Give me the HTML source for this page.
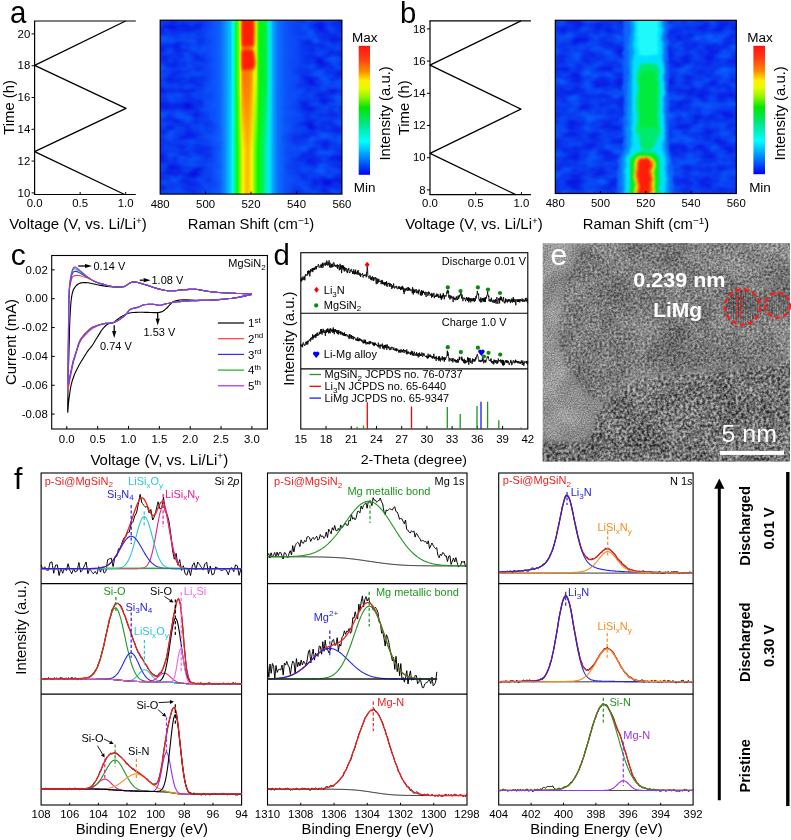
<!DOCTYPE html>
<html><head><meta charset="utf-8"><title>figure</title>
<style>html,body{margin:0;padding:0;background:#fff;} svg{display:block;will-change:transform;} text{font-family:"Liberation Sans", sans-serif;} filter{color-interpolation-filters:sRGB;}</style>
</head><body>
<svg width="791" height="840" viewBox="0 0 791 840" font-family='"Liberation Sans", sans-serif'>
<defs><linearGradient id="ga" gradientUnits="userSpaceOnUse" x1="160.2" y1="0" x2="341.9" y2="0"><stop offset="-0.0011" stop-color="rgb(8,54,240)" stop-opacity="0"/><stop offset="0.1915" stop-color="rgb(8,54,240)" stop-opacity="0"/><stop offset="0.2741" stop-color="rgb(14,80,252)" stop-opacity="0.45"/><stop offset="0.3291" stop-color="rgb(14,100,255)" stop-opacity="0.85"/><stop offset="0.3621" stop-color="rgb(10,150,255)"/><stop offset="0.3869" stop-color="rgb(0,200,255)"/><stop offset="0.3979" stop-color="rgb(0,245,255)"/><stop offset="0.4089" stop-color="rgb(0,255,160)"/><stop offset="0.4172" stop-color="rgb(0,250,40)"/><stop offset="0.4309" stop-color="rgb(90,255,0)"/><stop offset="0.4419" stop-color="rgb(255,250,0)"/><stop offset="0.4502" stop-color="rgb(255,160,0)"/><stop offset="0.4612" stop-color="rgb(255,110,0)"/><stop offset="0.4887" stop-color="rgb(255,115,0)"/><stop offset="0.5052" stop-color="rgb(255,170,0)"/><stop offset="0.5162" stop-color="rgb(255,240,0)"/><stop offset="0.5300" stop-color="rgb(190,255,0)"/><stop offset="0.5382" stop-color="rgb(60,250,0)"/><stop offset="0.5493" stop-color="rgb(0,245,20)"/><stop offset="0.5823" stop-color="rgb(0,240,60)"/><stop offset="0.5960" stop-color="rgb(0,240,200)"/><stop offset="0.6098" stop-color="rgb(0,220,255)"/><stop offset="0.6208" stop-color="rgb(0,165,255)"/><stop offset="0.6483" stop-color="rgb(14,110,255)"/><stop offset="0.6924" stop-color="rgb(12,85,250)" stop-opacity="0.8"/><stop offset="0.7474" stop-color="rgb(12,75,248)" stop-opacity="0.45"/><stop offset="0.8244" stop-color="rgb(8,54,240)" stop-opacity="0"/><stop offset="1.0006" stop-color="rgb(8,54,240)" stop-opacity="0"/></linearGradient><linearGradient id="ga2" gradientUnits="userSpaceOnUse" x1="160.2" y1="0" x2="341.9" y2="0"><stop offset="-0.0011" stop-color="rgb(8,54,240)" stop-opacity="0"/><stop offset="0.1915" stop-color="rgb(8,54,240)" stop-opacity="0"/><stop offset="0.2741" stop-color="rgb(14,80,252)" stop-opacity="0.45"/><stop offset="0.3291" stop-color="rgb(14,100,255)" stop-opacity="0.85"/><stop offset="0.3621" stop-color="rgb(10,150,255)"/><stop offset="0.3841" stop-color="rgb(0,205,255)"/><stop offset="0.3979" stop-color="rgb(0,245,255)"/><stop offset="0.4117" stop-color="rgb(0,250,120)"/><stop offset="0.4227" stop-color="rgb(0,250,20)"/><stop offset="0.4392" stop-color="rgb(120,255,0)"/><stop offset="0.4529" stop-color="rgb(250,250,0)"/><stop offset="0.4722" stop-color="rgb(255,220,0)"/><stop offset="0.4832" stop-color="rgb(255,210,0)"/><stop offset="0.5025" stop-color="rgb(255,245,0)"/><stop offset="0.5107" stop-color="rgb(190,255,0)"/><stop offset="0.5217" stop-color="rgb(100,255,0)"/><stop offset="0.5382" stop-color="rgb(0,250,20)"/><stop offset="0.5603" stop-color="rgb(0,245,60)"/><stop offset="0.5823" stop-color="rgb(0,240,190)"/><stop offset="0.6015" stop-color="rgb(0,230,255)"/><stop offset="0.6208" stop-color="rgb(0,165,255)"/><stop offset="0.6483" stop-color="rgb(14,110,255)"/><stop offset="0.6924" stop-color="rgb(12,85,250)" stop-opacity="0.8"/><stop offset="0.7474" stop-color="rgb(12,75,248)" stop-opacity="0.45"/><stop offset="0.8244" stop-color="rgb(8,54,240)" stop-opacity="0"/><stop offset="1.0006" stop-color="rgb(8,54,240)" stop-opacity="0"/></linearGradient><linearGradient id="fadeA" gradientUnits="userSpaceOnUse" x1="0" y1="20" x2="0" y2="194"><stop offset="0" stop-color="#fff"/><stop offset="0.35" stop-color="#fff"/><stop offset="0.75" stop-color="#000"/><stop offset="1" stop-color="#000"/></linearGradient><mask id="mA"><rect x="150" y="15" width="200" height="185" fill="url(#fadeA)"/></mask><linearGradient id="gared" gradientUnits="userSpaceOnUse" x1="160.2" y1="0" x2="341.9" y2="0"><stop offset="0.4282" stop-color="rgb(255,120,0)"/><stop offset="0.4447" stop-color="rgb(255,60,0)"/><stop offset="0.4612" stop-color="rgb(255,25,10)"/><stop offset="0.4942" stop-color="rgb(255,25,10)"/><stop offset="0.5107" stop-color="rgb(255,70,0)"/><stop offset="0.5272" stop-color="rgb(255,150,0)"/></linearGradient><clipPath id="cpa"><rect x="160.2" y="20.2" width="181.7" height="173.9"/></clipPath><clipPath id="cpb"><rect x="555.3" y="20.3" width="181" height="173.2"/></clipPath><filter id="bl2" x="-10%" y="-10%" width="120%" height="120%"><feGaussianBlur stdDeviation="1.6"/></filter><filter id="mot" x="-10%" y="-10%" width="120%" height="120%"><feTurbulence type="fractalNoise" baseFrequency="0.12" numOctaves="2" seed="5" result="t"/><feDisplacementMap in="SourceGraphic" in2="t" scale="4" xChannelSelector="R" yChannelSelector="G" result="d"/><feGaussianBlur in="d" stdDeviation="1.3"/></filter><filter id="bgn" x="0" y="0" width="100%" height="100%"><feTurbulence type="fractalNoise" baseFrequency="0.06 0.09" numOctaves="2" seed="8"/><feColorMatrix type="matrix" values="0 0 0 0 0.03  0.4 0 0 0 0.02  0.14 0 0 0 0.87  0 0 0 0 1"/></filter><filter id="bl1" x="-10%" y="-10%" width="120%" height="120%"><feGaussianBlur stdDeviation="1.0"/></filter><filter id="noiseblue" x="0" y="0" width="100%" height="100%"><feTurbulence type="fractalNoise" baseFrequency="0.09 0.12" numOctaves="2" seed="3"/><feColorMatrix type="matrix" values="0 0 0 0 0.1  0 0 0 0 0.35  0 0 0 0 1  0 0 0 -2.2 1.35"/></filter><linearGradient id="cba" gradientUnits="userSpaceOnUse" x1="0" y1="45.8" x2="0" y2="174.8"><stop offset="0.0000" stop-color="rgb(255,20,20)"/><stop offset="0.1000" stop-color="rgb(255,60,20)"/><stop offset="0.2000" stop-color="rgb(255,140,0)"/><stop offset="0.2700" stop-color="rgb(255,240,0)"/><stop offset="0.3300" stop-color="rgb(230,250,0)"/><stop offset="0.4000" stop-color="rgb(140,245,0)"/><stop offset="0.4800" stop-color="rgb(0,230,0)"/><stop offset="0.6000" stop-color="rgb(0,230,130)"/><stop offset="0.7400" stop-color="rgb(0,255,255)"/><stop offset="0.8600" stop-color="rgb(0,140,255)"/><stop offset="1.0000" stop-color="rgb(0,0,255)"/></linearGradient><linearGradient id="cbb" gradientUnits="userSpaceOnUse" x1="0" y1="45.8" x2="0" y2="174.2"><stop offset="0.0000" stop-color="rgb(255,20,20)"/><stop offset="0.1000" stop-color="rgb(255,60,20)"/><stop offset="0.2000" stop-color="rgb(255,140,0)"/><stop offset="0.2700" stop-color="rgb(255,240,0)"/><stop offset="0.3300" stop-color="rgb(230,250,0)"/><stop offset="0.4000" stop-color="rgb(140,245,0)"/><stop offset="0.4800" stop-color="rgb(0,230,0)"/><stop offset="0.6000" stop-color="rgb(0,230,130)"/><stop offset="0.7400" stop-color="rgb(0,255,255)"/><stop offset="0.8600" stop-color="rgb(0,140,255)"/><stop offset="1.0000" stop-color="rgb(0,0,255)"/></linearGradient><filter id="nzM" x="0" y="0" width="100%" height="100%"><feTurbulence type="fractalNoise" baseFrequency="0.035" numOctaves="2" seed="21"/><feColorMatrix type="matrix" values="2 0 0 0 -0.5  2 0 0 0 -0.5  2 0 0 0 -0.5  0 0 0 0 1"/></filter><clipPath id="cpe"><rect x="542.6" y="243.2" width="247.3" height="218.4"/></clipPath><filter id="blE" x="-20%" y="-20%" width="140%" height="140%"><feGaussianBlur stdDeviation="4"/></filter><filter id="blE2" x="-20%" y="-20%" width="140%" height="140%"><feGaussianBlur stdDeviation="2"/></filter><filter id="nzF" x="0" y="0" width="100%" height="100%"><feTurbulence type="fractalNoise" baseFrequency="0.42" numOctaves="3" seed="4"/><feColorMatrix type="matrix" values="1.8 0 0 0 -0.4  1.8 0 0 0 -0.4  1.8 0 0 0 -0.4  0 0 0 0 1"/><feGaussianBlur stdDeviation="0.45"/></filter><filter id="nzC" x="0" y="0" width="100%" height="100%"><feTurbulence type="fractalNoise" baseFrequency="0.36" numOctaves="2" seed="9"/><feColorMatrix type="matrix" values="2.0 0 0 0 -0.5  2.0 0 0 0 -0.5  2.0 0 0 0 -0.5  0 0 0 0 1"/><feGaussianBlur stdDeviation="0.5"/></filter><filter id="nzL" x="0" y="0" width="100%" height="100%"><feTurbulence type="fractalNoise" baseFrequency="0.7" numOctaves="2" seed="2"/><feColorMatrix type="matrix" values="2 0 0 0 -0.5  2 0 0 0 -0.5  2 0 0 0 -0.5  0 0 0 0 1"/></filter><mask id="mMain"><rect x="530" y="230" width="270" height="240" fill="#000"/><path d="M592,236 L588,243 C578,255 568,272 563,292 C559,310 558,330 560,348 C562,362 570,376 580,386 C587,394 595,400 600,403 L604,405 C612,395 622,386 632,381 C650,375 680,373 710,372 C740,370 770,364 800,356 L800,236 Z" fill="#fff" filter="url(#blE2)"/></mask><mask id="mBot"><rect x="530" y="230" width="270" height="240" fill="#000"/><path d="M604,405 C612,395 622,386 632,381 C650,375 680,373 710,372 C740,370 770,364 800,356 L800,470 L588,470 L590,440 C592,425 597,412 604,405 Z" fill="#fff" filter="url(#blE2)"/><path d="M535,443 L592,440 L590,470 L535,470 Z" fill="#fff" filter="url(#blE2)"/></mask><clipPath id="cc1"><circle cx="742.5" cy="307.0" r="16.5"/></clipPath><clipPath id="cc2"><circle cx="777.6" cy="305.2" r="11.2"/></clipPath></defs>
<rect x="0" y="0" width="791" height="840" fill="#fff"/>
<line x1="34.60" y1="21.00" x2="34.60" y2="194.50" stroke="#000" stroke-width="1.2" />
<line x1="34.00" y1="194.50" x2="135.80" y2="194.50" stroke="#000" stroke-width="1.2" />
<line x1="34.00" y1="21.00" x2="135.80" y2="21.00" stroke="#000" stroke-width="1.2" />
<line x1="31.60" y1="192.90" x2="34.60" y2="192.90" stroke="#000" stroke-width="1.0" />
<text x="30.30" y="196.70" font-size="11.4" text-anchor="end" fill="#000" transform="matrix(1.0,0,0,0.95,0.000,9.835)">10</text>
<line x1="31.60" y1="161.10" x2="34.60" y2="161.10" stroke="#000" stroke-width="1.0" />
<text x="30.30" y="164.90" font-size="11.4" text-anchor="end" fill="#000" transform="matrix(1.0,0,0,0.95,0.000,8.245)">12</text>
<line x1="31.60" y1="129.30" x2="34.60" y2="129.30" stroke="#000" stroke-width="1.0" />
<text x="30.30" y="133.10" font-size="11.4" text-anchor="end" fill="#000" transform="matrix(1.0,0,0,0.95,0.000,6.655)">14</text>
<line x1="31.60" y1="97.50" x2="34.60" y2="97.50" stroke="#000" stroke-width="1.0" />
<text x="30.30" y="101.30" font-size="11.4" text-anchor="end" fill="#000" transform="matrix(1.0,0,0,0.95,0.000,5.065)">16</text>
<line x1="31.60" y1="65.70" x2="34.60" y2="65.70" stroke="#000" stroke-width="1.0" />
<text x="30.30" y="69.50" font-size="11.4" text-anchor="end" fill="#000" transform="matrix(1.0,0,0,0.95,0.000,3.475)">18</text>
<line x1="31.60" y1="33.90" x2="34.60" y2="33.90" stroke="#000" stroke-width="1.0" />
<text x="30.30" y="37.70" font-size="11.4" text-anchor="end" fill="#000" transform="matrix(1.0,0,0,0.95,0.000,1.885)">20</text>
<text x="34.60" y="206.70" font-size="11.4" text-anchor="middle" fill="#000" transform="matrix(1.0,0,0,0.95,0.000,10.335)">0.0</text>
<line x1="80.15" y1="194.50" x2="80.15" y2="192.00" stroke="#000" stroke-width="1.0" />
<text x="80.15" y="206.70" font-size="11.4" text-anchor="middle" fill="#000" transform="matrix(1.0,0,0,0.95,0.000,10.335)">0.5</text>
<line x1="125.70" y1="194.50" x2="125.70" y2="192.00" stroke="#000" stroke-width="1.0" />
<text x="125.70" y="206.70" font-size="11.4" text-anchor="middle" fill="#000" transform="matrix(1.0,0,0,0.95,0.000,10.335)">1.0</text>
<path d="M125.6,21.0 34.6,65.3 126.0,108.4 34.6,151.6 124.6,194.5" stroke="#000" stroke-width="1.3" fill="none" stroke-linejoin="round" />
<text x="13.90" y="107.40" font-size="14.9" text-anchor="middle" fill="#000" transform="rotate(-90 13.90 107.40)">Time (h)</text>
<text x="77.70" y="228.50" font-size="14.5" text-anchor="start" fill="#000" transform="matrix(1.0,0,0,0.95,0.000,11.425)"></text>
<text x="78.00" y="228.80" font-size="15.0" text-anchor="middle" fill="#000" transform="matrix(1.0,0,0,0.95,0.000,11.440)">Voltage (V, vs. Li/Li<tspan font-size="10" dy="-5.5">+</tspan><tspan dy="5.5">)</tspan></text>
<text x="9.90" y="22.70" font-size="31" text-anchor="start" fill="#000" transform="matrix(0.95,0,0,1.0,0.495,0.000)">a</text>
<line x1="430.00" y1="20.90" x2="430.00" y2="194.60" stroke="#000" stroke-width="1.2" />
<line x1="429.40" y1="194.60" x2="530.90" y2="194.60" stroke="#000" stroke-width="1.2" />
<line x1="429.40" y1="20.90" x2="530.90" y2="20.90" stroke="#000" stroke-width="1.2" />
<line x1="427.00" y1="189.90" x2="430.00" y2="189.90" stroke="#000" stroke-width="1.0" />
<text x="425.70" y="193.70" font-size="11.4" text-anchor="end" fill="#000" transform="matrix(1.0,0,0,0.95,0.000,9.685)">8</text>
<line x1="427.00" y1="157.70" x2="430.00" y2="157.70" stroke="#000" stroke-width="1.0" />
<text x="425.70" y="161.50" font-size="11.4" text-anchor="end" fill="#000" transform="matrix(1.0,0,0,0.95,0.000,8.075)">10</text>
<line x1="427.00" y1="125.50" x2="430.00" y2="125.50" stroke="#000" stroke-width="1.0" />
<text x="425.70" y="129.30" font-size="11.4" text-anchor="end" fill="#000" transform="matrix(1.0,0,0,0.95,0.000,6.465)">12</text>
<line x1="427.00" y1="93.30" x2="430.00" y2="93.30" stroke="#000" stroke-width="1.0" />
<text x="425.70" y="97.10" font-size="11.4" text-anchor="end" fill="#000" transform="matrix(1.0,0,0,0.95,0.000,4.855)">14</text>
<line x1="427.00" y1="61.10" x2="430.00" y2="61.10" stroke="#000" stroke-width="1.0" />
<text x="425.70" y="64.90" font-size="11.4" text-anchor="end" fill="#000" transform="matrix(1.0,0,0,0.95,0.000,3.245)">16</text>
<line x1="427.00" y1="28.90" x2="430.00" y2="28.90" stroke="#000" stroke-width="1.0" />
<text x="425.70" y="32.70" font-size="11.4" text-anchor="end" fill="#000" transform="matrix(1.0,0,0,0.95,0.000,1.635)">18</text>
<text x="430.00" y="206.80" font-size="11.4" text-anchor="middle" fill="#000" transform="matrix(1.0,0,0,0.95,0.000,10.340)">0.0</text>
<line x1="475.70" y1="194.60" x2="475.70" y2="192.10" stroke="#000" stroke-width="1.0" />
<text x="475.70" y="206.80" font-size="11.4" text-anchor="middle" fill="#000" transform="matrix(1.0,0,0,0.95,0.000,10.340)">0.5</text>
<line x1="521.40" y1="194.60" x2="521.40" y2="192.10" stroke="#000" stroke-width="1.0" />
<text x="521.40" y="206.80" font-size="11.4" text-anchor="middle" fill="#000" transform="matrix(1.0,0,0,0.95,0.000,10.340)">1.0</text>
<path d="M520.9,20.9 430.0,65.1 520.9,109.1 430.0,153.4 515.7,194.6" stroke="#000" stroke-width="1.3" fill="none" stroke-linejoin="round" />
<text x="409.00" y="107.80" font-size="14.9" text-anchor="middle" fill="#000" transform="rotate(-90 409.00 107.80)">Time (h)</text>
<text x="472.95" y="228.50" font-size="14.5" text-anchor="start" fill="#000" transform="matrix(1.0,0,0,0.95,0.000,11.425)"></text>
<text x="474.00" y="228.80" font-size="15.0" text-anchor="middle" fill="#000" transform="matrix(1.0,0,0,0.95,0.000,11.440)">Voltage (V, vs. Li/Li<tspan font-size="10" dy="-5.5">+</tspan><tspan dy="5.5">)</tspan></text>
<text x="399.90" y="22.50" font-size="29.3" text-anchor="start" fill="#000">b</text>
<g clip-path="url(#cpa)">
<rect x="160.20" y="20.20" width="181.70" height="173.90" fill="rgb(8,54,240)" stroke="none" stroke-width="1.0" />
<rect x="160.20" y="20.20" width="181.70" height="173.90" fill="none" stroke="none" stroke-width="1.0" filter="url(#bgn)"/>
<rect x="160.20" y="20.20" width="181.70" height="173.90" fill="url(#ga2)" stroke="none" stroke-width="1.0" />
<rect x="160.20" y="20.20" width="181.70" height="173.90" fill="url(#ga)" stroke="none" stroke-width="1.0" mask="url(#mA)"/>
<g filter="url(#bl2)">
<path d="M241.8,15 L254.2,15 L254.5,30 L254,46.5 L242,46.5 L241.5,30 Z" fill="rgb(255,30,5)"/>
<path d="M241.8,50 L253.5,50 L255.5,63 L254,69.5 L242,70 L241.5,60 Z" fill="rgb(255,30,5)"/>
<path d="M243.5,70 L250.5,70 L249.5,130 L248.5,196 L245.5,196 L245,130 Z" fill="rgb(255,140,0)" opacity="0.45"/>
</g>
</g>
<rect x="160.20" y="20.20" width="181.70" height="173.90" fill="none" stroke="#000" stroke-width="1.2" />
<line x1="205.62" y1="194.10" x2="205.62" y2="191.60" stroke="#000" stroke-width="1.0" />
<line x1="251.05" y1="194.10" x2="251.05" y2="191.60" stroke="#000" stroke-width="1.0" />
<line x1="296.48" y1="194.10" x2="296.48" y2="191.60" stroke="#000" stroke-width="1.0" />
<text x="160.20" y="207.70" font-size="11.4" text-anchor="middle" fill="#000" transform="matrix(1.0,0,0,0.95,0.000,10.385)">480</text>
<text x="205.62" y="207.70" font-size="11.4" text-anchor="middle" fill="#000" transform="matrix(1.0,0,0,0.95,0.000,10.385)">500</text>
<text x="251.05" y="207.70" font-size="11.4" text-anchor="middle" fill="#000" transform="matrix(1.0,0,0,0.95,0.000,10.385)">520</text>
<text x="296.48" y="207.70" font-size="11.4" text-anchor="middle" fill="#000" transform="matrix(1.0,0,0,0.95,0.000,10.385)">540</text>
<text x="341.90" y="207.70" font-size="11.4" text-anchor="middle" fill="#000" transform="matrix(1.0,0,0,0.95,0.000,10.385)">560</text>
<text x="251.00" y="229.50" font-size="14.8" text-anchor="middle" fill="#000" transform="matrix(1.0,0,0,0.95,0.000,11.475)">Raman Shift (cm<tspan font-size="10" dy="-5.5">−1</tspan><tspan dy="5.5">)</tspan></text>
<rect x="358.70" y="45.80" width="11.30" height="129.00" fill="url(#cba)" stroke="none" stroke-width="1.0" />
<text x="364.70" y="42.50" font-size="13.5" text-anchor="middle" fill="#000" transform="matrix(1.0,0,0,0.95,0.000,2.125)">Max</text>
<text x="364.70" y="191.70" font-size="13.5" text-anchor="middle" fill="#000" transform="matrix(1.0,0,0,0.95,0.000,9.585)">Min</text>
<text x="390.00" y="113.40" font-size="14.9" text-anchor="middle" fill="#000" transform="rotate(-90 390.00 113.40)">Intensity (a.u.)</text>
<g clip-path="url(#cpb)">
<rect x="555.30" y="20.30" width="181.00" height="173.20" fill="rgb(8,54,240)" stroke="none" stroke-width="1.0" />
<rect x="555.30" y="20.30" width="181.00" height="173.20" fill="none" stroke="none" stroke-width="1.0" filter="url(#bgn)"/>
<g filter="url(#mot)">
<path d="M624,15 L668,15 L669,150 L673,160 L673,200 L617,200 L618,160 L623,150 Z" fill="rgb(14,100,252)"/>
<path d="M630,15 L664,15 L666,148 L669,160 L669,200 L621,200 L622,160 L626,148 Z" fill="rgb(0,150,255)"/>
<path d="M635,15 L661,15 L663,60 L664.5,70 L664,135 L661,150 L665.5,158 L665.5,200 L625,200 L625.5,158 L630,150 L632,135 L632,70 L633,60 Z" fill="rgb(0,225,255)"/>
<path d="M638.5,15 L657.5,15 L658,55 L638,55 Z" fill="rgb(40,255,250)" opacity="0.8"/>
<path d="M637,72 Q637,63 648,63 Q659.5,63 659.5,72 L659.5,132 L656,142 L655,150 L641,150 L639,142 L636.5,132 Z" fill="rgb(0,235,110)"/>
<path d="M639,80 Q640,70 648,70 Q657,70 657,80 L656.5,128 L640,128 Z" fill="rgb(0,235,60)"/>
<path d="M630,162 Q631,152 645,151.5 Q659.5,152 659.5,162 L659.5,200 L630,200 Z" fill="rgb(0,235,40)"/>
<path d="M634.5,163 Q635,156 644,156 Q654.5,156 654.5,163 L654.5,200 L634.5,200 Z" fill="rgb(255,235,0)"/>
<path d="M636.5,164 Q637,157.5 644,157.5 Q652.5,157.5 652.5,164 L652,200 L636.5,200 Z" fill="rgb(255,120,0)"/>
<path d="M638.2,165 Q638.5,159 644,159 Q650.5,159 650.5,165 L649.5,200 L639,200 Z" fill="rgb(255,30,10)"/>
</g>
</g>
<rect x="555.30" y="20.30" width="181.00" height="173.20" fill="none" stroke="#000" stroke-width="1.2" />
<line x1="600.55" y1="193.50" x2="600.55" y2="191.00" stroke="#000" stroke-width="1.0" />
<line x1="645.80" y1="193.50" x2="645.80" y2="191.00" stroke="#000" stroke-width="1.0" />
<line x1="691.05" y1="193.50" x2="691.05" y2="191.00" stroke="#000" stroke-width="1.0" />
<text x="555.30" y="207.30" font-size="11.4" text-anchor="middle" fill="#000" transform="matrix(1.0,0,0,0.95,0.000,10.365)">480</text>
<text x="600.55" y="207.30" font-size="11.4" text-anchor="middle" fill="#000" transform="matrix(1.0,0,0,0.95,0.000,10.365)">500</text>
<text x="645.80" y="207.30" font-size="11.4" text-anchor="middle" fill="#000" transform="matrix(1.0,0,0,0.95,0.000,10.365)">520</text>
<text x="691.05" y="207.30" font-size="11.4" text-anchor="middle" fill="#000" transform="matrix(1.0,0,0,0.95,0.000,10.365)">540</text>
<text x="736.30" y="207.30" font-size="11.4" text-anchor="middle" fill="#000" transform="matrix(1.0,0,0,0.95,0.000,10.365)">560</text>
<text x="646.00" y="229.50" font-size="14.8" text-anchor="middle" fill="#000" transform="matrix(1.0,0,0,0.95,0.000,11.475)">Raman Shift (cm<tspan font-size="10" dy="-5.5">−1</tspan><tspan dy="5.5">)</tspan></text>
<rect x="753.40" y="45.80" width="11.60" height="128.40" fill="url(#cbb)" stroke="none" stroke-width="1.0" />
<text x="760.00" y="42.50" font-size="13.5" text-anchor="middle" fill="#000" transform="matrix(1.0,0,0,0.95,0.000,2.125)">Max</text>
<text x="760.00" y="191.70" font-size="13.5" text-anchor="middle" fill="#000" transform="matrix(1.0,0,0,0.95,0.000,9.585)">Min</text>
<text x="784.90" y="113.40" font-size="14.9" text-anchor="middle" fill="#000" transform="rotate(-90 784.90 113.40)">Intensity (a.u.)</text>
<rect x="51.70" y="255.50" width="215.70" height="173.50" fill="none" stroke="#000" stroke-width="1.1" />
<line x1="66.80" y1="429.00" x2="66.80" y2="426.00" stroke="#000" stroke-width="1.0" />
<text x="66.80" y="442.60" font-size="11.4" text-anchor="middle" fill="#000" transform="matrix(1.0,0,0,0.95,0.000,22.130)">0.0</text>
<line x1="97.65" y1="429.00" x2="97.65" y2="426.00" stroke="#000" stroke-width="1.0" />
<text x="97.65" y="442.60" font-size="11.4" text-anchor="middle" fill="#000" transform="matrix(1.0,0,0,0.95,0.000,22.130)">0.5</text>
<line x1="128.50" y1="429.00" x2="128.50" y2="426.00" stroke="#000" stroke-width="1.0" />
<text x="128.50" y="442.60" font-size="11.4" text-anchor="middle" fill="#000" transform="matrix(1.0,0,0,0.95,0.000,22.130)">1.0</text>
<line x1="159.35" y1="429.00" x2="159.35" y2="426.00" stroke="#000" stroke-width="1.0" />
<text x="159.35" y="442.60" font-size="11.4" text-anchor="middle" fill="#000" transform="matrix(1.0,0,0,0.95,0.000,22.130)">1.5</text>
<line x1="190.20" y1="429.00" x2="190.20" y2="426.00" stroke="#000" stroke-width="1.0" />
<text x="190.20" y="442.60" font-size="11.4" text-anchor="middle" fill="#000" transform="matrix(1.0,0,0,0.95,0.000,22.130)">2.0</text>
<line x1="221.05" y1="429.00" x2="221.05" y2="426.00" stroke="#000" stroke-width="1.0" />
<text x="221.05" y="442.60" font-size="11.4" text-anchor="middle" fill="#000" transform="matrix(1.0,0,0,0.95,0.000,22.130)">2.5</text>
<line x1="251.90" y1="429.00" x2="251.90" y2="426.00" stroke="#000" stroke-width="1.0" />
<text x="251.90" y="442.60" font-size="11.4" text-anchor="middle" fill="#000" transform="matrix(1.0,0,0,0.95,0.000,22.130)">3.0</text>
<line x1="51.70" y1="269.85" x2="54.70" y2="269.85" stroke="#000" stroke-width="1.0" />
<text x="47.80" y="273.65" font-size="11.4" text-anchor="end" fill="#000" transform="matrix(1.0,0,0,0.95,0.000,13.683)">0.02</text>
<line x1="51.70" y1="298.70" x2="54.70" y2="298.70" stroke="#000" stroke-width="1.0" />
<text x="47.80" y="302.50" font-size="11.4" text-anchor="end" fill="#000" transform="matrix(1.0,0,0,0.95,0.000,15.125)">0.00</text>
<line x1="51.70" y1="327.55" x2="54.70" y2="327.55" stroke="#000" stroke-width="1.0" />
<text x="47.80" y="331.35" font-size="11.4" text-anchor="end" fill="#000" transform="matrix(1.0,0,0,0.95,0.000,16.568)">-0.02</text>
<line x1="51.70" y1="356.40" x2="54.70" y2="356.40" stroke="#000" stroke-width="1.0" />
<text x="47.80" y="360.20" font-size="11.4" text-anchor="end" fill="#000" transform="matrix(1.0,0,0,0.95,0.000,18.010)">-0.04</text>
<line x1="51.70" y1="385.25" x2="54.70" y2="385.25" stroke="#000" stroke-width="1.0" />
<text x="47.80" y="389.05" font-size="11.4" text-anchor="end" fill="#000" transform="matrix(1.0,0,0,0.95,0.000,19.453)">-0.06</text>
<line x1="51.70" y1="414.10" x2="54.70" y2="414.10" stroke="#000" stroke-width="1.0" />
<text x="47.80" y="417.90" font-size="11.4" text-anchor="end" fill="#000" transform="matrix(1.0,0,0,0.95,0.000,20.895)">-0.08</text>
<text x="159.30" y="464.70" font-size="15.0" text-anchor="middle" fill="#000" transform="matrix(1.0,0,0,0.95,0.000,23.235)">Voltage (V, vs. Li/Li<tspan font-size="10" dy="-5.5">+</tspan><tspan dy="5.5">)</tspan></text>
<text x="15.80" y="342.00" font-size="14.9" text-anchor="middle" fill="#000" transform="rotate(-90 15.80 342.00)">Current (mA)</text>
<text x="10.80" y="265.00" font-size="30" text-anchor="start" fill="#000">c</text>
<text x="265.70" y="267.40" font-size="11" text-anchor="end" fill="#000" transform="matrix(1.0,0,0,0.95,0.000,13.370)">MgSiN<tspan font-size="8" dy="3">2</tspan></text>
<path d="M251.9,294.4 249.1,295.0 245.1,295.9 240.6,296.9 236.2,297.7 231.9,298.3 227.5,298.8 223.0,299.2 218.5,299.6 214.1,299.9 209.6,300.2 205.1,300.3 200.7,300.4 196.1,300.3 191.3,300.1 186.9,299.9 183.1,299.9 180.1,300.0 177.8,300.4 175.9,300.8 174.2,301.3 173.0,301.8 172.2,302.4 171.6,303.0 170.7,303.9 169.5,305.1 168.3,306.5 166.9,308.0 165.5,309.2 164.2,310.3 162.8,311.2 161.3,311.9 159.4,312.4 156.8,312.6 153.7,312.6 150.6,312.5 147.7,312.4 145.2,312.4 143.0,312.3 140.8,312.2 138.5,312.3 136.0,312.4 133.3,312.5 130.8,312.8 128.4,313.3 126.3,314.0 124.4,314.9 122.6,315.9 120.8,317.0 118.8,318.4 116.8,320.0 114.9,321.5 113.2,322.6 111.8,323.2 110.5,323.4 109.4,323.5 108.2,323.9 106.9,324.8 105.6,325.8 104.4,327.0 103.1,328.4 101.8,330.0 100.6,331.9 99.4,333.9 98.0,336.1 96.5,338.5 94.8,341.3 93.2,344.0 91.7,346.2 90.6,347.7 89.7,348.7 88.8,349.7 87.9,350.9 86.8,352.5 85.7,354.2 84.6,356.0 83.5,357.8 82.4,359.6 81.3,361.3 80.3,363.0 79.1,365.1 77.9,367.4 76.6,369.9 75.3,372.6 74.2,375.2 73.3,377.7 72.4,380.2 71.7,382.8 71.1,385.2 70.6,387.7 70.2,390.1 69.9,392.4 69.6,394.6 69.3,396.7 69.0,398.6 68.8,400.5 68.5,402.6 68.3,405.7 68.0,409.6 67.8,412.3 67.7,411.9 67.7,407.3 67.8,399.8 68.0,390.9 68.2,382.4 68.3,374.6 68.5,366.6 68.8,358.4 69.0,349.9 69.3,340.6 69.5,330.7 69.8,321.2 70.2,313.1 70.6,306.9 71.0,301.8 71.5,297.7 72.1,294.2 72.8,291.5 73.5,289.5 74.4,288.1 75.3,286.7 76.4,285.5 77.5,284.5 78.8,283.7 80.3,283.1 81.9,282.7 83.6,282.6 85.6,282.6 87.9,282.8 90.7,283.3 93.9,284.0 97.3,284.8 100.6,285.4 103.8,285.9 107.1,286.4 110.2,286.8 113.2,287.0 116.1,287.1 118.8,287.1 121.3,287.0 123.3,286.7 124.7,286.4 125.6,285.9 126.3,285.4 127.1,284.9 128.0,284.3 129.0,283.6 129.9,283.0 130.9,282.5 131.9,282.2 133.0,282.0 134.1,281.9 135.3,282.0 136.6,282.2 137.9,282.5 139.3,283.0 140.8,283.4 142.3,283.8 143.7,284.2 145.4,284.7 147.7,285.4 150.8,286.4 154.5,287.7 158.4,288.9 161.9,289.8 164.8,290.3 167.4,290.6 169.9,290.7 172.5,290.8 175.1,290.6 177.7,290.4 180.3,290.0 183.1,289.8 186.2,289.6 189.4,289.4 192.6,289.3 195.5,289.3 197.8,289.5 199.8,289.9 201.8,290.3 204.3,290.8 207.4,291.2 210.9,291.7 214.6,292.1 218.5,292.5 222.7,292.8 227.2,293.0 231.8,293.2 236.2,293.4 240.6,293.5 245.1,293.6 249.1,293.6 251.9,293.7" stroke="#000000" stroke-width="1.1" fill="none" stroke-linejoin="round" />
<path d="M251.9,294.4 249.1,295.0 245.1,295.9 240.6,296.9 236.2,297.7 231.9,298.3 227.5,298.8 223.0,299.2 218.5,299.6 214.1,299.9 209.6,300.1 205.1,300.2 200.7,300.4 196.1,300.6 191.4,300.8 187.0,301.1 183.1,301.3 179.9,301.6 177.1,301.8 174.7,302.1 172.5,302.5 170.5,302.8 168.7,303.2 167.1,303.5 165.5,303.9 164.1,304.3 162.8,304.8 161.5,305.1 160.1,305.3 158.5,305.2 156.8,304.9 154.9,304.5 153.0,304.3 150.8,304.3 148.5,304.3 146.2,304.5 144.2,304.8 142.6,305.2 141.3,305.8 140.0,306.4 138.5,307.1 136.5,307.6 134.2,308.1 131.9,308.7 130.0,309.5 128.8,310.6 127.9,311.8 127.1,313.2 125.9,314.6 124.2,316.0 122.2,317.5 120.1,319.0 118.3,320.2 116.8,321.1 115.5,321.7 114.3,322.2 113.2,322.6 112.2,322.9 111.3,323.0 110.4,323.0 109.4,323.1 108.2,323.2 107.0,323.3 105.7,323.4 104.4,323.7 102.9,324.1 101.3,324.6 99.6,325.2 98.0,325.8 96.4,326.5 94.8,327.3 93.2,328.1 91.7,329.0 90.4,330.0 89.2,331.0 88.0,332.2 86.7,333.6 85.2,335.2 83.5,337.0 81.9,338.9 80.4,341.3 79.1,344.0 78.0,347.2 77.0,350.4 76.1,353.5 75.2,356.3 74.4,359.0 73.6,361.7 73.0,364.3 72.4,367.1 71.8,370.0 71.3,372.7 70.8,375.2 70.4,377.3 70.0,379.1 69.6,380.8 69.3,382.4 68.9,384.8 68.5,387.8 68.1,389.4 67.9,387.4 67.9,380.4 67.9,369.7 68.0,357.9 68.2,347.5 68.3,338.7 68.4,330.2 68.5,322.6 68.7,316.0 68.7,310.8 68.8,306.8 68.8,303.4 68.9,300.1 69.0,296.9 69.2,293.9 69.3,291.1 69.6,288.6 69.9,286.4 70.3,284.5 70.7,282.8 71.1,281.2 71.5,279.7 71.8,278.4 72.3,277.3 73.0,276.4 74.0,275.9 75.3,275.6 76.6,275.5 77.9,275.5 79.0,275.5 80.0,275.7 81.1,276.0 82.2,276.3 83.5,276.7 85.0,277.1 86.4,277.6 87.9,278.2 89.4,278.9 90.9,279.6 92.4,280.4 93.9,281.1 95.4,281.7 96.9,282.3 98.5,282.9 100.6,283.6 103.4,284.4 106.7,285.3 110.1,286.1 113.2,286.7 116.1,287.0 118.8,287.0 121.3,286.9 123.3,286.7 124.7,286.4 125.6,285.9 126.3,285.4 127.1,284.9 128.0,284.3 129.0,283.6 129.9,283.0 130.9,282.5 131.9,282.2 133.0,282.0 134.1,281.9 135.3,282.0 136.6,282.2 137.9,282.5 139.3,283.0 140.8,283.4 142.3,283.8 143.7,284.2 145.4,284.7 147.7,285.4 150.8,286.4 154.5,287.7 158.4,288.9 161.9,289.8 164.8,290.3 167.4,290.6 169.9,290.7 172.5,290.8 175.1,290.6 177.7,290.4 180.3,290.0 183.1,289.8 186.2,289.6 189.4,289.4 192.6,289.3 195.5,289.3 197.8,289.5 199.8,289.9 201.8,290.3 204.3,290.8 207.4,291.2 210.9,291.7 214.6,292.1 218.5,292.5 222.7,292.8 227.2,293.0 231.8,293.2 236.2,293.4 240.6,293.5 245.1,293.6 249.1,293.6 251.9,293.7" stroke="#ff3b3b" stroke-width="1.1" fill="none" stroke-linejoin="round" />
<path d="M251.9,294.4 249.1,295.0 245.1,295.9 240.6,296.9 236.2,297.7 231.9,298.3 227.5,298.8 223.0,299.2 218.5,299.6 214.1,299.9 209.6,300.1 205.1,300.2 200.7,300.4 196.1,300.6 191.4,300.8 187.0,301.1 183.1,301.3 179.9,301.6 177.1,301.8 174.7,302.1 172.5,302.5 170.5,302.8 168.7,303.2 167.1,303.5 165.5,303.9 164.1,304.3 162.8,304.8 161.5,305.1 160.1,305.3 158.5,305.2 156.8,304.9 154.9,304.5 153.0,304.3 150.8,304.3 148.5,304.3 146.2,304.5 144.2,304.8 142.6,305.2 141.3,305.8 140.0,306.4 138.5,307.1 136.5,307.6 134.2,308.1 131.9,308.7 130.0,309.5 128.8,310.6 127.9,311.8 127.1,313.2 125.9,314.6 124.2,316.0 122.2,317.5 120.1,319.0 118.3,320.2 116.8,321.1 115.5,321.7 114.3,322.2 113.2,322.6 112.2,322.9 111.3,323.0 110.4,323.0 109.4,323.1 108.2,323.2 107.0,323.3 105.7,323.4 104.4,323.7 102.9,324.0 101.3,324.3 99.6,324.8 98.0,325.2 96.4,325.8 94.8,326.4 93.2,327.0 91.7,327.8 90.4,328.7 89.2,329.7 88.0,330.8 86.7,332.2 85.2,333.7 83.5,335.5 81.9,337.5 80.4,339.8 79.1,342.6 78.0,345.8 77.0,349.1 76.1,352.1 75.2,354.7 74.4,357.3 73.6,359.7 73.0,362.2 72.4,364.8 71.8,367.4 71.3,370.0 70.8,372.3 70.4,374.2 70.0,375.9 69.6,377.4 69.3,378.8 68.9,381.0 68.6,383.7 68.3,385.0 68.2,383.1 68.1,376.4 68.2,366.2 68.3,355.0 68.4,345.1 68.5,336.9 68.5,329.2 68.6,322.1 68.7,316.0 68.7,311.1 68.7,307.1 68.8,303.6 68.9,300.1 69.0,296.5 69.2,293.1 69.3,289.8 69.6,286.9 69.9,284.3 70.3,282.0 70.7,280.0 71.1,278.2 71.5,276.4 71.9,274.9 72.4,273.5 73.0,272.5 73.6,271.9 74.4,271.5 75.2,271.4 76.1,271.4 77.0,271.6 77.9,272.0 79.0,272.6 80.4,273.3 82.1,274.2 84.0,275.3 86.0,276.4 87.9,277.5 89.5,278.5 91.0,279.4 92.4,280.3 93.9,281.1 95.4,281.8 96.9,282.4 98.5,282.9 100.6,283.6 103.4,284.4 106.7,285.3 110.1,286.1 113.2,286.7 116.1,287.0 118.8,287.0 121.3,286.9 123.3,286.7 124.7,286.4 125.6,285.9 126.3,285.4 127.1,284.9 128.0,284.3 129.0,283.6 129.9,283.0 130.9,282.5 131.9,282.2 133.0,282.0 134.1,281.9 135.3,282.0 136.6,282.2 137.9,282.5 139.3,283.0 140.8,283.4 142.3,283.8 143.7,284.2 145.4,284.7 147.7,285.4 150.8,286.4 154.5,287.7 158.4,288.9 161.9,289.8 164.8,290.3 167.4,290.6 169.9,290.7 172.5,290.8 175.1,290.6 177.7,290.4 180.3,290.0 183.1,289.8 186.2,289.6 189.4,289.4 192.6,289.3 195.5,289.3 197.8,289.5 199.8,289.9 201.8,290.3 204.3,290.8 207.4,291.2 210.9,291.7 214.6,292.1 218.5,292.5 222.7,292.8 227.2,293.0 231.8,293.2 236.2,293.4 240.6,293.5 245.1,293.6 249.1,293.6 251.9,293.7" stroke="#2a2aff" stroke-width="1.1" fill="none" stroke-linejoin="round" />
<path d="M251.9,294.4 249.1,295.0 245.1,295.9 240.6,296.9 236.2,297.7 231.9,298.3 227.5,298.8 223.0,299.2 218.5,299.6 214.1,299.9 209.6,300.1 205.1,300.2 200.7,300.4 196.1,300.6 191.4,300.8 187.0,301.1 183.1,301.3 179.9,301.6 177.1,301.8 174.7,302.1 172.5,302.5 170.5,302.8 168.7,303.2 167.1,303.5 165.5,303.9 164.1,304.3 162.8,304.8 161.5,305.1 160.1,305.3 158.5,305.2 156.8,304.9 154.9,304.5 153.0,304.3 150.8,304.3 148.5,304.3 146.2,304.5 144.2,304.8 142.6,305.2 141.3,305.8 140.0,306.4 138.5,307.1 136.5,307.6 134.2,308.1 131.9,308.7 130.0,309.5 128.8,310.6 127.9,311.8 127.1,313.2 125.9,314.6 124.2,316.0 122.2,317.5 120.1,319.0 118.3,320.2 116.8,321.1 115.5,321.7 114.3,322.2 113.2,322.6 112.2,322.9 111.3,323.0 110.4,323.0 109.4,323.1 108.2,323.2 107.0,323.3 105.7,323.4 104.4,323.7 102.9,324.0 101.3,324.3 99.6,324.8 98.0,325.2 96.4,325.8 94.8,326.4 93.2,327.0 91.7,327.8 90.4,328.7 89.2,329.7 88.0,330.8 86.7,332.2 85.2,333.7 83.5,335.5 81.9,337.5 80.4,339.8 79.1,342.6 78.0,345.8 77.0,349.1 76.1,352.1 75.2,354.7 74.4,357.3 73.6,359.7 73.0,362.2 72.4,364.8 71.8,367.4 71.3,370.0 70.8,372.3 70.4,374.2 70.0,375.9 69.6,377.4 69.3,378.8 68.9,381.0 68.6,383.7 68.3,385.0 68.2,383.1 68.1,376.4 68.2,366.2 68.3,355.0 68.4,345.1 68.5,336.9 68.5,329.2 68.6,322.1 68.7,316.0 68.7,311.1 68.7,307.2 68.8,303.7 68.9,300.1 69.0,296.3 69.2,292.5 69.3,289.0 69.6,285.7 69.9,282.9 70.3,280.5 70.7,278.2 71.1,276.2 71.5,274.3 72.0,272.6 72.5,271.1 73.0,270.0 73.5,269.3 74.0,268.9 74.7,268.8 75.4,268.8 76.3,269.1 77.2,269.7 78.4,270.4 79.8,271.4 81.6,272.7 83.7,274.3 85.9,275.9 87.9,277.4 89.5,278.5 91.0,279.4 92.4,280.3 93.9,281.1 95.4,281.8 96.9,282.4 98.5,282.9 100.6,283.6 103.4,284.4 106.7,285.3 110.1,286.1 113.2,286.7 116.1,287.0 118.8,287.0 121.3,286.9 123.3,286.7 124.7,286.4 125.6,285.9 126.3,285.4 127.1,284.9 128.0,284.3 129.0,283.6 129.9,283.0 130.9,282.5 131.9,282.2 133.0,282.0 134.1,281.9 135.3,282.0 136.6,282.2 137.9,282.5 139.3,283.0 140.8,283.4 142.3,283.8 143.7,284.2 145.4,284.7 147.7,285.4 150.8,286.4 154.5,287.7 158.4,288.9 161.9,289.8 164.8,290.3 167.4,290.6 169.9,290.7 172.5,290.8 175.1,290.6 177.7,290.4 180.3,290.0 183.1,289.8 186.2,289.6 189.4,289.4 192.6,289.3 195.5,289.3 197.8,289.5 199.8,289.9 201.8,290.3 204.3,290.8 207.4,291.2 210.9,291.7 214.6,292.1 218.5,292.5 222.7,292.8 227.2,293.0 231.8,293.2 236.2,293.4 240.6,293.5 245.1,293.6 249.1,293.6 251.9,293.7" stroke="#22a822" stroke-width="1.1" fill="none" stroke-linejoin="round" />
<path d="M251.9,294.4 249.1,295.0 245.1,295.9 240.6,296.9 236.2,297.7 231.9,298.3 227.5,298.8 223.0,299.2 218.5,299.6 214.1,299.9 209.6,300.1 205.1,300.2 200.7,300.4 196.1,300.6 191.4,300.8 187.0,301.1 183.1,301.3 179.9,301.6 177.1,301.8 174.7,302.1 172.5,302.5 170.5,302.8 168.7,303.2 167.1,303.5 165.5,303.9 164.1,304.3 162.8,304.8 161.5,305.1 160.1,305.3 158.5,305.2 156.8,304.9 154.9,304.5 153.0,304.3 150.8,304.3 148.5,304.3 146.2,304.5 144.2,304.8 142.6,305.2 141.3,305.8 140.0,306.4 138.5,307.1 136.5,307.6 134.2,308.1 131.9,308.7 130.0,309.5 128.8,310.6 127.9,311.8 127.1,313.2 125.9,314.6 124.2,316.0 122.2,317.5 120.1,319.0 118.3,320.2 116.8,321.1 115.5,321.7 114.3,322.2 113.2,322.6 112.2,322.9 111.3,323.0 110.4,323.0 109.4,323.1 108.2,323.2 107.0,323.3 105.7,323.4 104.4,323.7 102.9,324.0 101.3,324.3 99.6,324.8 98.0,325.2 96.4,325.8 94.8,326.4 93.2,327.0 91.7,327.8 90.4,328.7 89.2,329.7 88.0,330.8 86.7,332.2 85.2,333.7 83.5,335.5 81.9,337.5 80.4,339.8 79.1,342.6 78.0,345.8 77.0,349.1 76.1,352.1 75.2,354.7 74.4,357.3 73.6,359.7 73.0,362.2 72.4,364.8 71.8,367.4 71.3,370.0 70.8,372.3 70.4,374.2 70.0,375.9 69.6,377.4 69.3,378.8 68.9,381.0 68.6,383.7 68.3,385.0 68.2,383.1 68.1,376.4 68.2,366.2 68.3,355.0 68.4,345.1 68.5,336.9 68.5,329.2 68.6,322.1 68.7,316.0 68.7,311.1 68.7,307.2 68.8,303.7 68.9,300.1 69.0,296.2 69.2,292.2 69.3,288.4 69.6,285.0 69.9,282.0 70.3,279.4 70.7,277.1 71.1,274.9 71.5,272.9 72.0,271.1 72.5,269.6 73.0,268.4 73.5,267.6 74.0,267.1 74.6,267.0 75.3,267.1 76.2,267.5 77.1,268.1 78.2,269.0 79.6,270.1 81.5,271.7 83.7,273.6 85.9,275.6 87.9,277.2 89.6,278.4 91.0,279.4 92.4,280.3 93.9,281.1 95.4,281.8 96.9,282.4 98.5,282.9 100.6,283.6 103.4,284.4 106.7,285.3 110.1,286.1 113.2,286.7 116.1,287.0 118.8,287.0 121.3,286.9 123.3,286.7 124.7,286.4 125.6,285.9 126.3,285.4 127.1,284.9 128.0,284.3 129.0,283.6 129.9,283.0 130.9,282.5 131.9,282.2 133.0,282.0 134.1,281.9 135.3,282.0 136.6,282.2 137.9,282.5 139.3,283.0 140.8,283.4 142.3,283.8 143.7,284.2 145.4,284.7 147.7,285.4 150.8,286.4 154.5,287.7 158.4,288.9 161.9,289.8 164.8,290.3 167.4,290.6 169.9,290.7 172.5,290.8 175.1,290.6 177.7,290.4 180.3,290.0 183.1,289.8 186.2,289.6 189.4,289.4 192.6,289.3 195.5,289.3 197.8,289.5 199.8,289.9 201.8,290.3 204.3,290.8 207.4,291.2 210.9,291.7 214.6,292.1 218.5,292.5 222.7,292.8 227.2,293.0 231.8,293.2 236.2,293.4 240.6,293.5 245.1,293.6 249.1,293.6 251.9,293.7" stroke="#9b30ff" stroke-width="1.1" fill="none" stroke-linejoin="round" />
<line x1="78.20" y1="266.00" x2="85.00" y2="266.00" stroke="#000" stroke-width="1.3" />
<path d="M92.00,266.00 L85.00,268.10 L85.00,263.90 Z" fill="#000"/>
<text x="93.50" y="270.00" font-size="11" text-anchor="start" fill="#000" transform="matrix(1.0,0,0,0.95,0.000,13.500)">0.14 V</text>
<line x1="139.80" y1="280.20" x2="143.60" y2="280.20" stroke="#000" stroke-width="1.3" />
<path d="M150.60,280.20 L143.60,282.30 L143.60,278.10 Z" fill="#000"/>
<text x="151.50" y="284.00" font-size="11" text-anchor="start" fill="#000" transform="matrix(1.0,0,0,0.95,0.000,14.200)">1.08 V</text>
<line x1="157.70" y1="312.60" x2="157.70" y2="318.50" stroke="#000" stroke-width="1.3" />
<path d="M157.70,325.50 L155.60,318.50 L159.80,318.50 Z" fill="#000"/>
<text x="143.50" y="336.10" font-size="11" text-anchor="start" fill="#000" transform="matrix(1.0,0,0,0.95,0.000,16.805)">1.53 V</text>
<line x1="114.20" y1="325.30" x2="114.20" y2="330.90" stroke="#000" stroke-width="1.3" />
<path d="M114.20,337.90 L112.10,330.90 L116.30,330.90 Z" fill="#000"/>
<text x="100.00" y="349.70" font-size="11" text-anchor="start" fill="#000" transform="matrix(1.0,0,0,0.95,0.000,17.485)">0.74 V</text>
<line x1="217.90" y1="323.00" x2="244.10" y2="323.00" stroke="#000" stroke-width="1.2" />
<text x="248.00" y="327.40" font-size="11.5" text-anchor="start" fill="#000" transform="matrix(1.0,0,0,0.95,0.000,16.370)">1<tspan font-size="8" dy="-5">st</tspan></text>
<line x1="217.90" y1="338.70" x2="244.10" y2="338.70" stroke="#ff3b3b" stroke-width="1.2" />
<text x="248.00" y="343.10" font-size="11.5" text-anchor="start" fill="#000" transform="matrix(1.0,0,0,0.95,0.000,17.155)">2<tspan font-size="8" dy="-5">nd</tspan></text>
<line x1="217.90" y1="354.40" x2="244.10" y2="354.40" stroke="#2a2aff" stroke-width="1.2" />
<text x="248.00" y="358.80" font-size="11.5" text-anchor="start" fill="#000" transform="matrix(1.0,0,0,0.95,0.000,17.940)">3<tspan font-size="8" dy="-5">rd</tspan></text>
<line x1="217.90" y1="370.10" x2="244.10" y2="370.10" stroke="#22a822" stroke-width="1.2" />
<text x="248.00" y="374.50" font-size="11.5" text-anchor="start" fill="#000" transform="matrix(1.0,0,0,0.95,0.000,18.725)">4<tspan font-size="8" dy="-5">th</tspan></text>
<line x1="217.90" y1="385.80" x2="244.10" y2="385.80" stroke="#9b30ff" stroke-width="1.2" />
<text x="248.00" y="390.20" font-size="11.5" text-anchor="start" fill="#000" transform="matrix(1.0,0,0,0.95,0.000,19.510)">5<tspan font-size="8" dy="-5">th</tspan></text>
<rect x="300.80" y="252.70" width="227.00" height="176.30" fill="none" stroke="#000" stroke-width="1.1" />
<line x1="300.80" y1="313.20" x2="527.80" y2="313.20" stroke="#000" stroke-width="1.1" />
<line x1="300.80" y1="368.90" x2="527.80" y2="368.90" stroke="#000" stroke-width="1.1" />
<text x="300.80" y="442.60" font-size="11.4" text-anchor="middle" fill="#000" transform="matrix(1.0,0,0,0.95,0.000,22.130)">15</text>
<line x1="326.02" y1="429.00" x2="326.02" y2="426.00" stroke="#000" stroke-width="1.0" />
<text x="326.02" y="442.60" font-size="11.4" text-anchor="middle" fill="#000" transform="matrix(1.0,0,0,0.95,0.000,22.130)">18</text>
<line x1="351.24" y1="429.00" x2="351.24" y2="426.00" stroke="#000" stroke-width="1.0" />
<text x="351.24" y="442.60" font-size="11.4" text-anchor="middle" fill="#000" transform="matrix(1.0,0,0,0.95,0.000,22.130)">21</text>
<line x1="376.47" y1="429.00" x2="376.47" y2="426.00" stroke="#000" stroke-width="1.0" />
<text x="376.47" y="442.60" font-size="11.4" text-anchor="middle" fill="#000" transform="matrix(1.0,0,0,0.95,0.000,22.130)">24</text>
<line x1="401.69" y1="429.00" x2="401.69" y2="426.00" stroke="#000" stroke-width="1.0" />
<text x="401.69" y="442.60" font-size="11.4" text-anchor="middle" fill="#000" transform="matrix(1.0,0,0,0.95,0.000,22.130)">27</text>
<line x1="426.91" y1="429.00" x2="426.91" y2="426.00" stroke="#000" stroke-width="1.0" />
<text x="426.91" y="442.60" font-size="11.4" text-anchor="middle" fill="#000" transform="matrix(1.0,0,0,0.95,0.000,22.130)">30</text>
<line x1="452.13" y1="429.00" x2="452.13" y2="426.00" stroke="#000" stroke-width="1.0" />
<text x="452.13" y="442.60" font-size="11.4" text-anchor="middle" fill="#000" transform="matrix(1.0,0,0,0.95,0.000,22.130)">33</text>
<line x1="477.36" y1="429.00" x2="477.36" y2="426.00" stroke="#000" stroke-width="1.0" />
<text x="477.36" y="442.60" font-size="11.4" text-anchor="middle" fill="#000" transform="matrix(1.0,0,0,0.95,0.000,22.130)">36</text>
<line x1="502.58" y1="429.00" x2="502.58" y2="426.00" stroke="#000" stroke-width="1.0" />
<text x="502.58" y="442.60" font-size="11.4" text-anchor="middle" fill="#000" transform="matrix(1.0,0,0,0.95,0.000,22.130)">39</text>
<text x="527.80" y="442.60" font-size="11.4" text-anchor="middle" fill="#000" transform="matrix(1.0,0,0,0.95,0.000,22.130)">42</text>
<text x="413.90" y="464.50" font-size="14.2" text-anchor="middle" fill="#000" transform="matrix(1.0,0,0,0.95,0.000,23.225)">2-Theta (degree)</text>
<text x="293.80" y="338.60" font-size="14.9" text-anchor="middle" fill="#000" transform="rotate(-90 293.80 338.60)">Intensity (a.u.)</text>
<text x="273.40" y="264.50" font-size="29.3" text-anchor="start" fill="#000">d</text>
<text x="441.80" y="264.80" font-size="11" text-anchor="start" fill="#000" transform="matrix(1.0,0,0,0.95,0.000,13.240)">Discharge 0.01 V</text>
<text x="441.80" y="325.80" font-size="11" text-anchor="start" fill="#000" transform="matrix(1.0,0,0,0.95,0.000,16.290)">Charge 1.0 V</text>
<path d="M300.8,278.7 301.1,280.8 301.3,281.5 301.6,279.0 301.8,277.6 302.1,279.2 302.3,279.7 302.6,280.4 302.8,276.7 303.1,276.4 303.3,279.1 303.6,278.5 303.8,279.8 304.1,278.7 304.3,276.9 304.6,276.4 304.8,280.3 305.1,275.9 305.3,274.9 305.6,274.1 305.8,275.7 306.1,275.5 306.3,274.6 306.6,274.7 306.8,275.0 307.1,275.3 307.3,275.7 307.6,274.1 307.8,270.9 308.1,274.4 308.3,271.0 308.6,272.6 308.8,270.4 309.1,272.3 309.3,270.9 309.6,272.2 309.8,276.4 310.1,271.3 310.3,272.4 310.6,269.0 310.8,270.4 311.1,271.6 311.3,270.3 311.6,270.8 311.8,270.2 312.1,268.4 312.3,270.5 312.6,268.3 312.8,272.1 313.1,268.4 313.3,270.0 313.6,268.8 313.8,270.0 314.1,267.6 314.3,269.8 314.6,267.9 314.8,269.8 315.1,268.7 315.3,267.8 315.6,266.3 315.8,268.3 316.1,267.7 316.3,269.3 316.6,266.1 316.8,267.3 317.1,267.1 317.3,266.6 317.6,266.3 317.8,266.1 318.1,264.8 318.3,264.2 318.6,265.0 318.8,266.4 319.1,267.7 319.3,266.8 319.6,266.8 319.8,266.4 320.1,266.2 320.3,265.4 320.6,266.1 320.8,267.6 321.1,264.4 321.3,263.8 321.6,267.6 321.8,265.0 322.1,266.0 322.3,265.8 322.6,262.8 322.8,267.9 323.1,266.9 323.3,264.5 323.6,265.3 323.8,264.3 324.1,262.7 324.3,263.8 324.6,264.4 324.8,265.4 325.1,264.8 325.3,263.7 325.6,265.6 325.8,262.4 326.1,264.6 326.3,265.0 326.6,262.9 326.8,260.6 327.1,261.9 327.3,263.7 327.6,264.1 327.8,265.7 328.1,262.0 328.3,263.6 328.6,264.6 328.8,263.5 329.1,260.3 329.3,265.0 329.6,267.3 329.8,265.4 330.1,262.7 330.3,263.5 330.6,264.5 330.8,267.9 331.1,265.2 331.3,264.5 331.6,266.7 331.8,264.4 332.1,267.3 332.3,263.6 332.6,264.0 332.8,265.8 333.1,266.9 333.3,265.8 333.6,265.4 333.8,262.3 334.1,264.0 334.3,264.2 334.6,264.4 334.8,266.2 335.1,264.9 335.3,266.7 335.6,265.7 335.8,265.2 336.1,266.0 336.3,266.5 336.6,267.3 336.8,265.4 337.1,265.9 337.3,264.3 337.6,268.8 337.8,268.6 338.1,266.3 338.3,266.0 338.6,265.0 338.8,267.2 339.1,267.3 339.3,270.3 339.6,267.6 339.8,266.2 340.1,263.8 340.3,269.6 340.6,267.9 340.8,265.3 341.1,268.1 341.3,265.5 341.6,273.1 341.8,269.7 342.1,269.0 342.3,268.0 342.6,265.2 342.8,268.3 343.1,266.3 343.3,269.6 343.6,265.6 343.8,267.6 344.1,270.8 344.3,271.5 344.6,267.4 344.8,267.0 345.1,270.7 345.3,270.7 345.6,268.1 345.8,268.6 346.1,268.7 346.3,268.0 346.6,268.9 346.8,271.8 347.1,271.0 347.3,273.1 347.6,270.1 347.8,270.1 348.1,268.9 348.3,270.2 348.6,268.6 348.8,268.0 349.1,271.7 349.3,272.9 349.6,272.1 349.8,272.9 350.1,271.4 350.3,270.0 350.6,271.3 350.8,270.7 351.1,269.7 351.3,268.9 351.6,269.3 351.8,271.5 352.1,271.9 352.3,271.0 352.6,273.9 352.8,272.1 353.1,272.8 353.3,273.8 353.6,270.9 353.8,269.3 354.1,273.4 354.3,271.3 354.6,274.4 354.8,273.0 355.1,274.1 355.3,273.8 355.6,269.7 355.8,273.9 356.1,271.9 356.3,271.9 356.6,272.4 356.8,274.3 357.1,274.5 357.3,274.8 357.6,270.9 357.8,272.6 358.1,270.0 358.3,273.5 358.6,274.6 358.8,272.6 359.1,274.2 359.3,274.3 359.6,275.5 359.8,272.9 360.1,272.9 360.3,273.1 360.6,276.9 360.8,276.0 361.1,274.3 361.3,274.9 361.6,274.8 361.8,275.0 362.1,274.5 362.3,274.4 362.6,273.1 362.8,274.1 363.1,277.5 363.3,276.0 363.6,275.3 363.8,275.0 364.1,275.5 364.3,276.0 364.6,274.6 364.8,275.9 365.1,276.1 365.3,274.7 365.6,274.7 365.8,274.5 366.1,274.5 366.3,277.3 366.6,272.2 366.8,273.3 367.1,268.9 367.3,266.6 367.6,270.1 367.8,275.8 368.1,276.4 368.3,276.6 368.6,276.1 368.8,276.9 369.1,278.6 369.3,276.8 369.6,275.7 369.8,275.7 370.1,276.0 370.3,275.7 370.6,279.5 370.8,278.5 371.1,277.7 371.3,280.3 371.6,277.3 371.8,279.5 372.1,279.6 372.3,276.3 372.6,276.4 372.8,277.4 373.1,280.2 373.3,280.9 373.6,277.3 373.8,280.7 374.1,278.7 374.3,278.8 374.6,278.7 374.8,279.1 375.1,277.0 375.3,278.3 375.6,278.1 375.8,280.7 376.1,283.2 376.3,284.2 376.6,279.8 376.8,277.9 377.1,279.9 377.3,279.2 377.6,283.6 377.8,281.7 378.1,279.8 378.3,282.4 378.6,281.9 378.8,278.8 379.1,280.5 379.3,281.0 379.6,281.5 379.8,281.8 380.1,281.1 380.3,282.0 380.6,281.0 380.8,280.6 381.1,284.2 381.3,282.6 381.6,282.8 381.8,279.9 382.1,282.1 382.3,283.6 382.6,280.6 382.8,284.2 383.1,282.1 383.3,283.4 383.6,282.7 383.8,283.3 384.1,284.8 384.3,282.5 384.6,285.5 384.8,282.2 385.1,282.0 385.3,284.5 385.6,282.0 385.8,283.1 386.1,285.1 386.3,285.6 386.6,281.3 386.8,284.8 387.1,286.9 387.3,285.9 387.6,283.9 387.8,283.5 388.1,284.0 388.3,282.8 388.6,284.2 388.8,284.4 389.1,284.6 389.3,286.6 389.6,284.6 389.8,282.9 390.1,286.7 390.3,283.7 390.6,284.7 390.8,285.2 391.1,285.0 391.3,284.1 391.6,285.3 391.8,289.0 392.1,285.0 392.3,285.7 392.6,287.7 392.8,287.2 393.1,287.3 393.3,287.6 393.6,283.5 393.8,285.2 394.1,286.7 394.3,287.3 394.6,288.5 394.8,287.4 395.1,286.4 395.3,286.9 395.6,286.6 395.8,287.3 396.1,288.0 396.3,286.6 396.6,285.9 396.8,285.9 397.1,288.8 397.3,289.2 397.6,288.8 397.8,288.7 398.1,288.7 398.3,287.5 398.6,288.6 398.8,286.1 399.1,287.4 399.3,286.7 399.6,288.9 399.8,287.1 400.1,287.8 400.3,288.6 400.6,290.1 400.8,287.0 401.1,286.8 401.3,289.5 401.6,286.7 401.8,289.1 402.1,287.6 402.3,288.4 402.6,285.9 402.8,289.7 403.1,288.0 403.3,287.4 403.6,291.9 403.8,289.9 404.1,294.1 404.3,289.6 404.6,288.5 404.8,289.3 405.1,291.5 405.3,289.2 405.6,290.0 405.8,290.1 406.1,288.1 406.3,289.7 406.6,288.8 406.8,287.8 407.1,290.9 407.3,290.7 407.6,289.9 407.8,288.5 408.1,287.0 408.3,290.7 408.6,289.9 408.8,287.6 409.1,290.1 409.3,288.0 409.6,290.2 409.8,290.5 410.1,290.9 410.3,290.8 410.6,290.8 410.8,288.9 411.1,290.1 411.3,289.9 411.6,290.4 411.8,291.2 412.1,291.8 412.3,293.3 412.6,287.2 412.8,291.6 413.1,290.8 413.3,294.5 413.6,292.6 413.8,288.8 414.1,291.9 414.3,290.6 414.6,292.9 414.8,289.9 415.1,291.3 415.3,291.3 415.6,291.4 415.8,290.8 416.1,289.0 416.3,292.4 416.6,293.2 416.8,291.7 417.1,290.4 417.3,292.2 417.6,292.8 417.8,291.7 418.1,292.0 418.3,294.2 418.6,290.5 418.8,291.4 419.1,289.4 419.3,291.2 419.6,291.2 419.8,290.9 420.1,291.4 420.3,295.1 420.6,292.2 420.8,292.4 421.1,295.8 421.3,292.5 421.6,290.1 421.8,293.3 422.1,291.4 422.3,295.2 422.6,291.0 422.8,292.0 423.1,290.6 423.3,293.1 423.6,291.5 423.8,293.0 424.1,292.6 424.3,292.3 424.6,294.6 424.8,294.6 425.1,293.4 425.3,292.0 425.6,291.8 425.8,293.8 426.1,297.0 426.3,292.9 426.6,292.4 426.8,292.6 427.1,292.1 427.3,292.3 427.6,293.5 427.8,295.9 428.1,293.8 428.3,293.1 428.6,291.6 428.8,294.3 429.1,294.0 429.3,292.3 429.6,292.5 429.8,294.1 430.1,295.7 430.3,295.2 430.6,294.6 430.8,293.9 431.1,294.9 431.3,294.4 431.6,297.7 431.8,292.9 432.1,294.0 432.3,296.5 432.6,294.3 432.8,296.8 433.1,294.7 433.3,295.0 433.6,294.3 433.8,292.9 434.1,293.5 434.3,298.2 434.6,296.0 434.8,296.0 435.1,296.5 435.3,296.0 435.6,296.7 435.8,294.9 436.1,295.0 436.3,296.8 436.6,294.9 436.8,293.5 437.1,295.1 437.3,294.7 437.6,296.5 437.8,294.5 438.1,294.1 438.3,295.2 438.6,298.0 438.8,295.7 439.1,296.1 439.3,295.9 439.6,296.4 439.8,297.3 440.1,298.1 440.3,293.6 440.6,298.1 440.8,296.1 441.1,295.7 441.3,299.7 441.6,296.0 441.8,299.1 442.1,297.7 442.3,294.8 442.6,297.1 442.8,297.5 443.1,296.3 443.3,293.1 443.6,296.0 443.8,296.3 444.1,295.0 444.3,299.3 444.6,296.3 444.8,296.1 445.1,296.3 445.3,295.5 445.6,295.4 445.8,296.5 446.1,296.4 446.3,294.6 446.6,294.5 446.8,291.7 447.1,293.5 447.3,290.8 447.6,291.7 447.8,289.9 448.1,290.7 448.3,292.4 448.6,291.2 448.8,297.7 449.1,295.0 449.3,295.7 449.6,295.4 449.8,299.3 450.1,299.3 450.3,297.9 450.6,295.5 450.8,296.9 451.1,298.6 451.3,297.0 451.6,296.0 451.8,296.1 452.1,296.7 452.3,297.9 452.6,297.0 452.8,298.0 453.1,302.1 453.3,300.6 453.6,296.6 453.8,298.6 454.1,298.3 454.3,298.0 454.6,299.8 454.8,297.8 455.1,297.8 455.3,297.8 455.6,298.2 455.8,300.3 456.1,299.5 456.3,296.4 456.6,297.8 456.8,297.3 457.1,299.7 457.3,298.8 457.6,299.8 457.8,298.4 458.1,295.6 458.3,299.0 458.6,298.5 458.8,298.6 459.1,295.6 459.3,297.1 459.6,295.3 459.8,294.7 460.1,295.7 460.3,295.3 460.6,293.4 460.8,292.5 461.1,291.8 461.3,295.2 461.6,298.4 461.8,297.3 462.1,294.6 462.3,297.0 462.6,299.2 462.8,301.2 463.1,300.6 463.3,299.5 463.6,299.3 463.8,297.4 464.1,298.4 464.3,298.6 464.6,297.9 464.8,299.2 465.1,298.5 465.3,299.6 465.6,301.3 465.8,300.3 466.1,299.8 466.3,298.9 466.6,297.0 466.8,299.1 467.1,300.1 467.3,297.8 467.6,301.1 467.8,298.8 468.1,299.9 468.3,298.9 468.6,297.5 468.8,302.4 469.1,297.7 469.3,300.8 469.6,298.6 469.8,299.9 470.1,298.3 470.3,298.9 470.6,300.9 470.8,302.4 471.1,298.3 471.3,299.6 471.6,301.0 471.8,298.7 472.1,300.6 472.3,298.5 472.6,300.5 472.8,300.3 473.1,301.4 473.3,300.2 473.6,297.9 473.8,300.7 474.1,298.1 474.3,300.8 474.6,301.8 474.8,300.4 475.1,298.6 475.3,300.8 475.6,298.9 475.8,296.2 476.1,296.7 476.3,298.4 476.6,294.9 476.8,294.6 477.1,293.2 477.3,290.9 477.6,292.7 477.8,294.4 478.1,295.0 478.3,295.4 478.6,293.5 478.8,299.3 479.1,299.4 479.3,300.4 479.6,301.3 479.8,299.0 480.1,298.9 480.3,300.4 480.6,302.4 480.8,297.5 481.1,299.7 481.3,299.0 481.6,300.9 481.8,302.2 482.1,299.7 482.3,298.3 482.6,300.2 482.8,299.7 483.1,297.9 483.3,301.5 483.6,299.4 483.8,301.2 484.1,298.3 484.3,301.8 484.6,298.1 484.8,301.7 485.1,297.4 485.3,301.9 485.6,299.1 485.8,297.0 486.1,298.4 486.3,298.6 486.6,295.9 486.8,295.8 487.1,296.1 487.3,294.7 487.6,290.0 487.8,293.8 488.1,295.2 488.3,295.5 488.6,297.2 488.8,295.6 489.1,301.2 489.3,299.4 489.6,299.4 489.8,301.1 490.1,301.3 490.3,300.3 490.6,299.4 490.8,301.9 491.1,301.1 491.3,297.7 491.6,298.9 491.8,301.2 492.1,300.7 492.3,300.9 492.6,301.5 492.8,300.8 493.1,302.9 493.3,299.7 493.6,300.0 493.8,301.0 494.1,301.7 494.3,301.7 494.6,302.8 494.8,299.9 495.1,302.3 495.3,301.3 495.6,299.1 495.8,300.4 496.1,303.7 496.3,301.7 496.6,299.9 496.8,297.1 497.1,299.5 497.3,299.6 497.6,300.7 497.8,303.9 498.1,301.5 498.3,300.8 498.6,298.8 498.8,298.2 499.1,299.3 499.3,298.6 499.6,303.4 499.8,298.0 500.1,297.5 500.3,299.9 500.6,298.3 500.8,296.4 501.1,300.4 501.3,298.3 501.6,297.2 501.8,300.0 502.1,300.5 502.3,299.6 502.6,301.3 502.8,301.7 503.1,299.3 503.3,297.6 503.6,297.1 503.8,300.5 504.1,302.5 504.3,302.2 504.6,302.8 504.8,303.4 505.1,300.7 505.3,302.3 505.6,298.5 505.8,301.8 506.1,301.3 506.3,300.6 506.6,300.1 506.8,299.1 507.1,301.0 507.3,302.6 507.6,300.2 507.8,301.5 508.1,299.8 508.3,301.1 508.6,299.3 508.8,301.3 509.1,300.5 509.3,301.3 509.6,299.9 509.8,299.1 510.1,300.3 510.3,302.3 510.6,303.1 510.8,300.3 511.1,302.0 511.3,301.9 511.6,301.4 511.8,298.5 512.0,301.2 512.3,299.3 512.5,302.5 512.8,301.9 513.0,301.7 513.3,297.0 513.5,301.7 513.8,301.8 514.0,298.9 514.3,302.2 514.5,300.8 514.8,300.4 515.0,299.7 515.3,299.2 515.5,300.1 515.8,305.2 516.0,301.0 516.3,301.0 516.5,299.7 516.8,299.8 517.0,299.9 517.3,299.4 517.5,302.0 517.8,300.3 518.0,301.9 518.3,299.0 518.5,302.0 518.8,300.6 519.0,301.6 519.3,300.5 519.5,299.3 519.8,302.4 520.0,300.0 520.3,300.4 520.5,299.3 520.8,300.9 521.0,300.0 521.3,301.0 521.5,301.1 521.8,299.6 522.0,298.5 522.3,301.2 522.5,301.9 522.8,301.6 523.0,298.9 523.3,301.5 523.5,301.1 523.8,301.0 524.0,301.2 524.3,300.1 524.5,300.9 524.8,301.9 525.0,299.8 525.3,298.4 525.5,300.4 525.8,300.8 526.0,297.8 526.3,299.5 526.5,301.4 526.8,300.3 527.0,300.6 527.3,298.7 527.5,301.8 527.8,303.1" stroke="#000" stroke-width="0.85" fill="none" stroke-linejoin="round" />
<path d="M300.8,344.1 301.1,346.1 301.3,345.3 301.6,344.8 301.8,346.6 302.1,345.2 302.3,344.6 302.6,347.2 302.8,344.0 303.1,342.8 303.3,342.4 303.6,343.4 303.8,344.8 304.1,344.9 304.3,345.1 304.6,345.9 304.8,345.5 305.1,343.9 305.3,344.7 305.6,343.6 305.8,341.8 306.1,343.5 306.3,342.3 306.6,341.8 306.8,344.6 307.1,342.8 307.3,340.9 307.6,341.3 307.8,344.4 308.1,340.7 308.3,341.9 308.6,341.5 308.8,341.2 309.1,341.2 309.3,339.5 309.6,339.4 309.8,339.6 310.1,339.2 310.3,340.6 310.6,341.4 310.8,337.9 311.1,339.7 311.3,337.5 311.6,337.7 311.8,338.1 312.1,338.4 312.3,337.5 312.6,334.4 312.8,339.6 313.1,337.1 313.3,336.5 313.6,338.1 313.8,336.2 314.1,334.9 314.3,337.3 314.6,337.0 314.8,335.1 315.1,337.2 315.3,336.4 315.6,334.2 315.8,337.9 316.1,335.7 316.3,333.6 316.6,335.6 316.8,335.0 317.1,335.9 317.3,332.6 317.6,335.6 317.8,335.3 318.1,334.8 318.3,334.5 318.6,335.3 318.8,334.3 319.1,333.3 319.3,331.8 319.6,334.4 319.8,334.1 320.1,333.1 320.3,332.9 320.6,333.6 320.8,329.1 321.1,332.9 321.3,329.0 321.6,332.6 321.8,333.6 322.1,334.7 322.3,331.4 322.6,332.6 322.8,331.8 323.1,328.8 323.3,332.7 323.6,331.6 323.8,331.7 324.1,330.2 324.3,331.4 324.6,331.5 324.8,333.0 325.1,331.6 325.3,335.8 325.6,330.5 325.8,330.6 326.1,330.8 326.3,329.7 326.6,332.8 326.8,331.5 327.1,328.9 327.3,330.7 327.6,332.0 327.8,328.4 328.1,330.5 328.3,329.9 328.6,333.3 328.8,330.6 329.1,329.4 329.3,329.3 329.6,332.6 329.8,329.5 330.1,333.3 330.3,328.2 330.6,330.1 330.8,330.1 331.1,329.5 331.3,330.2 331.6,331.5 331.8,329.7 332.1,328.8 332.3,332.6 332.6,332.8 332.8,329.9 333.1,331.3 333.3,327.5 333.6,332.5 333.8,329.3 334.1,330.4 334.3,334.2 334.6,329.6 334.8,331.4 335.1,330.0 335.3,329.0 335.6,330.0 335.8,332.0 336.1,329.9 336.3,330.9 336.6,332.8 336.8,331.6 337.1,330.1 337.3,334.0 337.6,332.2 337.8,334.0 338.1,330.7 338.3,334.5 338.6,330.5 338.8,330.0 339.1,331.8 339.3,332.0 339.6,332.9 339.8,331.8 340.1,333.5 340.3,334.5 340.6,331.9 340.8,331.0 341.1,332.4 341.3,334.2 341.6,334.3 341.8,332.8 342.1,332.1 342.3,333.5 342.6,334.9 342.8,332.7 343.1,335.5 343.3,334.2 343.6,334.4 343.8,333.2 344.1,336.0 344.3,334.3 344.6,332.4 344.8,335.6 345.1,334.0 345.3,336.1 345.6,335.0 345.8,334.0 346.1,335.2 346.3,334.4 346.6,334.1 346.8,335.3 347.1,336.5 347.3,335.6 347.6,335.5 347.8,334.9 348.1,336.6 348.3,336.3 348.6,337.3 348.8,336.6 349.1,339.1 349.3,334.2 349.6,336.3 349.8,337.2 350.1,337.8 350.3,334.6 350.6,335.1 350.8,336.8 351.1,338.4 351.3,338.6 351.6,335.1 351.8,337.5 352.1,339.0 352.3,337.5 352.6,336.2 352.8,336.7 353.1,336.0 353.3,339.5 353.6,337.6 353.8,337.5 354.1,337.0 354.3,338.1 354.6,337.2 354.8,337.2 355.1,338.5 355.3,338.4 355.6,339.4 355.8,339.1 356.1,340.6 356.3,339.0 356.6,339.5 356.8,339.5 357.1,338.2 357.3,340.9 357.6,338.6 357.8,337.3 358.1,341.2 358.3,340.5 358.6,338.9 358.8,341.1 359.1,341.1 359.3,340.9 359.6,338.4 359.8,340.3 360.1,338.7 360.3,339.4 360.6,339.5 360.8,339.2 361.1,341.1 361.3,339.5 361.6,341.4 361.8,340.9 362.1,339.9 362.3,341.0 362.6,341.8 362.8,342.5 363.1,340.7 363.3,343.4 363.6,341.9 363.8,342.9 364.1,339.5 364.3,340.0 364.6,343.1 364.8,341.2 365.1,342.2 365.3,343.3 365.6,339.8 365.8,342.5 366.1,344.5 366.3,343.1 366.6,342.2 366.8,342.9 367.1,342.2 367.3,343.3 367.6,344.1 367.8,342.1 368.1,343.3 368.3,343.0 368.6,343.7 368.8,343.9 369.1,341.4 369.3,344.4 369.6,344.1 369.8,341.6 370.1,342.7 370.3,341.2 370.6,342.9 370.8,343.8 371.1,341.8 371.3,342.4 371.6,342.3 371.8,342.6 372.1,342.6 372.3,342.3 372.6,344.5 372.8,343.5 373.1,342.8 373.3,345.3 373.6,343.3 373.8,345.3 374.1,342.5 374.3,346.1 374.6,343.7 374.8,343.1 375.1,344.9 375.3,342.7 375.6,343.1 375.8,344.9 376.1,344.0 376.3,345.2 376.6,345.0 376.8,345.2 377.1,345.1 377.3,345.9 377.6,345.0 377.8,346.6 378.1,346.4 378.3,342.6 378.6,342.9 378.8,347.4 379.1,344.8 379.3,345.7 379.6,345.4 379.8,346.0 380.1,348.6 380.3,344.8 380.6,345.9 380.8,345.9 381.1,344.5 381.3,344.8 381.6,345.7 381.8,346.1 382.1,346.7 382.3,343.6 382.6,344.2 382.8,348.6 383.1,346.2 383.3,347.6 383.6,346.0 383.8,345.6 384.1,349.5 384.3,345.1 384.6,345.6 384.8,347.8 385.1,346.9 385.3,344.8 385.6,347.2 385.8,348.1 386.1,345.1 386.3,346.5 386.6,348.3 386.8,349.9 387.1,344.3 387.3,346.5 387.6,347.5 387.8,346.4 388.1,346.4 388.3,347.0 388.6,348.4 388.8,346.4 389.1,349.0 389.3,349.0 389.6,349.1 389.8,350.1 390.1,347.4 390.3,348.1 390.6,349.6 390.8,350.0 391.1,349.6 391.3,347.8 391.6,347.8 391.8,346.8 392.1,348.0 392.3,347.4 392.6,348.0 392.8,348.3 393.1,349.9 393.3,350.0 393.6,348.9 393.8,347.5 394.1,349.0 394.3,349.7 394.6,350.3 394.8,349.5 395.1,350.4 395.3,348.5 395.6,350.3 395.8,350.5 396.1,349.1 396.3,348.6 396.6,351.3 396.8,348.4 397.1,350.7 397.3,349.5 397.6,349.4 397.8,349.6 398.1,349.4 398.3,350.0 398.6,352.5 398.8,352.1 399.1,350.1 399.3,350.9 399.6,351.6 399.8,349.8 400.1,352.9 400.3,350.6 400.6,351.4 400.8,349.4 401.1,349.2 401.3,349.4 401.6,350.0 401.8,352.3 402.1,350.5 402.3,352.2 402.6,350.5 402.8,349.9 403.1,351.4 403.3,350.8 403.6,349.1 403.8,351.5 404.1,353.0 404.3,351.3 404.6,350.0 404.8,350.7 405.1,350.1 405.3,351.5 405.6,350.6 405.8,351.8 406.1,352.2 406.3,353.8 406.6,350.6 406.8,349.4 407.1,354.4 407.3,352.9 407.6,351.9 407.8,353.1 408.1,351.3 408.3,352.1 408.6,353.5 408.8,352.3 409.1,352.9 409.3,353.4 409.6,353.0 409.8,352.6 410.1,353.7 410.3,354.8 410.6,354.8 410.8,352.0 411.1,354.3 411.3,350.8 411.6,351.5 411.8,354.0 412.1,354.2 412.3,355.4 412.6,351.3 412.8,355.1 413.1,353.0 413.3,353.2 413.6,354.5 413.8,355.8 414.1,352.7 414.3,351.7 414.6,353.3 414.8,354.0 415.1,355.7 415.3,354.7 415.6,353.9 415.8,353.6 416.1,353.7 416.3,355.7 416.6,352.2 416.8,353.6 417.1,353.4 417.3,356.1 417.6,354.8 417.8,353.8 418.1,355.7 418.3,357.4 418.6,356.2 418.8,353.1 419.1,354.6 419.3,356.5 419.6,352.6 419.8,353.4 420.1,354.5 420.3,355.8 420.6,354.1 420.8,355.4 421.1,355.1 421.3,355.8 421.6,353.8 421.8,352.5 422.1,352.6 422.3,355.7 422.6,356.9 422.8,356.2 423.1,353.5 423.3,353.4 423.6,355.4 423.8,354.6 424.1,353.4 424.3,355.1 424.6,354.9 424.8,355.8 425.1,356.5 425.3,356.3 425.6,356.4 425.8,356.9 426.1,356.1 426.3,355.7 426.6,355.8 426.8,357.9 427.1,356.0 427.3,357.5 427.6,358.7 427.8,358.8 428.1,353.7 428.3,356.8 428.6,358.0 428.8,356.1 429.1,355.8 429.3,354.9 429.6,356.0 429.8,356.9 430.1,354.5 430.3,357.0 430.6,355.9 430.8,357.1 431.1,355.7 431.3,357.3 431.6,357.4 431.8,356.4 432.1,356.4 432.3,358.6 432.6,358.3 432.8,356.4 433.1,358.1 433.3,356.0 433.6,356.9 433.8,353.8 434.1,357.0 434.3,358.7 434.6,357.1 434.8,358.6 435.1,357.0 435.3,358.3 435.6,357.8 435.8,356.7 436.1,360.9 436.3,357.0 436.6,356.4 436.8,358.4 437.1,358.9 437.3,358.8 437.6,358.2 437.8,359.0 438.1,359.7 438.3,359.3 438.6,356.7 438.8,360.9 439.1,358.6 439.3,356.0 439.6,359.8 439.8,358.6 440.1,359.2 440.3,361.5 440.6,358.1 440.8,358.0 441.1,357.6 441.3,359.2 441.6,359.8 441.8,359.5 442.1,359.2 442.3,356.2 442.6,359.4 442.8,360.5 443.1,358.4 443.3,358.4 443.6,357.7 443.8,359.4 444.1,357.0 444.3,361.7 444.6,358.9 444.8,358.3 445.1,357.5 445.3,359.7 445.6,360.0 445.8,357.6 446.1,357.9 446.3,357.1 446.6,356.9 446.8,355.2 447.1,354.9 447.3,350.7 447.6,355.9 447.8,352.2 448.1,352.3 448.3,353.7 448.6,356.7 448.8,358.3 449.1,361.4 449.3,360.4 449.6,358.1 449.8,358.9 450.1,358.9 450.3,358.8 450.6,359.4 450.8,358.8 451.1,361.2 451.3,360.1 451.6,360.5 451.8,359.5 452.1,358.2 452.3,360.3 452.6,359.2 452.8,362.4 453.1,361.4 453.3,358.2 453.6,358.5 453.8,359.1 454.1,359.6 454.3,361.4 454.6,359.7 454.8,360.5 455.1,359.5 455.3,359.7 455.6,361.6 455.8,360.0 456.1,362.6 456.3,360.0 456.6,360.6 456.8,360.6 457.1,361.0 457.3,362.7 457.6,359.2 457.8,359.4 458.1,358.9 458.3,362.5 458.6,360.6 458.8,360.4 459.1,360.1 459.3,356.7 459.6,359.9 459.8,358.6 460.1,358.5 460.3,358.0 460.6,357.7 460.8,357.9 461.1,357.5 461.3,358.4 461.6,359.9 461.8,356.7 462.1,360.9 462.3,360.9 462.6,358.8 462.8,361.0 463.1,360.8 463.3,359.8 463.6,362.7 463.8,360.7 464.1,360.3 464.3,358.8 464.6,363.4 464.8,360.8 465.1,361.0 465.3,360.3 465.6,363.3 465.8,360.4 466.1,362.7 466.3,362.0 466.6,361.9 466.8,361.5 467.1,362.2 467.3,360.5 467.6,357.9 467.8,357.1 468.1,362.2 468.3,358.0 468.6,362.5 468.8,364.8 469.1,358.2 469.3,361.6 469.6,361.4 469.8,359.8 470.1,358.1 470.3,360.7 470.6,363.0 470.8,360.7 471.1,360.8 471.3,360.9 471.6,360.9 471.8,361.2 472.1,363.9 472.3,359.7 472.6,358.5 472.8,362.0 473.1,360.2 473.3,360.3 473.6,359.1 473.8,360.7 474.1,360.4 474.3,361.5 474.6,360.4 474.8,358.9 475.1,361.3 475.3,360.2 475.6,357.3 475.8,358.7 476.1,359.3 476.3,357.3 476.6,356.0 476.8,356.4 477.1,354.3 477.3,354.2 477.6,356.2 477.8,356.1 478.1,356.4 478.3,358.5 478.6,359.5 478.8,361.1 479.1,361.7 479.3,360.9 479.6,360.9 479.8,359.9 480.1,361.4 480.3,360.6 480.6,362.1 480.8,361.8 481.1,361.3 481.3,360.0 481.6,360.1 481.8,361.4 482.1,361.6 482.3,358.7 482.6,356.1 482.8,361.1 483.1,358.7 483.3,361.1 483.6,361.8 483.8,363.3 484.1,361.1 484.3,361.2 484.6,360.6 484.8,361.8 485.1,359.7 485.3,362.0 485.6,361.5 485.8,362.6 486.1,360.0 486.3,360.3 486.6,359.5 486.8,358.5 487.1,356.5 487.3,356.4 487.6,356.8 487.8,357.2 488.1,358.1 488.3,356.4 488.6,358.2 488.8,359.4 489.1,360.5 489.3,360.3 489.6,360.8 489.8,360.5 490.1,361.3 490.3,361.2 490.6,359.3 490.8,360.7 491.1,358.5 491.3,362.3 491.6,362.9 491.8,361.2 492.1,361.9 492.3,361.9 492.6,361.4 492.8,363.7 493.1,361.5 493.3,362.2 493.6,361.7 493.8,364.4 494.1,359.6 494.3,362.1 494.6,360.1 494.8,360.9 495.1,360.6 495.3,362.9 495.6,360.4 495.8,360.5 496.1,361.4 496.3,360.6 496.6,360.5 496.8,363.9 497.1,360.9 497.3,360.6 497.6,363.3 497.8,361.4 498.1,362.5 498.3,358.5 498.6,359.9 498.8,360.6 499.1,360.0 499.3,360.3 499.6,361.2 499.8,360.4 500.1,361.3 500.3,361.2 500.6,359.5 500.8,361.1 501.1,362.9 501.3,360.2 501.6,362.4 501.8,362.7 502.1,363.7 502.3,359.8 502.6,365.2 502.8,360.0 503.1,362.1 503.3,365.5 503.6,360.3 503.8,365.1 504.1,362.5 504.3,364.7 504.6,364.0 504.8,362.3 505.1,361.1 505.3,361.7 505.6,360.4 505.8,360.3 506.1,362.7 506.3,360.2 506.6,362.6 506.8,362.1 507.1,362.0 507.3,360.8 507.6,360.5 507.8,363.2 508.1,360.9 508.3,361.4 508.6,362.0 508.8,363.1 509.1,364.8 509.3,364.8 509.6,363.3 509.8,363.1 510.1,363.1 510.3,361.9 510.6,362.0 510.8,359.9 511.1,363.0 511.3,361.6 511.6,362.8 511.8,365.2 512.0,363.4 512.3,363.8 512.5,363.4 512.8,361.5 513.0,361.4 513.3,360.3 513.5,361.5 513.8,362.5 514.0,363.2 514.3,363.1 514.5,361.8 514.8,360.8 515.0,362.4 515.3,362.7 515.5,359.7 515.8,362.4 516.0,360.4 516.3,361.7 516.5,362.2 516.8,361.0 517.0,361.7 517.3,362.4 517.5,361.0 517.8,363.3 518.0,363.2 518.3,363.1 518.5,361.0 518.8,362.1 519.0,361.9 519.3,362.5 519.5,363.4 519.8,361.7 520.0,362.4 520.3,363.5 520.5,362.0 520.8,363.4 521.0,362.4 521.3,360.5 521.5,362.4 521.8,362.6 522.0,361.9 522.3,365.0 522.5,361.9 522.8,360.5 523.0,362.2 523.3,362.2 523.5,363.1 523.8,365.8 524.0,362.6 524.3,363.6 524.5,361.5 524.8,361.2 525.0,361.5 525.3,362.2 525.5,361.9 525.8,362.5 526.0,361.6 526.3,360.9 526.5,361.5 526.8,363.5 527.0,361.0 527.3,363.6 527.5,364.7 527.8,361.3" stroke="#000" stroke-width="0.85" fill="none" stroke-linejoin="round" />
<path d="M367.20,261.70 L369.60,264.70 L367.20,267.70 L364.80,264.70 Z" fill="#ff0000"/>
<path d="M316.50,286.80 L318.90,289.80 L316.50,292.80 L314.10,289.80 Z" fill="#ff0000"/>
<text x="323.80" y="293.70" font-size="11" text-anchor="start" fill="#000" transform="matrix(1.0,0,0,0.95,0.000,14.685)">Li<tspan font-size="8" dy="3">3</tspan><tspan dy="-3">N</tspan></text>
<circle cx="316.20" cy="305.40" r="2.1" fill="#0a8a0a"/>
<text x="323.80" y="308.60" font-size="11" text-anchor="start" fill="#000" transform="matrix(1.0,0,0,0.95,0.000,15.430)">MgSiN<tspan font-size="8" dy="3">2</tspan></text>
<circle cx="447.80" cy="287.40" r="2.1" fill="#0a8a0a"/>
<circle cx="460.50" cy="291.00" r="2.1" fill="#0a8a0a"/>
<circle cx="477.90" cy="287.40" r="2.1" fill="#0a8a0a"/>
<circle cx="488.00" cy="289.60" r="2.1" fill="#0a8a0a"/>
<circle cx="500.00" cy="293.00" r="2.1" fill="#0a8a0a"/>
<circle cx="447.80" cy="347.20" r="2.1" fill="#0a8a0a"/>
<circle cx="460.90" cy="352.10" r="2.1" fill="#0a8a0a"/>
<circle cx="477.90" cy="347.70" r="2.1" fill="#0a8a0a"/>
<circle cx="483.90" cy="356.50" r="2.1" fill="#0a8a0a"/>
<circle cx="488.50" cy="352.80" r="2.1" fill="#0a8a0a"/>
<circle cx="500.20" cy="354.60" r="2.1" fill="#0a8a0a"/>
<path transform="translate(481.40,352.60) scale(1.0)" d="M0,3.4 L-2.9,-0.2 A1.55,1.55 0 0 1 0,-2.3 A1.55,1.55 0 0 1 2.9,-0.2 Z" fill="#0000ff"/>
<path transform="translate(316.20,354.60) scale(1.0)" d="M0,3.4 L-2.9,-0.2 A1.55,1.55 0 0 1 0,-2.3 A1.55,1.55 0 0 1 2.9,-0.2 Z" fill="#0000ff"/>
<text x="323.80" y="358.00" font-size="11" text-anchor="start" fill="#000" transform="matrix(1.0,0,0,0.95,0.000,17.900)">Li-Mg alloy</text>
<line x1="309.50" y1="374.50" x2="321.00" y2="374.50" stroke="#1a9a1a" stroke-width="1.3" />
<text x="324.50" y="378.40" font-size="11" text-anchor="start" fill="#000" transform="matrix(1.0,0,0,0.95,0.000,18.920)">MgSiN<tspan font-size="8" dy="3">2</tspan><tspan dy="-3"> JCPDS no. 76-0737</tspan></text>
<line x1="309.50" y1="386.30" x2="321.00" y2="386.30" stroke="#ff0000" stroke-width="1.3" />
<text x="324.50" y="390.20" font-size="11" text-anchor="start" fill="#000" transform="matrix(1.0,0,0,0.95,0.000,19.510)">Li<tspan font-size="8" dy="3">3</tspan><tspan dy="-3">N JCPDS no. 65-6440</tspan></text>
<line x1="309.50" y1="398.10" x2="321.00" y2="398.10" stroke="#1a1aff" stroke-width="1.3" />
<text x="324.50" y="402.00" font-size="11" text-anchor="start" fill="#000" transform="matrix(1.0,0,0,0.95,0.000,20.100)">LiMg JCPDS no. 65-9347</text>
<line x1="357.10" y1="429.00" x2="357.10" y2="426.70" stroke="#1a9a1a" stroke-width="1.3" />
<line x1="363.50" y1="429.00" x2="363.50" y2="425.50" stroke="#1a9a1a" stroke-width="1.3" />
<line x1="367.30" y1="429.00" x2="367.30" y2="402.30" stroke="#ff0000" stroke-width="1.3" />
<line x1="411.50" y1="429.00" x2="411.50" y2="406.50" stroke="#ff0000" stroke-width="1.3" />
<line x1="447.30" y1="429.00" x2="447.30" y2="407.00" stroke="#1a9a1a" stroke-width="1.3" />
<line x1="460.20" y1="429.00" x2="460.20" y2="414.10" stroke="#1a9a1a" stroke-width="1.3" />
<line x1="477.00" y1="429.00" x2="477.00" y2="406.00" stroke="#1a9a1a" stroke-width="1.3" />
<line x1="481.00" y1="429.00" x2="481.00" y2="401.70" stroke="#1a1aff" stroke-width="1.3" />
<line x1="487.60" y1="429.00" x2="487.60" y2="401.70" stroke="#1a9a1a" stroke-width="1.3" />
<line x1="498.80" y1="429.00" x2="498.80" y2="420.30" stroke="#1a9a1a" stroke-width="1.3" />
<line x1="521.00" y1="429.00" x2="521.00" y2="427.50" stroke="#1a9a1a" stroke-width="1.3" />
<g clip-path="url(#cpe)">
<rect x="542.60" y="243.20" width="247.30" height="218.40" fill="rgb(156,156,156)" stroke="none" stroke-width="1.0" />
<rect x="542.6" y="243.2" width="247.3" height="218.4" filter="url(#nzL)" opacity="0.28"/>
<g mask="url(#mMain)">
<rect x="542.60" y="243.20" width="247.30" height="218.40" fill="rgb(122,122,122)" stroke="none" stroke-width="1.0" />
<ellipse cx="745" cy="250" rx="60" ry="22" fill="rgb(140,140,140)" filter="url(#blE)"/>
<ellipse cx="676" cy="336" rx="17" ry="10" fill="rgb(95,95,95)" filter="url(#blE)"/>
<rect x="542.6" y="243.2" width="247.3" height="218.4" filter="url(#nzF)" opacity="0.45"/>
</g>
<g mask="url(#mBot)">
<rect x="542.60" y="243.20" width="247.30" height="218.40" fill="rgb(92,92,92)" stroke="none" stroke-width="1.0" />
<rect x="542.6" y="243.2" width="247.3" height="218.4" filter="url(#nzC)" opacity="0.6"/>
</g>
<rect x="542.6" y="243.2" width="247.3" height="218.4" filter="url(#nzM)" opacity="0.12"/>
</g>
<g clip-path="url(#cc1)" opacity="0.45">
<line x1="724.00" y1="288.00" x2="724.00" y2="326.00" stroke="#303030" stroke-width="1.1" />
<line x1="726.40" y1="288.00" x2="726.40" y2="326.00" stroke="#303030" stroke-width="1.1" />
<line x1="728.80" y1="288.00" x2="728.80" y2="326.00" stroke="#303030" stroke-width="1.1" />
<line x1="731.20" y1="288.00" x2="731.20" y2="326.00" stroke="#303030" stroke-width="1.1" />
<line x1="733.60" y1="288.00" x2="733.60" y2="326.00" stroke="#303030" stroke-width="1.1" />
<line x1="736.00" y1="288.00" x2="736.00" y2="326.00" stroke="#303030" stroke-width="1.1" />
<line x1="738.40" y1="288.00" x2="738.40" y2="326.00" stroke="#303030" stroke-width="1.1" />
<line x1="740.80" y1="288.00" x2="740.80" y2="326.00" stroke="#303030" stroke-width="1.1" />
<line x1="743.20" y1="288.00" x2="743.20" y2="326.00" stroke="#303030" stroke-width="1.1" />
<line x1="745.60" y1="288.00" x2="745.60" y2="326.00" stroke="#303030" stroke-width="1.1" />
<line x1="748.00" y1="288.00" x2="748.00" y2="326.00" stroke="#303030" stroke-width="1.1" />
<line x1="750.40" y1="288.00" x2="750.40" y2="326.00" stroke="#303030" stroke-width="1.1" />
<line x1="752.80" y1="288.00" x2="752.80" y2="326.00" stroke="#303030" stroke-width="1.1" />
<line x1="755.20" y1="288.00" x2="755.20" y2="326.00" stroke="#303030" stroke-width="1.1" />
<line x1="757.60" y1="288.00" x2="757.60" y2="326.00" stroke="#303030" stroke-width="1.1" />
<line x1="760.00" y1="288.00" x2="760.00" y2="326.00" stroke="#303030" stroke-width="1.1" />
</g>
<g clip-path="url(#cc2)" opacity="0.35">
<line x1="765.00" y1="292.00" x2="765.00" y2="318.00" stroke="#303030" stroke-width="1.0" />
<line x1="767.30" y1="292.00" x2="767.30" y2="318.00" stroke="#303030" stroke-width="1.0" />
<line x1="769.60" y1="292.00" x2="769.60" y2="318.00" stroke="#303030" stroke-width="1.0" />
<line x1="771.90" y1="292.00" x2="771.90" y2="318.00" stroke="#303030" stroke-width="1.0" />
<line x1="774.20" y1="292.00" x2="774.20" y2="318.00" stroke="#303030" stroke-width="1.0" />
<line x1="776.50" y1="292.00" x2="776.50" y2="318.00" stroke="#303030" stroke-width="1.0" />
<line x1="778.80" y1="292.00" x2="778.80" y2="318.00" stroke="#303030" stroke-width="1.0" />
<line x1="781.10" y1="292.00" x2="781.10" y2="318.00" stroke="#303030" stroke-width="1.0" />
<line x1="783.40" y1="292.00" x2="783.40" y2="318.00" stroke="#303030" stroke-width="1.0" />
<line x1="785.70" y1="292.00" x2="785.70" y2="318.00" stroke="#303030" stroke-width="1.0" />
<line x1="788.00" y1="292.00" x2="788.00" y2="318.00" stroke="#303030" stroke-width="1.0" />
</g>
<text x="550.50" y="264.80" font-size="30" text-anchor="start" fill="#fff">e</text>
<text x="633.20" y="287.50" font-size="21.6" text-anchor="start" fill="#fff" font-weight="bold" transform="matrix(1.0,0,0,0.95,0.000,14.375)">0.239 nm</text>
<text x="653.20" y="316.60" font-size="21.0" text-anchor="start" fill="#fff" font-weight="bold" transform="matrix(1.0,0,0,0.95,0.000,15.830)">LiMg</text>
<text x="721.40" y="441.60" font-size="25" text-anchor="start" fill="#fff" transform="matrix(1.0,0,0,0.95,0.000,22.080)">5 nm</text>
<rect x="720.10" y="450.90" width="63.90" height="4.00" fill="#fff" stroke="none" stroke-width="1.0" />
<circle cx="742.5" cy="307.0" r="17.6" fill="none" stroke="#ff1a1a" stroke-width="2.4" stroke-dasharray="5.2 3.2"/>
<circle cx="777.6" cy="305.2" r="12.4" fill="none" stroke="#ff1a1a" stroke-width="2.4" stroke-dasharray="5.2 3.2"/>
<line x1="737.00" y1="295.50" x2="737.00" y2="317.50" stroke="#ff1a1a" stroke-width="1.8" stroke-dasharray="2.2 1.8"/>
<line x1="741.10" y1="295.50" x2="741.10" y2="317.50" stroke="#ff1a1a" stroke-width="1.8" stroke-dasharray="2.2 1.8"/>
<rect x="41.10" y="473.00" width="200.50" height="332.00" fill="none" stroke="#000" stroke-width="1.1" />
<line x1="41.10" y1="583.60" x2="241.60" y2="583.60" stroke="#000" stroke-width="1.1" />
<line x1="41.10" y1="694.10" x2="241.60" y2="694.10" stroke="#000" stroke-width="1.1" />
<text x="41.10" y="817.70" font-size="11.4" text-anchor="middle" fill="#000" transform="matrix(1.0,0,0,0.95,0.000,40.885)">108</text>
<line x1="69.74" y1="805.00" x2="69.74" y2="802.80" stroke="#000" stroke-width="1.0" />
<text x="69.74" y="817.70" font-size="11.4" text-anchor="middle" fill="#000" transform="matrix(1.0,0,0,0.95,0.000,40.885)">106</text>
<line x1="98.39" y1="805.00" x2="98.39" y2="802.80" stroke="#000" stroke-width="1.0" />
<text x="98.39" y="817.70" font-size="11.4" text-anchor="middle" fill="#000" transform="matrix(1.0,0,0,0.95,0.000,40.885)">104</text>
<line x1="127.03" y1="805.00" x2="127.03" y2="802.80" stroke="#000" stroke-width="1.0" />
<text x="127.03" y="817.70" font-size="11.4" text-anchor="middle" fill="#000" transform="matrix(1.0,0,0,0.95,0.000,40.885)">102</text>
<line x1="155.67" y1="805.00" x2="155.67" y2="802.80" stroke="#000" stroke-width="1.0" />
<text x="155.67" y="817.70" font-size="11.4" text-anchor="middle" fill="#000" transform="matrix(1.0,0,0,0.95,0.000,40.885)">100</text>
<line x1="184.31" y1="805.00" x2="184.31" y2="802.80" stroke="#000" stroke-width="1.0" />
<text x="184.31" y="817.70" font-size="11.4" text-anchor="middle" fill="#000" transform="matrix(1.0,0,0,0.95,0.000,40.885)">98</text>
<line x1="212.96" y1="805.00" x2="212.96" y2="802.80" stroke="#000" stroke-width="1.0" />
<text x="212.96" y="817.70" font-size="11.4" text-anchor="middle" fill="#000" transform="matrix(1.0,0,0,0.95,0.000,40.885)">96</text>
<text x="241.60" y="817.70" font-size="11.4" text-anchor="middle" fill="#000" transform="matrix(1.0,0,0,0.95,0.000,40.885)">94</text>
<text x="141.85" y="834.00" font-size="14.8" text-anchor="middle" fill="#000" transform="matrix(1.0,0,0,0.95,0.000,41.700)">Binding Energy (eV)</text>
<rect x="267.50" y="473.00" width="199.50" height="332.00" fill="none" stroke="#000" stroke-width="1.1" />
<line x1="267.50" y1="583.60" x2="467.00" y2="583.60" stroke="#000" stroke-width="1.1" />
<line x1="267.50" y1="694.10" x2="467.00" y2="694.10" stroke="#000" stroke-width="1.1" />
<text x="267.50" y="817.70" font-size="11.4" text-anchor="middle" fill="#000" transform="matrix(1.0,0,0,0.95,0.000,40.885)">1310</text>
<line x1="300.75" y1="805.00" x2="300.75" y2="802.80" stroke="#000" stroke-width="1.0" />
<text x="300.75" y="817.70" font-size="11.4" text-anchor="middle" fill="#000" transform="matrix(1.0,0,0,0.95,0.000,40.885)">1308</text>
<line x1="334.00" y1="805.00" x2="334.00" y2="802.80" stroke="#000" stroke-width="1.0" />
<text x="334.00" y="817.70" font-size="11.4" text-anchor="middle" fill="#000" transform="matrix(1.0,0,0,0.95,0.000,40.885)">1306</text>
<line x1="367.25" y1="805.00" x2="367.25" y2="802.80" stroke="#000" stroke-width="1.0" />
<text x="367.25" y="817.70" font-size="11.4" text-anchor="middle" fill="#000" transform="matrix(1.0,0,0,0.95,0.000,40.885)">1304</text>
<line x1="400.50" y1="805.00" x2="400.50" y2="802.80" stroke="#000" stroke-width="1.0" />
<text x="400.50" y="817.70" font-size="11.4" text-anchor="middle" fill="#000" transform="matrix(1.0,0,0,0.95,0.000,40.885)">1302</text>
<line x1="433.75" y1="805.00" x2="433.75" y2="802.80" stroke="#000" stroke-width="1.0" />
<text x="433.75" y="817.70" font-size="11.4" text-anchor="middle" fill="#000" transform="matrix(1.0,0,0,0.95,0.000,40.885)">1300</text>
<text x="467.00" y="817.70" font-size="11.4" text-anchor="middle" fill="#000" transform="matrix(1.0,0,0,0.95,0.000,40.885)">1298</text>
<text x="367.75" y="834.00" font-size="14.8" text-anchor="middle" fill="#000" transform="matrix(1.0,0,0,0.95,0.000,41.700)">Binding Energy (eV)</text>
<rect x="498.70" y="473.00" width="194.40" height="332.00" fill="none" stroke="#000" stroke-width="1.1" />
<line x1="498.70" y1="583.60" x2="693.10" y2="583.60" stroke="#000" stroke-width="1.1" />
<line x1="498.70" y1="694.10" x2="693.10" y2="694.10" stroke="#000" stroke-width="1.1" />
<text x="498.70" y="817.70" font-size="11.4" text-anchor="middle" fill="#000" transform="matrix(1.0,0,0,0.95,0.000,40.885)">404</text>
<line x1="531.10" y1="805.00" x2="531.10" y2="802.80" stroke="#000" stroke-width="1.0" />
<text x="531.10" y="817.70" font-size="11.4" text-anchor="middle" fill="#000" transform="matrix(1.0,0,0,0.95,0.000,40.885)">402</text>
<line x1="563.50" y1="805.00" x2="563.50" y2="802.80" stroke="#000" stroke-width="1.0" />
<text x="563.50" y="817.70" font-size="11.4" text-anchor="middle" fill="#000" transform="matrix(1.0,0,0,0.95,0.000,40.885)">400</text>
<line x1="595.90" y1="805.00" x2="595.90" y2="802.80" stroke="#000" stroke-width="1.0" />
<text x="595.90" y="817.70" font-size="11.4" text-anchor="middle" fill="#000" transform="matrix(1.0,0,0,0.95,0.000,40.885)">398</text>
<line x1="628.30" y1="805.00" x2="628.30" y2="802.80" stroke="#000" stroke-width="1.0" />
<text x="628.30" y="817.70" font-size="11.4" text-anchor="middle" fill="#000" transform="matrix(1.0,0,0,0.95,0.000,40.885)">396</text>
<line x1="660.70" y1="805.00" x2="660.70" y2="802.80" stroke="#000" stroke-width="1.0" />
<text x="660.70" y="817.70" font-size="11.4" text-anchor="middle" fill="#000" transform="matrix(1.0,0,0,0.95,0.000,40.885)">394</text>
<text x="693.10" y="817.70" font-size="11.4" text-anchor="middle" fill="#000" transform="matrix(1.0,0,0,0.95,0.000,40.885)">392</text>
<text x="596.40" y="834.00" font-size="14.8" text-anchor="middle" fill="#000" transform="matrix(1.0,0,0,0.95,0.000,41.700)">Binding Energy (eV)</text>
<text x="26.00" y="627.50" font-size="14.9" text-anchor="middle" fill="#000" transform="rotate(-90 26.00 627.50)">Intensity (a.u.)</text>
<text x="14.00" y="488.80" font-size="30.4" text-anchor="start" fill="#000">f</text>
<path d="M41.1,568.6 41.7,568.6 42.3,568.6 42.9,568.6 43.5,568.6 44.1,568.6 44.7,568.6 45.3,568.6 45.9,568.6 46.5,568.6 47.1,568.6 47.7,568.6 48.3,568.6 48.9,568.6 49.5,568.6 50.1,568.6 50.7,568.6 51.3,568.6 51.9,568.6 52.5,568.6 53.1,568.6 53.7,568.6 54.3,568.6 54.9,568.6 55.5,568.6 56.1,568.6 56.7,568.6 57.3,568.6 57.9,568.6 58.5,568.6 59.1,568.6 59.7,568.6 60.3,568.6 60.9,568.6 61.5,568.6 62.1,568.6 62.7,568.6 63.3,568.6 63.9,568.6 64.5,568.6 65.1,568.6 65.7,568.6 66.3,568.6 66.9,568.6 67.5,568.6 68.1,568.6 68.7,568.6 69.3,568.6 69.9,568.6 70.5,568.6 71.1,568.6 71.7,568.6 72.3,568.6 72.9,568.6 73.5,568.6 74.1,568.6 74.7,568.6 75.3,568.6 75.9,568.6 76.5,568.6 77.1,568.6 77.7,568.6 78.3,568.6 78.9,568.6 79.5,568.6 80.1,568.6 80.7,568.6 81.3,568.6 81.9,568.6 82.5,568.6 83.1,568.6 83.7,568.6 84.3,568.6 84.9,568.6 85.5,568.6 86.1,568.6 86.7,568.6 87.3,568.6 87.9,568.6 88.5,568.6 89.1,568.6 89.7,568.6 90.3,568.6 90.9,568.6 91.5,568.6 92.1,568.6 92.7,568.6 93.3,568.6 93.9,568.6 94.5,568.6 95.1,568.6 95.7,568.6 96.3,568.6 96.9,568.6 97.5,568.6 98.1,568.6 98.7,568.6 99.3,568.6 99.9,568.6 100.5,568.6 101.1,568.6 101.7,568.6 102.3,568.6 102.9,568.6 103.5,568.6 104.1,568.6 104.7,568.6 105.3,568.6 105.9,568.6 106.5,568.6 107.1,568.6 107.7,568.6 108.3,568.6 108.9,568.6 109.5,568.6 110.1,568.6 110.7,568.6 111.3,568.6 111.9,568.6 112.5,568.6 113.1,568.6 113.7,568.6 114.3,568.6 114.9,568.6 115.5,568.6 116.1,568.6 116.7,568.6 117.3,568.6 117.9,568.6 118.5,568.6 119.1,568.6 119.7,568.6 120.3,568.6 120.9,568.6 121.5,568.6 122.1,568.6 122.7,568.6 123.3,568.6 123.9,568.6 124.5,568.6 125.1,568.6 125.7,568.6 126.3,568.6 126.9,568.6 127.5,568.6 128.1,568.6 128.7,568.6 129.3,568.6 129.9,568.6 130.5,568.6 131.1,568.6 131.7,568.6 132.3,568.6 132.9,568.6 133.5,568.6 134.1,568.6 134.7,568.6 135.3,568.6 135.9,568.6 136.5,568.6 137.1,568.6 137.7,568.6 138.3,568.6 138.9,568.6 139.5,568.6 140.1,568.6 140.7,568.6 141.3,568.6 141.9,568.6 142.5,568.6 143.1,568.6 143.7,568.6 144.3,568.6 144.9,568.6 145.5,568.6 146.1,568.6 146.7,568.6 147.3,568.6 147.9,568.6 148.5,568.6 149.1,568.6 149.7,568.6 150.3,568.6 150.9,568.6 151.5,568.6 152.1,568.6 152.7,568.6 153.3,568.6 153.9,568.6 154.5,568.6 155.1,568.6 155.7,568.6 156.3,568.6 156.9,568.6 157.5,568.6 158.1,568.6 158.7,568.6 159.3,568.6 159.9,568.6 160.5,568.6 161.1,568.6 161.7,568.6 162.3,568.6 162.9,568.6 163.5,568.6 164.1,568.6 164.7,568.6 165.3,568.6 165.9,568.6 166.5,568.6 167.1,568.6 167.7,568.6 168.3,568.6 168.9,568.6 169.5,568.6 170.1,568.6 170.7,568.6 171.3,568.6 171.9,568.6 172.5,568.6 173.1,568.6 173.7,568.6 174.3,568.6 174.9,568.6 175.5,568.6 176.1,568.6 176.7,568.6 177.3,568.6 177.9,568.6 178.5,568.6 179.1,568.6 179.7,568.6 180.3,568.6 180.9,568.6 181.5,568.6 182.1,568.6 182.7,568.6 183.3,568.6 183.9,568.6 184.5,568.6 185.1,568.6 185.7,568.6 186.3,568.6 186.9,568.6 187.5,568.6 188.1,568.6 188.7,568.6 189.3,568.6 189.9,568.6 190.5,568.6 191.1,568.6 191.7,568.6 192.3,568.6 192.9,568.6 193.5,568.6 194.1,568.6 194.7,568.6 195.3,568.6 195.9,568.6 196.5,568.6 197.1,568.6 197.7,568.6 198.3,568.6 198.9,568.6 199.5,568.6 200.1,568.6 200.7,568.6 201.3,568.6 201.9,568.6 202.5,568.6 203.1,568.6 203.7,568.6 204.3,568.6 204.9,568.6 205.5,568.6 206.1,568.6 206.7,568.6 207.3,568.6 207.9,568.6 208.5,568.6 209.1,568.6 209.7,568.6 210.3,568.6 210.9,568.6 211.5,568.6 212.1,568.6 212.7,568.6 213.3,568.6 213.9,568.6 214.5,568.6 215.1,568.6 215.7,568.6 216.3,568.6 216.9,568.6 217.5,568.6 218.1,568.6 218.7,568.6 219.3,568.6 219.9,568.6 220.5,568.6 221.1,568.6 221.7,568.6 222.3,568.6 222.9,568.6 223.5,568.6 224.1,568.6 224.7,568.6 225.3,568.6 225.9,568.6 226.5,568.6 227.1,568.6 227.7,568.6 228.3,568.6 228.9,568.6 229.5,568.6 230.1,568.6 230.7,568.6 231.3,568.6 231.9,568.6 232.5,568.6 233.1,568.6 233.7,568.6 234.3,568.6 234.9,568.6 235.5,568.6 236.1,568.6 236.7,568.6 237.3,568.6 237.9,568.6 238.5,568.6 239.1,568.6 239.7,568.6 240.3,568.6 240.9,568.6 241.5,568.6" stroke="#000" stroke-width="0.9" fill="none"/>
<path d="M41.1,564.9 41.7,566.4 42.3,567.8 42.9,569.2 43.5,568.4 44.1,567.6 44.7,566.8 45.3,567.9 45.9,569.0 46.5,570.1 47.1,570.2 47.7,570.3 48.3,570.4 48.9,567.7 49.5,565.1 50.1,562.5 50.7,562.3 51.3,562.0 51.9,561.8 52.5,565.6 53.1,569.5 53.7,573.3 54.3,570.6 54.9,567.9 55.5,565.2 56.1,565.1 56.7,565.0 57.3,564.9 57.9,568.4 58.5,572.0 59.1,575.5 59.7,573.1 60.3,570.6 60.9,568.2 61.5,569.9 62.1,571.6 62.7,573.3 63.3,571.6 63.9,569.9 64.5,568.3 65.1,569.0 65.7,569.8 66.3,570.5 66.9,568.3 67.5,566.0 68.1,563.7 68.7,566.0 69.3,568.2 69.9,570.5 70.5,571.6 71.1,572.7 71.7,573.8 72.3,572.1 72.9,570.5 73.5,568.9 74.1,569.9 74.7,571.0 75.3,572.0 75.9,571.7 76.5,571.3 77.1,571.0 77.7,568.2 78.3,565.3 78.9,562.5 79.5,565.7 80.1,569.0 80.7,572.2 81.3,571.4 81.9,570.7 82.5,569.9 83.1,568.5 83.7,567.2 84.3,565.8 84.9,564.6 85.5,563.3 86.1,562.0 86.7,565.9 87.3,569.8 87.9,573.7 88.5,571.9 89.1,570.0 89.7,568.2 90.3,569.3 90.9,570.5 91.5,571.6 92.1,572.3 92.7,573.1 93.3,573.8 93.9,573.0 94.5,572.2 95.1,571.4 95.7,572.4 96.3,573.3 96.9,574.2 97.5,571.7 98.1,569.2 98.7,566.7 99.3,568.5 99.9,570.3 100.5,572.1 101.1,570.4 101.7,568.6 102.3,566.8 102.9,568.9 103.5,571.0 104.1,573.1 104.7,572.6 105.3,572.1 105.9,571.6 106.5,567.6 107.1,563.6 107.7,559.6 108.3,559.4 108.9,559.1 109.5,558.8 110.1,558.7 110.7,558.5 111.3,558.2 111.9,561.1 112.5,563.9 113.1,566.6 113.7,563.4 114.3,560.1 114.9,556.7 115.5,556.7 116.1,556.6 116.7,556.5 117.3,553.9 117.9,551.3 118.5,548.7 119.1,548.5 119.7,548.3 120.3,548.0 120.9,546.2 121.5,544.4 122.1,542.5 122.7,541.0 123.3,539.5 123.9,538.0 124.5,537.7 125.1,537.3 125.7,537.0 126.3,535.5 126.9,534.0 127.5,532.5 128.1,532.4 128.7,532.3 129.3,532.2 129.9,529.5 130.5,526.8 131.1,524.1 131.7,523.5 132.3,522.9 132.9,522.3 133.5,520.2 134.1,518.1 134.7,516.0 135.3,515.0 135.9,513.9 136.5,513.0 137.1,510.0 137.7,507.1 138.3,504.4 138.9,500.9 139.5,497.5 140.1,494.4 140.7,497.1 141.3,499.9 141.9,503.0 142.5,503.6 143.1,504.3 143.7,505.3 144.3,505.8 144.9,506.4 145.5,507.2 146.1,506.8 146.7,506.6 147.3,506.5 147.9,508.6 148.5,510.7 149.1,512.9 149.7,511.9 150.3,510.8 150.9,509.5 151.5,513.2 152.1,516.8 152.7,520.0 153.3,518.9 153.9,517.6 154.5,515.9 155.1,513.9 155.7,511.6 156.3,509.1 156.9,506.8 157.5,504.3 158.1,501.8 158.7,504.1 159.3,506.4 159.9,508.9 160.5,508.5 161.1,508.5 161.7,508.7 162.3,504.4 162.9,500.6 163.5,497.2 164.1,501.7 164.7,506.6 165.3,511.9 165.9,512.5 166.5,513.4 167.1,514.5 167.7,516.5 168.3,518.7 168.9,521.0 169.5,525.2 170.1,529.4 170.7,533.5 171.3,539.1 171.9,544.6 172.5,549.8 173.1,553.2 173.7,556.3 174.3,559.2 174.9,557.5 175.5,555.5 176.1,553.4 176.7,557.5 177.3,561.5 177.9,565.2 178.5,563.5 179.1,561.6 179.7,559.6 180.3,563.3 180.9,566.9 181.5,570.4 182.1,568.9 182.7,567.3 183.3,565.7 183.9,568.4 184.5,571.1 185.1,573.7 185.7,574.2 186.3,574.7 186.9,575.2 187.5,573.0 188.1,570.8 188.7,568.6 189.3,571.0 189.9,573.3 190.5,575.6 191.1,572.4 191.7,569.1 192.3,565.9 192.9,564.8 193.5,563.8 194.1,562.7 194.7,565.1 195.3,567.6 195.9,570.0 196.5,567.3 197.1,564.7 197.7,562.0 198.3,562.8 198.9,563.6 199.5,564.4 200.1,565.3 200.7,566.3 201.3,567.3 201.9,568.3 202.5,569.2 203.1,570.1 203.7,568.0 204.3,565.9 204.9,563.8 205.5,563.3 206.1,562.7 206.7,562.2 207.3,566.0 207.9,569.9 208.5,573.7 209.1,571.2 209.7,568.6 210.3,566.0 210.9,569.0 211.5,572.0 212.1,575.0 212.7,574.7 213.3,574.4 213.9,574.2 214.5,571.7 215.1,569.3 215.7,566.9 216.3,567.3 216.9,567.7 217.5,568.0 218.1,568.3 218.7,568.6 219.3,568.9 219.9,569.5 220.5,570.0 221.1,570.6 221.7,570.4 222.3,570.2 222.9,569.9 223.5,569.8 224.1,569.6 224.7,569.4 225.3,569.7 225.9,570.0 226.5,570.3 227.1,571.8 227.7,573.3 228.3,574.8 228.9,572.7 229.5,570.7 230.1,568.7 230.7,568.3 231.3,568.0 231.9,567.6 232.5,569.0 233.1,570.3 233.7,571.7 234.3,569.4 234.9,567.2 235.5,564.9 236.1,565.2 236.7,565.5 237.3,565.8 237.9,569.0 238.5,572.1 239.1,575.3 239.7,573.2 240.3,571.0 240.9,568.9 241.5,569.0" stroke="#000" stroke-width="1.0" fill="none" stroke-linejoin="round"/>
<path d="M41.1,568.6 41.7,568.6 42.3,568.6 42.9,568.6 43.5,568.6 44.1,568.6 44.7,568.6 45.3,568.6 45.9,568.6 46.5,568.6 47.1,568.6 47.7,568.6 48.3,568.6 48.9,568.6 49.5,568.6 50.1,568.6 50.7,568.6 51.3,568.6 51.9,568.6 52.5,568.6 53.1,568.6 53.7,568.6 54.3,568.6 54.9,568.6 55.5,568.6 56.1,568.6 56.7,568.6 57.3,568.6 57.9,568.6 58.5,568.6 59.1,568.6 59.7,568.6 60.3,568.6 60.9,568.6 61.5,568.6 62.1,568.6 62.7,568.6 63.3,568.6 63.9,568.6 64.5,568.6 65.1,568.6 65.7,568.6 66.3,568.6 66.9,568.6 67.5,568.6 68.1,568.6 68.7,568.6 69.3,568.6 69.9,568.6 70.5,568.6 71.1,568.6 71.7,568.6 72.3,568.6 72.9,568.6 73.5,568.6 74.1,568.6 74.7,568.6 75.3,568.6 75.9,568.6 76.5,568.6 77.1,568.6 77.7,568.6 78.3,568.6 78.9,568.6 79.5,568.6 80.1,568.6 80.7,568.6 81.3,568.6 81.9,568.6 82.5,568.6 83.1,568.6 83.7,568.6 84.3,568.6 84.9,568.6 85.5,568.6 86.1,568.6 86.7,568.6 87.3,568.6 87.9,568.6 88.5,568.6 89.1,568.6 89.7,568.6 90.3,568.6 90.9,568.6 91.5,568.5 92.1,568.5 92.7,568.5 93.3,568.5 93.9,568.5 94.5,568.5 95.1,568.4 95.7,568.4 96.3,568.4 96.9,568.3 97.5,568.3 98.1,568.2 98.7,568.2 99.3,568.1 99.9,568.0 100.5,567.9 101.1,567.8 101.7,567.7 102.3,567.5 102.9,567.4 103.5,567.2 104.1,567.0 104.7,566.8 105.3,566.5 105.9,566.3 106.5,565.9 107.1,565.6 107.7,565.2 108.3,564.8 108.9,564.4 109.5,563.9 110.1,563.4 110.7,562.8 111.3,562.2 111.9,561.5 112.5,560.8 113.1,560.1 113.7,559.3 114.3,558.5 114.9,557.6 115.5,556.7 116.1,555.7 116.7,554.7 117.3,553.7 117.9,552.6 118.5,551.5 119.1,550.3 119.7,549.1 120.3,547.9 120.9,546.7 121.5,545.4 122.1,544.1 122.7,542.8 123.3,541.4 123.9,540.1 124.5,538.7 125.1,537.2 125.7,535.8 126.3,534.3 126.9,532.8 127.5,531.3 128.1,529.7 128.7,528.2 129.3,526.5 129.9,524.9 130.5,523.2 131.1,521.5 131.7,519.8 132.3,518.0 132.9,516.3 133.5,514.5 134.1,512.8 134.7,511.0 135.3,509.3 135.9,507.7 136.5,506.1 137.1,504.6 137.7,503.2 138.3,502.0 138.9,500.8 139.5,499.9 140.1,499.1 140.7,498.5 141.3,498.1 141.9,498.0 142.5,498.0 143.1,498.3 143.7,498.8 144.3,499.5 144.9,500.4 145.5,501.5 146.1,502.7 146.7,504.1 147.3,505.5 147.9,507.0 148.5,508.4 149.1,509.9 149.7,511.2 150.3,512.5 150.9,513.5 151.5,514.4 152.1,515.0 152.7,515.4 153.3,515.5 153.9,515.3 154.5,514.9 155.1,514.2 155.7,513.3 156.3,512.1 156.9,510.8 157.5,509.4 158.1,507.9 158.7,506.5 159.3,505.2 159.9,503.9 160.5,503.0 161.1,502.2 161.7,501.8 162.3,501.8 162.9,502.1 163.5,502.9 164.1,504.1 164.7,505.7 165.3,507.7 165.9,510.1 166.5,512.8 167.1,515.8 167.7,519.0 168.3,522.4 168.9,525.9 169.5,529.4 170.1,532.9 170.7,536.4 171.3,539.8 171.9,543.0 172.5,546.1 173.1,548.9 173.7,551.5 174.3,553.9 174.9,556.1 175.5,558.0 176.1,559.7 176.7,561.2 177.3,562.5 177.9,563.6 178.5,564.6 179.1,565.4 179.7,566.0 180.3,566.6 180.9,567.0 181.5,567.4 182.1,567.6 182.7,567.9 183.3,568.0 183.9,568.2 184.5,568.3 185.1,568.4 185.7,568.4 186.3,568.5 186.9,568.5 187.5,568.5 188.1,568.6 188.7,568.6 189.3,568.6 189.9,568.6 190.5,568.6 191.1,568.6 191.7,568.6 192.3,568.6 192.9,568.6 193.5,568.6 194.1,568.6 194.7,568.6 195.3,568.6 195.9,568.6 196.5,568.6 197.1,568.6 197.7,568.6 198.3,568.6 198.9,568.6 199.5,568.6 200.1,568.6 200.7,568.6 201.3,568.6 201.9,568.6 202.5,568.6 203.1,568.6 203.7,568.6 204.3,568.6 204.9,568.6 205.5,568.6 206.1,568.6 206.7,568.6 207.3,568.6 207.9,568.6 208.5,568.6 209.1,568.6 209.7,568.6 210.3,568.6 210.9,568.6 211.5,568.6 212.1,568.6 212.7,568.6 213.3,568.6 213.9,568.6 214.5,568.6 215.1,568.6 215.7,568.6 216.3,568.6 216.9,568.6 217.5,568.6 218.1,568.6 218.7,568.6 219.3,568.6 219.9,568.6 220.5,568.6 221.1,568.6 221.7,568.6 222.3,568.6 222.9,568.6 223.5,568.6 224.1,568.6 224.7,568.6 225.3,568.6 225.9,568.6 226.5,568.6 227.1,568.6 227.7,568.6 228.3,568.6 228.9,568.6 229.5,568.6 230.1,568.6 230.7,568.6 231.3,568.6 231.9,568.6 232.5,568.6 233.1,568.6 233.7,568.6 234.3,568.6 234.9,568.6 235.5,568.6 236.1,568.6 236.7,568.6 237.3,568.6 237.9,568.6 238.5,568.6 239.1,568.6 239.7,568.6 240.3,568.6 240.9,568.6 241.5,568.6" stroke="#f01e1e" stroke-width="1.3" fill="none"/>
<path d="M41.1,568.6 41.7,568.6 42.3,568.6 42.9,568.6 43.5,568.6 44.1,568.6 44.7,568.6 45.3,568.6 45.9,568.6 46.5,568.6 47.1,568.6 47.7,568.6 48.3,568.6 48.9,568.6 49.5,568.6 50.1,568.6 50.7,568.6 51.3,568.6 51.9,568.6 52.5,568.6 53.1,568.6 53.7,568.6 54.3,568.6 54.9,568.6 55.5,568.6 56.1,568.6 56.7,568.6 57.3,568.6 57.9,568.6 58.5,568.6 59.1,568.6 59.7,568.6 60.3,568.6 60.9,568.6 61.5,568.6 62.1,568.6 62.7,568.6 63.3,568.6 63.9,568.6 64.5,568.6 65.1,568.6 65.7,568.6 66.3,568.6 66.9,568.6 67.5,568.6 68.1,568.6 68.7,568.6 69.3,568.6 69.9,568.6 70.5,568.6 71.1,568.6 71.7,568.6 72.3,568.6 72.9,568.6 73.5,568.6 74.1,568.6 74.7,568.6 75.3,568.6 75.9,568.6 76.5,568.6 77.1,568.6 77.7,568.6 78.3,568.6 78.9,568.6 79.5,568.6 80.1,568.6 80.7,568.6 81.3,568.6 81.9,568.6 82.5,568.6 83.1,568.6 83.7,568.6 84.3,568.6 84.9,568.6 85.5,568.6 86.1,568.6 86.7,568.6 87.3,568.6 87.9,568.6 88.5,568.6 89.1,568.6 89.7,568.6 90.3,568.6 90.9,568.6 91.5,568.6 92.1,568.6 92.7,568.6 93.3,568.6 93.9,568.6 94.5,568.6 95.1,568.6 95.7,568.6 96.3,568.6 96.9,568.6 97.5,568.6 98.1,568.6 98.7,568.6 99.3,568.6 99.9,568.6 100.5,568.6 101.1,568.6 101.7,568.6 102.3,568.6 102.9,568.6 103.5,568.6 104.1,568.6 104.7,568.6 105.3,568.6 105.9,568.6 106.5,568.6 107.1,568.6 107.7,568.6 108.3,568.6 108.9,568.6 109.5,568.6 110.1,568.6 110.7,568.6 111.3,568.6 111.9,568.6 112.5,568.6 113.1,568.6 113.7,568.6 114.3,568.6 114.9,568.6 115.5,568.6 116.1,568.6 116.7,568.6 117.3,568.6 117.9,568.6 118.5,568.6 119.1,568.6 119.7,568.6 120.3,568.6 120.9,568.6 121.5,568.6 122.1,568.6 122.7,568.6 123.3,568.6 123.9,568.6 124.5,568.6 125.1,568.6 125.7,568.6 126.3,568.6 126.9,568.6 127.5,568.6 128.1,568.6 128.7,568.6 129.3,568.6 129.9,568.6 130.5,568.6 131.1,568.6 131.7,568.6 132.3,568.6 132.9,568.6 133.5,568.6 134.1,568.6 134.7,568.6 135.3,568.6 135.9,568.6 136.5,568.6 137.1,568.6 137.7,568.6 138.3,568.5 138.9,568.5 139.5,568.5 140.1,568.5 140.7,568.4 141.3,568.3 141.9,568.3 142.5,568.1 143.1,568.0 143.7,567.8 144.3,567.6 144.9,567.2 145.5,566.9 146.1,566.4 146.7,565.8 147.3,565.1 147.9,564.3 148.5,563.3 149.1,562.1 149.7,560.8 150.3,559.2 150.9,557.5 151.5,555.5 152.1,553.3 152.7,550.8 153.3,548.1 153.9,545.3 154.5,542.2 155.1,539.0 155.7,535.6 156.3,532.2 156.9,528.8 157.5,525.4 158.1,522.1 158.7,519.0 159.3,516.1 159.9,513.5 160.5,511.3 161.1,509.4 161.7,508.0 162.3,507.1 162.9,506.6 163.5,506.7 164.1,507.3 164.7,508.4 165.3,510.0 165.9,512.0 166.5,514.3 167.1,517.1 167.7,520.0 168.3,523.2 168.9,526.5 169.5,530.0 170.1,533.4 170.7,536.8 171.3,540.1 171.9,543.2 172.5,546.2 173.1,549.0 173.7,551.6 174.3,554.0 174.9,556.2 175.5,558.1 176.1,559.8 176.7,561.3 177.3,562.5 177.9,563.7 178.5,564.6 179.1,565.4 179.7,566.0 180.3,566.6 180.9,567.0 181.5,567.4 182.1,567.6 182.7,567.9 183.3,568.0 183.9,568.2 184.5,568.3 185.1,568.4 185.7,568.4 186.3,568.5 186.9,568.5 187.5,568.5 188.1,568.6 188.7,568.6 189.3,568.6 189.9,568.6 190.5,568.6 191.1,568.6 191.7,568.6 192.3,568.6 192.9,568.6 193.5,568.6 194.1,568.6 194.7,568.6 195.3,568.6 195.9,568.6 196.5,568.6 197.1,568.6 197.7,568.6 198.3,568.6 198.9,568.6 199.5,568.6 200.1,568.6 200.7,568.6 201.3,568.6 201.9,568.6 202.5,568.6 203.1,568.6 203.7,568.6 204.3,568.6 204.9,568.6 205.5,568.6 206.1,568.6 206.7,568.6 207.3,568.6 207.9,568.6 208.5,568.6 209.1,568.6 209.7,568.6 210.3,568.6 210.9,568.6 211.5,568.6 212.1,568.6 212.7,568.6 213.3,568.6 213.9,568.6 214.5,568.6 215.1,568.6 215.7,568.6 216.3,568.6 216.9,568.6 217.5,568.6 218.1,568.6 218.7,568.6 219.3,568.6 219.9,568.6 220.5,568.6 221.1,568.6 221.7,568.6 222.3,568.6 222.9,568.6 223.5,568.6 224.1,568.6 224.7,568.6 225.3,568.6 225.9,568.6 226.5,568.6 227.1,568.6 227.7,568.6 228.3,568.6 228.9,568.6 229.5,568.6 230.1,568.6 230.7,568.6 231.3,568.6 231.9,568.6 232.5,568.6 233.1,568.6 233.7,568.6 234.3,568.6 234.9,568.6 235.5,568.6 236.1,568.6 236.7,568.6 237.3,568.6 237.9,568.6 238.5,568.6 239.1,568.6 239.7,568.6 240.3,568.6 240.9,568.6 241.5,568.6" stroke="#e81e8c" stroke-width="1.1" fill="none"/>
<path d="M41.1,568.6 41.7,568.6 42.3,568.6 42.9,568.6 43.5,568.6 44.1,568.6 44.7,568.6 45.3,568.6 45.9,568.6 46.5,568.6 47.1,568.6 47.7,568.6 48.3,568.6 48.9,568.6 49.5,568.6 50.1,568.6 50.7,568.6 51.3,568.6 51.9,568.6 52.5,568.6 53.1,568.6 53.7,568.6 54.3,568.6 54.9,568.6 55.5,568.6 56.1,568.6 56.7,568.6 57.3,568.6 57.9,568.6 58.5,568.6 59.1,568.6 59.7,568.6 60.3,568.6 60.9,568.6 61.5,568.6 62.1,568.6 62.7,568.6 63.3,568.6 63.9,568.6 64.5,568.6 65.1,568.6 65.7,568.6 66.3,568.6 66.9,568.6 67.5,568.6 68.1,568.6 68.7,568.6 69.3,568.6 69.9,568.6 70.5,568.6 71.1,568.6 71.7,568.6 72.3,568.6 72.9,568.6 73.5,568.6 74.1,568.6 74.7,568.6 75.3,568.6 75.9,568.6 76.5,568.6 77.1,568.6 77.7,568.6 78.3,568.6 78.9,568.6 79.5,568.6 80.1,568.6 80.7,568.6 81.3,568.6 81.9,568.6 82.5,568.6 83.1,568.6 83.7,568.6 84.3,568.6 84.9,568.6 85.5,568.6 86.1,568.6 86.7,568.6 87.3,568.6 87.9,568.6 88.5,568.6 89.1,568.6 89.7,568.6 90.3,568.6 90.9,568.6 91.5,568.6 92.1,568.6 92.7,568.6 93.3,568.6 93.9,568.6 94.5,568.6 95.1,568.6 95.7,568.6 96.3,568.6 96.9,568.6 97.5,568.6 98.1,568.6 98.7,568.6 99.3,568.6 99.9,568.6 100.5,568.6 101.1,568.6 101.7,568.6 102.3,568.6 102.9,568.6 103.5,568.6 104.1,568.6 104.7,568.6 105.3,568.6 105.9,568.6 106.5,568.6 107.1,568.6 107.7,568.6 108.3,568.6 108.9,568.6 109.5,568.6 110.1,568.6 110.7,568.6 111.3,568.6 111.9,568.6 112.5,568.6 113.1,568.6 113.7,568.5 114.3,568.5 114.9,568.5 115.5,568.5 116.1,568.4 116.7,568.4 117.3,568.3 117.9,568.3 118.5,568.2 119.1,568.1 119.7,568.0 120.3,567.8 120.9,567.6 121.5,567.4 122.1,567.2 122.7,566.9 123.3,566.5 123.9,566.1 124.5,565.6 125.1,565.1 125.7,564.4 126.3,563.7 126.9,562.9 127.5,561.9 128.1,560.9 128.7,559.7 129.3,558.5 129.9,557.1 130.5,555.6 131.1,553.9 131.7,552.2 132.3,550.3 132.9,548.3 133.5,546.2 134.1,544.1 134.7,541.9 135.3,539.6 135.9,537.3 136.5,535.0 137.1,532.7 137.7,530.5 138.3,528.4 138.9,526.3 139.5,524.4 140.1,522.7 140.7,521.1 141.3,519.7 141.9,518.6 142.5,517.7 143.1,517.1 143.7,516.7 144.3,516.6 144.9,516.8 145.5,517.2 146.1,518.0 146.7,518.9 147.3,520.2 147.9,521.6 148.5,523.2 149.1,525.0 149.7,527.0 150.3,529.1 150.9,531.2 151.5,533.5 152.1,535.8 152.7,538.1 153.3,540.3 153.9,542.6 154.5,544.8 155.1,546.9 155.7,549.0 156.3,550.9 156.9,552.8 157.5,554.5 158.1,556.1 158.7,557.6 159.3,558.9 159.9,560.1 160.5,561.3 161.1,562.3 161.7,563.2 162.3,563.9 162.9,564.6 163.5,565.3 164.1,565.8 164.7,566.2 165.3,566.6 165.9,567.0 166.5,567.3 167.1,567.5 167.7,567.7 168.3,567.9 168.9,568.0 169.5,568.1 170.1,568.2 170.7,568.3 171.3,568.4 171.9,568.4 172.5,568.5 173.1,568.5 173.7,568.5 174.3,568.5 174.9,568.5 175.5,568.6 176.1,568.6 176.7,568.6 177.3,568.6 177.9,568.6 178.5,568.6 179.1,568.6 179.7,568.6 180.3,568.6 180.9,568.6 181.5,568.6 182.1,568.6 182.7,568.6 183.3,568.6 183.9,568.6 184.5,568.6 185.1,568.6 185.7,568.6 186.3,568.6 186.9,568.6 187.5,568.6 188.1,568.6 188.7,568.6 189.3,568.6 189.9,568.6 190.5,568.6 191.1,568.6 191.7,568.6 192.3,568.6 192.9,568.6 193.5,568.6 194.1,568.6 194.7,568.6 195.3,568.6 195.9,568.6 196.5,568.6 197.1,568.6 197.7,568.6 198.3,568.6 198.9,568.6 199.5,568.6 200.1,568.6 200.7,568.6 201.3,568.6 201.9,568.6 202.5,568.6 203.1,568.6 203.7,568.6 204.3,568.6 204.9,568.6 205.5,568.6 206.1,568.6 206.7,568.6 207.3,568.6 207.9,568.6 208.5,568.6 209.1,568.6 209.7,568.6 210.3,568.6 210.9,568.6 211.5,568.6 212.1,568.6 212.7,568.6 213.3,568.6 213.9,568.6 214.5,568.6 215.1,568.6 215.7,568.6 216.3,568.6 216.9,568.6 217.5,568.6 218.1,568.6 218.7,568.6 219.3,568.6 219.9,568.6 220.5,568.6 221.1,568.6 221.7,568.6 222.3,568.6 222.9,568.6 223.5,568.6 224.1,568.6 224.7,568.6 225.3,568.6 225.9,568.6 226.5,568.6 227.1,568.6 227.7,568.6 228.3,568.6 228.9,568.6 229.5,568.6 230.1,568.6 230.7,568.6 231.3,568.6 231.9,568.6 232.5,568.6 233.1,568.6 233.7,568.6 234.3,568.6 234.9,568.6 235.5,568.6 236.1,568.6 236.7,568.6 237.3,568.6 237.9,568.6 238.5,568.6 239.1,568.6 239.7,568.6 240.3,568.6 240.9,568.6 241.5,568.6" stroke="#28c8d2" stroke-width="1.1" fill="none"/>
<path d="M41.1,568.6 41.7,568.6 42.3,568.6 42.9,568.6 43.5,568.6 44.1,568.6 44.7,568.6 45.3,568.6 45.9,568.6 46.5,568.6 47.1,568.6 47.7,568.6 48.3,568.6 48.9,568.6 49.5,568.6 50.1,568.6 50.7,568.6 51.3,568.6 51.9,568.6 52.5,568.6 53.1,568.6 53.7,568.6 54.3,568.6 54.9,568.6 55.5,568.6 56.1,568.6 56.7,568.6 57.3,568.6 57.9,568.6 58.5,568.6 59.1,568.6 59.7,568.6 60.3,568.6 60.9,568.6 61.5,568.6 62.1,568.6 62.7,568.6 63.3,568.6 63.9,568.6 64.5,568.6 65.1,568.6 65.7,568.6 66.3,568.6 66.9,568.6 67.5,568.6 68.1,568.6 68.7,568.6 69.3,568.6 69.9,568.6 70.5,568.6 71.1,568.6 71.7,568.6 72.3,568.6 72.9,568.6 73.5,568.6 74.1,568.6 74.7,568.6 75.3,568.6 75.9,568.6 76.5,568.6 77.1,568.6 77.7,568.6 78.3,568.6 78.9,568.6 79.5,568.6 80.1,568.6 80.7,568.6 81.3,568.6 81.9,568.6 82.5,568.6 83.1,568.6 83.7,568.6 84.3,568.6 84.9,568.6 85.5,568.6 86.1,568.6 86.7,568.6 87.3,568.6 87.9,568.6 88.5,568.6 89.1,568.6 89.7,568.6 90.3,568.6 90.9,568.6 91.5,568.5 92.1,568.5 92.7,568.5 93.3,568.5 93.9,568.5 94.5,568.5 95.1,568.4 95.7,568.4 96.3,568.4 96.9,568.3 97.5,568.3 98.1,568.2 98.7,568.2 99.3,568.1 99.9,568.0 100.5,567.9 101.1,567.8 101.7,567.7 102.3,567.5 102.9,567.4 103.5,567.2 104.1,567.0 104.7,566.8 105.3,566.5 105.9,566.3 106.5,565.9 107.1,565.6 107.7,565.2 108.3,564.8 108.9,564.4 109.5,563.9 110.1,563.4 110.7,562.8 111.3,562.2 111.9,561.6 112.5,560.9 113.1,560.1 113.7,559.4 114.3,558.6 114.9,557.7 115.5,556.8 116.1,555.9 116.7,554.9 117.3,553.9 117.9,552.9 118.5,551.9 119.1,550.8 119.7,549.8 120.3,548.7 120.9,547.6 121.5,546.6 122.1,545.5 122.7,544.5 123.3,543.5 123.9,542.6 124.5,541.6 125.1,540.8 125.7,540.0 126.3,539.2 126.9,538.6 127.5,538.0 128.1,537.5 128.7,537.0 129.3,536.7 129.9,536.4 130.5,536.3 131.1,536.2 131.7,536.2 132.3,536.4 132.9,536.6 133.5,536.9 134.1,537.3 134.7,537.8 135.3,538.4 135.9,539.0 136.5,539.7 137.1,540.5 137.7,541.4 138.3,542.3 138.9,543.2 139.5,544.2 140.1,545.2 140.7,546.2 141.3,547.3 141.9,548.3 142.5,549.4 143.1,550.5 143.7,551.5 144.3,552.6 144.9,553.6 145.5,554.6 146.1,555.6 146.7,556.5 147.3,557.4 147.9,558.3 148.5,559.1 149.1,559.9 149.7,560.6 150.3,561.3 150.9,562.0 151.5,562.6 152.1,563.2 152.7,563.7 153.3,564.2 153.9,564.7 154.5,565.1 155.1,565.5 155.7,565.8 156.3,566.2 156.9,566.4 157.5,566.7 158.1,566.9 158.7,567.1 159.3,567.3 159.9,567.5 160.5,567.6 161.1,567.8 161.7,567.9 162.3,568.0 162.9,568.1 163.5,568.2 164.1,568.2 164.7,568.3 165.3,568.3 165.9,568.4 166.5,568.4 167.1,568.4 167.7,568.5 168.3,568.5 168.9,568.5 169.5,568.5 170.1,568.5 170.7,568.5 171.3,568.6 171.9,568.6 172.5,568.6 173.1,568.6 173.7,568.6 174.3,568.6 174.9,568.6 175.5,568.6 176.1,568.6 176.7,568.6 177.3,568.6 177.9,568.6 178.5,568.6 179.1,568.6 179.7,568.6 180.3,568.6 180.9,568.6 181.5,568.6 182.1,568.6 182.7,568.6 183.3,568.6 183.9,568.6 184.5,568.6 185.1,568.6 185.7,568.6 186.3,568.6 186.9,568.6 187.5,568.6 188.1,568.6 188.7,568.6 189.3,568.6 189.9,568.6 190.5,568.6 191.1,568.6 191.7,568.6 192.3,568.6 192.9,568.6 193.5,568.6 194.1,568.6 194.7,568.6 195.3,568.6 195.9,568.6 196.5,568.6 197.1,568.6 197.7,568.6 198.3,568.6 198.9,568.6 199.5,568.6 200.1,568.6 200.7,568.6 201.3,568.6 201.9,568.6 202.5,568.6 203.1,568.6 203.7,568.6 204.3,568.6 204.9,568.6 205.5,568.6 206.1,568.6 206.7,568.6 207.3,568.6 207.9,568.6 208.5,568.6 209.1,568.6 209.7,568.6 210.3,568.6 210.9,568.6 211.5,568.6 212.1,568.6 212.7,568.6 213.3,568.6 213.9,568.6 214.5,568.6 215.1,568.6 215.7,568.6 216.3,568.6 216.9,568.6 217.5,568.6 218.1,568.6 218.7,568.6 219.3,568.6 219.9,568.6 220.5,568.6 221.1,568.6 221.7,568.6 222.3,568.6 222.9,568.6 223.5,568.6 224.1,568.6 224.7,568.6 225.3,568.6 225.9,568.6 226.5,568.6 227.1,568.6 227.7,568.6 228.3,568.6 228.9,568.6 229.5,568.6 230.1,568.6 230.7,568.6 231.3,568.6 231.9,568.6 232.5,568.6 233.1,568.6 233.7,568.6 234.3,568.6 234.9,568.6 235.5,568.6 236.1,568.6 236.7,568.6 237.3,568.6 237.9,568.6 238.5,568.6 239.1,568.6 239.7,568.6 240.3,568.6 240.9,568.6 241.5,568.6" stroke="#2424e6" stroke-width="1.1" fill="none"/>
<line x1="106.00" y1="568.00" x2="184.00" y2="568.00" stroke="#3cc83c" stroke-width="1.2" />
<line x1="131.20" y1="505.00" x2="131.20" y2="544.00" stroke="#2424e6" stroke-width="1.2" stroke-dasharray="3.2 2.2"/>
<line x1="144.20" y1="511.50" x2="144.20" y2="526.00" stroke="#28c8d2" stroke-width="1.2" stroke-dasharray="3.2 2.2"/>
<line x1="163.10" y1="494.00" x2="163.10" y2="527.00" stroke="#e81e8c" stroke-width="1.2" stroke-dasharray="3.2 2.2"/>
<text x="44.70" y="484.70" font-size="11" text-anchor="start" fill="#f01e1e" transform="matrix(1.0,0,0,0.95,0.000,24.235)">p-Si@MgSiN<tspan font-size="8.2" dy="2.80">2</tspan></text>
<text x="128.10" y="485.30" font-size="11" text-anchor="start" fill="#28c8d2" transform="matrix(1.0,0,0,0.95,0.000,24.265)">LiSi<tspan font-size="8.2" dy="2.80">x</tspan><tspan dy="-2.80">O</tspan><tspan font-size="8.2" dy="2.80">y</tspan></text>
<text x="239.50" y="485.00" font-size="11" text-anchor="end" fill="#000000" transform="matrix(1.0,0,0,0.95,0.000,24.250)">Si 2<tspan font-style="italic">p</tspan></text>
<text x="106.90" y="497.70" font-size="11" text-anchor="start" fill="#2424e6" transform="matrix(1.0,0,0,0.95,0.000,24.885)">Si<tspan font-size="8.2" dy="2.80">3</tspan><tspan dy="-2.80">N</tspan><tspan font-size="8.2" dy="2.80">4</tspan></text>
<text x="164.90" y="497.70" font-size="11" text-anchor="start" fill="#e81e8c" transform="matrix(1.0,0,0,0.95,0.000,24.885)">LiSi<tspan font-size="8.2" dy="2.80">x</tspan><tspan dy="-2.80">N</tspan><tspan font-size="8.2" dy="2.80">y</tspan></text>
<path d="M41.1,678.6 41.7,678.6 42.3,678.6 42.9,678.6 43.5,678.6 44.1,678.6 44.7,678.6 45.3,678.6 45.9,678.6 46.5,678.6 47.1,678.6 47.7,678.6 48.3,678.6 48.9,678.6 49.5,678.6 50.1,678.6 50.7,678.6 51.3,678.6 51.9,678.6 52.5,678.6 53.1,678.6 53.7,678.6 54.3,678.6 54.9,678.6 55.5,678.6 56.1,678.6 56.7,678.6 57.3,678.6 57.9,678.6 58.5,678.6 59.1,678.6 59.7,678.6 60.3,678.6 60.9,678.6 61.5,678.6 62.1,678.6 62.7,678.6 63.3,678.6 63.9,678.6 64.5,678.6 65.1,678.6 65.7,678.6 66.3,678.6 66.9,678.6 67.5,678.6 68.1,678.6 68.7,678.6 69.3,678.6 69.9,678.6 70.5,678.6 71.1,678.6 71.7,678.6 72.3,678.6 72.9,678.6 73.5,678.6 74.1,678.6 74.7,678.6 75.3,678.6 75.9,678.6 76.5,678.6 77.1,678.6 77.7,678.6 78.3,678.6 78.9,678.6 79.5,678.6 80.1,678.6 80.7,678.6 81.3,678.6 81.9,678.6 82.5,678.6 83.1,678.6 83.7,678.6 84.3,678.6 84.9,678.6 85.5,678.6 86.1,678.6 86.7,678.6 87.3,678.6 87.9,678.6 88.5,678.6 89.1,678.6 89.7,678.6 90.3,678.6 90.9,678.6 91.5,678.6 92.1,678.6 92.7,678.6 93.3,678.6 93.9,678.6 94.5,678.6 95.1,678.6 95.7,678.6 96.3,678.7 96.9,678.7 97.5,678.7 98.1,678.7 98.7,678.7 99.3,678.7 99.9,678.7 100.5,678.7 101.1,678.8 101.7,678.8 102.3,678.8 102.9,678.8 103.5,678.8 104.1,678.9 104.7,678.9 105.3,678.9 105.9,679.0 106.5,679.0 107.1,679.0 107.7,679.1 108.3,679.1 108.9,679.2 109.5,679.2 110.1,679.3 110.7,679.3 111.3,679.4 111.9,679.4 112.5,679.5 113.1,679.5 113.7,679.6 114.3,679.7 114.9,679.7 115.5,679.8 116.1,679.8 116.7,679.9 117.3,680.0 117.9,680.0 118.5,680.1 119.1,680.2 119.7,680.2 120.3,680.3 120.9,680.3 121.5,680.4 122.1,680.4 122.7,680.5 123.3,680.6 123.9,680.6 124.5,680.7 125.1,680.7 125.7,680.8 126.3,680.8 126.9,680.9 127.5,680.9 128.1,681.0 128.7,681.0 129.3,681.0 129.9,681.1 130.5,681.1 131.1,681.2 131.7,681.2 132.3,681.2 132.9,681.3 133.5,681.3 134.1,681.3 134.7,681.4 135.3,681.4 135.9,681.4 136.5,681.4 137.1,681.5 137.7,681.5 138.3,681.5 138.9,681.5 139.5,681.6 140.1,681.6 140.7,681.6 141.3,681.6 141.9,681.6 142.5,681.7 143.1,681.7 143.7,681.7 144.3,681.7 144.9,681.7 145.5,681.7 146.1,681.7 146.7,681.8 147.3,681.8 147.9,681.8 148.5,681.8 149.1,681.8 149.7,681.8 150.3,681.8 150.9,681.8 151.5,681.8 152.1,681.8 152.7,681.8 153.3,681.9 153.9,681.9 154.5,681.9 155.1,681.9 155.7,681.9 156.3,681.9 156.9,681.9 157.5,681.9 158.1,681.9 158.7,681.9 159.3,681.9 159.9,681.9 160.5,681.9 161.1,681.9 161.7,681.9 162.3,681.9 162.9,682.0 163.5,682.0 164.1,682.0 164.7,682.0 165.3,682.0 165.9,682.0 166.5,682.0 167.1,682.1 167.7,682.1 168.3,682.1 168.9,682.2 169.5,682.2 170.1,682.2 170.7,682.3 171.3,682.3 171.9,682.3 172.5,682.4 173.1,682.4 173.7,682.5 174.3,682.6 174.9,682.6 175.5,682.7 176.1,682.7 176.7,682.8 177.3,682.9 177.9,682.9 178.5,683.0 179.1,683.1 179.7,683.1 180.3,683.2 180.9,683.3 181.5,683.3 182.1,683.4 182.7,683.4 183.3,683.4 183.9,683.5 184.5,683.5 185.1,683.5 185.7,683.5 186.3,683.6 186.9,683.6 187.5,683.6 188.1,683.6 188.7,683.6 189.3,683.6 189.9,683.6 190.5,683.6 191.1,683.6 191.7,683.6 192.3,683.6 192.9,683.6 193.5,683.6 194.1,683.6 194.7,683.6 195.3,683.6 195.9,683.6 196.5,683.6 197.1,683.6 197.7,683.6 198.3,683.6 198.9,683.6 199.5,683.6 200.1,683.6 200.7,683.6 201.3,683.6 201.9,683.6 202.5,683.6 203.1,683.6 203.7,683.6 204.3,683.6 204.9,683.6 205.5,683.6 206.1,683.6 206.7,683.6 207.3,683.6 207.9,683.6 208.5,683.6 209.1,683.6 209.7,683.6 210.3,683.6 210.9,683.6 211.5,683.6 212.1,683.6 212.7,683.6 213.3,683.6 213.9,683.6 214.5,683.6 215.1,683.6 215.7,683.6 216.3,683.6 216.9,683.6 217.5,683.6 218.1,683.6 218.7,683.6 219.3,683.6 219.9,683.6 220.5,683.6 221.1,683.6 221.7,683.6 222.3,683.6 222.9,683.6 223.5,683.6 224.1,683.6 224.7,683.6 225.3,683.6 225.9,683.6 226.5,683.6 227.1,683.6 227.7,683.6 228.3,683.6 228.9,683.6 229.5,683.6 230.1,683.6 230.7,683.6 231.3,683.6 231.9,683.6 232.5,683.6 233.1,683.6 233.7,683.6 234.3,683.6 234.9,683.6 235.5,683.6 236.1,683.6 236.7,683.6 237.3,683.6 237.9,683.6 238.5,683.6 239.1,683.6 239.7,683.6 240.3,683.6 240.9,683.6 241.5,683.6" stroke="#000" stroke-width="0.9" fill="none"/>
<path d="M41.1,678.9 41.7,679.0 42.3,679.2 42.9,679.2 43.5,679.3 44.1,679.5 44.7,679.7 45.3,679.4 45.9,679.2 46.5,679.4 47.1,679.6 47.7,678.5 48.3,677.5 48.9,678.0 49.5,678.5 50.1,679.1 50.7,679.7 51.3,679.3 51.9,679.0 52.5,679.3 53.1,679.6 53.7,678.6 54.3,677.7 54.9,678.1 55.5,678.5 56.1,678.3 56.7,678.0 57.3,678.3 57.9,678.7 58.5,678.7 59.1,678.8 59.7,678.1 60.3,677.4 60.9,677.7 61.5,677.9 62.1,678.0 62.7,678.1 63.3,678.8 63.9,679.6 64.5,679.4 65.1,679.2 65.7,678.5 66.3,677.8 66.9,678.5 67.5,679.3 68.1,678.5 68.7,677.7 69.3,678.3 69.9,678.9 70.5,678.3 71.1,677.7 71.7,677.6 72.3,677.4 72.9,678.4 73.5,679.5 74.1,678.7 74.7,677.9 75.3,677.9 75.9,677.9 76.5,678.8 77.1,679.7 77.7,679.6 78.3,679.5 78.9,678.8 79.5,678.0 80.1,678.8 80.7,679.6 81.3,679.1 81.9,678.6 82.5,678.7 83.1,678.8 83.7,678.2 84.3,677.6 84.9,678.4 85.5,679.2 86.1,678.8 86.7,678.3 87.3,678.5 87.9,678.7 88.5,678.4 89.1,678.1 89.7,677.1 90.3,676.0 90.9,675.7 91.5,675.4 92.1,674.6 92.7,673.8 93.3,673.2 93.9,672.4 94.5,671.5 95.1,670.5 95.7,669.8 96.3,668.9 96.9,668.1 97.5,667.1 98.1,664.9 98.7,662.5 99.3,661.6 99.9,660.6 100.5,658.2 101.1,655.7 101.7,653.4 102.3,651.0 102.9,649.2 103.5,647.3 104.1,644.3 104.7,641.2 105.3,638.3 105.9,635.3 106.5,632.8 107.1,630.2 107.7,627.7 108.3,625.3 108.9,622.0 109.5,618.7 110.1,617.4 110.7,616.3 111.3,613.0 111.9,610.0 112.5,609.1 113.1,608.5 113.7,607.3 114.3,606.3 114.9,604.4 115.5,602.8 116.1,603.3 116.7,604.0 117.3,603.5 117.9,603.2 118.5,603.8 119.1,604.6 119.7,604.7 120.3,604.8 120.9,605.9 121.5,607.0 122.1,608.4 122.7,609.9 123.3,612.2 123.9,614.5 124.5,615.1 125.1,615.8 125.7,618.0 126.3,620.3 126.9,622.2 127.5,624.0 128.1,625.8 128.7,627.5 129.3,628.5 129.9,629.5 130.5,631.3 131.1,633.1 131.7,635.0 132.3,637.0 132.9,639.0 133.5,641.0 134.1,641.9 134.7,642.7 135.3,645.0 135.9,647.3 136.5,648.8 137.1,650.2 137.7,651.6 138.3,653.0 138.9,653.1 139.5,653.3 140.1,655.4 140.7,657.5 141.3,657.4 141.9,657.4 142.5,658.6 143.1,659.8 143.7,661.0 144.3,662.3 144.9,663.6 145.5,664.9 146.1,665.2 146.7,665.5 147.3,667.2 147.9,668.9 148.5,669.4 149.1,670.0 149.7,670.6 150.3,671.3 150.9,672.1 151.5,672.9 152.1,673.4 152.7,673.9 153.3,674.2 153.9,674.5 154.5,674.9 155.1,675.2 155.7,675.9 156.3,676.5 156.9,676.7 157.5,676.8 158.1,675.4 158.7,674.0 159.3,673.3 159.9,672.5 160.5,672.9 161.1,673.2 161.7,671.6 162.3,670.0 162.9,668.6 163.5,667.1 164.1,665.3 164.7,663.3 165.3,661.8 165.9,659.9 166.5,657.7 167.1,655.2 167.7,651.7 168.3,648.0 168.9,644.5 169.5,640.8 170.1,636.6 170.7,632.4 171.3,629.7 171.9,627.0 172.5,622.4 173.1,617.9 173.7,615.2 174.3,612.6 174.9,610.1 175.5,607.8 176.1,604.4 176.7,601.3 177.3,600.2 177.9,599.7 178.5,599.5 179.1,600.4 179.7,601.8 180.3,604.4 180.9,608.9 181.5,614.6 182.1,620.2 182.7,626.5 183.3,634.4 183.9,642.2 184.5,648.9 185.1,655.0 185.7,661.6 186.3,667.3 186.9,670.7 187.5,673.3 188.1,676.0 188.7,678.1 189.3,680.2 189.9,682.0 190.5,682.6 191.1,683.0 191.7,683.6 192.3,684.0 192.9,683.6 193.5,683.1 194.1,683.3 194.7,683.4 195.3,683.7 195.9,684.1 196.5,683.8 197.1,683.5 197.7,683.3 198.3,683.1 198.9,683.2 199.5,683.4 200.1,683.1 200.7,682.7 201.3,683.0 201.9,683.3 202.5,684.0 203.1,684.8 203.7,684.7 204.3,684.7 204.9,684.3 205.5,683.9 206.1,683.8 206.7,683.6 207.3,683.4 207.9,683.2 208.5,682.9 209.1,682.6 209.7,682.8 210.3,683.1 210.9,683.7 211.5,684.3 212.1,684.4 212.7,684.5 213.3,683.9 213.9,683.3 214.5,683.8 215.1,684.3 215.7,684.3 216.3,684.3 216.9,684.2 217.5,684.1 218.1,684.0 218.7,684.0 219.3,684.1 219.9,684.2 220.5,683.7 221.1,683.3 221.7,683.7 222.3,684.1 222.9,683.6 223.5,683.1 224.1,683.3 224.7,683.6 225.3,683.9 225.9,684.2 226.5,684.2 227.1,684.1 227.7,683.6 228.3,683.1 228.9,683.9 229.5,684.7 230.1,684.3 230.7,684.0 231.3,683.9 231.9,683.8 232.5,683.1 233.1,682.4 233.7,683.1 234.3,683.7 234.9,683.4 235.5,683.0 236.1,683.5 236.7,684.0 237.3,683.8 237.9,683.5 238.5,683.9 239.1,684.4 239.7,684.2 240.3,684.0 240.9,684.1 241.5,684.3" stroke="#000" stroke-width="1.0" fill="none" stroke-linejoin="round"/>
<path d="M41.1,678.6 41.7,678.6 42.3,678.6 42.9,678.6 43.5,678.6 44.1,678.6 44.7,678.6 45.3,678.6 45.9,678.6 46.5,678.6 47.1,678.6 47.7,678.6 48.3,678.6 48.9,678.6 49.5,678.6 50.1,678.6 50.7,678.6 51.3,678.6 51.9,678.6 52.5,678.6 53.1,678.6 53.7,678.6 54.3,678.6 54.9,678.6 55.5,678.6 56.1,678.6 56.7,678.6 57.3,678.6 57.9,678.6 58.5,678.6 59.1,678.6 59.7,678.6 60.3,678.6 60.9,678.6 61.5,678.6 62.1,678.6 62.7,678.6 63.3,678.6 63.9,678.6 64.5,678.6 65.1,678.6 65.7,678.6 66.3,678.6 66.9,678.6 67.5,678.6 68.1,678.6 68.7,678.6 69.3,678.6 69.9,678.6 70.5,678.6 71.1,678.6 71.7,678.6 72.3,678.6 72.9,678.6 73.5,678.6 74.1,678.6 74.7,678.6 75.3,678.6 75.9,678.6 76.5,678.6 77.1,678.6 77.7,678.6 78.3,678.6 78.9,678.6 79.5,678.5 80.1,678.5 80.7,678.5 81.3,678.5 81.9,678.5 82.5,678.4 83.1,678.4 83.7,678.3 84.3,678.3 84.9,678.2 85.5,678.1 86.1,678.0 86.7,677.9 87.3,677.7 87.9,677.6 88.5,677.4 89.1,677.1 89.7,676.8 90.3,676.5 90.9,676.1 91.5,675.7 92.1,675.2 92.7,674.6 93.3,674.0 93.9,673.3 94.5,672.5 95.1,671.5 95.7,670.5 96.3,669.4 96.9,668.2 97.5,666.8 98.1,665.3 98.7,663.7 99.3,662.0 99.9,660.2 100.5,658.2 101.1,656.1 101.7,653.9 102.3,651.5 102.9,649.1 103.5,646.6 104.1,644.0 104.7,641.3 105.3,638.7 105.9,635.9 106.5,633.2 107.1,630.5 107.7,627.9 108.3,625.3 108.9,622.8 109.5,620.4 110.1,618.2 110.7,616.1 111.3,614.2 111.9,612.6 112.5,611.1 113.1,609.9 113.7,609.0 114.3,608.4 114.9,608.0 115.5,607.9 116.1,608.1 116.7,608.6 117.3,609.4 117.9,610.4 118.5,611.7 119.1,613.3 119.7,615.1 120.3,617.1 120.9,619.2 121.5,621.6 122.1,624.0 122.7,626.6 123.3,629.3 123.9,632.1 124.5,634.9 125.1,637.7 125.7,640.5 126.3,643.3 126.9,646.0 127.5,648.7 128.1,651.2 128.7,653.7 129.3,656.1 129.9,658.4 130.5,660.6 131.1,662.6 131.7,664.5 132.3,666.3 132.9,667.9 133.5,669.4 134.1,670.8 134.7,672.1 135.3,673.3 135.9,674.3 136.5,675.3 137.1,676.1 137.7,676.9 138.3,677.5 138.9,678.1 139.5,678.6 140.1,679.1 140.7,679.5 141.3,679.8 141.9,680.2 142.5,680.4 143.1,680.6 143.7,680.8 144.3,681.0 144.9,681.1 145.5,681.3 146.1,681.4 146.7,681.4 147.3,681.5 147.9,681.6 148.5,681.6 149.1,681.7 149.7,681.7 150.3,681.7 150.9,681.8 151.5,681.8 152.1,681.8 152.7,681.8 153.3,681.8 153.9,681.8 154.5,681.8 155.1,681.9 155.7,681.9 156.3,681.9 156.9,681.9 157.5,681.9 158.1,681.9 158.7,681.9 159.3,681.9 159.9,681.9 160.5,681.9 161.1,681.9 161.7,681.9 162.3,681.9 162.9,682.0 163.5,682.0 164.1,682.0 164.7,682.0 165.3,682.0 165.9,682.0 166.5,682.0 167.1,682.1 167.7,682.1 168.3,682.1 168.9,682.2 169.5,682.2 170.1,682.2 170.7,682.3 171.3,682.3 171.9,682.3 172.5,682.4 173.1,682.4 173.7,682.5 174.3,682.6 174.9,682.6 175.5,682.7 176.1,682.7 176.7,682.8 177.3,682.9 177.9,682.9 178.5,683.0 179.1,683.1 179.7,683.1 180.3,683.2 180.9,683.3 181.5,683.3 182.1,683.4 182.7,683.4 183.3,683.4 183.9,683.5 184.5,683.5 185.1,683.5 185.7,683.5 186.3,683.6 186.9,683.6 187.5,683.6 188.1,683.6 188.7,683.6 189.3,683.6 189.9,683.6 190.5,683.6 191.1,683.6 191.7,683.6 192.3,683.6 192.9,683.6 193.5,683.6 194.1,683.6 194.7,683.6 195.3,683.6 195.9,683.6 196.5,683.6 197.1,683.6 197.7,683.6 198.3,683.6 198.9,683.6 199.5,683.6 200.1,683.6 200.7,683.6 201.3,683.6 201.9,683.6 202.5,683.6 203.1,683.6 203.7,683.6 204.3,683.6 204.9,683.6 205.5,683.6 206.1,683.6 206.7,683.6 207.3,683.6 207.9,683.6 208.5,683.6 209.1,683.6 209.7,683.6 210.3,683.6 210.9,683.6 211.5,683.6 212.1,683.6 212.7,683.6 213.3,683.6 213.9,683.6 214.5,683.6 215.1,683.6 215.7,683.6 216.3,683.6 216.9,683.6 217.5,683.6 218.1,683.6 218.7,683.6 219.3,683.6 219.9,683.6 220.5,683.6 221.1,683.6 221.7,683.6 222.3,683.6 222.9,683.6 223.5,683.6 224.1,683.6 224.7,683.6 225.3,683.6 225.9,683.6 226.5,683.6 227.1,683.6 227.7,683.6 228.3,683.6 228.9,683.6 229.5,683.6 230.1,683.6 230.7,683.6 231.3,683.6 231.9,683.6 232.5,683.6 233.1,683.6 233.7,683.6 234.3,683.6 234.9,683.6 235.5,683.6 236.1,683.6 236.7,683.6 237.3,683.6 237.9,683.6 238.5,683.6 239.1,683.6 239.7,683.6 240.3,683.6 240.9,683.6 241.5,683.6" stroke="#1e961e" stroke-width="1.1" fill="none"/>
<path d="M41.1,678.6 41.7,678.6 42.3,678.6 42.9,678.6 43.5,678.6 44.1,678.6 44.7,678.6 45.3,678.6 45.9,678.6 46.5,678.6 47.1,678.6 47.7,678.6 48.3,678.6 48.9,678.6 49.5,678.6 50.1,678.6 50.7,678.6 51.3,678.6 51.9,678.6 52.5,678.6 53.1,678.6 53.7,678.6 54.3,678.6 54.9,678.6 55.5,678.6 56.1,678.6 56.7,678.6 57.3,678.6 57.9,678.6 58.5,678.6 59.1,678.6 59.7,678.6 60.3,678.6 60.9,678.6 61.5,678.6 62.1,678.6 62.7,678.6 63.3,678.6 63.9,678.6 64.5,678.6 65.1,678.6 65.7,678.6 66.3,678.6 66.9,678.6 67.5,678.6 68.1,678.6 68.7,678.6 69.3,678.6 69.9,678.6 70.5,678.6 71.1,678.6 71.7,678.6 72.3,678.6 72.9,678.6 73.5,678.6 74.1,678.6 74.7,678.6 75.3,678.6 75.9,678.6 76.5,678.6 77.1,678.6 77.7,678.6 78.3,678.6 78.9,678.6 79.5,678.6 80.1,678.6 80.7,678.6 81.3,678.6 81.9,678.6 82.5,678.6 83.1,678.6 83.7,678.6 84.3,678.6 84.9,678.6 85.5,678.6 86.1,678.6 86.7,678.6 87.3,678.6 87.9,678.6 88.5,678.6 89.1,678.6 89.7,678.6 90.3,678.6 90.9,678.6 91.5,678.6 92.1,678.6 92.7,678.6 93.3,678.6 93.9,678.6 94.5,678.6 95.1,678.6 95.7,678.6 96.3,678.7 96.9,678.7 97.5,678.7 98.1,678.7 98.7,678.7 99.3,678.7 99.9,678.7 100.5,678.7 101.1,678.7 101.7,678.7 102.3,678.8 102.9,678.8 103.5,678.8 104.1,678.8 104.7,678.8 105.3,678.8 105.9,678.8 106.5,678.8 107.1,678.8 107.7,678.7 108.3,678.7 108.9,678.6 109.5,678.6 110.1,678.5 110.7,678.3 111.3,678.2 111.9,678.0 112.5,677.7 113.1,677.5 113.7,677.1 114.3,676.8 114.9,676.3 115.5,675.8 116.1,675.2 116.7,674.6 117.3,673.9 117.9,673.1 118.5,672.2 119.1,671.3 119.7,670.3 120.3,669.2 120.9,668.1 121.5,667.0 122.1,665.7 122.7,664.5 123.3,663.3 123.9,662.0 124.5,660.8 125.1,659.6 125.7,658.5 126.3,657.4 126.9,656.4 127.5,655.5 128.1,654.7 128.7,654.1 129.3,653.6 129.9,653.2 130.5,653.0 131.1,653.0 131.7,653.1 132.3,653.3 132.9,653.8 133.5,654.4 134.1,655.1 134.7,655.9 135.3,656.9 135.9,658.0 136.5,659.1 137.1,660.4 137.7,661.6 138.3,662.9 138.9,664.2 139.5,665.6 140.1,666.9 140.7,668.2 141.3,669.4 141.9,670.6 142.5,671.7 143.1,672.8 143.7,673.8 144.3,674.8 144.9,675.6 145.5,676.4 146.1,677.1 146.7,677.8 147.3,678.4 147.9,678.9 148.5,679.3 149.1,679.7 149.7,680.1 150.3,680.4 150.9,680.6 151.5,680.8 152.1,681.0 152.7,681.2 153.3,681.3 153.9,681.4 154.5,681.5 155.1,681.6 155.7,681.7 156.3,681.7 156.9,681.7 157.5,681.8 158.1,681.8 158.7,681.8 159.3,681.9 159.9,681.9 160.5,681.9 161.1,681.9 161.7,681.9 162.3,681.9 162.9,681.9 163.5,682.0 164.1,682.0 164.7,682.0 165.3,682.0 165.9,682.0 166.5,682.0 167.1,682.1 167.7,682.1 168.3,682.1 168.9,682.2 169.5,682.2 170.1,682.2 170.7,682.3 171.3,682.3 171.9,682.3 172.5,682.4 173.1,682.4 173.7,682.5 174.3,682.6 174.9,682.6 175.5,682.7 176.1,682.7 176.7,682.8 177.3,682.9 177.9,682.9 178.5,683.0 179.1,683.1 179.7,683.1 180.3,683.2 180.9,683.3 181.5,683.3 182.1,683.4 182.7,683.4 183.3,683.4 183.9,683.5 184.5,683.5 185.1,683.5 185.7,683.5 186.3,683.6 186.9,683.6 187.5,683.6 188.1,683.6 188.7,683.6 189.3,683.6 189.9,683.6 190.5,683.6 191.1,683.6 191.7,683.6 192.3,683.6 192.9,683.6 193.5,683.6 194.1,683.6 194.7,683.6 195.3,683.6 195.9,683.6 196.5,683.6 197.1,683.6 197.7,683.6 198.3,683.6 198.9,683.6 199.5,683.6 200.1,683.6 200.7,683.6 201.3,683.6 201.9,683.6 202.5,683.6 203.1,683.6 203.7,683.6 204.3,683.6 204.9,683.6 205.5,683.6 206.1,683.6 206.7,683.6 207.3,683.6 207.9,683.6 208.5,683.6 209.1,683.6 209.7,683.6 210.3,683.6 210.9,683.6 211.5,683.6 212.1,683.6 212.7,683.6 213.3,683.6 213.9,683.6 214.5,683.6 215.1,683.6 215.7,683.6 216.3,683.6 216.9,683.6 217.5,683.6 218.1,683.6 218.7,683.6 219.3,683.6 219.9,683.6 220.5,683.6 221.1,683.6 221.7,683.6 222.3,683.6 222.9,683.6 223.5,683.6 224.1,683.6 224.7,683.6 225.3,683.6 225.9,683.6 226.5,683.6 227.1,683.6 227.7,683.6 228.3,683.6 228.9,683.6 229.5,683.6 230.1,683.6 230.7,683.6 231.3,683.6 231.9,683.6 232.5,683.6 233.1,683.6 233.7,683.6 234.3,683.6 234.9,683.6 235.5,683.6 236.1,683.6 236.7,683.6 237.3,683.6 237.9,683.6 238.5,683.6 239.1,683.6 239.7,683.6 240.3,683.6 240.9,683.6 241.5,683.6" stroke="#2424e6" stroke-width="1.1" fill="none"/>
<path d="M41.1,678.6 41.7,678.6 42.3,678.6 42.9,678.6 43.5,678.6 44.1,678.6 44.7,678.6 45.3,678.6 45.9,678.6 46.5,678.6 47.1,678.6 47.7,678.6 48.3,678.6 48.9,678.6 49.5,678.6 50.1,678.6 50.7,678.6 51.3,678.6 51.9,678.6 52.5,678.6 53.1,678.6 53.7,678.6 54.3,678.6 54.9,678.6 55.5,678.6 56.1,678.6 56.7,678.6 57.3,678.6 57.9,678.6 58.5,678.6 59.1,678.6 59.7,678.6 60.3,678.6 60.9,678.6 61.5,678.6 62.1,678.6 62.7,678.6 63.3,678.6 63.9,678.6 64.5,678.6 65.1,678.6 65.7,678.6 66.3,678.6 66.9,678.6 67.5,678.6 68.1,678.6 68.7,678.6 69.3,678.6 69.9,678.6 70.5,678.6 71.1,678.6 71.7,678.6 72.3,678.6 72.9,678.6 73.5,678.6 74.1,678.6 74.7,678.6 75.3,678.6 75.9,678.6 76.5,678.6 77.1,678.6 77.7,678.6 78.3,678.6 78.9,678.6 79.5,678.6 80.1,678.6 80.7,678.6 81.3,678.6 81.9,678.6 82.5,678.6 83.1,678.6 83.7,678.6 84.3,678.6 84.9,678.6 85.5,678.6 86.1,678.6 86.7,678.6 87.3,678.6 87.9,678.6 88.5,678.6 89.1,678.6 89.7,678.6 90.3,678.6 90.9,678.6 91.5,678.6 92.1,678.6 92.7,678.6 93.3,678.6 93.9,678.6 94.5,678.6 95.1,678.6 95.7,678.6 96.3,678.7 96.9,678.7 97.5,678.7 98.1,678.7 98.7,678.7 99.3,678.7 99.9,678.7 100.5,678.7 101.1,678.8 101.7,678.8 102.3,678.8 102.9,678.8 103.5,678.8 104.1,678.9 104.7,678.9 105.3,678.9 105.9,679.0 106.5,679.0 107.1,679.0 107.7,679.1 108.3,679.1 108.9,679.2 109.5,679.2 110.1,679.3 110.7,679.3 111.3,679.4 111.9,679.4 112.5,679.5 113.1,679.5 113.7,679.6 114.3,679.7 114.9,679.7 115.5,679.8 116.1,679.8 116.7,679.9 117.3,680.0 117.9,680.0 118.5,680.1 119.1,680.2 119.7,680.2 120.3,680.3 120.9,680.3 121.5,680.4 122.1,680.4 122.7,680.5 123.3,680.5 123.9,680.6 124.5,680.6 125.1,680.6 125.7,680.7 126.3,680.7 126.9,680.7 127.5,680.7 128.1,680.7 128.7,680.6 129.3,680.6 129.9,680.5 130.5,680.3 131.1,680.2 131.7,680.0 132.3,679.7 132.9,679.4 133.5,679.1 134.1,678.7 134.7,678.3 135.3,677.8 135.9,677.2 136.5,676.6 137.1,676.0 137.7,675.3 138.3,674.7 138.9,674.0 139.5,673.3 140.1,672.6 140.7,672.0 141.3,671.4 141.9,670.9 142.5,670.4 143.1,670.1 143.7,669.8 144.3,669.7 144.9,669.7 145.5,669.8 146.1,670.0 146.7,670.3 147.3,670.7 147.9,671.2 148.5,671.8 149.1,672.4 149.7,673.1 150.3,673.8 150.9,674.5 151.5,675.2 152.1,675.9 152.7,676.6 153.3,677.3 153.9,677.9 154.5,678.4 155.1,678.9 155.7,679.4 156.3,679.8 156.9,680.2 157.5,680.5 158.1,680.8 158.7,681.0 159.3,681.2 159.9,681.3 160.5,681.5 161.1,681.6 161.7,681.7 162.3,681.7 162.9,681.8 163.5,681.9 164.1,681.9 164.7,681.9 165.3,682.0 165.9,682.0 166.5,682.0 167.1,682.1 167.7,682.1 168.3,682.1 168.9,682.1 169.5,682.2 170.1,682.2 170.7,682.3 171.3,682.3 171.9,682.3 172.5,682.4 173.1,682.4 173.7,682.5 174.3,682.6 174.9,682.6 175.5,682.7 176.1,682.7 176.7,682.8 177.3,682.9 177.9,682.9 178.5,683.0 179.1,683.1 179.7,683.1 180.3,683.2 180.9,683.3 181.5,683.3 182.1,683.4 182.7,683.4 183.3,683.4 183.9,683.5 184.5,683.5 185.1,683.5 185.7,683.5 186.3,683.6 186.9,683.6 187.5,683.6 188.1,683.6 188.7,683.6 189.3,683.6 189.9,683.6 190.5,683.6 191.1,683.6 191.7,683.6 192.3,683.6 192.9,683.6 193.5,683.6 194.1,683.6 194.7,683.6 195.3,683.6 195.9,683.6 196.5,683.6 197.1,683.6 197.7,683.6 198.3,683.6 198.9,683.6 199.5,683.6 200.1,683.6 200.7,683.6 201.3,683.6 201.9,683.6 202.5,683.6 203.1,683.6 203.7,683.6 204.3,683.6 204.9,683.6 205.5,683.6 206.1,683.6 206.7,683.6 207.3,683.6 207.9,683.6 208.5,683.6 209.1,683.6 209.7,683.6 210.3,683.6 210.9,683.6 211.5,683.6 212.1,683.6 212.7,683.6 213.3,683.6 213.9,683.6 214.5,683.6 215.1,683.6 215.7,683.6 216.3,683.6 216.9,683.6 217.5,683.6 218.1,683.6 218.7,683.6 219.3,683.6 219.9,683.6 220.5,683.6 221.1,683.6 221.7,683.6 222.3,683.6 222.9,683.6 223.5,683.6 224.1,683.6 224.7,683.6 225.3,683.6 225.9,683.6 226.5,683.6 227.1,683.6 227.7,683.6 228.3,683.6 228.9,683.6 229.5,683.6 230.1,683.6 230.7,683.6 231.3,683.6 231.9,683.6 232.5,683.6 233.1,683.6 233.7,683.6 234.3,683.6 234.9,683.6 235.5,683.6 236.1,683.6 236.7,683.6 237.3,683.6 237.9,683.6 238.5,683.6 239.1,683.6 239.7,683.6 240.3,683.6 240.9,683.6 241.5,683.6" stroke="#28c8d2" stroke-width="1.1" fill="none"/>
<path d="M41.1,678.6 41.7,678.6 42.3,678.6 42.9,678.6 43.5,678.6 44.1,678.6 44.7,678.6 45.3,678.6 45.9,678.6 46.5,678.6 47.1,678.6 47.7,678.6 48.3,678.6 48.9,678.6 49.5,678.6 50.1,678.6 50.7,678.6 51.3,678.6 51.9,678.6 52.5,678.6 53.1,678.6 53.7,678.6 54.3,678.6 54.9,678.6 55.5,678.6 56.1,678.6 56.7,678.6 57.3,678.6 57.9,678.6 58.5,678.6 59.1,678.6 59.7,678.6 60.3,678.6 60.9,678.6 61.5,678.6 62.1,678.6 62.7,678.6 63.3,678.6 63.9,678.6 64.5,678.6 65.1,678.6 65.7,678.6 66.3,678.6 66.9,678.6 67.5,678.6 68.1,678.6 68.7,678.6 69.3,678.6 69.9,678.6 70.5,678.6 71.1,678.6 71.7,678.6 72.3,678.6 72.9,678.6 73.5,678.6 74.1,678.6 74.7,678.6 75.3,678.6 75.9,678.6 76.5,678.6 77.1,678.6 77.7,678.6 78.3,678.6 78.9,678.6 79.5,678.6 80.1,678.6 80.7,678.6 81.3,678.6 81.9,678.6 82.5,678.6 83.1,678.6 83.7,678.6 84.3,678.6 84.9,678.6 85.5,678.6 86.1,678.6 86.7,678.6 87.3,678.6 87.9,678.6 88.5,678.6 89.1,678.6 89.7,678.6 90.3,678.6 90.9,678.6 91.5,678.6 92.1,678.6 92.7,678.6 93.3,678.6 93.9,678.6 94.5,678.6 95.1,678.6 95.7,678.6 96.3,678.7 96.9,678.7 97.5,678.7 98.1,678.7 98.7,678.7 99.3,678.7 99.9,678.7 100.5,678.7 101.1,678.8 101.7,678.8 102.3,678.8 102.9,678.8 103.5,678.8 104.1,678.9 104.7,678.9 105.3,678.9 105.9,679.0 106.5,679.0 107.1,679.0 107.7,679.1 108.3,679.1 108.9,679.2 109.5,679.2 110.1,679.3 110.7,679.3 111.3,679.4 111.9,679.4 112.5,679.5 113.1,679.5 113.7,679.6 114.3,679.7 114.9,679.7 115.5,679.8 116.1,679.8 116.7,679.9 117.3,680.0 117.9,680.0 118.5,680.1 119.1,680.2 119.7,680.2 120.3,680.3 120.9,680.3 121.5,680.4 122.1,680.4 122.7,680.5 123.3,680.6 123.9,680.6 124.5,680.7 125.1,680.7 125.7,680.8 126.3,680.8 126.9,680.9 127.5,680.9 128.1,681.0 128.7,681.0 129.3,681.0 129.9,681.1 130.5,681.1 131.1,681.2 131.7,681.2 132.3,681.2 132.9,681.3 133.5,681.3 134.1,681.3 134.7,681.4 135.3,681.4 135.9,681.4 136.5,681.4 137.1,681.5 137.7,681.5 138.3,681.5 138.9,681.5 139.5,681.6 140.1,681.6 140.7,681.6 141.3,681.6 141.9,681.6 142.5,681.6 143.1,681.7 143.7,681.7 144.3,681.7 144.9,681.7 145.5,681.7 146.1,681.7 146.7,681.7 147.3,681.6 147.9,681.6 148.5,681.5 149.1,681.5 149.7,681.4 150.3,681.3 150.9,681.2 151.5,681.0 152.1,680.8 152.7,680.6 153.3,680.3 153.9,680.0 154.5,679.7 155.1,679.3 155.7,678.8 156.3,678.4 156.9,677.9 157.5,677.4 158.1,676.9 158.7,676.4 159.3,675.8 159.9,675.3 160.5,674.9 161.1,674.4 161.7,674.0 162.3,673.7 162.9,673.5 163.5,673.3 164.1,673.2 164.7,673.3 165.3,673.4 165.9,673.6 166.5,673.8 167.1,674.2 167.7,674.6 168.3,675.1 168.9,675.6 169.5,676.1 170.1,676.7 170.7,677.2 171.3,677.8 171.9,678.4 172.5,678.9 173.1,679.4 173.7,679.9 174.3,680.3 174.9,680.8 175.5,681.1 176.1,681.5 176.7,681.8 177.3,682.0 177.9,682.3 178.5,682.5 179.1,682.6 179.7,682.8 180.3,682.9 180.9,683.1 181.5,683.2 182.1,683.3 182.7,683.3 183.3,683.4 183.9,683.4 184.5,683.5 185.1,683.5 185.7,683.5 186.3,683.6 186.9,683.6 187.5,683.6 188.1,683.6 188.7,683.6 189.3,683.6 189.9,683.6 190.5,683.6 191.1,683.6 191.7,683.6 192.3,683.6 192.9,683.6 193.5,683.6 194.1,683.6 194.7,683.6 195.3,683.6 195.9,683.6 196.5,683.6 197.1,683.6 197.7,683.6 198.3,683.6 198.9,683.6 199.5,683.6 200.1,683.6 200.7,683.6 201.3,683.6 201.9,683.6 202.5,683.6 203.1,683.6 203.7,683.6 204.3,683.6 204.9,683.6 205.5,683.6 206.1,683.6 206.7,683.6 207.3,683.6 207.9,683.6 208.5,683.6 209.1,683.6 209.7,683.6 210.3,683.6 210.9,683.6 211.5,683.6 212.1,683.6 212.7,683.6 213.3,683.6 213.9,683.6 214.5,683.6 215.1,683.6 215.7,683.6 216.3,683.6 216.9,683.6 217.5,683.6 218.1,683.6 218.7,683.6 219.3,683.6 219.9,683.6 220.5,683.6 221.1,683.6 221.7,683.6 222.3,683.6 222.9,683.6 223.5,683.6 224.1,683.6 224.7,683.6 225.3,683.6 225.9,683.6 226.5,683.6 227.1,683.6 227.7,683.6 228.3,683.6 228.9,683.6 229.5,683.6 230.1,683.6 230.7,683.6 231.3,683.6 231.9,683.6 232.5,683.6 233.1,683.6 233.7,683.6 234.3,683.6 234.9,683.6 235.5,683.6 236.1,683.6 236.7,683.6 237.3,683.6 237.9,683.6 238.5,683.6 239.1,683.6 239.7,683.6 240.3,683.6 240.9,683.6 241.5,683.6" stroke="#e81e8c" stroke-width="1.1" fill="none"/>
<path d="M41.1,678.6 41.7,678.6 42.3,678.6 42.9,678.6 43.5,678.6 44.1,678.6 44.7,678.6 45.3,678.6 45.9,678.6 46.5,678.6 47.1,678.6 47.7,678.6 48.3,678.6 48.9,678.6 49.5,678.6 50.1,678.6 50.7,678.6 51.3,678.6 51.9,678.6 52.5,678.6 53.1,678.6 53.7,678.6 54.3,678.6 54.9,678.6 55.5,678.6 56.1,678.6 56.7,678.6 57.3,678.6 57.9,678.6 58.5,678.6 59.1,678.6 59.7,678.6 60.3,678.6 60.9,678.6 61.5,678.6 62.1,678.6 62.7,678.6 63.3,678.6 63.9,678.6 64.5,678.6 65.1,678.6 65.7,678.6 66.3,678.6 66.9,678.6 67.5,678.6 68.1,678.6 68.7,678.6 69.3,678.6 69.9,678.6 70.5,678.6 71.1,678.6 71.7,678.6 72.3,678.6 72.9,678.6 73.5,678.6 74.1,678.6 74.7,678.6 75.3,678.6 75.9,678.6 76.5,678.6 77.1,678.6 77.7,678.6 78.3,678.6 78.9,678.6 79.5,678.6 80.1,678.6 80.7,678.6 81.3,678.6 81.9,678.6 82.5,678.6 83.1,678.6 83.7,678.6 84.3,678.6 84.9,678.6 85.5,678.6 86.1,678.6 86.7,678.6 87.3,678.6 87.9,678.6 88.5,678.6 89.1,678.6 89.7,678.6 90.3,678.6 90.9,678.6 91.5,678.6 92.1,678.6 92.7,678.6 93.3,678.6 93.9,678.6 94.5,678.6 95.1,678.6 95.7,678.6 96.3,678.7 96.9,678.7 97.5,678.7 98.1,678.7 98.7,678.7 99.3,678.7 99.9,678.7 100.5,678.7 101.1,678.8 101.7,678.8 102.3,678.8 102.9,678.8 103.5,678.8 104.1,678.9 104.7,678.9 105.3,678.9 105.9,679.0 106.5,679.0 107.1,679.0 107.7,679.1 108.3,679.1 108.9,679.2 109.5,679.2 110.1,679.3 110.7,679.3 111.3,679.4 111.9,679.4 112.5,679.5 113.1,679.5 113.7,679.6 114.3,679.7 114.9,679.7 115.5,679.8 116.1,679.8 116.7,679.9 117.3,680.0 117.9,680.0 118.5,680.1 119.1,680.2 119.7,680.2 120.3,680.3 120.9,680.3 121.5,680.4 122.1,680.4 122.7,680.5 123.3,680.6 123.9,680.6 124.5,680.7 125.1,680.7 125.7,680.8 126.3,680.8 126.9,680.9 127.5,680.9 128.1,681.0 128.7,681.0 129.3,681.0 129.9,681.1 130.5,681.1 131.1,681.2 131.7,681.2 132.3,681.2 132.9,681.3 133.5,681.3 134.1,681.3 134.7,681.4 135.3,681.4 135.9,681.4 136.5,681.4 137.1,681.5 137.7,681.5 138.3,681.5 138.9,681.5 139.5,681.6 140.1,681.6 140.7,681.6 141.3,681.6 141.9,681.6 142.5,681.7 143.1,681.7 143.7,681.7 144.3,681.7 144.9,681.7 145.5,681.7 146.1,681.7 146.7,681.8 147.3,681.8 147.9,681.8 148.5,681.8 149.1,681.8 149.7,681.8 150.3,681.8 150.9,681.8 151.5,681.8 152.1,681.8 152.7,681.8 153.3,681.8 153.9,681.8 154.5,681.8 155.1,681.8 155.7,681.8 156.3,681.7 156.9,681.7 157.5,681.6 158.1,681.5 158.7,681.3 159.3,681.1 159.9,680.8 160.5,680.4 161.1,679.9 161.7,679.2 162.3,678.4 162.9,677.4 163.5,676.1 164.1,674.6 164.7,672.8 165.3,670.7 165.9,668.2 166.5,665.4 167.1,662.3 167.7,658.9 168.3,655.2 168.9,651.3 169.5,647.2 170.1,643.0 170.7,638.8 171.3,634.7 171.9,630.9 172.5,627.4 173.1,624.3 173.7,621.8 174.3,619.9 174.9,618.8 175.5,618.3 176.1,618.6 176.7,619.7 177.3,621.5 177.9,623.9 178.5,626.9 179.1,630.4 179.7,634.2 180.3,638.4 180.9,642.6 181.5,646.9 182.1,651.1 182.7,655.2 183.3,659.0 183.9,662.6 184.5,665.9 185.1,668.8 185.7,671.4 186.3,673.7 186.9,675.6 187.5,677.2 188.1,678.6 188.7,679.7 189.3,680.6 189.9,681.3 190.5,681.9 191.1,682.3 191.7,682.7 192.3,682.9 192.9,683.1 193.5,683.3 194.1,683.4 194.7,683.4 195.3,683.5 195.9,683.5 196.5,683.5 197.1,683.6 197.7,683.6 198.3,683.6 198.9,683.6 199.5,683.6 200.1,683.6 200.7,683.6 201.3,683.6 201.9,683.6 202.5,683.6 203.1,683.6 203.7,683.6 204.3,683.6 204.9,683.6 205.5,683.6 206.1,683.6 206.7,683.6 207.3,683.6 207.9,683.6 208.5,683.6 209.1,683.6 209.7,683.6 210.3,683.6 210.9,683.6 211.5,683.6 212.1,683.6 212.7,683.6 213.3,683.6 213.9,683.6 214.5,683.6 215.1,683.6 215.7,683.6 216.3,683.6 216.9,683.6 217.5,683.6 218.1,683.6 218.7,683.6 219.3,683.6 219.9,683.6 220.5,683.6 221.1,683.6 221.7,683.6 222.3,683.6 222.9,683.6 223.5,683.6 224.1,683.6 224.7,683.6 225.3,683.6 225.9,683.6 226.5,683.6 227.1,683.6 227.7,683.6 228.3,683.6 228.9,683.6 229.5,683.6 230.1,683.6 230.7,683.6 231.3,683.6 231.9,683.6 232.5,683.6 233.1,683.6 233.7,683.6 234.3,683.6 234.9,683.6 235.5,683.6 236.1,683.6 236.7,683.6 237.3,683.6 237.9,683.6 238.5,683.6 239.1,683.6 239.7,683.6 240.3,683.6 240.9,683.6 241.5,683.6" stroke="#000000" stroke-width="1.1" fill="none"/>
<path d="M41.1,678.6 41.7,678.6 42.3,678.6 42.9,678.6 43.5,678.6 44.1,678.6 44.7,678.6 45.3,678.6 45.9,678.6 46.5,678.6 47.1,678.6 47.7,678.6 48.3,678.6 48.9,678.6 49.5,678.6 50.1,678.6 50.7,678.6 51.3,678.6 51.9,678.6 52.5,678.6 53.1,678.6 53.7,678.6 54.3,678.6 54.9,678.6 55.5,678.6 56.1,678.6 56.7,678.6 57.3,678.6 57.9,678.6 58.5,678.6 59.1,678.6 59.7,678.6 60.3,678.6 60.9,678.6 61.5,678.6 62.1,678.6 62.7,678.6 63.3,678.6 63.9,678.6 64.5,678.6 65.1,678.6 65.7,678.6 66.3,678.6 66.9,678.6 67.5,678.6 68.1,678.6 68.7,678.6 69.3,678.6 69.9,678.6 70.5,678.6 71.1,678.6 71.7,678.6 72.3,678.6 72.9,678.6 73.5,678.6 74.1,678.6 74.7,678.6 75.3,678.6 75.9,678.6 76.5,678.6 77.1,678.6 77.7,678.6 78.3,678.6 78.9,678.6 79.5,678.6 80.1,678.6 80.7,678.6 81.3,678.6 81.9,678.6 82.5,678.6 83.1,678.6 83.7,678.6 84.3,678.6 84.9,678.6 85.5,678.6 86.1,678.6 86.7,678.6 87.3,678.6 87.9,678.6 88.5,678.6 89.1,678.6 89.7,678.6 90.3,678.6 90.9,678.6 91.5,678.6 92.1,678.6 92.7,678.6 93.3,678.6 93.9,678.6 94.5,678.6 95.1,678.6 95.7,678.6 96.3,678.7 96.9,678.7 97.5,678.7 98.1,678.7 98.7,678.7 99.3,678.7 99.9,678.7 100.5,678.7 101.1,678.8 101.7,678.8 102.3,678.8 102.9,678.8 103.5,678.8 104.1,678.9 104.7,678.9 105.3,678.9 105.9,679.0 106.5,679.0 107.1,679.0 107.7,679.1 108.3,679.1 108.9,679.2 109.5,679.2 110.1,679.3 110.7,679.3 111.3,679.4 111.9,679.4 112.5,679.5 113.1,679.5 113.7,679.6 114.3,679.7 114.9,679.7 115.5,679.8 116.1,679.8 116.7,679.9 117.3,680.0 117.9,680.0 118.5,680.1 119.1,680.2 119.7,680.2 120.3,680.3 120.9,680.3 121.5,680.4 122.1,680.4 122.7,680.5 123.3,680.6 123.9,680.6 124.5,680.7 125.1,680.7 125.7,680.8 126.3,680.8 126.9,680.9 127.5,680.9 128.1,681.0 128.7,681.0 129.3,681.0 129.9,681.1 130.5,681.1 131.1,681.2 131.7,681.2 132.3,681.2 132.9,681.3 133.5,681.3 134.1,681.3 134.7,681.4 135.3,681.4 135.9,681.4 136.5,681.4 137.1,681.5 137.7,681.5 138.3,681.5 138.9,681.5 139.5,681.6 140.1,681.6 140.7,681.6 141.3,681.6 141.9,681.6 142.5,681.7 143.1,681.7 143.7,681.7 144.3,681.7 144.9,681.7 145.5,681.7 146.1,681.7 146.7,681.8 147.3,681.8 147.9,681.8 148.5,681.8 149.1,681.8 149.7,681.8 150.3,681.8 150.9,681.8 151.5,681.8 152.1,681.8 152.7,681.8 153.3,681.9 153.9,681.9 154.5,681.9 155.1,681.9 155.7,681.9 156.3,681.9 156.9,681.9 157.5,681.9 158.1,681.9 158.7,681.9 159.3,681.9 159.9,681.9 160.5,681.9 161.1,681.9 161.7,681.9 162.3,681.9 162.9,682.0 163.5,682.0 164.1,682.0 164.7,682.0 165.3,682.0 165.9,682.0 166.5,682.0 167.1,682.1 167.7,682.1 168.3,682.1 168.9,682.1 169.5,682.1 170.1,682.0 170.7,682.0 171.3,681.8 171.9,681.4 172.5,680.9 173.1,680.2 173.7,679.0 174.3,677.5 174.9,675.4 175.5,672.9 176.1,669.8 176.7,666.3 177.3,662.6 177.9,658.9 178.5,655.4 179.1,652.4 179.7,650.3 180.3,649.2 180.9,649.2 181.5,650.5 182.1,652.7 182.7,655.8 183.3,659.4 183.9,663.2 184.5,667.0 185.1,670.6 185.7,673.7 186.3,676.4 186.9,678.5 187.5,680.1 188.1,681.3 188.7,682.1 189.3,682.7 189.9,683.1 190.5,683.3 191.1,683.4 191.7,683.5 192.3,683.6 192.9,683.6 193.5,683.6 194.1,683.6 194.7,683.6 195.3,683.6 195.9,683.6 196.5,683.6 197.1,683.6 197.7,683.6 198.3,683.6 198.9,683.6 199.5,683.6 200.1,683.6 200.7,683.6 201.3,683.6 201.9,683.6 202.5,683.6 203.1,683.6 203.7,683.6 204.3,683.6 204.9,683.6 205.5,683.6 206.1,683.6 206.7,683.6 207.3,683.6 207.9,683.6 208.5,683.6 209.1,683.6 209.7,683.6 210.3,683.6 210.9,683.6 211.5,683.6 212.1,683.6 212.7,683.6 213.3,683.6 213.9,683.6 214.5,683.6 215.1,683.6 215.7,683.6 216.3,683.6 216.9,683.6 217.5,683.6 218.1,683.6 218.7,683.6 219.3,683.6 219.9,683.6 220.5,683.6 221.1,683.6 221.7,683.6 222.3,683.6 222.9,683.6 223.5,683.6 224.1,683.6 224.7,683.6 225.3,683.6 225.9,683.6 226.5,683.6 227.1,683.6 227.7,683.6 228.3,683.6 228.9,683.6 229.5,683.6 230.1,683.6 230.7,683.6 231.3,683.6 231.9,683.6 232.5,683.6 233.1,683.6 233.7,683.6 234.3,683.6 234.9,683.6 235.5,683.6 236.1,683.6 236.7,683.6 237.3,683.6 237.9,683.6 238.5,683.6 239.1,683.6 239.7,683.6 240.3,683.6 240.9,683.6 241.5,683.6" stroke="#f064f0" stroke-width="1.1" fill="none"/>
<path d="M41.1,678.6 41.7,678.6 42.3,678.6 42.9,678.6 43.5,678.6 44.1,678.6 44.7,678.6 45.3,678.6 45.9,678.6 46.5,678.6 47.1,678.6 47.7,678.6 48.3,678.6 48.9,678.6 49.5,678.6 50.1,678.6 50.7,678.6 51.3,678.6 51.9,678.6 52.5,678.6 53.1,678.6 53.7,678.6 54.3,678.6 54.9,678.6 55.5,678.6 56.1,678.6 56.7,678.6 57.3,678.6 57.9,678.6 58.5,678.6 59.1,678.6 59.7,678.6 60.3,678.6 60.9,678.6 61.5,678.6 62.1,678.6 62.7,678.6 63.3,678.6 63.9,678.6 64.5,678.6 65.1,678.6 65.7,678.6 66.3,678.6 66.9,678.6 67.5,678.6 68.1,678.6 68.7,678.6 69.3,678.6 69.9,678.6 70.5,678.6 71.1,678.6 71.7,678.6 72.3,678.6 72.9,678.6 73.5,678.6 74.1,678.6 74.7,678.6 75.3,678.6 75.9,678.6 76.5,678.6 77.1,678.6 77.7,678.6 78.3,678.6 78.9,678.6 79.5,678.5 80.1,678.5 80.7,678.5 81.3,678.5 81.9,678.5 82.5,678.4 83.1,678.4 83.7,678.3 84.3,678.3 84.9,678.2 85.5,678.1 86.1,678.0 86.7,677.9 87.3,677.7 87.9,677.6 88.5,677.4 89.1,677.1 89.7,676.8 90.3,676.5 90.9,676.1 91.5,675.7 92.1,675.2 92.7,674.6 93.3,674.0 93.9,673.3 94.5,672.5 95.1,671.5 95.7,670.5 96.3,669.4 96.9,668.2 97.5,666.8 98.1,665.3 98.7,663.7 99.3,662.0 99.9,660.2 100.5,658.2 101.1,656.1 101.7,653.8 102.3,651.5 102.9,649.1 103.5,646.5 104.1,643.9 104.7,641.2 105.3,638.5 105.9,635.8 106.5,633.0 107.1,630.2 107.7,627.5 108.3,624.8 108.9,622.2 109.5,619.7 110.1,617.4 110.7,615.1 111.3,613.0 111.9,611.1 112.5,609.4 113.1,607.9 113.7,606.6 114.3,605.5 114.9,604.6 115.5,603.9 116.1,603.5 116.7,603.3 117.3,603.3 117.9,603.5 118.5,603.9 119.1,604.4 119.7,605.1 120.3,606.0 120.9,607.0 121.5,608.1 122.1,609.3 122.7,610.6 123.3,612.0 123.9,613.5 124.5,614.9 125.1,616.5 125.7,618.1 126.3,619.7 126.9,621.3 127.5,623.0 128.1,624.7 128.7,626.4 129.3,628.2 129.9,629.9 130.5,631.7 131.1,633.4 131.7,635.2 132.3,636.9 132.9,638.6 133.5,640.3 134.1,642.0 134.7,643.6 135.3,645.2 135.9,646.7 136.5,648.2 137.1,649.5 137.7,650.8 138.3,652.1 138.9,653.3 139.5,654.4 140.1,655.4 140.7,656.4 141.3,657.4 141.9,658.3 142.5,659.3 143.1,660.2 143.7,661.1 144.3,662.0 144.9,663.0 145.5,663.9 146.1,664.9 146.7,665.9 147.3,666.9 147.9,667.9 148.5,668.9 149.1,669.9 149.7,670.8 150.3,671.7 150.9,672.5 151.5,673.3 152.1,674.0 152.7,674.6 153.3,675.1 153.9,675.5 154.5,675.8 155.1,676.0 155.7,676.1 156.3,676.0 156.9,675.9 157.5,675.6 158.1,675.2 158.7,674.8 159.3,674.2 159.9,673.6 160.5,672.8 161.1,672.0 161.7,671.0 162.3,669.9 162.9,668.7 163.5,667.3 164.1,665.8 164.7,664.0 165.3,662.0 165.9,659.7 166.5,657.2 167.1,654.4 167.7,651.4 168.3,648.1 168.9,644.6 169.5,641.0 170.1,637.3 170.7,633.5 171.3,629.7 171.9,626.0 172.5,622.4 173.1,619.0 173.7,615.8 174.3,612.7 174.9,609.7 175.5,607.0 176.1,604.4 176.7,602.2 177.3,600.4 177.9,599.2 178.5,598.7 179.1,599.3 179.7,601.1 180.3,604.1 180.9,608.4 181.5,613.9 182.1,620.3 182.7,627.5 183.3,634.9 183.9,642.3 184.5,649.4 185.1,655.9 185.7,661.6 186.3,666.5 186.9,670.5 187.5,673.8 188.1,676.3 188.7,678.2 189.3,679.7 189.9,680.8 190.5,681.6 191.1,682.2 191.7,682.6 192.3,682.9 192.9,683.1 193.5,683.2 194.1,683.4 194.7,683.4 195.3,683.5 195.9,683.5 196.5,683.5 197.1,683.6 197.7,683.6 198.3,683.6 198.9,683.6 199.5,683.6 200.1,683.6 200.7,683.6 201.3,683.6 201.9,683.6 202.5,683.6 203.1,683.6 203.7,683.6 204.3,683.6 204.9,683.6 205.5,683.6 206.1,683.6 206.7,683.6 207.3,683.6 207.9,683.6 208.5,683.6 209.1,683.6 209.7,683.6 210.3,683.6 210.9,683.6 211.5,683.6 212.1,683.6 212.7,683.6 213.3,683.6 213.9,683.6 214.5,683.6 215.1,683.6 215.7,683.6 216.3,683.6 216.9,683.6 217.5,683.6 218.1,683.6 218.7,683.6 219.3,683.6 219.9,683.6 220.5,683.6 221.1,683.6 221.7,683.6 222.3,683.6 222.9,683.6 223.5,683.6 224.1,683.6 224.7,683.6 225.3,683.6 225.9,683.6 226.5,683.6 227.1,683.6 227.7,683.6 228.3,683.6 228.9,683.6 229.5,683.6 230.1,683.6 230.7,683.6 231.3,683.6 231.9,683.6 232.5,683.6 233.1,683.6 233.7,683.6 234.3,683.6 234.9,683.6 235.5,683.6 236.1,683.6 236.7,683.6 237.3,683.6 237.9,683.6 238.5,683.6 239.1,683.6 239.7,683.6 240.3,683.6 240.9,683.6 241.5,683.6" stroke="#f01e1e" stroke-width="1.3" fill="none"/>
<line x1="115.90" y1="597.00" x2="115.90" y2="611.00" stroke="#1e961e" stroke-width="1.2" stroke-dasharray="3.2 2.2"/>
<line x1="131.20" y1="612.40" x2="131.20" y2="657.70" stroke="#2424e6" stroke-width="1.2" stroke-dasharray="3.2 2.2"/>
<line x1="144.40" y1="640.00" x2="144.40" y2="665.50" stroke="#28c8d2" stroke-width="1.2" stroke-dasharray="3.2 2.2"/>
<line x1="175.30" y1="599.40" x2="175.30" y2="637.00" stroke="#000000" stroke-width="1.2" stroke-dasharray="3.2 2.2"/>
<line x1="181.20" y1="592.40" x2="181.20" y2="673.30" stroke="#f064f0" stroke-width="1.2" stroke-dasharray="3.2 2.2"/>
<text x="103.50" y="595.00" font-size="11" text-anchor="start" fill="#1e961e" transform="matrix(1.0,0,0,0.95,0.000,29.750)">Si-O</text>
<text x="125.50" y="610.60" font-size="11" text-anchor="start" fill="#2424e6" transform="matrix(1.0,0,0,0.95,0.000,30.530)">Si<tspan font-size="8.2" dy="2.80">3</tspan><tspan dy="-2.80">N</tspan><tspan font-size="8.2" dy="2.80">4</tspan></text>
<text x="133.80" y="635.00" font-size="11" text-anchor="start" fill="#28c8d2" transform="matrix(1.0,0,0,0.95,0.000,31.750)">LiSi<tspan font-size="8.2" dy="2.80">x</tspan><tspan dy="-2.80">O</tspan><tspan font-size="8.2" dy="2.80">y</tspan></text>
<text x="150.10" y="595.00" font-size="11" text-anchor="start" fill="#000000" transform="matrix(1.0,0,0,0.95,0.000,29.750)">Si-O</text>
<text x="183.80" y="595.00" font-size="11" text-anchor="start" fill="#f064f0" transform="matrix(1.0,0,0,0.95,0.000,29.750)">Li<tspan font-size="8.2" dy="2.80">x</tspan><tspan dy="-2.80">Si</tspan></text>
<line x1="164.40" y1="596.50" x2="170.16" y2="600.30" stroke="#000" stroke-width="0.9" />
<path d="M173.50,602.50 L169.06,601.97 L171.26,598.63 Z" fill="#000"/>
<path d="M41.1,789.0 41.7,789.0 42.3,789.0 42.9,789.0 43.5,789.0 44.1,789.0 44.7,789.0 45.3,789.0 45.9,789.0 46.5,789.0 47.1,789.0 47.7,789.0 48.3,789.0 48.9,789.0 49.5,789.0 50.1,789.0 50.7,789.0 51.3,789.0 51.9,789.0 52.5,789.0 53.1,789.0 53.7,789.0 54.3,789.0 54.9,789.0 55.5,789.0 56.1,789.0 56.7,789.0 57.3,789.0 57.9,789.0 58.5,789.0 59.1,789.0 59.7,789.0 60.3,789.0 60.9,789.0 61.5,789.0 62.1,789.0 62.7,789.0 63.3,789.0 63.9,789.0 64.5,789.0 65.1,789.0 65.7,789.0 66.3,789.0 66.9,789.0 67.5,789.0 68.1,789.0 68.7,789.0 69.3,789.0 69.9,789.0 70.5,789.0 71.1,789.0 71.7,789.0 72.3,789.0 72.9,789.0 73.5,789.0 74.1,789.0 74.7,789.0 75.3,789.0 75.9,789.0 76.5,789.0 77.1,789.0 77.7,789.0 78.3,789.0 78.9,789.0 79.5,789.0 80.1,789.0 80.7,789.0 81.3,789.0 81.9,789.0 82.5,789.0 83.1,789.0 83.7,789.0 84.3,789.0 84.9,789.0 85.5,789.0 86.1,789.0 86.7,789.0 87.3,789.0 87.9,789.0 88.5,789.0 89.1,789.0 89.7,789.0 90.3,789.0 90.9,789.0 91.5,789.0 92.1,789.0 92.7,789.0 93.3,789.0 93.9,789.0 94.5,789.0 95.1,789.1 95.7,789.1 96.3,789.1 96.9,789.1 97.5,789.1 98.1,789.1 98.7,789.1 99.3,789.1 99.9,789.2 100.5,789.2 101.1,789.2 101.7,789.2 102.3,789.2 102.9,789.3 103.5,789.3 104.1,789.3 104.7,789.4 105.3,789.4 105.9,789.4 106.5,789.5 107.1,789.5 107.7,789.5 108.3,789.6 108.9,789.6 109.5,789.6 110.1,789.7 110.7,789.7 111.3,789.8 111.9,789.8 112.5,789.8 113.1,789.9 113.7,789.9 114.3,790.0 114.9,790.0 115.5,790.0 116.1,790.1 116.7,790.1 117.3,790.2 117.9,790.2 118.5,790.2 119.1,790.3 119.7,790.3 120.3,790.3 120.9,790.4 121.5,790.4 122.1,790.5 122.7,790.5 123.3,790.5 123.9,790.6 124.5,790.6 125.1,790.6 125.7,790.6 126.3,790.7 126.9,790.7 127.5,790.7 128.1,790.8 128.7,790.8 129.3,790.8 129.9,790.8 130.5,790.9 131.1,790.9 131.7,790.9 132.3,790.9 132.9,791.0 133.5,791.0 134.1,791.0 134.7,791.0 135.3,791.1 135.9,791.1 136.5,791.1 137.1,791.1 137.7,791.1 138.3,791.2 138.9,791.2 139.5,791.2 140.1,791.2 140.7,791.2 141.3,791.3 141.9,791.3 142.5,791.3 143.1,791.3 143.7,791.3 144.3,791.3 144.9,791.4 145.5,791.4 146.1,791.4 146.7,791.4 147.3,791.4 147.9,791.4 148.5,791.4 149.1,791.5 149.7,791.5 150.3,791.5 150.9,791.5 151.5,791.5 152.1,791.5 152.7,791.5 153.3,791.5 153.9,791.5 154.5,791.5 155.1,791.5 155.7,791.5 156.3,791.6 156.9,791.6 157.5,791.6 158.1,791.6 158.7,791.6 159.3,791.6 159.9,791.6 160.5,791.7 161.1,791.7 161.7,791.7 162.3,791.7 162.9,791.8 163.5,791.8 164.1,791.9 164.7,791.9 165.3,792.0 165.9,792.0 166.5,792.1 167.1,792.2 167.7,792.2 168.3,792.3 168.9,792.4 169.5,792.5 170.1,792.5 170.7,792.6 171.3,792.7 171.9,792.8 172.5,792.9 173.1,793.0 173.7,793.1 174.3,793.2 174.9,793.3 175.5,793.4 176.1,793.4 176.7,793.5 177.3,793.6 177.9,793.7 178.5,793.8 179.1,793.8 179.7,793.9 180.3,793.9 180.9,794.0 181.5,794.0 182.1,794.1 182.7,794.1 183.3,794.1 183.9,794.1 184.5,794.1 185.1,794.2 185.7,794.2 186.3,794.2 186.9,794.2 187.5,794.2 188.1,794.2 188.7,794.2 189.3,794.2 189.9,794.2 190.5,794.2 191.1,794.2 191.7,794.2 192.3,794.2 192.9,794.2 193.5,794.2 194.1,794.2 194.7,794.2 195.3,794.2 195.9,794.2 196.5,794.2 197.1,794.2 197.7,794.2 198.3,794.2 198.9,794.2 199.5,794.2 200.1,794.2 200.7,794.2 201.3,794.2 201.9,794.2 202.5,794.2 203.1,794.2 203.7,794.2 204.3,794.2 204.9,794.2 205.5,794.2 206.1,794.2 206.7,794.2 207.3,794.2 207.9,794.2 208.5,794.2 209.1,794.2 209.7,794.2 210.3,794.2 210.9,794.2 211.5,794.2 212.1,794.2 212.7,794.2 213.3,794.2 213.9,794.2 214.5,794.2 215.1,794.2 215.7,794.2 216.3,794.2 216.9,794.2 217.5,794.2 218.1,794.2 218.7,794.2 219.3,794.2 219.9,794.2 220.5,794.2 221.1,794.2 221.7,794.2 222.3,794.2 222.9,794.2 223.5,794.2 224.1,794.2 224.7,794.2 225.3,794.2 225.9,794.2 226.5,794.2 227.1,794.2 227.7,794.2 228.3,794.2 228.9,794.2 229.5,794.2 230.1,794.2 230.7,794.2 231.3,794.2 231.9,794.2 232.5,794.2 233.1,794.2 233.7,794.2 234.3,794.2 234.9,794.2 235.5,794.2 236.1,794.2 236.7,794.2 237.3,794.2 237.9,794.2 238.5,794.2 239.1,794.2 239.7,794.2 240.3,794.2 240.9,794.2 241.5,794.2" stroke="#000" stroke-width="0.9" fill="none"/>
<path d="M41.1,789.6 41.7,789.6 42.3,789.6 42.9,789.3 43.5,789.0 44.1,788.7 44.7,788.5 45.3,788.3 45.9,788.0 46.5,788.7 47.1,789.3 47.7,789.1 48.3,788.9 48.9,789.2 49.5,789.5 50.1,789.1 50.7,788.7 51.3,789.1 51.9,789.5 52.5,789.0 53.1,788.5 53.7,789.1 54.3,789.6 54.9,789.5 55.5,789.5 56.1,789.1 56.7,788.8 57.3,789.0 57.9,789.1 58.5,789.2 59.1,789.4 59.7,788.9 60.3,788.4 60.9,788.7 61.5,789.1 62.1,789.4 62.7,789.6 63.3,789.1 63.9,788.5 64.5,789.1 65.1,789.6 65.7,789.5 66.3,789.4 66.9,789.5 67.5,789.7 68.1,789.2 68.7,788.7 69.3,788.4 69.9,788.2 70.5,788.9 71.1,789.6 71.7,789.6 72.3,789.6 72.9,789.2 73.5,788.9 74.1,788.5 74.7,788.2 75.3,788.3 75.9,788.4 76.5,788.8 77.1,789.3 77.7,788.9 78.3,788.6 78.9,789.2 79.5,789.9 80.1,789.5 80.7,789.1 81.3,788.7 81.9,788.3 82.5,788.7 83.1,789.1 83.7,788.8 84.3,788.5 84.9,789.0 85.5,789.4 86.1,789.3 86.7,789.2 87.3,788.6 87.9,788.1 88.5,788.0 89.1,787.9 89.7,787.7 90.3,787.4 90.9,787.1 91.5,786.8 92.1,786.4 92.7,786.0 93.3,784.4 93.9,782.7 94.5,782.3 95.1,781.7 95.7,781.0 96.3,780.2 96.9,778.8 97.5,777.3 98.1,776.3 98.7,775.3 99.3,773.4 99.9,771.5 100.5,770.9 101.1,770.3 101.7,768.5 102.3,766.7 102.9,765.0 103.5,763.2 104.1,762.5 104.7,761.8 105.3,760.3 105.9,758.9 106.5,757.8 107.1,756.8 107.7,756.3 108.3,755.9 108.9,754.9 109.5,754.0 110.1,753.6 110.7,753.3 111.3,753.7 111.9,754.1 112.5,753.8 113.1,753.5 113.7,752.8 114.3,752.1 114.9,753.0 115.5,753.9 116.1,753.4 116.7,752.9 117.3,753.5 117.9,754.2 118.5,755.2 119.1,756.2 119.7,756.4 120.3,756.7 120.9,757.0 121.5,757.3 122.1,758.0 122.7,758.7 123.3,759.3 123.9,760.0 124.5,760.4 125.1,760.8 125.7,762.4 126.3,763.9 126.9,763.6 127.5,763.3 128.1,764.2 128.7,765.2 129.3,766.1 129.9,766.9 130.5,767.1 131.1,767.2 131.7,768.3 132.3,769.3 132.9,769.0 133.5,768.7 134.1,769.9 134.7,771.0 135.3,771.3 135.9,771.6 136.5,771.8 137.1,771.9 137.7,772.6 138.3,773.2 138.9,773.1 139.5,773.1 140.1,773.9 140.7,774.8 141.3,775.2 141.9,775.6 142.5,775.8 143.1,776.0 143.7,776.5 144.3,777.0 144.9,777.7 145.5,778.5 146.1,778.7 146.7,779.0 147.3,779.2 147.9,779.4 148.5,780.6 149.1,781.8 149.7,781.8 150.3,781.8 150.9,782.5 151.5,783.2 152.1,783.9 152.7,784.6 153.3,784.3 153.9,783.9 154.5,783.9 155.1,783.7 155.7,783.6 156.3,783.3 156.9,783.1 157.5,782.6 158.1,781.1 158.7,779.2 159.3,777.1 159.9,774.5 160.5,771.9 161.1,768.9 161.7,765.8 162.3,762.5 162.9,757.8 163.5,753.0 164.1,749.1 164.7,745.2 165.3,741.7 165.9,738.5 166.5,734.7 167.1,731.1 167.7,727.7 168.3,724.5 168.9,722.0 169.5,719.6 170.1,717.2 170.7,714.9 171.3,712.5 171.9,710.3 172.5,708.9 173.1,708.0 173.7,707.3 174.3,707.2 174.9,708.4 175.5,710.3 176.1,712.1 176.7,714.7 177.3,718.9 177.9,723.7 178.5,729.0 179.1,734.8 179.7,740.5 180.3,746.2 180.9,751.5 181.5,756.6 182.1,762.1 182.7,767.3 183.3,771.5 183.9,775.2 184.5,778.8 185.1,781.9 185.7,784.5 186.3,786.8 186.9,788.8 187.5,790.5 188.1,791.7 188.7,792.7 189.3,792.7 189.9,792.6 190.5,792.6 191.1,792.6 191.7,793.2 192.3,793.8 192.9,793.5 193.5,793.2 194.1,793.2 194.7,793.2 195.3,794.0 195.9,794.7 196.5,794.1 197.1,793.4 197.7,794.0 198.3,794.6 198.9,794.3 199.5,793.9 200.1,794.5 200.7,795.1 201.3,795.0 201.9,794.9 202.5,794.1 203.1,793.3 203.7,793.5 204.3,793.6 204.9,794.3 205.5,795.1 206.1,794.8 206.7,794.4 207.3,794.2 207.9,794.0 208.5,794.4 209.1,794.8 209.7,794.8 210.3,794.8 210.9,794.5 211.5,794.2 212.1,794.2 212.7,794.1 213.3,793.8 213.9,793.4 214.5,793.7 215.1,793.9 215.7,793.7 216.3,793.5 216.9,794.0 217.5,794.5 218.1,794.4 218.7,794.4 219.3,794.0 219.9,793.5 220.5,794.0 221.1,794.5 221.7,793.9 222.3,793.4 222.9,793.4 223.5,793.4 224.1,794.0 224.7,794.5 225.3,794.3 225.9,794.1 226.5,794.6 227.1,795.0 227.7,794.7 228.3,794.5 228.9,794.5 229.5,794.6 230.1,794.0 230.7,793.5 231.3,794.2 231.9,794.9 232.5,794.1 233.1,793.4 233.7,793.9 234.3,794.4 234.9,794.7 235.5,795.0 236.1,795.0 236.7,795.0 237.3,795.0 237.9,795.0 238.5,794.5 239.1,794.1 239.7,794.3 240.3,794.6 240.9,794.7 241.5,794.8" stroke="#000" stroke-width="1.0" fill="none" stroke-linejoin="round"/>
<path d="M41.1,789.0 41.7,789.0 42.3,789.0 42.9,789.0 43.5,789.0 44.1,789.0 44.7,789.0 45.3,789.0 45.9,789.0 46.5,789.0 47.1,789.0 47.7,789.0 48.3,789.0 48.9,789.0 49.5,789.0 50.1,789.0 50.7,789.0 51.3,789.0 51.9,789.0 52.5,789.0 53.1,789.0 53.7,789.0 54.3,789.0 54.9,789.0 55.5,789.0 56.1,789.0 56.7,789.0 57.3,789.0 57.9,789.0 58.5,789.0 59.1,789.0 59.7,789.0 60.3,789.0 60.9,789.0 61.5,789.0 62.1,789.0 62.7,789.0 63.3,789.0 63.9,789.0 64.5,789.0 65.1,789.0 65.7,789.0 66.3,789.0 66.9,789.0 67.5,789.0 68.1,789.0 68.7,789.0 69.3,789.0 69.9,789.0 70.5,789.0 71.1,789.0 71.7,789.0 72.3,789.0 72.9,789.0 73.5,789.0 74.1,789.0 74.7,789.0 75.3,789.0 75.9,789.0 76.5,789.0 77.1,789.0 77.7,789.0 78.3,789.0 78.9,789.0 79.5,789.0 80.1,789.0 80.7,789.0 81.3,789.0 81.9,789.0 82.5,789.0 83.1,789.0 83.7,788.9 84.3,788.9 84.9,788.9 85.5,788.9 86.1,788.8 86.7,788.8 87.3,788.7 87.9,788.7 88.5,788.6 89.1,788.5 89.7,788.3 90.3,788.2 90.9,788.0 91.5,787.8 92.1,787.5 92.7,787.2 93.3,786.9 93.9,786.5 94.5,786.1 95.1,785.7 95.7,785.2 96.3,784.7 96.9,784.2 97.5,783.6 98.1,783.1 98.7,782.5 99.3,781.9 99.9,781.4 100.5,780.9 101.1,780.4 101.7,780.0 102.3,779.7 102.9,779.4 103.5,779.2 104.1,779.1 104.7,779.0 105.3,779.1 105.9,779.2 106.5,779.5 107.1,779.8 107.7,780.2 108.3,780.6 108.9,781.1 109.5,781.7 110.1,782.3 110.7,782.9 111.3,783.5 111.9,784.1 112.5,784.7 113.1,785.3 113.7,785.9 114.3,786.4 114.9,786.9 115.5,787.4 116.1,787.8 116.7,788.2 117.3,788.5 117.9,788.8 118.5,789.1 119.1,789.4 119.7,789.6 120.3,789.7 120.9,789.9 121.5,790.0 122.1,790.2 122.7,790.3 123.3,790.3 123.9,790.4 124.5,790.5 125.1,790.5 125.7,790.6 126.3,790.6 126.9,790.7 127.5,790.7 128.1,790.7 128.7,790.8 129.3,790.8 129.9,790.8 130.5,790.9 131.1,790.9 131.7,790.9 132.3,790.9 132.9,791.0 133.5,791.0 134.1,791.0 134.7,791.0 135.3,791.1 135.9,791.1 136.5,791.1 137.1,791.1 137.7,791.1 138.3,791.2 138.9,791.2 139.5,791.2 140.1,791.2 140.7,791.2 141.3,791.3 141.9,791.3 142.5,791.3 143.1,791.3 143.7,791.3 144.3,791.3 144.9,791.4 145.5,791.4 146.1,791.4 146.7,791.4 147.3,791.4 147.9,791.4 148.5,791.4 149.1,791.5 149.7,791.5 150.3,791.5 150.9,791.5 151.5,791.5 152.1,791.5 152.7,791.5 153.3,791.5 153.9,791.5 154.5,791.5 155.1,791.5 155.7,791.5 156.3,791.6 156.9,791.6 157.5,791.6 158.1,791.6 158.7,791.6 159.3,791.6 159.9,791.6 160.5,791.7 161.1,791.7 161.7,791.7 162.3,791.7 162.9,791.8 163.5,791.8 164.1,791.9 164.7,791.9 165.3,792.0 165.9,792.0 166.5,792.1 167.1,792.2 167.7,792.2 168.3,792.3 168.9,792.4 169.5,792.5 170.1,792.5 170.7,792.6 171.3,792.7 171.9,792.8 172.5,792.9 173.1,793.0 173.7,793.1 174.3,793.2 174.9,793.3 175.5,793.4 176.1,793.4 176.7,793.5 177.3,793.6 177.9,793.7 178.5,793.8 179.1,793.8 179.7,793.9 180.3,793.9 180.9,794.0 181.5,794.0 182.1,794.1 182.7,794.1 183.3,794.1 183.9,794.1 184.5,794.1 185.1,794.2 185.7,794.2 186.3,794.2 186.9,794.2 187.5,794.2 188.1,794.2 188.7,794.2 189.3,794.2 189.9,794.2 190.5,794.2 191.1,794.2 191.7,794.2 192.3,794.2 192.9,794.2 193.5,794.2 194.1,794.2 194.7,794.2 195.3,794.2 195.9,794.2 196.5,794.2 197.1,794.2 197.7,794.2 198.3,794.2 198.9,794.2 199.5,794.2 200.1,794.2 200.7,794.2 201.3,794.2 201.9,794.2 202.5,794.2 203.1,794.2 203.7,794.2 204.3,794.2 204.9,794.2 205.5,794.2 206.1,794.2 206.7,794.2 207.3,794.2 207.9,794.2 208.5,794.2 209.1,794.2 209.7,794.2 210.3,794.2 210.9,794.2 211.5,794.2 212.1,794.2 212.7,794.2 213.3,794.2 213.9,794.2 214.5,794.2 215.1,794.2 215.7,794.2 216.3,794.2 216.9,794.2 217.5,794.2 218.1,794.2 218.7,794.2 219.3,794.2 219.9,794.2 220.5,794.2 221.1,794.2 221.7,794.2 222.3,794.2 222.9,794.2 223.5,794.2 224.1,794.2 224.7,794.2 225.3,794.2 225.9,794.2 226.5,794.2 227.1,794.2 227.7,794.2 228.3,794.2 228.9,794.2 229.5,794.2 230.1,794.2 230.7,794.2 231.3,794.2 231.9,794.2 232.5,794.2 233.1,794.2 233.7,794.2 234.3,794.2 234.9,794.2 235.5,794.2 236.1,794.2 236.7,794.2 237.3,794.2 237.9,794.2 238.5,794.2 239.1,794.2 239.7,794.2 240.3,794.2 240.9,794.2 241.5,794.2" stroke="#e81e8c" stroke-width="1.1" fill="none"/>
<path d="M41.1,789.0 41.7,789.0 42.3,789.0 42.9,789.0 43.5,789.0 44.1,789.0 44.7,789.0 45.3,789.0 45.9,789.0 46.5,789.0 47.1,789.0 47.7,789.0 48.3,789.0 48.9,789.0 49.5,789.0 50.1,789.0 50.7,789.0 51.3,789.0 51.9,789.0 52.5,789.0 53.1,789.0 53.7,789.0 54.3,789.0 54.9,789.0 55.5,789.0 56.1,789.0 56.7,789.0 57.3,789.0 57.9,789.0 58.5,789.0 59.1,789.0 59.7,789.0 60.3,789.0 60.9,789.0 61.5,789.0 62.1,789.0 62.7,789.0 63.3,789.0 63.9,789.0 64.5,789.0 65.1,789.0 65.7,789.0 66.3,789.0 66.9,789.0 67.5,789.0 68.1,789.0 68.7,789.0 69.3,789.0 69.9,789.0 70.5,789.0 71.1,789.0 71.7,789.0 72.3,789.0 72.9,789.0 73.5,789.0 74.1,789.0 74.7,789.0 75.3,789.0 75.9,789.0 76.5,789.0 77.1,789.0 77.7,789.0 78.3,789.0 78.9,789.0 79.5,789.0 80.1,789.0 80.7,788.9 81.3,788.9 81.9,788.9 82.5,788.9 83.1,788.9 83.7,788.8 84.3,788.8 84.9,788.8 85.5,788.7 86.1,788.7 86.7,788.6 87.3,788.5 87.9,788.4 88.5,788.3 89.1,788.2 89.7,788.0 90.3,787.9 90.9,787.7 91.5,787.4 92.1,787.2 92.7,786.9 93.3,786.6 93.9,786.3 94.5,785.9 95.1,785.4 95.7,785.0 96.3,784.4 96.9,783.9 97.5,783.3 98.1,782.6 98.7,781.9 99.3,781.1 99.9,780.3 100.5,779.5 101.1,778.6 101.7,777.6 102.3,776.6 102.9,775.6 103.5,774.6 104.1,773.5 104.7,772.4 105.3,771.3 105.9,770.3 106.5,769.2 107.1,768.1 107.7,767.1 108.3,766.1 108.9,765.1 109.5,764.2 110.1,763.4 110.7,762.6 111.3,762.0 111.9,761.4 112.5,760.9 113.1,760.5 113.7,760.2 114.3,760.1 114.9,760.0 115.5,760.1 116.1,760.2 116.7,760.5 117.3,760.9 117.9,761.4 118.5,762.0 119.1,762.7 119.7,763.5 120.3,764.4 120.9,765.3 121.5,766.3 122.1,767.3 122.7,768.4 123.3,769.5 123.9,770.6 124.5,771.8 125.1,772.9 125.7,774.1 126.3,775.2 126.9,776.3 127.5,777.4 128.1,778.5 128.7,779.5 129.3,780.5 129.9,781.4 130.5,782.3 131.1,783.2 131.7,783.9 132.3,784.7 132.9,785.4 133.5,786.0 134.1,786.6 134.7,787.1 135.3,787.6 135.9,788.0 136.5,788.4 137.1,788.8 137.7,789.1 138.3,789.4 138.9,789.7 139.5,789.9 140.1,790.1 140.7,790.3 141.3,790.5 141.9,790.6 142.5,790.7 143.1,790.8 143.7,790.9 144.3,791.0 144.9,791.1 145.5,791.2 146.1,791.2 146.7,791.3 147.3,791.3 147.9,791.3 148.5,791.4 149.1,791.4 149.7,791.4 150.3,791.4 150.9,791.4 151.5,791.5 152.1,791.5 152.7,791.5 153.3,791.5 153.9,791.5 154.5,791.5 155.1,791.5 155.7,791.5 156.3,791.6 156.9,791.6 157.5,791.6 158.1,791.6 158.7,791.6 159.3,791.6 159.9,791.6 160.5,791.7 161.1,791.7 161.7,791.7 162.3,791.7 162.9,791.8 163.5,791.8 164.1,791.9 164.7,791.9 165.3,792.0 165.9,792.0 166.5,792.1 167.1,792.2 167.7,792.2 168.3,792.3 168.9,792.4 169.5,792.5 170.1,792.5 170.7,792.6 171.3,792.7 171.9,792.8 172.5,792.9 173.1,793.0 173.7,793.1 174.3,793.2 174.9,793.3 175.5,793.4 176.1,793.4 176.7,793.5 177.3,793.6 177.9,793.7 178.5,793.8 179.1,793.8 179.7,793.9 180.3,793.9 180.9,794.0 181.5,794.0 182.1,794.1 182.7,794.1 183.3,794.1 183.9,794.1 184.5,794.1 185.1,794.2 185.7,794.2 186.3,794.2 186.9,794.2 187.5,794.2 188.1,794.2 188.7,794.2 189.3,794.2 189.9,794.2 190.5,794.2 191.1,794.2 191.7,794.2 192.3,794.2 192.9,794.2 193.5,794.2 194.1,794.2 194.7,794.2 195.3,794.2 195.9,794.2 196.5,794.2 197.1,794.2 197.7,794.2 198.3,794.2 198.9,794.2 199.5,794.2 200.1,794.2 200.7,794.2 201.3,794.2 201.9,794.2 202.5,794.2 203.1,794.2 203.7,794.2 204.3,794.2 204.9,794.2 205.5,794.2 206.1,794.2 206.7,794.2 207.3,794.2 207.9,794.2 208.5,794.2 209.1,794.2 209.7,794.2 210.3,794.2 210.9,794.2 211.5,794.2 212.1,794.2 212.7,794.2 213.3,794.2 213.9,794.2 214.5,794.2 215.1,794.2 215.7,794.2 216.3,794.2 216.9,794.2 217.5,794.2 218.1,794.2 218.7,794.2 219.3,794.2 219.9,794.2 220.5,794.2 221.1,794.2 221.7,794.2 222.3,794.2 222.9,794.2 223.5,794.2 224.1,794.2 224.7,794.2 225.3,794.2 225.9,794.2 226.5,794.2 227.1,794.2 227.7,794.2 228.3,794.2 228.9,794.2 229.5,794.2 230.1,794.2 230.7,794.2 231.3,794.2 231.9,794.2 232.5,794.2 233.1,794.2 233.7,794.2 234.3,794.2 234.9,794.2 235.5,794.2 236.1,794.2 236.7,794.2 237.3,794.2 237.9,794.2 238.5,794.2 239.1,794.2 239.7,794.2 240.3,794.2 240.9,794.2 241.5,794.2" stroke="#1e961e" stroke-width="1.1" fill="none"/>
<path d="M41.1,789.0 41.7,789.0 42.3,789.0 42.9,789.0 43.5,789.0 44.1,789.0 44.7,789.0 45.3,789.0 45.9,789.0 46.5,789.0 47.1,789.0 47.7,789.0 48.3,789.0 48.9,789.0 49.5,789.0 50.1,789.0 50.7,789.0 51.3,789.0 51.9,789.0 52.5,789.0 53.1,789.0 53.7,789.0 54.3,789.0 54.9,789.0 55.5,789.0 56.1,789.0 56.7,789.0 57.3,789.0 57.9,789.0 58.5,789.0 59.1,789.0 59.7,789.0 60.3,789.0 60.9,789.0 61.5,789.0 62.1,789.0 62.7,789.0 63.3,789.0 63.9,789.0 64.5,789.0 65.1,789.0 65.7,789.0 66.3,789.0 66.9,789.0 67.5,789.0 68.1,789.0 68.7,789.0 69.3,789.0 69.9,789.0 70.5,789.0 71.1,789.0 71.7,789.0 72.3,789.0 72.9,789.0 73.5,789.0 74.1,789.0 74.7,789.0 75.3,789.0 75.9,789.0 76.5,789.0 77.1,789.0 77.7,789.0 78.3,789.0 78.9,789.0 79.5,789.0 80.1,789.0 80.7,789.0 81.3,789.0 81.9,789.0 82.5,789.0 83.1,789.0 83.7,789.0 84.3,789.0 84.9,789.0 85.5,789.0 86.1,789.0 86.7,789.0 87.3,789.0 87.9,789.0 88.5,789.0 89.1,789.0 89.7,789.0 90.3,789.0 90.9,789.0 91.5,789.0 92.1,789.0 92.7,789.0 93.3,789.0 93.9,789.0 94.5,789.0 95.1,789.0 95.7,789.0 96.3,789.0 96.9,789.0 97.5,789.0 98.1,789.0 98.7,789.0 99.3,789.0 99.9,789.0 100.5,788.9 101.1,788.9 101.7,788.9 102.3,788.9 102.9,788.9 103.5,788.8 104.1,788.8 104.7,788.7 105.3,788.7 105.9,788.6 106.5,788.6 107.1,788.5 107.7,788.4 108.3,788.3 108.9,788.2 109.5,788.1 110.1,787.9 110.7,787.8 111.3,787.6 111.9,787.4 112.5,787.2 113.1,787.0 113.7,786.8 114.3,786.5 114.9,786.3 115.5,786.0 116.1,785.7 116.7,785.4 117.3,785.0 117.9,784.7 118.5,784.3 119.1,783.9 119.7,783.5 120.3,783.1 120.9,782.6 121.5,782.2 122.1,781.7 122.7,781.2 123.3,780.8 123.9,780.3 124.5,779.8 125.1,779.3 125.7,778.9 126.3,778.4 126.9,777.9 127.5,777.5 128.1,777.1 128.7,776.6 129.3,776.2 129.9,775.9 130.5,775.5 131.1,775.2 131.7,774.9 132.3,774.7 132.9,774.4 133.5,774.2 134.1,774.1 134.7,774.0 135.3,773.9 135.9,773.9 136.5,773.9 137.1,773.9 137.7,774.0 138.3,774.1 138.9,774.3 139.5,774.5 140.1,774.8 140.7,775.0 141.3,775.4 141.9,775.7 142.5,776.1 143.1,776.5 143.7,776.9 144.3,777.3 144.9,777.8 145.5,778.3 146.1,778.8 146.7,779.3 147.3,779.8 147.9,780.3 148.5,780.8 149.1,781.4 149.7,781.9 150.3,782.4 150.9,782.9 151.5,783.4 152.1,783.9 152.7,784.4 153.3,784.8 153.9,785.3 154.5,785.7 155.1,786.1 155.7,786.5 156.3,786.9 156.9,787.3 157.5,787.6 158.1,788.0 158.7,788.3 159.3,788.6 159.9,788.9 160.5,789.1 161.1,789.4 161.7,789.6 162.3,789.9 162.9,790.1 163.5,790.3 164.1,790.5 164.7,790.7 165.3,790.9 165.9,791.1 166.5,791.2 167.1,791.4 167.7,791.6 168.3,791.7 168.9,791.9 169.5,792.0 170.1,792.1 170.7,792.3 171.3,792.4 171.9,792.5 172.5,792.7 173.1,792.8 173.7,792.9 174.3,793.0 174.9,793.1 175.5,793.2 176.1,793.3 176.7,793.4 177.3,793.5 177.9,793.6 178.5,793.7 179.1,793.8 179.7,793.8 180.3,793.9 180.9,794.0 181.5,794.0 182.1,794.0 182.7,794.1 183.3,794.1 183.9,794.1 184.5,794.1 185.1,794.2 185.7,794.2 186.3,794.2 186.9,794.2 187.5,794.2 188.1,794.2 188.7,794.2 189.3,794.2 189.9,794.2 190.5,794.2 191.1,794.2 191.7,794.2 192.3,794.2 192.9,794.2 193.5,794.2 194.1,794.2 194.7,794.2 195.3,794.2 195.9,794.2 196.5,794.2 197.1,794.2 197.7,794.2 198.3,794.2 198.9,794.2 199.5,794.2 200.1,794.2 200.7,794.2 201.3,794.2 201.9,794.2 202.5,794.2 203.1,794.2 203.7,794.2 204.3,794.2 204.9,794.2 205.5,794.2 206.1,794.2 206.7,794.2 207.3,794.2 207.9,794.2 208.5,794.2 209.1,794.2 209.7,794.2 210.3,794.2 210.9,794.2 211.5,794.2 212.1,794.2 212.7,794.2 213.3,794.2 213.9,794.2 214.5,794.2 215.1,794.2 215.7,794.2 216.3,794.2 216.9,794.2 217.5,794.2 218.1,794.2 218.7,794.2 219.3,794.2 219.9,794.2 220.5,794.2 221.1,794.2 221.7,794.2 222.3,794.2 222.9,794.2 223.5,794.2 224.1,794.2 224.7,794.2 225.3,794.2 225.9,794.2 226.5,794.2 227.1,794.2 227.7,794.2 228.3,794.2 228.9,794.2 229.5,794.2 230.1,794.2 230.7,794.2 231.3,794.2 231.9,794.2 232.5,794.2 233.1,794.2 233.7,794.2 234.3,794.2 234.9,794.2 235.5,794.2 236.1,794.2 236.7,794.2 237.3,794.2 237.9,794.2 238.5,794.2 239.1,794.2 239.7,794.2 240.3,794.2 240.9,794.2 241.5,794.2" stroke="#f58c1e" stroke-width="1.1" fill="none"/>
<path d="M41.1,789.0 41.7,789.0 42.3,789.0 42.9,789.0 43.5,789.0 44.1,789.0 44.7,789.0 45.3,789.0 45.9,789.0 46.5,789.0 47.1,789.0 47.7,789.0 48.3,789.0 48.9,789.0 49.5,789.0 50.1,789.0 50.7,789.0 51.3,789.0 51.9,789.0 52.5,789.0 53.1,789.0 53.7,789.0 54.3,789.0 54.9,789.0 55.5,789.0 56.1,789.0 56.7,789.0 57.3,789.0 57.9,789.0 58.5,789.0 59.1,789.0 59.7,789.0 60.3,789.0 60.9,789.0 61.5,789.0 62.1,789.0 62.7,789.0 63.3,789.0 63.9,789.0 64.5,789.0 65.1,789.0 65.7,789.0 66.3,789.0 66.9,789.0 67.5,789.0 68.1,789.0 68.7,789.0 69.3,789.0 69.9,789.0 70.5,789.0 71.1,789.0 71.7,789.0 72.3,789.0 72.9,789.0 73.5,789.0 74.1,789.0 74.7,789.0 75.3,789.0 75.9,789.0 76.5,789.0 77.1,789.0 77.7,789.0 78.3,789.0 78.9,789.0 79.5,789.0 80.1,789.0 80.7,789.0 81.3,789.0 81.9,789.0 82.5,789.0 83.1,789.0 83.7,789.0 84.3,789.0 84.9,789.0 85.5,789.0 86.1,789.0 86.7,789.0 87.3,789.0 87.9,789.0 88.5,789.0 89.1,789.0 89.7,789.0 90.3,789.0 90.9,789.0 91.5,789.0 92.1,789.0 92.7,789.0 93.3,789.0 93.9,789.0 94.5,789.0 95.1,789.1 95.7,789.1 96.3,789.1 96.9,789.1 97.5,789.1 98.1,789.1 98.7,789.1 99.3,789.1 99.9,789.2 100.5,789.2 101.1,789.2 101.7,789.2 102.3,789.2 102.9,789.3 103.5,789.3 104.1,789.3 104.7,789.4 105.3,789.4 105.9,789.4 106.5,789.5 107.1,789.5 107.7,789.5 108.3,789.6 108.9,789.6 109.5,789.6 110.1,789.7 110.7,789.7 111.3,789.8 111.9,789.8 112.5,789.8 113.1,789.9 113.7,789.9 114.3,790.0 114.9,790.0 115.5,790.0 116.1,790.1 116.7,790.1 117.3,790.2 117.9,790.2 118.5,790.2 119.1,790.3 119.7,790.3 120.3,790.3 120.9,790.4 121.5,790.4 122.1,790.5 122.7,790.5 123.3,790.5 123.9,790.6 124.5,790.6 125.1,790.6 125.7,790.6 126.3,790.7 126.9,790.7 127.5,790.7 128.1,790.8 128.7,790.8 129.3,790.8 129.9,790.8 130.5,790.9 131.1,790.9 131.7,790.9 132.3,790.9 132.9,791.0 133.5,791.0 134.1,791.0 134.7,791.0 135.3,791.1 135.9,791.1 136.5,791.1 137.1,791.1 137.7,791.1 138.3,791.2 138.9,791.2 139.5,791.2 140.1,791.2 140.7,791.2 141.3,791.3 141.9,791.3 142.5,791.3 143.1,791.3 143.7,791.3 144.3,791.3 144.9,791.4 145.5,791.4 146.1,791.4 146.7,791.4 147.3,791.4 147.9,791.4 148.5,791.4 149.1,791.4 149.7,791.4 150.3,791.4 150.9,791.4 151.5,791.4 152.1,791.3 152.7,791.2 153.3,791.0 153.9,790.8 154.5,790.5 155.1,790.1 155.7,789.5 156.3,788.8 156.9,787.8 157.5,786.5 158.1,785.0 158.7,783.2 159.3,781.0 159.9,778.5 160.5,775.8 161.1,772.8 161.7,769.6 162.3,766.4 162.9,763.2 163.5,760.2 164.1,757.5 164.7,755.3 165.3,753.7 165.9,752.6 166.5,752.3 167.1,752.8 167.7,753.9 168.3,755.7 168.9,758.1 169.5,760.9 170.1,764.0 170.7,767.3 171.3,770.6 171.9,773.9 172.5,777.0 173.1,779.9 173.7,782.5 174.3,784.7 174.9,786.7 175.5,788.3 176.1,789.6 176.7,790.7 177.3,791.6 177.9,792.2 178.5,792.7 179.1,793.1 179.7,793.4 180.3,793.6 180.9,793.8 181.5,793.9 182.1,794.0 182.7,794.0 183.3,794.1 183.9,794.1 184.5,794.1 185.1,794.2 185.7,794.2 186.3,794.2 186.9,794.2 187.5,794.2 188.1,794.2 188.7,794.2 189.3,794.2 189.9,794.2 190.5,794.2 191.1,794.2 191.7,794.2 192.3,794.2 192.9,794.2 193.5,794.2 194.1,794.2 194.7,794.2 195.3,794.2 195.9,794.2 196.5,794.2 197.1,794.2 197.7,794.2 198.3,794.2 198.9,794.2 199.5,794.2 200.1,794.2 200.7,794.2 201.3,794.2 201.9,794.2 202.5,794.2 203.1,794.2 203.7,794.2 204.3,794.2 204.9,794.2 205.5,794.2 206.1,794.2 206.7,794.2 207.3,794.2 207.9,794.2 208.5,794.2 209.1,794.2 209.7,794.2 210.3,794.2 210.9,794.2 211.5,794.2 212.1,794.2 212.7,794.2 213.3,794.2 213.9,794.2 214.5,794.2 215.1,794.2 215.7,794.2 216.3,794.2 216.9,794.2 217.5,794.2 218.1,794.2 218.7,794.2 219.3,794.2 219.9,794.2 220.5,794.2 221.1,794.2 221.7,794.2 222.3,794.2 222.9,794.2 223.5,794.2 224.1,794.2 224.7,794.2 225.3,794.2 225.9,794.2 226.5,794.2 227.1,794.2 227.7,794.2 228.3,794.2 228.9,794.2 229.5,794.2 230.1,794.2 230.7,794.2 231.3,794.2 231.9,794.2 232.5,794.2 233.1,794.2 233.7,794.2 234.3,794.2 234.9,794.2 235.5,794.2 236.1,794.2 236.7,794.2 237.3,794.2 237.9,794.2 238.5,794.2 239.1,794.2 239.7,794.2 240.3,794.2 240.9,794.2 241.5,794.2" stroke="#9632f0" stroke-width="1.1" fill="none"/>
<path d="M41.1,789.0 41.7,789.0 42.3,789.0 42.9,789.0 43.5,789.0 44.1,789.0 44.7,789.0 45.3,789.0 45.9,789.0 46.5,789.0 47.1,789.0 47.7,789.0 48.3,789.0 48.9,789.0 49.5,789.0 50.1,789.0 50.7,789.0 51.3,789.0 51.9,789.0 52.5,789.0 53.1,789.0 53.7,789.0 54.3,789.0 54.9,789.0 55.5,789.0 56.1,789.0 56.7,789.0 57.3,789.0 57.9,789.0 58.5,789.0 59.1,789.0 59.7,789.0 60.3,789.0 60.9,789.0 61.5,789.0 62.1,789.0 62.7,789.0 63.3,789.0 63.9,789.0 64.5,789.0 65.1,789.0 65.7,789.0 66.3,789.0 66.9,789.0 67.5,789.0 68.1,789.0 68.7,789.0 69.3,789.0 69.9,789.0 70.5,789.0 71.1,789.0 71.7,789.0 72.3,789.0 72.9,789.0 73.5,789.0 74.1,789.0 74.7,789.0 75.3,789.0 75.9,789.0 76.5,789.0 77.1,789.0 77.7,789.0 78.3,789.0 78.9,789.0 79.5,789.0 80.1,789.0 80.7,789.0 81.3,789.0 81.9,789.0 82.5,789.0 83.1,789.0 83.7,789.0 84.3,789.0 84.9,789.0 85.5,789.0 86.1,789.0 86.7,789.0 87.3,789.0 87.9,789.0 88.5,789.0 89.1,789.0 89.7,789.0 90.3,789.0 90.9,789.0 91.5,789.0 92.1,789.0 92.7,789.0 93.3,789.0 93.9,789.0 94.5,789.0 95.1,789.1 95.7,789.1 96.3,789.1 96.9,789.1 97.5,789.1 98.1,789.1 98.7,789.1 99.3,789.1 99.9,789.2 100.5,789.2 101.1,789.2 101.7,789.2 102.3,789.2 102.9,789.3 103.5,789.3 104.1,789.3 104.7,789.4 105.3,789.4 105.9,789.4 106.5,789.5 107.1,789.5 107.7,789.5 108.3,789.6 108.9,789.6 109.5,789.6 110.1,789.7 110.7,789.7 111.3,789.8 111.9,789.8 112.5,789.8 113.1,789.9 113.7,789.9 114.3,790.0 114.9,790.0 115.5,790.0 116.1,790.1 116.7,790.1 117.3,790.2 117.9,790.2 118.5,790.2 119.1,790.3 119.7,790.3 120.3,790.3 120.9,790.4 121.5,790.4 122.1,790.5 122.7,790.5 123.3,790.5 123.9,790.6 124.5,790.6 125.1,790.6 125.7,790.6 126.3,790.7 126.9,790.7 127.5,790.7 128.1,790.8 128.7,790.8 129.3,790.8 129.9,790.8 130.5,790.9 131.1,790.9 131.7,790.9 132.3,790.9 132.9,791.0 133.5,791.0 134.1,791.0 134.7,791.0 135.3,791.1 135.9,791.1 136.5,791.1 137.1,791.1 137.7,791.1 138.3,791.2 138.9,791.2 139.5,791.2 140.1,791.2 140.7,791.2 141.3,791.3 141.9,791.3 142.5,791.3 143.1,791.3 143.7,791.3 144.3,791.3 144.9,791.4 145.5,791.4 146.1,791.4 146.7,791.4 147.3,791.4 147.9,791.4 148.5,791.4 149.1,791.5 149.7,791.5 150.3,791.5 150.9,791.5 151.5,791.5 152.1,791.5 152.7,791.5 153.3,791.5 153.9,791.5 154.5,791.5 155.1,791.5 155.7,791.5 156.3,791.5 156.9,791.5 157.5,791.4 158.1,791.3 158.7,791.2 159.3,791.1 159.9,790.9 160.5,790.6 161.1,790.1 161.7,789.6 162.3,788.8 162.9,787.9 163.5,786.6 164.1,785.1 164.7,783.2 165.3,780.8 165.9,778.0 166.5,774.8 167.1,771.0 167.7,766.8 168.3,762.1 168.9,757.1 169.5,751.7 170.1,746.2 170.7,740.7 171.3,735.3 171.9,730.1 172.5,725.5 173.1,721.5 173.7,718.4 174.3,716.2 174.9,715.0 175.5,714.9 176.1,715.9 176.7,718.0 177.3,721.0 177.9,724.9 178.5,729.5 179.1,734.6 179.7,740.1 180.3,745.7 180.9,751.4 181.5,757.0 182.1,762.2 182.7,767.1 183.3,771.6 183.9,775.6 184.5,779.1 185.1,782.1 185.7,784.7 186.3,786.8 186.9,788.5 187.5,789.9 188.1,791.0 188.7,791.8 189.3,792.5 189.9,793.0 190.5,793.3 191.1,793.6 191.7,793.8 192.3,793.9 192.9,794.0 193.5,794.1 194.1,794.1 194.7,794.1 195.3,794.2 195.9,794.2 196.5,794.2 197.1,794.2 197.7,794.2 198.3,794.2 198.9,794.2 199.5,794.2 200.1,794.2 200.7,794.2 201.3,794.2 201.9,794.2 202.5,794.2 203.1,794.2 203.7,794.2 204.3,794.2 204.9,794.2 205.5,794.2 206.1,794.2 206.7,794.2 207.3,794.2 207.9,794.2 208.5,794.2 209.1,794.2 209.7,794.2 210.3,794.2 210.9,794.2 211.5,794.2 212.1,794.2 212.7,794.2 213.3,794.2 213.9,794.2 214.5,794.2 215.1,794.2 215.7,794.2 216.3,794.2 216.9,794.2 217.5,794.2 218.1,794.2 218.7,794.2 219.3,794.2 219.9,794.2 220.5,794.2 221.1,794.2 221.7,794.2 222.3,794.2 222.9,794.2 223.5,794.2 224.1,794.2 224.7,794.2 225.3,794.2 225.9,794.2 226.5,794.2 227.1,794.2 227.7,794.2 228.3,794.2 228.9,794.2 229.5,794.2 230.1,794.2 230.7,794.2 231.3,794.2 231.9,794.2 232.5,794.2 233.1,794.2 233.7,794.2 234.3,794.2 234.9,794.2 235.5,794.2 236.1,794.2 236.7,794.2 237.3,794.2 237.9,794.2 238.5,794.2 239.1,794.2 239.7,794.2 240.3,794.2 240.9,794.2 241.5,794.2" stroke="#000000" stroke-width="1.1" fill="none"/>
<path d="M41.1,789.0 41.7,789.0 42.3,789.0 42.9,789.0 43.5,789.0 44.1,789.0 44.7,789.0 45.3,789.0 45.9,789.0 46.5,789.0 47.1,789.0 47.7,789.0 48.3,789.0 48.9,789.0 49.5,789.0 50.1,789.0 50.7,789.0 51.3,789.0 51.9,789.0 52.5,789.0 53.1,789.0 53.7,789.0 54.3,789.0 54.9,789.0 55.5,789.0 56.1,789.0 56.7,789.0 57.3,789.0 57.9,789.0 58.5,789.0 59.1,789.0 59.7,789.0 60.3,789.0 60.9,789.0 61.5,789.0 62.1,789.0 62.7,789.0 63.3,789.0 63.9,789.0 64.5,789.0 65.1,789.0 65.7,789.0 66.3,789.0 66.9,789.0 67.5,789.0 68.1,789.0 68.7,789.0 69.3,789.0 69.9,789.0 70.5,789.0 71.1,789.0 71.7,789.0 72.3,789.0 72.9,789.0 73.5,789.0 74.1,789.0 74.7,789.0 75.3,789.0 75.9,789.0 76.5,789.0 77.1,789.0 77.7,789.0 78.3,789.0 78.9,789.0 79.5,789.0 80.1,788.9 80.7,788.9 81.3,788.9 81.9,788.9 82.5,788.9 83.1,788.8 83.7,788.8 84.3,788.7 84.9,788.7 85.5,788.6 86.1,788.5 86.7,788.4 87.3,788.2 87.9,788.1 88.5,787.8 89.1,787.6 89.7,787.3 90.3,787.0 90.9,786.6 91.5,786.2 92.1,785.6 92.7,785.1 93.3,784.4 93.9,783.7 94.5,782.9 95.1,782.0 95.7,781.0 96.3,780.0 96.9,778.9 97.5,777.7 98.1,776.4 98.7,775.1 99.3,773.7 99.9,772.4 100.5,770.9 101.1,769.5 101.7,768.1 102.3,766.7 102.9,765.3 103.5,764.0 104.1,762.7 104.7,761.5 105.3,760.4 105.9,759.3 106.5,758.3 107.1,757.4 107.7,756.6 108.3,755.9 108.9,755.3 109.5,754.7 110.1,754.3 110.7,753.9 111.3,753.6 111.9,753.4 112.5,753.2 113.1,753.1 113.7,753.1 114.3,753.1 114.9,753.2 115.5,753.4 116.1,753.6 116.7,753.9 117.3,754.2 117.9,754.5 118.5,755.0 119.1,755.4 119.7,755.9 120.3,756.5 120.9,757.0 121.5,757.6 122.1,758.3 122.7,758.9 123.3,759.6 123.9,760.2 124.5,760.9 125.1,761.6 125.7,762.3 126.3,762.9 126.9,763.5 127.5,764.2 128.1,764.8 128.7,765.4 129.3,765.9 129.9,766.4 130.5,767.0 131.1,767.5 131.7,767.9 132.3,768.4 132.9,768.8 133.5,769.2 134.1,769.6 134.7,770.0 135.3,770.4 135.9,770.8 136.5,771.2 137.1,771.6 137.7,772.0 138.3,772.4 138.9,772.8 139.5,773.2 140.1,773.7 140.7,774.1 141.3,774.6 141.9,775.0 142.5,775.5 143.1,776.0 143.7,776.5 144.3,777.0 144.9,777.5 145.5,778.1 146.1,778.6 146.7,779.1 147.3,779.7 147.9,780.2 148.5,780.7 149.1,781.3 149.7,781.8 150.3,782.3 150.9,782.8 151.5,783.2 152.1,783.7 152.7,784.0 153.3,784.3 153.9,784.6 154.5,784.7 155.1,784.7 155.7,784.5 156.3,784.1 156.9,783.4 157.5,782.4 158.1,781.2 158.7,779.5 159.3,777.5 159.9,775.0 160.5,772.2 161.1,769.0 161.7,765.4 162.3,761.6 162.9,757.6 163.5,753.5 164.1,749.4 164.7,745.4 165.3,741.4 165.9,737.7 166.5,734.2 167.1,730.9 167.7,727.8 168.3,725.0 168.9,722.3 169.5,719.7 170.1,717.3 170.7,715.0 171.3,712.9 171.9,711.0 172.5,709.4 173.1,708.2 173.7,707.6 174.3,707.6 174.9,708.3 175.5,709.7 176.1,712.0 176.7,715.1 177.3,718.9 177.9,723.4 178.5,728.4 179.1,733.9 179.7,739.6 180.3,745.4 180.9,751.2 181.5,756.8 182.1,762.1 182.7,767.1 183.3,771.6 183.9,775.6 184.5,779.1 185.1,782.1 185.7,784.7 186.3,786.8 186.9,788.5 187.5,789.9 188.1,791.0 188.7,791.8 189.3,792.5 189.9,793.0 190.5,793.3 191.1,793.6 191.7,793.8 192.3,793.9 192.9,794.0 193.5,794.1 194.1,794.1 194.7,794.1 195.3,794.2 195.9,794.2 196.5,794.2 197.1,794.2 197.7,794.2 198.3,794.2 198.9,794.2 199.5,794.2 200.1,794.2 200.7,794.2 201.3,794.2 201.9,794.2 202.5,794.2 203.1,794.2 203.7,794.2 204.3,794.2 204.9,794.2 205.5,794.2 206.1,794.2 206.7,794.2 207.3,794.2 207.9,794.2 208.5,794.2 209.1,794.2 209.7,794.2 210.3,794.2 210.9,794.2 211.5,794.2 212.1,794.2 212.7,794.2 213.3,794.2 213.9,794.2 214.5,794.2 215.1,794.2 215.7,794.2 216.3,794.2 216.9,794.2 217.5,794.2 218.1,794.2 218.7,794.2 219.3,794.2 219.9,794.2 220.5,794.2 221.1,794.2 221.7,794.2 222.3,794.2 222.9,794.2 223.5,794.2 224.1,794.2 224.7,794.2 225.3,794.2 225.9,794.2 226.5,794.2 227.1,794.2 227.7,794.2 228.3,794.2 228.9,794.2 229.5,794.2 230.1,794.2 230.7,794.2 231.3,794.2 231.9,794.2 232.5,794.2 233.1,794.2 233.7,794.2 234.3,794.2 234.9,794.2 235.5,794.2 236.1,794.2 236.7,794.2 237.3,794.2 237.9,794.2 238.5,794.2 239.1,794.2 239.7,794.2 240.3,794.2 240.9,794.2 241.5,794.2" stroke="#f01e1e" stroke-width="1.3" fill="none"/>
<line x1="104.80" y1="758.70" x2="104.80" y2="779.40" stroke="#e81e8c" stroke-width="1.2" stroke-dasharray="3.2 2.2"/>
<line x1="115.10" y1="744.40" x2="115.10" y2="766.40" stroke="#1e961e" stroke-width="1.2" stroke-dasharray="3.2 2.2"/>
<line x1="136.40" y1="758.70" x2="136.40" y2="780.70" stroke="#f58c1e" stroke-width="1.2" stroke-dasharray="3.2 2.2"/>
<line x1="166.50" y1="717.20" x2="166.50" y2="754.80" stroke="#9632f0" stroke-width="1.2" stroke-dasharray="3.2 2.2"/>
<line x1="175.30" y1="704.30" x2="175.30" y2="723.70" stroke="#000000" stroke-width="1.2" stroke-dasharray="3.2 2.2"/>
<text x="136.40" y="709.40" font-size="11" text-anchor="start" fill="#000000" transform="matrix(1.0,0,0,0.95,0.000,35.470)">Si-O</text>
<text x="81.50" y="741.80" font-size="11" text-anchor="start" fill="#000000" transform="matrix(1.0,0,0,0.95,0.000,37.090)">Si-O</text>
<text x="128.10" y="754.80" font-size="11" text-anchor="start" fill="#000000" transform="matrix(1.0,0,0,0.95,0.000,37.740)">Si-N</text>
<line x1="158.50" y1="702.60" x2="170.01" y2="702.01" stroke="#000" stroke-width="0.9" />
<path d="M174.00,701.80 L170.11,704.00 L169.90,700.01 Z" fill="#000"/>
<line x1="157.90" y1="709.60" x2="163.26" y2="714.20" stroke="#000" stroke-width="0.9" />
<path d="M166.30,716.80 L161.96,715.72 L164.56,712.68 Z" fill="#000"/>
<line x1="97.50" y1="745.70" x2="102.55" y2="754.16" stroke="#000" stroke-width="0.9" />
<path d="M104.60,757.60 L100.83,755.19 L104.27,753.14 Z" fill="#000"/>
<line x1="104.00" y1="739.00" x2="110.05" y2="742.15" stroke="#000" stroke-width="0.9" />
<path d="M113.60,744.00 L109.13,743.93 L110.98,740.38 Z" fill="#000"/>
<path d="M267.5,556.8 268.1,556.8 268.7,556.8 269.3,556.8 269.9,556.8 270.5,556.8 271.1,556.8 271.7,556.8 272.3,556.8 272.9,556.8 273.5,556.8 274.1,556.8 274.7,556.8 275.3,556.8 275.9,556.8 276.5,556.8 277.1,556.8 277.7,556.8 278.3,556.8 278.9,556.8 279.5,556.8 280.1,556.8 280.7,556.8 281.3,556.8 281.9,556.8 282.5,556.8 283.1,556.8 283.7,556.8 284.3,556.8 284.9,556.8 285.5,556.8 286.1,556.8 286.7,556.8 287.3,556.8 287.9,556.8 288.5,556.8 289.1,556.8 289.7,556.8 290.3,556.8 290.9,556.8 291.5,556.8 292.1,556.8 292.7,556.8 293.3,556.8 293.9,556.8 294.5,556.8 295.1,556.8 295.7,556.8 296.3,556.8 296.9,556.8 297.5,556.8 298.1,556.8 298.7,556.8 299.3,556.8 299.9,556.8 300.5,556.8 301.1,556.8 301.7,556.8 302.3,556.8 302.9,556.8 303.5,556.8 304.1,556.8 304.7,556.8 305.3,556.8 305.9,556.8 306.5,556.8 307.1,556.8 307.7,556.8 308.3,556.9 308.9,556.9 309.5,556.9 310.1,556.9 310.7,556.9 311.3,556.9 311.9,556.9 312.5,556.9 313.1,556.9 313.7,556.9 314.3,556.9 314.9,556.9 315.5,556.9 316.1,556.9 316.7,556.9 317.3,556.9 317.9,556.9 318.5,557.0 319.1,557.0 319.7,557.0 320.3,557.0 320.9,557.0 321.5,557.0 322.1,557.0 322.7,557.0 323.3,557.1 323.9,557.1 324.5,557.1 325.1,557.1 325.7,557.1 326.3,557.1 326.9,557.2 327.5,557.2 328.1,557.2 328.7,557.2 329.3,557.2 329.9,557.3 330.5,557.3 331.1,557.3 331.7,557.3 332.3,557.4 332.9,557.4 333.5,557.4 334.1,557.4 334.7,557.5 335.3,557.5 335.9,557.5 336.5,557.6 337.1,557.6 337.7,557.6 338.3,557.7 338.9,557.7 339.5,557.8 340.1,557.8 340.7,557.9 341.3,557.9 341.9,557.9 342.5,558.0 343.1,558.0 343.7,558.1 344.3,558.1 344.9,558.2 345.5,558.2 346.1,558.3 346.7,558.4 347.3,558.4 347.9,558.5 348.5,558.5 349.1,558.6 349.7,558.7 350.3,558.7 350.9,558.8 351.5,558.9 352.1,558.9 352.7,559.0 353.3,559.1 353.9,559.1 354.5,559.2 355.1,559.3 355.7,559.4 356.3,559.4 356.9,559.5 357.5,559.6 358.1,559.7 358.7,559.8 359.3,559.8 359.9,559.9 360.5,560.0 361.1,560.1 361.7,560.2 362.3,560.3 362.9,560.3 363.5,560.4 364.1,560.5 364.7,560.6 365.3,560.7 365.9,560.8 366.5,560.9 367.1,561.0 367.7,561.1 368.3,561.1 368.9,561.2 369.5,561.3 370.1,561.4 370.7,561.5 371.3,561.6 371.9,561.7 372.5,561.8 373.1,561.9 373.7,561.9 374.3,562.0 374.9,562.1 375.5,562.2 376.1,562.3 376.7,562.4 377.3,562.5 377.9,562.6 378.5,562.6 379.1,562.7 379.7,562.8 380.3,562.9 380.9,563.0 381.5,563.1 382.1,563.1 382.7,563.2 383.3,563.3 383.9,563.4 384.5,563.4 385.1,563.5 385.7,563.6 386.3,563.7 386.9,563.7 387.5,563.8 388.1,563.9 388.7,563.9 389.3,564.0 389.9,564.1 390.5,564.1 391.1,564.2 391.7,564.2 392.3,564.3 392.9,564.4 393.5,564.4 394.1,564.5 394.7,564.5 395.3,564.6 395.9,564.6 396.5,564.7 397.1,564.7 397.7,564.8 398.3,564.8 398.9,564.9 399.5,564.9 400.1,564.9 400.7,565.0 401.3,565.0 401.9,565.1 402.5,565.1 403.1,565.1 403.7,565.2 404.3,565.2 404.9,565.2 405.5,565.3 406.1,565.3 406.7,565.3 407.3,565.4 407.9,565.4 408.5,565.4 409.1,565.4 409.7,565.5 410.3,565.5 410.9,565.5 411.5,565.5 412.1,565.5 412.7,565.6 413.3,565.6 413.9,565.6 414.5,565.6 415.1,565.6 415.7,565.6 416.3,565.7 416.9,565.7 417.5,565.7 418.1,565.7 418.7,565.7 419.3,565.7 419.9,565.7 420.5,565.7 421.1,565.7 421.7,565.8 422.3,565.8 422.9,565.8 423.5,565.8 424.1,565.8 424.7,565.8 425.3,565.8 425.9,565.8 426.5,565.8 427.1,565.8 427.7,565.8 428.3,565.8 428.9,565.8 429.5,565.8 430.1,565.8 430.7,565.8 431.3,565.9 431.9,565.9 432.5,565.9 433.1,565.9 433.7,565.9 434.3,565.9 434.9,565.9 435.5,565.9 436.1,565.9 436.7,565.9 437.3,565.9 437.9,565.9 438.5,565.9 439.1,565.9 439.7,565.9 440.3,565.9 440.9,565.9 441.5,565.9 442.1,565.9 442.7,565.9 443.3,565.9 443.9,565.9 444.5,565.9 445.1,565.9 445.7,565.9 446.3,565.9 446.9,565.9 447.5,565.9 448.1,565.9 448.7,565.9 449.3,565.9 449.9,565.9 450.5,565.9 451.1,565.9 451.7,565.9 452.3,565.9 452.9,565.9 453.5,565.9 454.1,565.9 454.7,565.9 455.3,565.9 455.9,565.9 456.5,565.9 457.1,565.9 457.7,565.9 458.3,565.9 458.9,565.9 459.5,565.9 460.1,565.9 460.7,565.9 461.3,565.9 461.9,565.9 462.5,565.9 463.1,565.9 463.7,565.9 464.3,565.9 464.9,565.9 465.5,565.9 466.1,565.9 466.7,565.9" stroke="#000" stroke-width="0.9" fill="none"/>
<path d="M267.5,555.2 268.1,554.4 268.7,553.6 269.3,555.8 269.9,558.1 270.5,555.4 271.1,552.8 271.7,554.8 272.3,556.9 272.9,556.1 273.5,555.3 274.1,553.9 274.7,552.5 275.3,554.5 275.9,556.5 276.5,554.3 277.1,552.2 277.7,554.0 278.3,555.7 278.9,554.0 279.5,552.4 280.1,552.4 280.7,552.5 281.3,554.0 281.9,555.5 282.5,557.2 283.1,559.0 283.7,555.8 284.3,552.6 284.9,553.1 285.5,553.1 286.1,554.4 286.7,555.7 287.3,556.7 287.9,557.6 288.5,555.5 289.1,553.3 289.7,552.0 290.3,550.7 290.9,552.8 291.5,554.9 292.1,550.3 292.7,545.6 293.3,548.7 293.9,551.9 294.5,548.9 295.1,545.8 295.7,544.7 296.3,543.5 296.9,542.9 297.5,542.3 298.1,542.6 298.7,543.0 299.3,544.8 299.9,546.6 300.5,543.2 301.1,539.9 301.7,541.4 302.3,543.0 302.9,543.1 303.5,543.2 304.1,541.8 304.7,540.4 305.3,541.0 305.9,541.7 306.5,539.3 307.1,536.9 307.7,536.7 308.3,536.5 308.9,537.0 309.5,537.5 310.1,539.5 310.7,541.4 311.3,540.1 311.9,538.8 312.5,538.1 313.1,537.4 313.7,538.4 314.3,539.5 314.9,538.7 315.5,537.9 316.1,537.1 316.7,536.2 317.3,538.2 317.9,540.3 318.5,539.7 319.1,539.1 319.7,536.8 320.3,534.5 320.9,535.7 321.5,536.9 322.1,536.4 322.7,535.9 323.3,537.2 323.9,538.4 324.5,537.5 325.1,536.5 325.7,534.2 326.3,532.0 326.9,534.8 327.5,537.6 328.1,533.4 328.7,529.2 329.3,530.3 329.9,531.3 330.5,532.6 331.1,533.8 331.7,530.8 332.3,527.7 332.9,529.0 333.5,530.2 334.1,527.9 334.7,525.5 335.3,528.1 335.9,530.6 336.5,530.7 337.1,530.9 337.7,529.7 338.3,528.5 338.9,529.6 339.5,530.7 340.1,527.8 340.7,525.0 341.3,526.4 341.9,527.9 342.5,527.1 343.1,526.2 343.7,525.7 344.3,525.1 344.9,524.0 345.5,523.0 346.1,524.2 346.7,525.4 347.3,525.4 347.9,525.4 348.5,522.8 349.1,520.1 349.7,520.5 350.3,520.9 350.9,517.6 351.5,514.4 352.1,516.8 352.7,519.2 353.3,518.5 353.9,517.7 354.5,518.8 355.1,519.8 355.7,518.6 356.3,517.3 356.9,514.4 357.5,511.5 358.1,511.4 358.7,511.4 359.3,512.1 359.9,512.9 360.5,509.5 361.1,506.1 361.7,507.6 362.3,509.1 362.9,507.2 363.5,505.4 364.1,504.7 364.7,504.1 365.3,503.4 365.9,502.7 366.5,505.5 367.1,508.2 367.7,504.9 368.3,501.6 368.9,501.7 369.5,501.8 370.1,502.0 370.7,502.2 371.3,503.9 371.9,505.7 372.5,501.7 373.1,497.7 373.7,498.9 374.3,500.1 374.9,500.2 375.5,500.2 376.1,501.2 376.7,502.3 377.3,501.6 377.9,500.9 378.5,500.6 379.1,500.7 379.7,499.3 380.3,498.0 380.9,499.9 381.5,501.8 382.1,502.9 382.7,503.9 383.3,507.6 383.9,511.2 384.5,512.8 385.1,514.5 385.7,512.1 386.3,509.8 386.9,510.9 387.5,510.4 388.1,510.1 388.7,509.7 389.3,509.1 389.9,508.6 390.5,509.1 391.1,509.6 391.7,509.5 392.3,510.0 392.9,509.0 393.5,508.0 394.1,507.3 394.7,506.7 395.3,509.0 395.9,511.4 396.5,511.7 397.1,512.0 397.7,513.3 398.3,514.7 398.9,517.0 399.5,519.2 400.1,518.8 400.7,518.5 401.3,518.6 401.9,518.7 402.5,520.1 403.1,521.5 403.7,522.6 404.3,523.8 404.9,521.9 405.5,520.0 406.1,524.7 406.7,529.4 407.3,529.8 407.9,530.0 408.5,531.1 409.1,532.2 409.7,532.6 410.3,532.9 410.9,531.8 411.5,530.7 412.1,531.4 412.7,532.2 413.3,531.5 413.9,530.9 414.5,534.0 415.1,537.1 415.7,535.2 416.3,533.3 416.9,534.0 417.5,534.7 418.1,536.1 418.7,537.4 419.3,537.9 419.9,538.4 420.5,539.9 421.1,541.4 421.7,540.8 422.3,540.2 422.9,540.6 423.5,540.6 424.1,541.3 424.7,542.0 425.3,541.7 425.9,541.5 426.5,542.7 427.1,543.9 427.7,542.4 428.3,540.8 428.9,544.6 429.5,548.5 430.1,547.3 430.7,546.1 431.3,544.5 431.9,543.0 432.5,544.1 433.1,545.2 433.7,546.2 434.3,547.2 434.9,547.9 435.5,548.6 436.1,548.1 436.7,547.6 437.3,551.5 437.9,555.3 438.5,556.6 439.1,557.8 439.7,556.1 440.3,554.3 440.9,555.0 441.5,555.5 442.1,554.0 442.7,552.5 443.3,552.9 443.9,553.3 444.5,554.7 445.1,556.0 445.7,556.0 446.3,555.9 446.9,558.8 447.5,561.6 448.1,558.9 448.7,556.2 449.3,555.9 449.9,555.6 450.5,560.0 451.1,564.5 451.7,562.9 452.3,561.1 452.9,559.6 453.5,558.0 454.1,560.0 454.7,561.9 455.3,559.7 455.9,557.6 456.5,560.0 457.1,562.4 457.7,564.6 458.3,566.7 458.9,566.4 459.5,566.0 460.1,565.4 460.7,564.8 461.3,563.0 461.9,561.2 462.5,561.9 463.1,562.5 463.7,561.7 464.3,561.0 464.9,563.9 465.5,566.8 466.1,565.8 466.7,564.9" stroke="#000" stroke-width="1.0" fill="none" stroke-linejoin="round"/>
<path d="M267.5,556.8 268.1,556.8 268.7,556.8 269.3,556.8 269.9,556.8 270.5,556.8 271.1,556.8 271.7,556.8 272.3,556.8 272.9,556.8 273.5,556.8 274.1,556.8 274.7,556.8 275.3,556.8 275.9,556.8 276.5,556.8 277.1,556.8 277.7,556.8 278.3,556.8 278.9,556.8 279.5,556.7 280.1,556.7 280.7,556.7 281.3,556.7 281.9,556.7 282.5,556.7 283.1,556.7 283.7,556.7 284.3,556.7 284.9,556.7 285.5,556.7 286.1,556.7 286.7,556.6 287.3,556.6 287.9,556.6 288.5,556.6 289.1,556.6 289.7,556.6 290.3,556.5 290.9,556.5 291.5,556.5 292.1,556.5 292.7,556.4 293.3,556.4 293.9,556.4 294.5,556.3 295.1,556.3 295.7,556.3 296.3,556.2 296.9,556.2 297.5,556.1 298.1,556.1 298.7,556.0 299.3,556.0 299.9,555.9 300.5,555.8 301.1,555.8 301.7,555.7 302.3,555.6 302.9,555.5 303.5,555.5 304.1,555.4 304.7,555.3 305.3,555.1 305.9,555.0 306.5,554.9 307.1,554.8 307.7,554.7 308.3,554.5 308.9,554.4 309.5,554.2 310.1,554.1 310.7,553.9 311.3,553.7 311.9,553.5 312.5,553.3 313.1,553.1 313.7,552.9 314.3,552.7 314.9,552.4 315.5,552.2 316.1,551.9 316.7,551.6 317.3,551.3 317.9,551.0 318.5,550.7 319.1,550.4 319.7,550.1 320.3,549.7 320.9,549.3 321.5,549.0 322.1,548.6 322.7,548.1 323.3,547.7 323.9,547.3 324.5,546.8 325.1,546.4 325.7,545.9 326.3,545.4 326.9,544.9 327.5,544.3 328.1,543.8 328.7,543.2 329.3,542.6 329.9,542.0 330.5,541.4 331.1,540.8 331.7,540.2 332.3,539.5 332.9,538.8 333.5,538.2 334.1,537.5 334.7,536.8 335.3,536.0 335.9,535.3 336.5,534.5 337.1,533.8 337.7,533.0 338.3,532.2 338.9,531.4 339.5,530.6 340.1,529.8 340.7,529.0 341.3,528.2 341.9,527.4 342.5,526.5 343.1,525.7 343.7,524.8 344.3,524.0 344.9,523.1 345.5,522.3 346.1,521.4 346.7,520.6 347.3,519.8 347.9,518.9 348.5,518.1 349.1,517.3 349.7,516.4 350.3,515.6 350.9,514.8 351.5,514.1 352.1,513.3 352.7,512.5 353.3,511.8 353.9,511.0 354.5,510.3 355.1,509.6 355.7,509.0 356.3,508.3 356.9,507.7 357.5,507.1 358.1,506.5 358.7,505.9 359.3,505.4 359.9,504.9 360.5,504.5 361.1,504.0 361.7,503.6 362.3,503.2 362.9,502.9 363.5,502.6 364.1,502.3 364.7,502.0 365.3,501.8 365.9,501.6 366.5,501.5 367.1,501.4 367.7,501.3 368.3,501.3 368.9,501.3 369.5,501.3 370.1,501.4 370.7,501.5 371.3,501.7 371.9,501.9 372.5,502.1 373.1,502.3 373.7,502.6 374.3,503.0 374.9,503.3 375.5,503.7 376.1,504.2 376.7,504.6 377.3,505.1 377.9,505.7 378.5,506.2 379.1,506.8 379.7,507.4 380.3,508.1 380.9,508.8 381.5,509.5 382.1,510.2 382.7,510.9 383.3,511.7 383.9,512.5 384.5,513.3 385.1,514.1 385.7,515.0 386.3,515.8 386.9,516.7 387.5,517.6 388.1,518.5 388.7,519.4 389.3,520.3 389.9,521.3 390.5,522.2 391.1,523.2 391.7,524.1 392.3,525.1 392.9,526.0 393.5,527.0 394.1,527.9 394.7,528.9 395.3,529.8 395.9,530.8 396.5,531.7 397.1,532.7 397.7,533.6 398.3,534.5 398.9,535.4 399.5,536.4 400.1,537.3 400.7,538.1 401.3,539.0 401.9,539.9 402.5,540.7 403.1,541.6 403.7,542.4 404.3,543.2 404.9,544.0 405.5,544.8 406.1,545.6 406.7,546.3 407.3,547.0 407.9,547.8 408.5,548.5 409.1,549.2 409.7,549.8 410.3,550.5 410.9,551.1 411.5,551.7 412.1,552.3 412.7,552.9 413.3,553.5 413.9,554.0 414.5,554.5 415.1,555.0 415.7,555.5 416.3,556.0 416.9,556.5 417.5,556.9 418.1,557.4 418.7,557.8 419.3,558.2 419.9,558.6 420.5,558.9 421.1,559.3 421.7,559.6 422.3,560.0 422.9,560.3 423.5,560.6 424.1,560.9 424.7,561.1 425.3,561.4 425.9,561.6 426.5,561.9 427.1,562.1 427.7,562.3 428.3,562.5 428.9,562.7 429.5,562.9 430.1,563.1 430.7,563.3 431.3,563.4 431.9,563.6 432.5,563.7 433.1,563.9 433.7,564.0 434.3,564.1 434.9,564.2 435.5,564.3 436.1,564.4 436.7,564.5 437.3,564.6 437.9,564.7 438.5,564.8 439.1,564.9 439.7,564.9 440.3,565.0 440.9,565.1 441.5,565.1 442.1,565.2 442.7,565.2 443.3,565.3 443.9,565.3 444.5,565.4 445.1,565.4 445.7,565.4 446.3,565.5 446.9,565.5 447.5,565.5 448.1,565.6 448.7,565.6 449.3,565.6 449.9,565.6 450.5,565.7 451.1,565.7 451.7,565.7 452.3,565.7 452.9,565.7 453.5,565.7 454.1,565.8 454.7,565.8 455.3,565.8 455.9,565.8 456.5,565.8 457.1,565.8 457.7,565.8 458.3,565.8 458.9,565.8 459.5,565.8 460.1,565.8 460.7,565.8 461.3,565.9 461.9,565.9 462.5,565.9 463.1,565.9 463.7,565.9 464.3,565.9 464.9,565.9 465.5,565.9 466.1,565.9 466.7,565.9" stroke="#1e961e" stroke-width="1.1" fill="none"/>
<line x1="370.00" y1="499.80" x2="370.00" y2="523.10" stroke="#1e961e" stroke-width="1.2" stroke-dasharray="3.2 2.2"/>
<text x="274.10" y="485.00" font-size="11" text-anchor="start" fill="#f01e1e" transform="matrix(1.0,0,0,0.95,0.000,24.250)">p-Si@MgSiN<tspan font-size="8.2" dy="2.80">2</tspan></text>
<text x="464.50" y="485.00" font-size="11" text-anchor="end" fill="#000000" transform="matrix(1.0,0,0,0.95,0.000,24.250)">Mg 1s</text>
<text x="347.40" y="494.60" font-size="11" text-anchor="start" fill="#1e961e" transform="matrix(1.0,0,0,0.95,0.000,24.730)">Mg metallic bond</text>
<path d="M267.6,679.0 268.2,679.0 268.8,679.0 269.4,679.0 270.0,679.0 270.6,679.0 271.2,679.0 271.8,679.0 272.4,679.0 273.0,679.0 273.6,679.0 274.2,679.0 274.8,679.0 275.4,679.0 276.0,679.0 276.6,679.0 277.2,679.0 277.8,679.0 278.4,679.0 279.0,679.0 279.6,679.0 280.2,679.0 280.8,679.0 281.4,679.0 282.0,679.0 282.6,679.0 283.2,679.0 283.8,679.0 284.4,679.0 285.0,679.0 285.6,679.0 286.2,679.0 286.8,679.0 287.4,679.0 288.0,679.0 288.6,679.0 289.2,679.0 289.8,679.0 290.4,679.0 291.0,679.0 291.6,679.0 292.2,679.0 292.8,679.0 293.4,679.0 294.0,679.0 294.6,679.0 295.2,679.0 295.8,679.0 296.4,679.0 297.0,679.0 297.6,679.0 298.2,679.0 298.8,679.0 299.4,679.0 300.0,679.0 300.6,679.0 301.2,679.0 301.8,679.0 302.4,679.0 303.0,679.0 303.6,679.0 304.2,679.0 304.8,679.0 305.4,679.0 306.0,679.0 306.6,679.0 307.2,679.0 307.8,679.0 308.4,679.0 309.0,679.0 309.6,679.0 310.2,679.0 310.8,679.0 311.4,679.0 312.0,679.0 312.6,679.0 313.2,679.0 313.8,679.0 314.4,679.0 315.0,679.0 315.6,679.0 316.2,679.0 316.8,679.0 317.4,679.0 318.0,679.0 318.6,679.0 319.2,679.0 319.8,679.0 320.4,679.0 321.0,679.0 321.6,679.0 322.2,679.0 322.8,679.0 323.4,679.0 324.0,679.0 324.6,679.0 325.2,679.0 325.8,679.0 326.4,679.0 327.0,679.0 327.6,679.0 328.2,679.0 328.8,679.0 329.4,679.0 330.0,679.0 330.6,679.0 331.2,679.0 331.8,679.0 332.4,679.0 333.0,679.0 333.6,679.0 334.2,679.0 334.8,679.0 335.4,679.0 336.0,679.0 336.6,679.0 337.2,679.0 337.8,679.0 338.4,679.0 339.0,679.0 339.6,679.0 340.2,679.0 340.8,679.0 341.4,679.0 342.0,679.0 342.6,679.0 343.2,679.0 343.8,679.0 344.4,679.0 345.0,679.0 345.6,679.0 346.2,679.0 346.8,679.0 347.4,679.0 348.0,679.0 348.6,679.0 349.2,679.0 349.8,679.0 350.4,679.0 351.0,679.0 351.6,679.0 352.2,679.0 352.8,679.0 353.4,679.0 354.0,679.0 354.6,679.0 355.2,679.0 355.8,679.0 356.4,679.0 357.0,679.0 357.6,679.0 358.2,679.0 358.8,679.0 359.4,679.0 360.0,679.0 360.6,679.0 361.2,679.0 361.8,679.0 362.4,679.0 363.0,679.0 363.6,679.0 364.2,679.0 364.8,679.0 365.4,679.0 366.0,679.0 366.6,679.0 367.2,679.0 367.8,679.0 368.4,679.0 369.0,679.0 369.6,679.0 370.2,679.0 370.8,679.0 371.4,679.0 372.0,679.0 372.6,679.0 373.2,679.0 373.8,679.0 374.4,679.0 375.0,679.0 375.6,679.0 376.2,679.0 376.8,679.0 377.4,679.0 378.0,679.0 378.6,679.0 379.2,679.0 379.8,679.0 380.4,679.0 381.0,679.0 381.6,679.0 382.2,679.0 382.8,679.0 383.4,679.0 384.0,679.0 384.6,679.0 385.2,679.0 385.8,679.0 386.4,679.0 387.0,679.0 387.6,679.0 388.2,679.0 388.8,679.0 389.4,679.0 390.0,679.0 390.6,679.0 391.2,679.0 391.8,679.0 392.4,679.0 393.0,679.0 393.6,679.0 394.2,679.0 394.8,679.0 395.4,679.0 396.0,679.0 396.6,679.0 397.2,679.0 397.8,679.0 398.4,679.0 399.0,679.0 399.6,679.0 400.2,679.0 400.8,679.0 401.4,679.0 402.0,679.0 402.6,679.0 403.2,679.0 403.8,679.0 404.4,679.0 405.0,679.0 405.6,679.0 406.2,679.0 406.8,679.0 407.4,679.0 408.0,679.0 408.6,679.0 409.2,679.0 409.8,679.0 410.4,679.0 411.0,679.0 411.6,679.0 412.2,679.0 412.8,679.0 413.4,679.0 414.0,679.0 414.6,679.0 415.2,679.0 415.8,679.0 416.4,679.0 417.0,679.0 417.6,679.0 418.2,679.0 418.8,679.0 419.4,679.0 420.0,679.0 420.6,679.0 421.2,679.0 421.8,679.0 422.4,679.0 423.0,679.0 423.6,679.0 424.2,679.0 424.8,679.0 425.4,679.0 426.0,679.0 426.6,679.0 427.2,679.0 427.8,679.0 428.4,679.0 429.0,679.0 429.6,679.0 430.2,679.0 430.8,679.0 431.4,679.0 432.0,679.0 432.6,679.0 433.2,679.0 433.8,679.0 434.4,679.0 435.0,679.0 435.6,679.0 436.2,679.0 436.8,679.0" stroke="#000" stroke-width="0.9" fill="none"/>
<path d="M267.6,665.5 268.2,671.4 268.8,677.3 269.4,670.7 270.0,664.0 270.6,668.7 271.2,673.3 271.8,668.4 272.4,663.5 273.0,664.8 273.6,666.1 274.2,672.1 274.8,678.2 275.4,671.8 276.0,665.5 276.6,669.0 277.2,672.4 277.8,671.0 278.4,669.5 279.0,669.4 279.6,669.4 280.2,669.7 280.8,670.0 281.4,667.5 282.0,665.0 282.6,670.0 283.2,675.1 283.8,669.0 284.4,663.0 285.0,664.1 285.6,665.1 286.2,663.3 286.8,661.4 287.4,663.3 288.0,665.1 288.6,666.1 289.2,667.0 289.8,670.8 290.4,674.6 291.0,670.2 291.6,665.8 292.2,663.4 292.8,661.1 293.4,662.0 294.0,662.9 294.6,668.5 295.2,674.0 295.8,666.3 296.4,658.6 297.0,662.7 297.6,666.8 298.2,664.5 298.8,662.2 299.4,664.0 300.0,665.9 300.6,663.0 301.2,660.1 301.8,662.6 302.4,665.0 303.0,663.1 303.6,661.1 304.2,662.0 304.8,662.8 305.4,664.4 306.0,665.9 306.6,662.9 307.2,659.9 307.8,656.0 308.4,652.0 309.0,650.9 309.6,649.8 310.2,656.4 310.8,662.9 311.4,658.8 312.0,654.7 312.6,651.8 313.2,649.0 313.8,654.5 314.4,660.1 315.0,656.7 315.6,653.3 316.2,654.0 316.8,654.8 317.4,655.6 318.0,656.4 318.6,651.2 319.2,646.1 319.8,646.2 320.4,646.5 321.0,650.3 321.6,654.2 322.2,647.9 322.8,641.7 323.4,646.5 324.0,651.3 324.6,645.7 325.2,640.2 325.8,644.8 326.4,649.3 327.0,649.3 327.6,649.2 328.2,651.1 328.8,652.9 329.4,652.0 330.0,651.0 330.6,648.2 331.2,645.4 331.8,642.9 332.4,640.4 333.0,639.9 333.6,639.5 334.2,642.5 334.8,645.4 335.4,645.2 336.0,644.9 336.6,641.3 337.2,637.7 337.8,644.2 338.4,650.7 339.0,647.3 339.6,644.0 340.2,645.2 340.8,646.1 341.4,641.6 342.0,637.1 342.6,636.6 343.2,636.1 343.8,633.4 344.4,630.8 345.0,632.5 345.6,634.3 346.2,632.7 346.8,631.1 347.4,631.3 348.0,631.5 348.6,630.0 349.2,628.5 349.8,630.9 350.4,633.3 351.0,632.5 351.6,631.7 352.2,624.6 352.8,617.5 353.4,617.9 354.0,618.3 354.6,615.0 355.2,611.8 355.8,614.4 356.4,616.9 357.0,618.0 357.6,619.1 358.2,611.6 358.8,604.1 359.4,607.3 360.0,610.6 360.6,606.1 361.2,601.7 361.8,598.8 362.4,595.9 363.0,601.4 363.6,607.0 364.2,603.2 364.8,599.6 365.4,598.1 366.0,596.6 366.6,598.7 367.2,601.0 367.8,599.6 368.4,598.2 369.0,600.1 369.6,602.0 370.2,603.0 370.8,604.0 371.4,604.6 372.0,605.3 372.6,607.7 373.2,610.2 373.8,609.0 374.4,608.0 375.0,607.8 375.6,607.4 376.2,608.5 376.8,609.7 377.4,611.1 378.0,612.7 378.6,617.4 379.2,622.3 379.8,622.5 380.4,622.8 381.0,628.0 381.6,633.2 382.2,632.5 382.8,631.7 383.4,635.0 384.0,638.3 384.6,642.2 385.2,646.1 385.8,640.4 386.4,634.7 387.0,636.0 387.6,637.2 388.2,639.8 388.8,642.3 389.4,645.8 390.0,649.2 390.6,652.2 391.2,655.2 391.8,658.0 392.4,660.8 393.0,659.0 393.6,657.2 394.2,663.3 394.8,669.4 395.4,662.9 396.0,656.3 396.6,664.0 397.2,671.6 397.8,667.5 398.4,663.4 399.0,669.6 399.6,675.7 400.2,669.7 400.8,663.6 401.4,671.7 402.0,679.8 402.6,678.7 403.2,677.6 403.8,679.9 404.4,682.2 405.0,679.3 405.6,676.5 406.2,673.6 406.8,670.7 407.4,677.3 408.0,684.0 408.6,680.0 409.2,676.0 409.8,673.3 410.4,670.9 411.0,675.5 411.6,680.2 412.2,679.7 412.8,679.3 413.4,679.5 414.0,679.7 414.6,677.6 415.2,675.4 415.8,675.5 416.4,675.6 417.0,679.7 417.6,683.7 418.2,683.0 418.8,682.3 419.4,680.1 420.0,677.8 420.6,680.4 421.2,683.0 421.8,685.3 422.4,687.7 423.0,687.7 423.6,687.7 424.2,685.8 424.8,683.9 425.4,683.4 426.0,682.8 426.6,682.6 427.2,682.5 427.8,681.4 428.4,680.4 429.0,680.3 429.6,680.1 430.2,682.0 430.8,683.5 431.4,680.3 432.0,677.1 432.6,681.5 433.2,686.0 433.8,685.3 434.4,684.7 435.0,683.4 435.6,682.2 436.2,677.0 436.8,671.8" stroke="#000" stroke-width="1.0" fill="none" stroke-linejoin="round"/>
<path d="M267.6,678.9 268.2,678.9 268.8,678.8 269.4,678.8 270.0,678.8 270.6,678.8 271.2,678.8 271.8,678.7 272.4,678.7 273.0,678.7 273.6,678.7 274.2,678.6 274.8,678.6 275.4,678.5 276.0,678.5 276.6,678.5 277.2,678.4 277.8,678.3 278.4,678.3 279.0,678.2 279.6,678.1 280.2,678.1 280.8,678.0 281.4,677.9 282.0,677.8 282.6,677.7 283.2,677.6 283.8,677.5 284.4,677.4 285.0,677.2 285.6,677.1 286.2,676.9 286.8,676.8 287.4,676.6 288.0,676.4 288.6,676.3 289.2,676.1 289.8,675.9 290.4,675.6 291.0,675.4 291.6,675.2 292.2,674.9 292.8,674.6 293.4,674.3 294.0,674.0 294.6,673.7 295.2,673.4 295.8,673.1 296.4,672.7 297.0,672.4 297.6,672.0 298.2,671.6 298.8,671.2 299.4,670.8 300.0,670.3 300.6,669.9 301.2,669.4 301.8,669.0 302.4,668.5 303.0,668.0 303.6,667.5 304.2,666.9 304.8,666.4 305.4,665.9 306.0,665.3 306.6,664.8 307.2,664.2 307.8,663.6 308.4,663.0 309.0,662.4 309.6,661.8 310.2,661.3 310.8,660.7 311.4,660.1 312.0,659.5 312.6,658.9 313.2,658.3 313.8,657.7 314.4,657.1 315.0,656.5 315.6,655.9 316.2,655.3 316.8,654.8 317.4,654.2 318.0,653.7 318.6,653.2 319.2,652.7 319.8,652.1 320.4,651.7 321.0,651.2 321.6,650.7 322.2,650.3 322.8,649.9 323.4,649.5 324.0,649.1 324.6,648.7 325.2,648.3 325.8,648.0 326.4,647.7 327.0,647.4 327.6,647.1 328.2,646.8 328.8,646.5 329.4,646.3 330.0,646.0 330.6,645.8 331.2,645.6 331.8,645.4 332.4,645.1 333.0,644.9 333.6,644.7 334.2,644.5 334.8,644.3 335.4,644.0 336.0,643.8 336.6,643.5 337.2,643.2 337.8,643.0 338.4,642.6 339.0,642.3 339.6,642.0 340.2,641.6 340.8,641.1 341.4,640.7 342.0,640.2 342.6,639.7 343.2,639.1 343.8,638.5 344.4,637.9 345.0,637.2 345.6,636.5 346.2,635.7 346.8,634.9 347.4,634.0 348.0,633.1 348.6,632.2 349.2,631.2 349.8,630.2 350.4,629.1 351.0,628.0 351.6,626.9 352.2,625.7 352.8,624.6 353.4,623.4 354.0,622.1 354.6,620.9 355.2,619.7 355.8,618.5 356.4,617.2 357.0,616.0 357.6,614.8 358.2,613.7 358.8,612.5 359.4,611.4 360.0,610.3 360.6,609.3 361.2,608.3 361.8,607.4 362.4,606.6 363.0,605.8 363.6,605.1 364.2,604.4 364.8,603.9 365.4,603.4 366.0,603.1 366.6,602.8 367.2,602.6 367.8,602.6 368.4,602.6 369.0,602.8 369.6,603.0 370.2,603.3 370.8,603.8 371.4,604.4 372.0,605.0 372.6,605.8 373.2,606.6 373.8,607.6 374.4,608.6 375.0,609.8 375.6,611.0 376.2,612.3 376.8,613.6 377.4,615.1 378.0,616.6 378.6,618.2 379.2,619.8 379.8,621.4 380.4,623.1 381.0,624.9 381.6,626.6 382.2,628.4 382.8,630.2 383.4,632.0 384.0,633.8 384.6,635.6 385.2,637.4 385.8,639.2 386.4,641.0 387.0,642.7 387.6,644.5 388.2,646.2 388.8,647.8 389.4,649.4 390.0,651.0 390.6,652.6 391.2,654.1 391.8,655.5 392.4,656.9 393.0,658.2 393.6,659.5 394.2,660.8 394.8,662.0 395.4,663.1 396.0,664.2 396.6,665.2 397.2,666.2 397.8,667.2 398.4,668.0 399.0,668.9 399.6,669.7 400.2,670.4 400.8,671.1 401.4,671.7 402.0,672.3 402.6,672.9 403.2,673.4 403.8,673.9 404.4,674.4 405.0,674.8 405.6,675.2 406.2,675.5 406.8,675.9 407.4,676.2 408.0,676.4 408.6,676.7 409.2,676.9 409.8,677.1 410.4,677.3 411.0,677.5 411.6,677.7 412.2,677.8 412.8,677.9 413.4,678.1 414.0,678.2 414.6,678.3 415.2,678.3 415.8,678.4 416.4,678.5 417.0,678.5 417.6,678.6 418.2,678.7 418.8,678.7 419.4,678.7 420.0,678.8 420.6,678.8 421.2,678.8 421.8,678.8 422.4,678.9 423.0,678.9 423.6,678.9 424.2,678.9 424.8,678.9 425.4,678.9 426.0,678.9 426.6,679.0 427.2,679.0 427.8,679.0 428.4,679.0 429.0,679.0 429.6,679.0 430.2,679.0 430.8,679.0 431.4,679.0 432.0,679.0 432.6,679.0 433.2,679.0 433.8,679.0 434.4,679.0 435.0,679.0 435.6,679.0 436.2,679.0 436.8,679.0" stroke="#f01e1e" stroke-width="1.3" fill="none"/>
<path d="M267.6,678.9 268.2,678.9 268.8,678.8 269.4,678.8 270.0,678.8 270.6,678.8 271.2,678.8 271.8,678.7 272.4,678.7 273.0,678.7 273.6,678.7 274.2,678.6 274.8,678.6 275.4,678.5 276.0,678.5 276.6,678.5 277.2,678.4 277.8,678.3 278.4,678.3 279.0,678.2 279.6,678.1 280.2,678.1 280.8,678.0 281.4,677.9 282.0,677.8 282.6,677.7 283.2,677.6 283.8,677.5 284.4,677.4 285.0,677.2 285.6,677.1 286.2,676.9 286.8,676.8 287.4,676.6 288.0,676.4 288.6,676.3 289.2,676.1 289.8,675.9 290.4,675.6 291.0,675.4 291.6,675.2 292.2,674.9 292.8,674.6 293.4,674.3 294.0,674.0 294.6,673.7 295.2,673.4 295.8,673.1 296.4,672.7 297.0,672.4 297.6,672.0 298.2,671.6 298.8,671.2 299.4,670.8 300.0,670.3 300.6,669.9 301.2,669.4 301.8,669.0 302.4,668.5 303.0,668.0 303.6,667.5 304.2,666.9 304.8,666.4 305.4,665.9 306.0,665.3 306.6,664.8 307.2,664.2 307.8,663.6 308.4,663.0 309.0,662.5 309.6,661.9 310.2,661.3 310.8,660.7 311.4,660.1 312.0,659.5 312.6,658.9 313.2,658.3 313.8,657.7 314.4,657.2 315.0,656.6 315.6,656.0 316.2,655.5 316.8,654.9 317.4,654.4 318.0,653.9 318.6,653.4 319.2,652.9 319.8,652.5 320.4,652.0 321.0,651.6 321.6,651.2 322.2,650.8 322.8,650.5 323.4,650.1 324.0,649.8 324.6,649.6 325.2,649.3 325.8,649.1 326.4,648.9 327.0,648.8 327.6,648.6 328.2,648.5 328.8,648.5 329.4,648.4 330.0,648.4 330.6,648.4 331.2,648.5 331.8,648.6 332.4,648.7 333.0,648.9 333.6,649.0 334.2,649.2 334.8,649.5 335.4,649.8 336.0,650.0 336.6,650.4 337.2,650.7 337.8,651.1 338.4,651.5 339.0,651.9 339.6,652.3 340.2,652.8 340.8,653.2 341.4,653.7 342.0,654.2 342.6,654.8 343.2,655.3 343.8,655.9 344.4,656.4 345.0,657.0 345.6,657.6 346.2,658.1 346.8,658.7 347.4,659.3 348.0,659.9 348.6,660.5 349.2,661.1 349.8,661.7 350.4,662.3 351.0,662.9 351.6,663.4 352.2,664.0 352.8,664.6 353.4,665.1 354.0,665.7 354.6,666.2 355.2,666.8 355.8,667.3 356.4,667.8 357.0,668.3 357.6,668.8 358.2,669.3 358.8,669.7 359.4,670.2 360.0,670.6 360.6,671.1 361.2,671.5 361.8,671.9 362.4,672.2 363.0,672.6 363.6,673.0 364.2,673.3 364.8,673.6 365.4,673.9 366.0,674.2 366.6,674.5 367.2,674.8 367.8,675.1 368.4,675.3 369.0,675.6 369.6,675.8 370.2,676.0 370.8,676.2 371.4,676.4 372.0,676.6 372.6,676.7 373.2,676.9 373.8,677.0 374.4,677.2 375.0,677.3 375.6,677.4 376.2,677.6 376.8,677.7 377.4,677.8 378.0,677.9 378.6,678.0 379.2,678.0 379.8,678.1 380.4,678.2 381.0,678.3 381.6,678.3 382.2,678.4 382.8,678.4 383.4,678.5 384.0,678.5 384.6,678.6 385.2,678.6 385.8,678.6 386.4,678.7 387.0,678.7 387.6,678.7 388.2,678.8 388.8,678.8 389.4,678.8 390.0,678.8 390.6,678.8 391.2,678.9 391.8,678.9 392.4,678.9 393.0,678.9 393.6,678.9 394.2,678.9 394.8,678.9 395.4,678.9 396.0,678.9 396.6,678.9 397.2,679.0 397.8,679.0 398.4,679.0 399.0,679.0 399.6,679.0 400.2,679.0 400.8,679.0 401.4,679.0 402.0,679.0 402.6,679.0 403.2,679.0 403.8,679.0 404.4,679.0 405.0,679.0 405.6,679.0 406.2,679.0 406.8,679.0 407.4,679.0 408.0,679.0 408.6,679.0 409.2,679.0 409.8,679.0 410.4,679.0 411.0,679.0 411.6,679.0 412.2,679.0 412.8,679.0 413.4,679.0 414.0,679.0 414.6,679.0 415.2,679.0 415.8,679.0 416.4,679.0 417.0,679.0 417.6,679.0 418.2,679.0 418.8,679.0 419.4,679.0 420.0,679.0 420.6,679.0 421.2,679.0 421.8,679.0 422.4,679.0 423.0,679.0 423.6,679.0 424.2,679.0 424.8,679.0 425.4,679.0 426.0,679.0 426.6,679.0 427.2,679.0 427.8,679.0 428.4,679.0 429.0,679.0 429.6,679.0 430.2,679.0 430.8,679.0 431.4,679.0 432.0,679.0 432.6,679.0 433.2,679.0 433.8,679.0 434.4,679.0 435.0,679.0 435.6,679.0 436.2,679.0 436.8,679.0" stroke="#2424e6" stroke-width="1.1" fill="none"/>
<path d="M267.6,679.0 268.2,679.0 268.8,679.0 269.4,679.0 270.0,679.0 270.6,679.0 271.2,679.0 271.8,679.0 272.4,679.0 273.0,679.0 273.6,679.0 274.2,679.0 274.8,679.0 275.4,679.0 276.0,679.0 276.6,679.0 277.2,679.0 277.8,679.0 278.4,679.0 279.0,679.0 279.6,679.0 280.2,679.0 280.8,679.0 281.4,679.0 282.0,679.0 282.6,679.0 283.2,679.0 283.8,679.0 284.4,679.0 285.0,679.0 285.6,679.0 286.2,679.0 286.8,679.0 287.4,679.0 288.0,679.0 288.6,679.0 289.2,679.0 289.8,679.0 290.4,679.0 291.0,679.0 291.6,679.0 292.2,679.0 292.8,679.0 293.4,679.0 294.0,679.0 294.6,679.0 295.2,679.0 295.8,679.0 296.4,679.0 297.0,679.0 297.6,679.0 298.2,679.0 298.8,679.0 299.4,679.0 300.0,679.0 300.6,679.0 301.2,679.0 301.8,679.0 302.4,679.0 303.0,679.0 303.6,679.0 304.2,679.0 304.8,679.0 305.4,679.0 306.0,679.0 306.6,679.0 307.2,679.0 307.8,679.0 308.4,679.0 309.0,679.0 309.6,679.0 310.2,679.0 310.8,679.0 311.4,679.0 312.0,678.9 312.6,678.9 313.2,678.9 313.8,678.9 314.4,678.9 315.0,678.9 315.6,678.9 316.2,678.9 316.8,678.8 317.4,678.8 318.0,678.8 318.6,678.8 319.2,678.7 319.8,678.7 320.4,678.6 321.0,678.6 321.6,678.5 322.2,678.5 322.8,678.4 323.4,678.3 324.0,678.2 324.6,678.1 325.2,678.0 325.8,677.9 326.4,677.8 327.0,677.6 327.6,677.5 328.2,677.3 328.8,677.1 329.4,676.9 330.0,676.6 330.6,676.4 331.2,676.1 331.8,675.8 332.4,675.4 333.0,675.1 333.6,674.7 334.2,674.2 334.8,673.8 335.4,673.3 336.0,672.7 336.6,672.2 337.2,671.5 337.8,670.9 338.4,670.2 339.0,669.4 339.6,668.6 340.2,667.8 340.8,666.9 341.4,666.0 342.0,665.0 342.6,663.9 343.2,662.8 343.8,661.7 344.4,660.5 345.0,659.2 345.6,657.9 346.2,656.6 346.8,655.2 347.4,653.7 348.0,652.2 348.6,650.7 349.2,649.1 349.8,647.5 350.4,645.8 351.0,644.2 351.6,642.5 352.2,640.7 352.8,639.0 353.4,637.2 354.0,635.5 354.6,633.7 355.2,631.9 355.8,630.2 356.4,628.4 357.0,626.7 357.6,625.0 358.2,623.4 358.8,621.8 359.4,620.2 360.0,618.7 360.6,617.2 361.2,615.9 361.8,614.5 362.4,613.3 363.0,612.2 363.6,611.1 364.2,610.1 364.8,609.3 365.4,608.5 366.0,607.8 366.6,607.3 367.2,606.8 367.8,606.5 368.4,606.3 369.0,606.2 369.6,606.2 370.2,606.4 370.8,606.6 371.4,607.0 372.0,607.5 372.6,608.0 373.2,608.7 373.8,609.5 374.4,610.4 375.0,611.4 375.6,612.5 376.2,613.7 376.8,615.0 377.4,616.3 378.0,617.7 378.6,619.2 379.2,620.7 379.8,622.3 380.4,623.9 381.0,625.6 381.6,627.3 382.2,629.0 382.8,630.8 383.4,632.5 384.0,634.3 384.6,636.0 385.2,637.8 385.8,639.6 386.4,641.3 387.0,643.0 387.6,644.7 388.2,646.4 388.8,648.0 389.4,649.6 390.0,651.2 390.6,652.7 391.2,654.2 391.8,655.6 392.4,657.0 393.0,658.4 393.6,659.6 394.2,660.9 394.8,662.1 395.4,663.2 396.0,664.3 396.6,665.3 397.2,666.3 397.8,667.2 398.4,668.1 399.0,668.9 399.6,669.7 400.2,670.4 400.8,671.1 401.4,671.8 402.0,672.4 402.6,672.9 403.2,673.4 403.8,673.9 404.4,674.4 405.0,674.8 405.6,675.2 406.2,675.5 406.8,675.9 407.4,676.2 408.0,676.4 408.6,676.7 409.2,676.9 409.8,677.1 410.4,677.3 411.0,677.5 411.6,677.7 412.2,677.8 412.8,677.9 413.4,678.1 414.0,678.2 414.6,678.3 415.2,678.3 415.8,678.4 416.4,678.5 417.0,678.5 417.6,678.6 418.2,678.7 418.8,678.7 419.4,678.7 420.0,678.8 420.6,678.8 421.2,678.8 421.8,678.8 422.4,678.9 423.0,678.9 423.6,678.9 424.2,678.9 424.8,678.9 425.4,678.9 426.0,678.9 426.6,679.0 427.2,679.0 427.8,679.0 428.4,679.0 429.0,679.0 429.6,679.0 430.2,679.0 430.8,679.0 431.4,679.0 432.0,679.0 432.6,679.0 433.2,679.0 433.8,679.0 434.4,679.0 435.0,679.0 435.6,679.0 436.2,679.0 436.8,679.0" stroke="#1e961e" stroke-width="1.1" fill="none"/>
<line x1="267.60" y1="679.00" x2="437.30" y2="679.00" stroke="#000" stroke-width="0.9" />
<line x1="369.20" y1="591.70" x2="369.20" y2="626.60" stroke="#1e961e" stroke-width="1.2" stroke-dasharray="3.2 2.2"/>
<line x1="329.80" y1="630.50" x2="329.80" y2="657.70" stroke="#2424e6" stroke-width="1.2" stroke-dasharray="3.2 2.2"/>
<text x="375.90" y="596.00" font-size="11" text-anchor="start" fill="#1e961e" transform="matrix(1.0,0,0,0.95,0.000,29.800)">Mg metallic bond</text>
<text x="313.70" y="621.50" font-size="11" text-anchor="start" fill="#2424e6" transform="matrix(1.0,0,0,0.95,0.000,31.075)">Mg<tspan font-size="8.2" dy="-5.32">2+</tspan></text>
<path d="M267.5,789.2 268.1,789.2 268.7,789.2 269.3,789.2 269.9,789.2 270.5,789.2 271.1,789.2 271.7,789.2 272.3,789.2 272.9,789.2 273.5,789.2 274.1,789.2 274.7,789.2 275.3,789.2 275.9,789.2 276.5,789.2 277.1,789.2 277.7,789.2 278.3,789.2 278.9,789.2 279.5,789.2 280.1,789.2 280.7,789.2 281.3,789.2 281.9,789.2 282.5,789.2 283.1,789.2 283.7,789.2 284.3,789.2 284.9,789.2 285.5,789.2 286.1,789.2 286.7,789.2 287.3,789.2 287.9,789.2 288.5,789.2 289.1,789.2 289.7,789.2 290.3,789.2 290.9,789.2 291.5,789.2 292.1,789.2 292.7,789.2 293.3,789.2 293.9,789.2 294.5,789.2 295.1,789.2 295.7,789.2 296.3,789.2 296.9,789.2 297.5,789.2 298.1,789.2 298.7,789.2 299.3,789.2 299.9,789.2 300.5,789.2 301.1,789.2 301.7,789.2 302.3,789.2 302.9,789.2 303.5,789.2 304.1,789.2 304.7,789.2 305.3,789.2 305.9,789.2 306.5,789.2 307.1,789.2 307.7,789.2 308.3,789.2 308.9,789.2 309.5,789.2 310.1,789.2 310.7,789.2 311.3,789.2 311.9,789.2 312.5,789.2 313.1,789.2 313.7,789.2 314.3,789.2 314.9,789.2 315.5,789.2 316.1,789.2 316.7,789.2 317.3,789.2 317.9,789.2 318.5,789.2 319.1,789.2 319.7,789.2 320.3,789.2 320.9,789.2 321.5,789.2 322.1,789.2 322.7,789.2 323.3,789.2 323.9,789.2 324.5,789.2 325.1,789.2 325.7,789.2 326.3,789.2 326.9,789.2 327.5,789.2 328.1,789.2 328.7,789.2 329.3,789.2 329.9,789.2 330.5,789.2 331.1,789.2 331.7,789.2 332.3,789.2 332.9,789.2 333.5,789.2 334.1,789.3 334.7,789.3 335.3,789.3 335.9,789.3 336.5,789.3 337.1,789.3 337.7,789.3 338.3,789.3 338.9,789.3 339.5,789.3 340.1,789.3 340.7,789.3 341.3,789.4 341.9,789.4 342.5,789.4 343.1,789.4 343.7,789.4 344.3,789.4 344.9,789.5 345.5,789.5 346.1,789.5 346.7,789.5 347.3,789.6 347.9,789.6 348.5,789.6 349.1,789.6 349.7,789.7 350.3,789.7 350.9,789.7 351.5,789.8 352.1,789.8 352.7,789.9 353.3,789.9 353.9,789.9 354.5,790.0 355.1,790.0 355.7,790.1 356.3,790.1 356.9,790.2 357.5,790.3 358.1,790.3 358.7,790.4 359.3,790.4 359.9,790.5 360.5,790.6 361.1,790.7 361.7,790.7 362.3,790.8 362.9,790.9 363.5,791.0 364.1,791.0 364.7,791.1 365.3,791.2 365.9,791.3 366.5,791.4 367.1,791.5 367.7,791.5 368.3,791.6 368.9,791.7 369.5,791.8 370.1,791.9 370.7,792.0 371.3,792.1 371.9,792.2 372.5,792.3 373.1,792.4 373.7,792.5 374.3,792.6 374.9,792.6 375.5,792.7 376.1,792.8 376.7,792.9 377.3,793.0 377.9,793.1 378.5,793.2 379.1,793.3 379.7,793.4 380.3,793.4 380.9,793.5 381.5,793.6 382.1,793.7 382.7,793.8 383.3,793.9 383.9,793.9 384.5,794.0 385.1,794.1 385.7,794.1 386.3,794.2 386.9,794.3 387.5,794.3 388.1,794.4 388.7,794.5 389.3,794.5 389.9,794.6 390.5,794.6 391.1,794.7 391.7,794.7 392.3,794.8 392.9,794.8 393.5,794.9 394.1,794.9 394.7,794.9 395.3,795.0 395.9,795.0 396.5,795.0 397.1,795.1 397.7,795.1 398.3,795.1 398.9,795.2 399.5,795.2 400.1,795.2 400.7,795.2 401.3,795.2 401.9,795.3 402.5,795.3 403.1,795.3 403.7,795.3 404.3,795.3 404.9,795.3 405.5,795.4 406.1,795.4 406.7,795.4 407.3,795.4 407.9,795.4 408.5,795.4 409.1,795.4 409.7,795.4 410.3,795.4 410.9,795.4 411.5,795.4 412.1,795.5 412.7,795.5 413.3,795.5 413.9,795.5 414.5,795.5 415.1,795.5 415.7,795.5 416.3,795.5 416.9,795.5 417.5,795.5 418.1,795.5 418.7,795.5 419.3,795.5 419.9,795.5 420.5,795.5 421.1,795.5 421.7,795.5 422.3,795.5 422.9,795.5 423.5,795.5 424.1,795.5 424.7,795.5 425.3,795.5 425.9,795.5 426.5,795.5 427.1,795.5 427.7,795.5 428.3,795.5 428.9,795.5 429.5,795.5 430.1,795.5 430.7,795.5 431.3,795.5 431.9,795.5 432.5,795.5 433.1,795.5 433.7,795.5 434.3,795.5 434.9,795.5 435.5,795.5 436.1,795.5 436.7,795.5 437.3,795.5 437.9,795.5 438.5,795.5 439.1,795.5 439.7,795.5 440.3,795.5 440.9,795.5 441.5,795.5 442.1,795.5 442.7,795.5 443.3,795.5 443.9,795.5 444.5,795.5 445.1,795.5 445.7,795.5 446.3,795.5 446.9,795.5 447.5,795.5 448.1,795.5 448.7,795.5 449.3,795.5 449.9,795.5 450.5,795.5 451.1,795.5 451.7,795.5 452.3,795.5 452.9,795.5 453.5,795.5 454.1,795.5 454.7,795.5 455.3,795.5 455.9,795.5 456.5,795.5 457.1,795.5 457.7,795.5 458.3,795.5 458.9,795.5 459.5,795.5 460.1,795.5 460.7,795.5 461.3,795.5 461.9,795.5 462.5,795.5 463.1,795.5 463.7,795.5 464.3,795.5 464.9,795.5 465.5,795.5 466.1,795.5 466.7,795.5" stroke="#000" stroke-width="0.9" fill="none"/>
<path d="M267.5,789.1 268.1,789.0 268.7,788.9 269.3,788.6 269.9,788.3 270.5,789.2 271.1,790.2 271.7,789.0 272.3,787.9 272.9,788.6 273.5,789.2 274.1,789.7 274.7,790.2 275.3,789.2 275.9,788.1 276.5,788.7 277.1,789.3 277.7,789.4 278.3,789.5 278.9,788.8 279.5,788.0 280.1,788.4 280.7,788.9 281.3,789.3 281.9,789.7 282.5,789.4 283.1,789.1 283.7,789.4 284.3,789.8 284.9,789.0 285.5,788.3 286.1,788.4 286.7,788.5 287.3,788.4 287.9,788.2 288.5,788.7 289.1,789.2 289.7,789.8 290.3,790.3 290.9,789.9 291.5,789.4 292.1,789.7 292.7,789.9 293.3,789.4 293.9,788.9 294.5,789.4 295.1,789.8 295.7,789.0 296.3,788.2 296.9,788.4 297.5,788.7 298.1,789.2 298.7,789.7 299.3,789.7 299.9,789.8 300.5,789.4 301.1,789.0 301.7,788.6 302.3,788.1 302.9,788.4 303.5,788.6 304.1,788.5 304.7,788.4 305.3,788.5 305.9,788.6 306.5,789.3 307.1,790.0 307.7,789.2 308.3,788.4 308.9,789.3 309.5,790.2 310.1,790.2 310.7,790.1 311.3,789.1 311.9,788.0 312.5,788.4 313.1,788.8 313.7,788.9 314.3,789.1 314.9,788.5 315.5,787.8 316.1,788.3 316.7,788.8 317.3,789.4 317.9,790.0 318.5,789.0 319.1,787.9 319.7,788.5 320.3,789.1 320.9,788.4 321.5,787.7 322.1,788.3 322.7,788.8 323.3,789.1 323.9,789.5 324.5,788.5 325.1,787.5 325.7,787.1 326.3,786.7 326.9,786.7 327.5,786.7 328.1,787.1 328.7,787.5 329.3,786.6 329.9,785.7 330.5,785.6 331.1,785.4 331.7,785.7 332.3,786.0 332.9,786.2 333.5,786.4 334.1,785.4 334.7,784.3 335.3,783.9 335.9,783.4 336.5,783.2 337.1,783.0 337.7,781.7 338.3,780.4 338.9,780.4 339.5,780.3 340.1,779.1 340.7,777.8 341.3,777.5 341.9,777.2 342.5,776.8 343.1,776.3 343.7,774.1 344.3,771.8 344.9,771.4 345.5,770.9 346.1,769.8 346.7,768.6 347.3,766.7 347.9,764.7 348.5,763.5 349.1,762.2 349.7,761.7 350.3,761.1 350.9,759.5 351.5,757.9 352.1,755.1 352.7,752.3 353.3,751.4 353.9,750.4 354.5,748.9 355.1,747.5 355.7,744.8 356.3,742.0 356.9,740.7 357.5,739.4 358.1,736.9 358.7,734.3 359.3,733.0 359.9,731.7 360.5,730.3 361.1,729.0 361.7,727.3 362.3,725.6 362.9,724.2 363.5,723.0 364.1,720.6 364.7,718.4 365.3,717.4 365.9,716.5 366.5,716.1 367.1,715.7 367.7,714.3 368.3,713.1 368.9,712.2 369.5,711.3 370.1,710.7 370.7,710.2 371.3,710.6 371.9,711.2 372.5,710.5 373.1,710.0 373.7,709.4 374.3,708.9 374.9,710.2 375.5,711.7 376.1,711.6 376.7,711.7 377.3,712.6 377.9,713.6 378.5,714.3 379.1,715.1 379.7,716.6 380.3,718.1 380.9,719.3 381.5,720.6 382.1,721.7 382.7,723.0 383.3,725.3 383.9,727.7 384.5,728.7 385.1,729.8 385.7,732.5 386.3,735.2 386.9,736.1 387.5,737.0 388.1,739.9 388.7,742.8 389.3,744.8 389.9,746.7 390.5,748.2 391.1,749.7 391.7,751.9 392.3,754.0 392.9,755.3 393.5,756.5 394.1,758.9 394.7,761.3 395.3,762.6 395.9,763.8 396.5,765.2 397.1,766.5 397.7,769.0 398.3,771.5 398.9,772.2 399.5,772.8 400.1,774.1 400.7,775.4 401.3,777.2 401.9,779.0 402.5,779.5 403.1,780.0 403.7,781.4 404.3,782.7 404.9,783.0 405.5,783.2 406.1,784.9 406.7,786.6 407.3,786.6 407.9,786.5 408.5,786.9 409.1,787.2 409.7,789.0 410.3,790.7 410.9,790.2 411.5,789.6 412.1,791.0 412.7,792.4 413.3,792.8 413.9,793.2 414.5,793.1 415.1,792.9 415.7,792.4 416.3,791.8 416.9,792.1 417.5,792.4 418.1,792.8 418.7,793.1 419.3,793.5 419.9,793.9 420.5,794.3 421.1,794.8 421.7,795.3 422.3,795.9 422.9,795.2 423.5,794.5 424.1,794.3 424.7,794.0 425.3,794.7 425.9,795.3 426.5,794.7 427.1,794.2 427.7,794.2 428.3,794.2 428.9,794.8 429.5,795.5 430.1,795.7 430.7,795.9 431.3,795.1 431.9,794.3 432.5,794.8 433.1,795.3 433.7,795.6 434.3,796.0 434.9,796.1 435.5,796.1 436.1,795.6 436.7,795.2 437.3,795.8 437.9,796.5 438.5,795.5 439.1,794.6 439.7,795.3 440.3,796.0 440.9,796.1 441.5,796.2 442.1,796.3 442.7,796.5 443.3,796.0 443.9,795.5 444.5,795.0 445.1,794.5 445.7,794.4 446.3,794.3 446.9,794.9 447.5,795.6 448.1,795.1 448.7,794.6 449.3,795.2 449.9,795.8 450.5,795.1 451.1,794.4 451.7,795.3 452.3,796.2 452.9,795.5 453.5,794.8 454.1,794.5 454.7,794.2 455.3,794.4 455.9,794.7 456.5,795.0 457.1,795.4 457.7,795.5 458.3,795.7 458.9,795.4 459.5,795.2 460.1,794.9 460.7,794.6 461.3,795.1 461.9,795.5 462.5,796.1 463.1,796.7 463.7,796.1 464.3,795.6 464.9,796.1 465.5,796.6 466.1,795.5 466.7,794.3" stroke="#000" stroke-width="1.0" fill="none" stroke-linejoin="round"/>
<path d="M267.5,789.2 268.1,789.2 268.7,789.2 269.3,789.2 269.9,789.2 270.5,789.2 271.1,789.2 271.7,789.2 272.3,789.2 272.9,789.2 273.5,789.2 274.1,789.2 274.7,789.2 275.3,789.2 275.9,789.2 276.5,789.2 277.1,789.2 277.7,789.2 278.3,789.2 278.9,789.2 279.5,789.2 280.1,789.2 280.7,789.2 281.3,789.2 281.9,789.2 282.5,789.2 283.1,789.2 283.7,789.2 284.3,789.2 284.9,789.2 285.5,789.2 286.1,789.2 286.7,789.2 287.3,789.2 287.9,789.2 288.5,789.2 289.1,789.2 289.7,789.2 290.3,789.2 290.9,789.2 291.5,789.2 292.1,789.2 292.7,789.2 293.3,789.2 293.9,789.2 294.5,789.2 295.1,789.2 295.7,789.2 296.3,789.2 296.9,789.2 297.5,789.2 298.1,789.2 298.7,789.2 299.3,789.2 299.9,789.2 300.5,789.2 301.1,789.2 301.7,789.2 302.3,789.2 302.9,789.2 303.5,789.2 304.1,789.2 304.7,789.2 305.3,789.2 305.9,789.2 306.5,789.2 307.1,789.2 307.7,789.2 308.3,789.2 308.9,789.2 309.5,789.2 310.1,789.2 310.7,789.2 311.3,789.1 311.9,789.1 312.5,789.1 313.1,789.1 313.7,789.1 314.3,789.1 314.9,789.1 315.5,789.1 316.1,789.0 316.7,789.0 317.3,789.0 317.9,789.0 318.5,788.9 319.1,788.9 319.7,788.9 320.3,788.8 320.9,788.8 321.5,788.7 322.1,788.7 322.7,788.6 323.3,788.5 323.9,788.4 324.5,788.4 325.1,788.3 325.7,788.1 326.3,788.0 326.9,787.9 327.5,787.7 328.1,787.6 328.7,787.4 329.3,787.2 329.9,787.0 330.5,786.8 331.1,786.5 331.7,786.3 332.3,786.0 332.9,785.6 333.5,785.3 334.1,784.9 334.7,784.5 335.3,784.1 335.9,783.6 336.5,783.1 337.1,782.6 337.7,782.0 338.3,781.4 338.9,780.8 339.5,780.1 340.1,779.4 340.7,778.6 341.3,777.8 341.9,776.9 342.5,776.0 343.1,775.1 343.7,774.1 344.3,773.0 344.9,771.9 345.5,770.7 346.1,769.5 346.7,768.3 347.3,767.0 347.9,765.6 348.5,764.2 349.1,762.8 349.7,761.3 350.3,759.8 350.9,758.2 351.5,756.6 352.1,755.0 352.7,753.3 353.3,751.6 353.9,749.8 354.5,748.1 355.1,746.3 355.7,744.5 356.3,742.7 356.9,740.9 357.5,739.1 358.1,737.3 358.7,735.5 359.3,733.8 359.9,732.0 360.5,730.3 361.1,728.6 361.7,726.9 362.3,725.3 362.9,723.8 363.5,722.3 364.1,720.8 364.7,719.4 365.3,718.1 365.9,716.9 366.5,715.8 367.1,714.7 367.7,713.8 368.3,712.9 368.9,712.1 369.5,711.5 370.1,710.9 370.7,710.5 371.3,710.1 371.9,709.9 372.5,709.8 373.1,709.8 373.7,709.9 374.3,710.1 374.9,710.5 375.5,710.9 376.1,711.5 376.7,712.1 377.3,712.9 377.9,713.8 378.5,714.8 379.1,715.8 379.7,717.0 380.3,718.3 380.9,719.6 381.5,721.0 382.1,722.5 382.7,724.1 383.3,725.7 383.9,727.4 384.5,729.1 385.1,730.8 385.7,732.7 386.3,734.5 386.9,736.4 387.5,738.3 388.1,740.2 388.7,742.1 389.3,744.0 389.9,745.9 390.5,747.8 391.1,749.7 391.7,751.6 392.3,753.5 392.9,755.3 393.5,757.1 394.1,758.9 394.7,760.7 395.3,762.4 395.9,764.0 396.5,765.7 397.1,767.2 397.7,768.8 398.3,770.3 398.9,771.7 399.5,773.1 400.1,774.4 400.7,775.7 401.3,776.9 401.9,778.1 402.5,779.2 403.1,780.3 403.7,781.3 404.3,782.3 404.9,783.2 405.5,784.1 406.1,784.9 406.7,785.7 407.3,786.4 407.9,787.1 408.5,787.8 409.1,788.4 409.7,788.9 410.3,789.5 410.9,790.0 411.5,790.4 412.1,790.9 412.7,791.3 413.3,791.6 413.9,792.0 414.5,792.3 415.1,792.6 415.7,792.9 416.3,793.1 416.9,793.3 417.5,793.5 418.1,793.7 418.7,793.9 419.3,794.1 419.9,794.2 420.5,794.3 421.1,794.5 421.7,794.6 422.3,794.7 422.9,794.8 423.5,794.8 424.1,794.9 424.7,795.0 425.3,795.0 425.9,795.1 426.5,795.1 427.1,795.2 427.7,795.2 428.3,795.3 428.9,795.3 429.5,795.3 430.1,795.3 430.7,795.4 431.3,795.4 431.9,795.4 432.5,795.4 433.1,795.4 433.7,795.4 434.3,795.4 434.9,795.4 435.5,795.5 436.1,795.5 436.7,795.5 437.3,795.5 437.9,795.5 438.5,795.5 439.1,795.5 439.7,795.5 440.3,795.5 440.9,795.5 441.5,795.5 442.1,795.5 442.7,795.5 443.3,795.5 443.9,795.5 444.5,795.5 445.1,795.5 445.7,795.5 446.3,795.5 446.9,795.5 447.5,795.5 448.1,795.5 448.7,795.5 449.3,795.5 449.9,795.5 450.5,795.5 451.1,795.5 451.7,795.5 452.3,795.5 452.9,795.5 453.5,795.5 454.1,795.5 454.7,795.5 455.3,795.5 455.9,795.5 456.5,795.5 457.1,795.5 457.7,795.5 458.3,795.5 458.9,795.5 459.5,795.5 460.1,795.5 460.7,795.5 461.3,795.5 461.9,795.5 462.5,795.5 463.1,795.5 463.7,795.5 464.3,795.5 464.9,795.5 465.5,795.5 466.1,795.5 466.7,795.5" stroke="#f01e1e" stroke-width="1.3" fill="none"/>
<line x1="373.30" y1="701.50" x2="373.30" y2="731.00" stroke="#f01e1e" stroke-width="1.2" stroke-dasharray="3.2 2.2"/>
<text x="377.30" y="706.40" font-size="11" text-anchor="start" fill="#f01e1e" transform="matrix(1.0,0,0,0.95,0.000,35.320)">Mg-N</text>
<path d="M498.7,573.1 499.3,573.1 499.9,573.1 500.5,573.1 501.1,573.1 501.7,573.1 502.3,573.1 502.9,573.1 503.5,573.1 504.1,573.1 504.7,573.1 505.3,573.1 505.9,573.1 506.5,573.1 507.1,573.1 507.7,573.1 508.3,573.1 508.9,573.1 509.5,573.1 510.1,573.1 510.7,573.1 511.3,573.1 511.9,573.1 512.5,573.1 513.1,573.1 513.7,573.1 514.3,573.1 514.9,573.1 515.5,573.1 516.1,573.1 516.7,573.1 517.3,573.1 517.9,573.1 518.5,573.1 519.1,573.1 519.7,573.1 520.3,573.1 520.9,573.1 521.5,573.1 522.1,573.1 522.7,573.1 523.3,573.1 523.9,573.1 524.5,573.1 525.1,573.1 525.7,573.1 526.3,573.1 526.9,573.1 527.5,573.1 528.1,573.1 528.7,573.1 529.3,573.1 529.9,573.1 530.5,573.1 531.1,573.1 531.7,573.1 532.3,573.1 532.9,573.1 533.5,573.1 534.1,573.1 534.7,573.1 535.3,573.1 535.9,573.1 536.5,573.1 537.1,573.1 537.7,573.1 538.3,573.1 538.9,573.1 539.5,573.1 540.1,573.1 540.7,573.1 541.3,573.1 541.9,573.1 542.5,573.1 543.1,573.1 543.7,573.1 544.3,573.1 544.9,573.1 545.5,573.1 546.1,573.1 546.7,573.1 547.3,573.1 547.9,573.1 548.5,573.1 549.1,573.1 549.7,573.1 550.3,573.1 550.9,573.1 551.5,573.1 552.1,573.1 552.7,573.1 553.3,573.1 553.9,573.1 554.5,573.1 555.1,573.1 555.7,573.1 556.3,573.1 556.9,573.1 557.5,573.1 558.1,573.1 558.7,573.1 559.3,573.1 559.9,573.1 560.5,573.1 561.1,573.1 561.7,573.1 562.3,573.1 562.9,573.1 563.5,573.1 564.1,573.1 564.7,573.1 565.3,573.1 565.9,573.1 566.5,573.1 567.1,573.1 567.7,573.1 568.3,573.1 568.9,573.1 569.5,573.1 570.1,573.1 570.7,573.1 571.3,573.1 571.9,573.1 572.5,573.1 573.1,573.1 573.7,573.1 574.3,573.1 574.9,573.1 575.5,573.1 576.1,573.1 576.7,573.1 577.3,573.1 577.9,573.1 578.5,573.1 579.1,573.1 579.7,573.1 580.3,573.1 580.9,573.1 581.5,573.1 582.1,573.1 582.7,573.1 583.3,573.1 583.9,573.1 584.5,573.1 585.1,573.1 585.7,573.1 586.3,573.1 586.9,573.1 587.5,573.1 588.1,573.1 588.7,573.1 589.3,573.1 589.9,573.1 590.5,573.1 591.1,573.1 591.7,573.1 592.3,573.1 592.9,573.1 593.5,573.1 594.1,573.1 594.7,573.1 595.3,573.1 595.9,573.1 596.5,573.1 597.1,573.1 597.7,573.1 598.3,573.1 598.9,573.1 599.5,573.1 600.1,573.1 600.7,573.1 601.3,573.1 601.9,573.1 602.5,573.1 603.1,573.1 603.7,573.1 604.3,573.1 604.9,573.1 605.5,573.1 606.1,573.1 606.7,573.1 607.3,573.1 607.9,573.1 608.5,573.1 609.1,573.1 609.7,573.1 610.3,573.1 610.9,573.1 611.5,573.1 612.1,573.1 612.7,573.1 613.3,573.1 613.9,573.1 614.5,573.1 615.1,573.1 615.7,573.1 616.3,573.1 616.9,573.1 617.5,573.1 618.1,573.1 618.7,573.1 619.3,573.1 619.9,573.1 620.5,573.1 621.1,573.1 621.7,573.1 622.3,573.1 622.9,573.1 623.5,573.1 624.1,573.1 624.7,573.1 625.3,573.1 625.9,573.1 626.5,573.1 627.1,573.1 627.7,573.1 628.3,573.1 628.9,573.1 629.5,573.1 630.1,573.1 630.7,573.1 631.3,573.1 631.9,573.1 632.5,573.1 633.1,573.1 633.7,573.1 634.3,573.1 634.9,573.1 635.5,573.1 636.1,573.1 636.7,573.1 637.3,573.1 637.9,573.1 638.5,573.1 639.1,573.1 639.7,573.1 640.3,573.1 640.9,573.1 641.5,573.1 642.1,573.1 642.7,573.1 643.3,573.1 643.9,573.1 644.5,573.1 645.1,573.1 645.7,573.1 646.3,573.1 646.9,573.1 647.5,573.1 648.1,573.1 648.7,573.1 649.3,573.1 649.9,573.1 650.5,573.1 651.1,573.1 651.7,573.1 652.3,573.1 652.9,573.1 653.5,573.1 654.1,573.1 654.7,573.1 655.3,573.1 655.9,573.1 656.5,573.1 657.1,573.1 657.7,573.1 658.3,573.1 658.9,573.1 659.5,573.1 660.1,573.1 660.7,573.1 661.3,573.1 661.9,573.1 662.5,573.1 663.1,573.1 663.7,573.1 664.3,573.1 664.9,573.1 665.5,573.1 666.1,573.1 666.7,573.1 667.3,573.1 667.9,573.1 668.5,573.1 669.1,573.1 669.7,573.1 670.3,573.1 670.9,573.1 671.5,573.1 672.1,573.1 672.7,573.1 673.3,573.1 673.9,573.1 674.5,573.1 675.1,573.1 675.7,573.1 676.3,573.1 676.9,573.1 677.5,573.1 678.1,573.1 678.7,573.1 679.3,573.1 679.9,573.1 680.5,573.1 681.1,573.1 681.7,573.1 682.3,573.1 682.9,573.1 683.5,573.1 684.1,573.1 684.7,573.1 685.3,573.1 685.9,573.1 686.5,573.1 687.1,573.1 687.7,573.1 688.3,573.1 688.9,573.1 689.5,573.1 690.1,573.1 690.7,573.1 691.3,573.1 691.9,573.1 692.5,573.1 693.1,573.1" stroke="#000" stroke-width="0.9" fill="none"/>
<path d="M498.7,572.2 499.3,572.0 499.9,571.8 500.5,572.0 501.1,572.1 501.7,571.6 502.3,571.2 502.9,571.9 503.5,572.6 504.1,572.6 504.7,572.6 505.3,572.3 505.9,572.1 506.5,571.5 507.1,570.9 507.7,571.3 508.3,571.7 508.9,571.4 509.5,571.2 510.1,571.0 510.7,570.9 511.3,571.7 511.9,572.5 512.5,572.6 513.1,572.6 513.7,571.4 514.3,570.2 514.9,571.2 515.5,572.1 516.1,571.7 516.7,571.4 517.3,571.1 517.9,570.8 518.5,570.6 519.1,570.4 519.7,570.9 520.3,571.3 520.9,571.0 521.5,570.6 522.1,570.9 522.7,571.1 523.3,571.0 523.9,570.9 524.5,570.2 525.1,569.5 525.7,570.2 526.3,570.8 526.9,571.0 527.5,571.2 528.1,571.1 528.7,571.0 529.3,570.5 529.9,569.9 530.5,569.1 531.1,568.4 531.7,568.2 532.3,568.0 532.9,568.0 533.5,568.1 534.1,568.9 534.7,569.7 535.3,568.8 535.9,567.9 536.5,567.8 537.1,567.6 537.7,568.1 538.3,568.5 538.9,567.5 539.5,566.6 540.1,566.6 540.7,566.6 541.3,566.1 541.9,565.6 542.5,564.8 543.1,563.9 543.7,564.1 544.3,564.2 544.9,563.9 545.5,563.6 546.1,562.1 546.7,560.6 547.3,559.8 547.9,559.0 548.5,558.3 549.1,557.4 549.7,555.8 550.3,554.1 550.9,553.3 551.5,552.3 552.1,551.1 552.7,549.8 553.3,547.7 553.9,545.5 554.5,543.3 555.1,540.9 555.7,538.9 556.3,536.8 556.9,533.4 557.5,529.8 558.1,527.5 558.7,525.2 559.3,522.0 559.9,518.8 560.5,516.1 561.1,513.4 561.7,509.9 562.3,506.6 562.9,504.7 563.5,503.1 564.1,500.1 564.7,497.5 565.3,496.1 565.9,495.1 566.5,495.3 567.1,495.9 567.7,496.3 568.3,497.2 568.9,497.8 569.5,498.8 570.1,500.7 570.7,502.9 571.3,505.1 571.9,507.6 572.5,510.4 573.1,513.3 573.7,516.6 574.3,520.0 574.9,522.4 575.5,524.7 576.1,527.5 576.7,530.1 577.3,533.1 577.9,536.0 578.5,538.1 579.1,540.0 579.7,542.7 580.3,545.2 580.9,547.3 581.5,549.2 582.1,550.7 582.7,552.1 583.3,553.0 583.9,553.8 584.5,554.7 585.1,555.5 585.7,556.4 586.3,557.2 586.9,557.3 587.5,557.3 588.1,558.6 588.7,559.7 589.3,559.5 589.9,559.2 590.5,559.3 591.1,559.2 591.7,558.9 592.3,558.4 592.9,558.7 593.5,558.8 594.1,558.7 594.7,558.5 595.3,557.8 595.9,557.1 596.5,557.2 597.1,557.2 597.7,556.4 598.3,555.6 598.9,554.5 599.5,553.4 600.1,553.1 600.7,552.9 601.3,552.7 601.9,552.6 602.5,551.6 603.1,550.6 603.7,550.3 604.3,550.0 604.9,549.0 605.5,548.1 606.1,548.4 606.7,548.8 607.3,548.7 607.9,548.8 608.5,548.8 609.1,549.0 609.7,549.4 610.3,549.8 610.9,550.5 611.5,551.2 612.1,551.7 612.7,552.3 613.3,553.0 613.9,553.7 614.5,554.0 615.1,554.4 615.7,555.5 616.3,556.7 616.9,558.1 617.5,559.6 618.1,559.7 618.7,559.8 619.3,560.1 619.9,560.4 620.5,561.0 621.1,561.7 621.7,563.0 622.3,564.2 622.9,564.3 623.5,564.2 624.1,564.8 624.7,565.4 625.3,565.8 625.9,566.3 626.5,567.1 627.1,567.9 627.7,568.9 628.3,569.9 628.9,569.5 629.5,569.2 630.1,569.4 630.7,569.6 631.3,569.8 631.9,569.9 632.5,570.2 633.1,570.4 633.7,570.5 634.3,570.5 634.9,571.0 635.5,571.4 636.1,571.7 636.7,572.0 637.3,571.8 637.9,571.7 638.5,571.4 639.1,571.1 639.7,571.5 640.3,571.8 640.9,572.2 641.5,572.5 642.1,571.6 642.7,570.8 643.3,570.9 643.9,571.1 644.5,571.5 645.1,572.0 645.7,572.1 646.3,572.3 646.9,572.2 647.5,572.2 648.1,572.2 648.7,572.1 649.3,572.4 649.9,572.7 650.5,572.3 651.1,571.9 651.7,572.4 652.3,572.8 652.9,573.0 653.5,573.2 654.1,572.6 654.7,572.0 655.3,572.5 655.9,573.0 656.5,572.9 657.1,572.7 657.7,572.9 658.3,573.1 658.9,572.1 659.5,571.1 660.1,572.2 660.7,573.3 661.3,573.1 661.9,572.9 662.5,573.2 663.1,573.4 663.7,573.5 664.3,573.5 664.9,572.7 665.5,571.8 666.1,572.3 666.7,572.8 667.3,572.2 667.9,571.5 668.5,572.1 669.1,572.6 669.7,573.0 670.3,573.4 670.9,572.6 671.5,571.7 672.1,571.9 672.7,572.1 673.3,571.8 673.9,571.5 674.5,571.6 675.1,571.8 675.7,571.8 676.3,571.8 676.9,571.7 677.5,571.6 678.1,572.7 678.7,573.7 679.3,573.6 679.9,573.5 680.5,573.0 681.1,572.5 681.7,572.8 682.3,573.2 682.9,573.1 683.5,573.1 684.1,572.9 684.7,572.7 685.3,572.6 685.9,572.4 686.5,572.7 687.1,573.0 687.7,572.9 688.3,572.8 688.9,572.4 689.5,572.1 690.1,572.2 690.7,572.3 691.3,572.7 691.9,573.0 692.5,573.0 693.1,573.0" stroke="#000" stroke-width="1.0" fill="none" stroke-linejoin="round"/>
<path d="M498.7,572.0 499.3,572.0 499.9,572.0 500.5,571.9 501.1,571.9 501.7,571.9 502.3,571.9 502.9,571.9 503.5,571.8 504.1,571.8 504.7,571.8 505.3,571.8 505.9,571.7 506.5,571.7 507.1,571.7 507.7,571.7 508.3,571.6 508.9,571.6 509.5,571.6 510.1,571.6 510.7,571.5 511.3,571.5 511.9,571.5 512.5,571.4 513.1,571.4 513.7,571.3 514.3,571.3 514.9,571.3 515.5,571.2 516.1,571.2 516.7,571.1 517.3,571.1 517.9,571.1 518.5,571.0 519.1,571.0 519.7,570.9 520.3,570.9 520.9,570.8 521.5,570.7 522.1,570.7 522.7,570.6 523.3,570.6 523.9,570.5 524.5,570.4 525.1,570.4 525.7,570.3 526.3,570.2 526.9,570.1 527.5,570.0 528.1,569.9 528.7,569.9 529.3,569.8 529.9,569.7 530.5,569.6 531.1,569.4 531.7,569.3 532.3,569.2 532.9,569.1 533.5,568.9 534.1,568.8 534.7,568.7 535.3,568.5 535.9,568.3 536.5,568.2 537.1,568.0 537.7,567.8 538.3,567.5 538.9,567.3 539.5,567.0 540.1,566.8 540.7,566.5 541.3,566.1 541.9,565.8 542.5,565.4 543.1,565.0 543.7,564.5 544.3,564.0 544.9,563.4 545.5,562.8 546.1,562.1 546.7,561.4 547.3,560.6 547.9,559.7 548.5,558.7 549.1,557.6 549.7,556.5 550.3,555.2 550.9,553.8 551.5,552.3 552.1,550.7 552.7,549.0 553.3,547.1 553.9,545.2 554.5,543.1 555.1,540.8 555.7,538.5 556.3,536.0 556.9,533.4 557.5,530.7 558.1,527.9 558.7,525.0 559.3,522.1 559.9,519.1 560.5,516.1 561.1,513.2 561.7,510.3 562.3,507.5 562.9,504.9 563.5,502.5 564.1,500.3 564.7,498.5 565.3,497.0 565.9,495.9 566.5,495.3 567.1,495.1 567.7,495.4 568.3,496.2 568.9,497.3 569.5,498.9 570.1,500.8 570.7,503.1 571.3,505.5 571.9,508.2 572.5,511.0 573.1,513.8 573.7,516.8 574.3,519.7 574.9,522.6 575.5,525.5 576.1,528.3 576.7,531.0 577.3,533.6 577.9,536.1 578.5,538.5 579.1,540.8 579.7,542.9 580.3,544.9 580.9,546.7 581.5,548.4 582.1,550.0 582.7,551.4 583.3,552.7 583.9,553.9 584.5,554.9 585.1,555.9 585.7,556.7 586.3,557.4 586.9,558.0 587.5,558.5 588.1,558.9 588.7,559.2 589.3,559.5 589.9,559.6 590.5,559.7 591.1,559.7 591.7,559.6 592.3,559.4 592.9,559.2 593.5,559.0 594.1,558.6 594.7,558.3 595.3,557.8 595.9,557.4 596.5,556.9 597.1,556.4 597.7,555.8 598.3,555.2 598.9,554.6 599.5,554.0 600.1,553.4 600.7,552.8 601.3,552.2 601.9,551.6 602.5,551.1 603.1,550.6 603.7,550.1 604.3,549.7 604.9,549.4 605.5,549.1 606.1,548.9 606.7,548.8 607.3,548.8 607.9,548.9 608.5,549.0 609.1,549.2 609.7,549.6 610.3,550.0 610.9,550.4 611.5,551.0 612.1,551.6 612.7,552.2 613.3,552.9 613.9,553.7 614.5,554.4 615.1,555.2 615.7,556.0 616.3,556.8 616.9,557.6 617.5,558.4 618.1,559.2 618.7,560.0 619.3,560.7 619.9,561.5 620.5,562.2 621.1,562.9 621.7,563.5 622.3,564.2 622.9,564.8 623.5,565.3 624.1,565.8 624.7,566.3 625.3,566.8 625.9,567.2 626.5,567.6 627.1,568.0 627.7,568.4 628.3,568.7 628.9,569.0 629.5,569.2 630.1,569.5 630.7,569.7 631.3,569.9 631.9,570.1 632.5,570.2 633.1,570.4 633.7,570.5 634.3,570.7 634.9,570.8 635.5,570.9 636.1,571.0 636.7,571.1 637.3,571.1 637.9,571.2 638.5,571.3 639.1,571.3 639.7,571.4 640.3,571.4 640.9,571.5 641.5,571.5 642.1,571.6 642.7,571.6 643.3,571.6 643.9,571.7 644.5,571.7 645.1,571.7 645.7,571.8 646.3,571.8 646.9,571.8 647.5,571.9 648.1,571.9 648.7,571.9 649.3,571.9 649.9,572.0 650.5,572.0 651.1,572.0 651.7,572.0 652.3,572.0 652.9,572.1 653.5,572.1 654.1,572.1 654.7,572.1 655.3,572.1 655.9,572.1 656.5,572.2 657.1,572.2 657.7,572.2 658.3,572.2 658.9,572.2 659.5,572.2 660.1,572.2 660.7,572.3 661.3,572.3 661.9,572.3 662.5,572.3 663.1,572.3 663.7,572.3 664.3,572.3 664.9,572.3 665.5,572.4 666.1,572.4 666.7,572.4 667.3,572.4 667.9,572.4 668.5,572.4 669.1,572.4 669.7,572.4 670.3,572.4 670.9,572.4 671.5,572.5 672.1,572.5 672.7,572.5 673.3,572.5 673.9,572.5 674.5,572.5 675.1,572.5 675.7,572.5 676.3,572.5 676.9,572.5 677.5,572.5 678.1,572.5 678.7,572.5 679.3,572.6 679.9,572.6 680.5,572.6 681.1,572.6 681.7,572.6 682.3,572.6 682.9,572.6 683.5,572.6 684.1,572.6 684.7,572.6 685.3,572.6 685.9,572.6 686.5,572.6 687.1,572.6 687.7,572.6 688.3,572.6 688.9,572.6 689.5,572.7 690.1,572.7 690.7,572.7 691.3,572.7 691.9,572.7 692.5,572.7 693.1,572.7" stroke="#f01e1e" stroke-width="1.3" fill="none"/>
<path d="M498.7,572.1 499.3,572.1 499.9,572.0 500.5,572.0 501.1,572.0 501.7,572.0 502.3,572.0 502.9,571.9 503.5,571.9 504.1,571.9 504.7,571.9 505.3,571.9 505.9,571.8 506.5,571.8 507.1,571.8 507.7,571.8 508.3,571.7 508.9,571.7 509.5,571.7 510.1,571.6 510.7,571.6 511.3,571.6 511.9,571.5 512.5,571.5 513.1,571.5 513.7,571.4 514.3,571.4 514.9,571.4 515.5,571.3 516.1,571.3 516.7,571.2 517.3,571.2 517.9,571.2 518.5,571.1 519.1,571.1 519.7,571.0 520.3,571.0 520.9,570.9 521.5,570.9 522.1,570.8 522.7,570.7 523.3,570.7 523.9,570.6 524.5,570.5 525.1,570.5 525.7,570.4 526.3,570.3 526.9,570.2 527.5,570.2 528.1,570.1 528.7,570.0 529.3,569.9 529.9,569.8 530.5,569.7 531.1,569.6 531.7,569.5 532.3,569.4 532.9,569.2 533.5,569.1 534.1,569.0 534.7,568.8 535.3,568.7 535.9,568.5 536.5,568.3 537.1,568.1 537.7,567.9 538.3,567.7 538.9,567.5 539.5,567.2 540.1,566.9 540.7,566.6 541.3,566.3 541.9,566.0 542.5,565.6 543.1,565.2 543.7,564.7 544.3,564.2 544.9,563.6 545.5,563.0 546.1,562.3 546.7,561.6 547.3,560.8 547.9,559.9 548.5,558.9 549.1,557.9 549.7,556.7 550.3,555.5 550.9,554.1 551.5,552.6 552.1,551.0 552.7,549.3 553.3,547.4 553.9,545.5 554.5,543.3 555.1,541.1 555.7,538.8 556.3,536.3 556.9,533.7 557.5,531.0 558.1,528.2 558.7,525.3 559.3,522.4 559.9,519.4 560.5,516.5 561.1,513.5 561.7,510.7 562.3,507.9 562.9,505.3 563.5,502.9 564.1,500.7 564.7,498.9 565.3,497.4 565.9,496.4 566.5,495.8 567.1,495.6 567.7,495.9 568.3,496.7 568.9,497.9 569.5,499.5 570.1,501.4 570.7,503.6 571.3,506.1 571.9,508.8 572.5,511.6 573.1,514.5 573.7,517.5 574.3,520.4 574.9,523.4 575.5,526.3 576.1,529.1 576.7,531.9 577.3,534.6 577.9,537.1 578.5,539.6 579.1,541.9 579.7,544.1 580.3,546.1 580.9,548.1 581.5,549.9 582.1,551.5 582.7,553.1 583.3,554.6 583.9,555.9 584.5,557.1 585.1,558.2 585.7,559.3 586.3,560.2 586.9,561.1 587.5,561.9 588.1,562.6 588.7,563.2 589.3,563.8 589.9,564.4 590.5,564.9 591.1,565.3 591.7,565.7 592.3,566.1 592.9,566.4 593.5,566.7 594.1,567.0 594.7,567.3 595.3,567.6 595.9,567.8 596.5,568.0 597.1,568.2 597.7,568.4 598.3,568.5 598.9,568.7 599.5,568.9 600.1,569.0 600.7,569.1 601.3,569.3 601.9,569.4 602.5,569.5 603.1,569.6 603.7,569.7 604.3,569.8 604.9,569.9 605.5,570.0 606.1,570.1 606.7,570.2 607.3,570.3 607.9,570.4 608.5,570.4 609.1,570.5 609.7,570.6 610.3,570.6 610.9,570.7 611.5,570.8 612.1,570.8 612.7,570.9 613.3,570.9 613.9,571.0 614.5,571.0 615.1,571.1 615.7,571.1 616.3,571.2 616.9,571.2 617.5,571.3 618.1,571.3 618.7,571.3 619.3,571.4 619.9,571.4 620.5,571.5 621.1,571.5 621.7,571.5 622.3,571.6 622.9,571.6 623.5,571.6 624.1,571.6 624.7,571.7 625.3,571.7 625.9,571.7 626.5,571.8 627.1,571.8 627.7,571.8 628.3,571.8 628.9,571.9 629.5,571.9 630.1,571.9 630.7,571.9 631.3,571.9 631.9,572.0 632.5,572.0 633.1,572.0 633.7,572.0 634.3,572.0 634.9,572.1 635.5,572.1 636.1,572.1 636.7,572.1 637.3,572.1 637.9,572.1 638.5,572.2 639.1,572.2 639.7,572.2 640.3,572.2 640.9,572.2 641.5,572.2 642.1,572.2 642.7,572.3 643.3,572.3 643.9,572.3 644.5,572.3 645.1,572.3 645.7,572.3 646.3,572.3 646.9,572.3 647.5,572.4 648.1,572.4 648.7,572.4 649.3,572.4 649.9,572.4 650.5,572.4 651.1,572.4 651.7,572.4 652.3,572.4 652.9,572.4 653.5,572.5 654.1,572.5 654.7,572.5 655.3,572.5 655.9,572.5 656.5,572.5 657.1,572.5 657.7,572.5 658.3,572.5 658.9,572.5 659.5,572.5 660.1,572.5 660.7,572.6 661.3,572.6 661.9,572.6 662.5,572.6 663.1,572.6 663.7,572.6 664.3,572.6 664.9,572.6 665.5,572.6 666.1,572.6 666.7,572.6 667.3,572.6 667.9,572.6 668.5,572.6 669.1,572.6 669.7,572.6 670.3,572.6 670.9,572.7 671.5,572.7 672.1,572.7 672.7,572.7 673.3,572.7 673.9,572.7 674.5,572.7 675.1,572.7 675.7,572.7 676.3,572.7 676.9,572.7 677.5,572.7 678.1,572.7 678.7,572.7 679.3,572.7 679.9,572.7 680.5,572.7 681.1,572.7 681.7,572.7 682.3,572.7 682.9,572.7 683.5,572.7 684.1,572.7 684.7,572.8 685.3,572.8 685.9,572.8 686.5,572.8 687.1,572.8 687.7,572.8 688.3,572.8 688.9,572.8 689.5,572.8 690.1,572.8 690.7,572.8 691.3,572.8 691.9,572.8 692.5,572.8 693.1,572.8" stroke="#2424e6" stroke-width="1.1" fill="none"/>
<path d="M498.7,573.0 499.3,573.0 499.9,573.0 500.5,573.0 501.1,573.0 501.7,573.0 502.3,573.0 502.9,573.0 503.5,573.0 504.1,573.0 504.7,573.0 505.3,573.0 505.9,573.0 506.5,573.0 507.1,573.0 507.7,573.0 508.3,573.0 508.9,573.0 509.5,573.0 510.1,573.0 510.7,573.0 511.3,573.0 511.9,573.0 512.5,573.0 513.1,573.0 513.7,573.0 514.3,573.0 514.9,573.0 515.5,573.0 516.1,573.0 516.7,573.0 517.3,573.0 517.9,573.0 518.5,573.0 519.1,573.0 519.7,573.0 520.3,573.0 520.9,573.0 521.5,573.0 522.1,573.0 522.7,573.0 523.3,573.0 523.9,573.0 524.5,573.0 525.1,573.0 525.7,573.0 526.3,573.0 526.9,573.0 527.5,573.0 528.1,573.0 528.7,573.0 529.3,573.0 529.9,573.0 530.5,573.0 531.1,573.0 531.7,573.0 532.3,573.0 532.9,573.0 533.5,572.9 534.1,572.9 534.7,572.9 535.3,572.9 535.9,572.9 536.5,572.9 537.1,572.9 537.7,572.9 538.3,572.9 538.9,572.9 539.5,572.9 540.1,572.9 540.7,572.9 541.3,572.9 541.9,572.9 542.5,572.9 543.1,572.9 543.7,572.9 544.3,572.9 544.9,572.9 545.5,572.9 546.1,572.9 546.7,572.9 547.3,572.9 547.9,572.9 548.5,572.9 549.1,572.9 549.7,572.9 550.3,572.9 550.9,572.8 551.5,572.8 552.1,572.8 552.7,572.8 553.3,572.8 553.9,572.8 554.5,572.8 555.1,572.8 555.7,572.8 556.3,572.8 556.9,572.8 557.5,572.8 558.1,572.8 558.7,572.8 559.3,572.8 559.9,572.7 560.5,572.7 561.1,572.7 561.7,572.7 562.3,572.7 562.9,572.7 563.5,572.7 564.1,572.7 564.7,572.7 565.3,572.7 565.9,572.6 566.5,572.6 567.1,572.6 567.7,572.6 568.3,572.6 568.9,572.6 569.5,572.6 570.1,572.5 570.7,572.5 571.3,572.5 571.9,572.5 572.5,572.5 573.1,572.4 573.7,572.4 574.3,572.4 574.9,572.3 575.5,572.3 576.1,572.3 576.7,572.2 577.3,572.2 577.9,572.1 578.5,572.1 579.1,572.0 579.7,571.9 580.3,571.8 580.9,571.7 581.5,571.6 582.1,571.5 582.7,571.4 583.3,571.3 583.9,571.1 584.5,570.9 585.1,570.7 585.7,570.5 586.3,570.3 586.9,570.0 587.5,569.7 588.1,569.4 588.7,569.1 589.3,568.7 589.9,568.3 590.5,567.9 591.1,567.5 591.7,567.0 592.3,566.4 592.9,565.9 593.5,565.3 594.1,564.7 594.7,564.1 595.3,563.4 595.9,562.7 596.5,562.0 597.1,561.3 597.7,560.5 598.3,559.8 598.9,559.0 599.5,558.2 600.1,557.5 600.7,556.8 601.3,556.0 601.9,555.3 602.5,554.7 603.1,554.1 603.7,553.5 604.3,553.0 604.9,552.6 605.5,552.2 606.1,551.9 606.7,551.7 607.3,551.6 607.9,551.6 608.5,551.7 609.1,551.8 609.7,552.1 610.3,552.4 610.9,552.8 611.5,553.3 612.1,553.9 612.7,554.5 613.3,555.1 613.9,555.8 614.5,556.5 615.1,557.2 615.7,558.0 616.3,558.7 616.9,559.5 617.5,560.3 618.1,561.0 618.7,561.7 619.3,562.5 619.9,563.2 620.5,563.8 621.1,564.5 621.7,565.1 622.3,565.7 622.9,566.3 623.5,566.8 624.1,567.3 624.7,567.8 625.3,568.2 625.9,568.6 626.5,569.0 627.1,569.3 627.7,569.6 628.3,569.9 628.9,570.2 629.5,570.4 630.1,570.7 630.7,570.9 631.3,571.0 631.9,571.2 632.5,571.4 633.1,571.5 633.7,571.6 634.3,571.7 634.9,571.8 635.5,571.9 636.1,572.0 636.7,572.0 637.3,572.1 637.9,572.2 638.5,572.2 639.1,572.3 639.7,572.3 640.3,572.3 640.9,572.4 641.5,572.4 642.1,572.4 642.7,572.4 643.3,572.5 643.9,572.5 644.5,572.5 645.1,572.5 645.7,572.6 646.3,572.6 646.9,572.6 647.5,572.6 648.1,572.6 648.7,572.6 649.3,572.6 649.9,572.7 650.5,572.7 651.1,572.7 651.7,572.7 652.3,572.7 652.9,572.7 653.5,572.7 654.1,572.7 654.7,572.7 655.3,572.7 655.9,572.8 656.5,572.8 657.1,572.8 657.7,572.8 658.3,572.8 658.9,572.8 659.5,572.8 660.1,572.8 660.7,572.8 661.3,572.8 661.9,572.8 662.5,572.8 663.1,572.8 663.7,572.8 664.3,572.8 664.9,572.8 665.5,572.9 666.1,572.9 666.7,572.9 667.3,572.9 667.9,572.9 668.5,572.9 669.1,572.9 669.7,572.9 670.3,572.9 670.9,572.9 671.5,572.9 672.1,572.9 672.7,572.9 673.3,572.9 673.9,572.9 674.5,572.9 675.1,572.9 675.7,572.9 676.3,572.9 676.9,572.9 677.5,572.9 678.1,572.9 678.7,572.9 679.3,572.9 679.9,572.9 680.5,572.9 681.1,572.9 681.7,572.9 682.3,573.0 682.9,573.0 683.5,573.0 684.1,573.0 684.7,573.0 685.3,573.0 685.9,573.0 686.5,573.0 687.1,573.0 687.7,573.0 688.3,573.0 688.9,573.0 689.5,573.0 690.1,573.0 690.7,573.0 691.3,573.0 691.9,573.0 692.5,573.0 693.1,573.0" stroke="#f58c1e" stroke-width="1.1" fill="none"/>
<line x1="567.00" y1="492.00" x2="567.00" y2="505.00" stroke="#2424e6" stroke-width="1.2" stroke-dasharray="3.2 2.2"/>
<line x1="607.70" y1="531.00" x2="607.70" y2="555.50" stroke="#f58c1e" stroke-width="1.2" stroke-dasharray="3.2 2.2"/>
<text x="502.80" y="484.50" font-size="11" text-anchor="start" fill="#f01e1e" transform="matrix(1.0,0,0,0.95,0.000,24.225)">p-Si@MgSiN<tspan font-size="8.2" dy="2.80">2</tspan></text>
<text x="692.50" y="485.00" font-size="11" text-anchor="end" fill="#000000" transform="matrix(1.0,0,0,0.95,0.000,24.250)">N 1<tspan font-style="italic">s</tspan></text>
<text x="570.70" y="496.40" font-size="11" text-anchor="start" fill="#2424e6" transform="matrix(1.0,0,0,0.95,0.000,24.820)">Li<tspan font-size="8.2" dy="2.80">3</tspan><tspan dy="-2.80">N</tspan></text>
<text x="597.40" y="530.90" font-size="11" text-anchor="start" fill="#f58c1e" transform="matrix(1.0,0,0,0.95,0.000,26.545)">LiSi<tspan font-size="8.2" dy="2.80">x</tspan><tspan dy="-2.80">N</tspan><tspan font-size="8.2" dy="2.80">y</tspan></text>
<path d="M498.7,681.8 499.3,681.8 499.9,681.8 500.5,681.8 501.1,681.8 501.7,681.8 502.3,681.8 502.9,681.8 503.5,681.8 504.1,681.8 504.7,681.8 505.3,681.8 505.9,681.8 506.5,681.8 507.1,681.8 507.7,681.8 508.3,681.8 508.9,681.8 509.5,681.8 510.1,681.8 510.7,681.8 511.3,681.8 511.9,681.8 512.5,681.8 513.1,681.8 513.7,681.8 514.3,681.8 514.9,681.8 515.5,681.8 516.1,681.8 516.7,681.8 517.3,681.8 517.9,681.8 518.5,681.8 519.1,681.8 519.7,681.8 520.3,681.8 520.9,681.8 521.5,681.8 522.1,681.8 522.7,681.8 523.3,681.8 523.9,681.8 524.5,681.8 525.1,681.8 525.7,681.8 526.3,681.8 526.9,681.8 527.5,681.8 528.1,681.8 528.7,681.8 529.3,681.8 529.9,681.8 530.5,681.8 531.1,681.8 531.7,681.8 532.3,681.8 532.9,681.8 533.5,681.8 534.1,681.8 534.7,681.8 535.3,681.8 535.9,681.8 536.5,681.8 537.1,681.8 537.7,681.8 538.3,681.8 538.9,681.8 539.5,681.8 540.1,681.8 540.7,681.8 541.3,681.8 541.9,681.8 542.5,681.8 543.1,681.8 543.7,681.8 544.3,681.8 544.9,681.8 545.5,681.8 546.1,681.8 546.7,681.8 547.3,681.8 547.9,681.8 548.5,681.8 549.1,681.8 549.7,681.8 550.3,681.8 550.9,681.8 551.5,681.8 552.1,681.8 552.7,681.8 553.3,681.8 553.9,681.8 554.5,681.8 555.1,681.8 555.7,681.8 556.3,681.8 556.9,681.8 557.5,681.8 558.1,681.8 558.7,681.8 559.3,681.8 559.9,681.8 560.5,681.8 561.1,681.8 561.7,681.8 562.3,681.8 562.9,681.8 563.5,681.8 564.1,681.8 564.7,681.8 565.3,681.8 565.9,681.8 566.5,681.8 567.1,681.8 567.7,681.8 568.3,681.8 568.9,681.8 569.5,681.8 570.1,681.8 570.7,681.8 571.3,681.8 571.9,681.8 572.5,681.8 573.1,681.8 573.7,681.8 574.3,681.8 574.9,681.8 575.5,681.8 576.1,681.8 576.7,681.8 577.3,681.8 577.9,681.8 578.5,681.8 579.1,681.8 579.7,681.8 580.3,681.8 580.9,681.8 581.5,681.8 582.1,681.8 582.7,681.8 583.3,681.8 583.9,681.8 584.5,681.8 585.1,681.8 585.7,681.8 586.3,681.8 586.9,681.8 587.5,681.8 588.1,681.8 588.7,681.8 589.3,681.8 589.9,681.8 590.5,681.8 591.1,681.8 591.7,681.8 592.3,681.8 592.9,681.8 593.5,681.8 594.1,681.8 594.7,681.8 595.3,681.8 595.9,681.8 596.5,681.8 597.1,681.8 597.7,681.8 598.3,681.8 598.9,681.8 599.5,681.8 600.1,681.8 600.7,681.8 601.3,681.8 601.9,681.8 602.5,681.8 603.1,681.8 603.7,681.8 604.3,681.8 604.9,681.8 605.5,681.8 606.1,681.8 606.7,681.8 607.3,681.8 607.9,681.8 608.5,681.8 609.1,681.8 609.7,681.8 610.3,681.8 610.9,681.8 611.5,681.8 612.1,681.8 612.7,681.8 613.3,681.8 613.9,681.8 614.5,681.8 615.1,681.8 615.7,681.8 616.3,681.8 616.9,681.8 617.5,681.8 618.1,681.8 618.7,681.8 619.3,681.8 619.9,681.8 620.5,681.8 621.1,681.8 621.7,681.8 622.3,681.8 622.9,681.8 623.5,681.8 624.1,681.8 624.7,681.8 625.3,681.8 625.9,681.8 626.5,681.8 627.1,681.8 627.7,681.8 628.3,681.8 628.9,681.8 629.5,681.8 630.1,681.8 630.7,681.8 631.3,681.8 631.9,681.8 632.5,681.8 633.1,681.8 633.7,681.8 634.3,681.8 634.9,681.8 635.5,681.8 636.1,681.8 636.7,681.8 637.3,681.8 637.9,681.8 638.5,681.8 639.1,681.8 639.7,681.8 640.3,681.8 640.9,681.8 641.5,681.8 642.1,681.8 642.7,681.8 643.3,681.8 643.9,681.8 644.5,681.8 645.1,681.8 645.7,681.8 646.3,681.8 646.9,681.8 647.5,681.8 648.1,681.8 648.7,681.8 649.3,681.8 649.9,681.8 650.5,681.8 651.1,681.8 651.7,681.8 652.3,681.8 652.9,681.8 653.5,681.8 654.1,681.8 654.7,681.8 655.3,681.8 655.9,681.8 656.5,681.8 657.1,681.8 657.7,681.8 658.3,681.8 658.9,681.8 659.5,681.8 660.1,681.8 660.7,681.8 661.3,681.8 661.9,681.8 662.5,681.8 663.1,681.8 663.7,681.8 664.3,681.8 664.9,681.8 665.5,681.8 666.1,681.8 666.7,681.8 667.3,681.8 667.9,681.8 668.5,681.8 669.1,681.8 669.7,681.8 670.3,681.8 670.9,681.8 671.5,681.8 672.1,681.8 672.7,681.8 673.3,681.8 673.9,681.8 674.5,681.8 675.1,681.8 675.7,681.8 676.3,681.8 676.9,681.8 677.5,681.8 678.1,681.8 678.7,681.8 679.3,681.8 679.9,681.8 680.5,681.8 681.1,681.8 681.7,681.8 682.3,681.8 682.9,681.8 683.5,681.8 684.1,681.8 684.7,681.8 685.3,681.8 685.9,681.8 686.5,681.8 687.1,681.8 687.7,681.8 688.3,681.8 688.9,681.8 689.5,681.8 690.1,681.8 690.7,681.8 691.3,681.8 691.9,681.8 692.5,681.8 693.1,681.8" stroke="#000" stroke-width="0.9" fill="none"/>
<path d="M498.7,681.4 499.3,681.6 499.9,681.7 500.5,682.2 501.1,682.6 501.7,682.0 502.3,681.4 502.9,681.5 503.5,681.5 504.1,681.6 504.7,681.7 505.3,681.2 505.9,680.7 506.5,681.1 507.1,681.5 507.7,681.7 508.3,681.8 508.9,682.0 509.5,682.2 510.1,681.3 510.7,680.4 511.3,680.7 511.9,680.9 512.5,680.7 513.1,680.4 513.7,681.3 514.3,682.2 514.9,682.1 515.5,681.9 516.1,681.0 516.7,680.2 517.3,681.4 517.9,682.6 518.5,682.6 519.1,682.6 519.7,682.1 520.3,681.7 520.9,681.7 521.5,681.6 522.1,681.0 522.7,680.4 523.3,680.2 523.9,680.0 524.5,680.6 525.1,681.3 525.7,680.7 526.3,680.0 526.9,680.2 527.5,680.3 528.1,680.4 528.7,680.4 529.3,680.1 529.9,679.8 530.5,680.4 531.1,680.9 531.7,680.9 532.3,680.8 532.9,681.3 533.5,681.8 534.1,681.3 534.7,680.8 535.3,680.9 535.9,681.0 536.5,680.7 537.1,680.4 537.7,680.5 538.3,680.6 538.9,680.2 539.5,679.7 540.1,679.3 540.7,678.8 541.3,679.4 541.9,680.0 542.5,679.6 543.1,679.1 543.7,678.4 544.3,677.6 544.9,676.7 545.5,675.7 546.1,674.2 546.7,672.6 547.3,671.3 547.9,669.9 548.5,668.5 549.1,666.9 549.7,664.8 550.3,662.5 550.9,661.3 551.5,659.8 552.1,656.8 552.7,653.7 553.3,651.4 553.9,648.9 554.5,645.2 555.1,641.3 555.7,638.6 556.3,635.9 556.9,632.2 557.5,628.5 558.1,623.8 558.7,619.2 559.3,616.0 559.9,613.0 560.5,610.8 561.1,608.7 561.7,605.4 562.3,602.5 562.9,601.0 563.5,600.0 564.1,597.8 564.7,596.1 565.3,595.2 565.9,594.7 566.5,595.8 567.1,597.3 567.7,598.6 568.3,600.4 568.9,601.7 569.5,603.3 570.1,605.7 570.7,608.3 571.3,611.6 571.9,615.2 572.5,619.3 573.1,623.6 573.7,626.8 574.3,630.0 574.9,632.7 575.5,635.3 576.1,638.8 576.7,642.2 577.3,645.1 577.9,647.8 578.5,650.5 579.1,653.0 579.7,656.4 580.3,659.5 580.9,660.7 581.5,661.7 582.1,663.8 582.7,665.6 583.3,666.7 583.9,667.5 584.5,668.0 585.1,668.3 585.7,669.5 586.3,670.6 586.9,670.0 587.5,669.2 588.1,669.8 588.7,670.3 589.3,669.3 589.9,668.2 590.5,668.1 591.1,667.9 591.7,667.0 592.3,666.0 592.9,665.3 593.5,664.5 594.1,664.5 594.7,664.5 595.3,663.3 595.9,662.1 596.5,660.4 597.1,658.8 597.7,658.5 598.3,658.3 598.9,656.4 599.5,654.6 600.1,653.9 600.7,653.2 601.3,653.0 601.9,652.8 602.5,651.8 603.1,650.9 603.7,649.6 604.3,648.4 604.9,649.1 605.5,650.0 606.1,648.7 606.7,647.6 607.3,647.6 607.9,647.8 608.5,648.6 609.1,649.6 609.7,649.4 610.3,649.3 610.9,649.8 611.5,650.4 612.1,650.8 612.7,651.3 613.3,652.1 613.9,653.1 614.5,654.6 615.1,656.3 615.7,656.8 616.3,657.4 616.9,659.0 617.5,660.5 618.1,661.3 618.7,662.0 619.3,663.2 619.9,664.4 620.5,666.1 621.1,667.7 621.7,668.1 622.3,668.4 622.9,669.5 623.5,670.5 624.1,671.7 624.7,672.9 625.3,672.8 625.9,672.6 626.5,673.2 627.1,673.8 627.7,675.4 628.3,677.0 628.9,677.4 629.5,677.7 630.1,677.4 630.7,677.1 631.3,677.4 631.9,677.7 632.5,678.7 633.1,679.7 633.7,680.2 634.3,680.7 634.9,679.9 635.5,679.1 636.1,680.3 636.7,681.4 637.3,681.5 637.9,681.5 638.5,681.2 639.1,681.0 639.7,680.8 640.3,680.7 640.9,680.3 641.5,680.0 642.1,679.9 642.7,679.9 643.3,681.1 643.9,682.4 644.5,681.5 645.1,680.6 645.7,681.2 646.3,681.8 646.9,681.3 647.5,680.7 648.1,681.4 648.7,682.2 649.3,681.9 649.9,681.6 650.5,681.3 651.1,680.9 651.7,680.7 652.3,680.6 652.9,681.3 653.5,682.0 654.1,681.2 654.7,680.3 655.3,680.6 655.9,680.8 656.5,681.2 657.1,681.6 657.7,682.0 658.3,682.4 658.9,682.1 659.5,681.8 660.1,681.4 660.7,680.9 661.3,681.8 661.9,682.6 662.5,681.7 663.1,680.8 663.7,680.5 664.3,680.3 664.9,680.6 665.5,681.0 666.1,681.2 666.7,681.4 667.3,680.9 667.9,680.4 668.5,680.6 669.1,680.7 669.7,681.0 670.3,681.2 670.9,681.5 671.5,681.8 672.1,681.2 672.7,680.6 673.3,680.9 673.9,681.2 674.5,681.9 675.1,682.6 675.7,682.7 676.3,682.9 676.9,682.4 677.5,682.0 678.1,682.1 678.7,682.1 679.3,682.0 679.9,681.9 680.5,681.3 681.1,680.7 681.7,680.6 682.3,680.4 682.9,680.4 683.5,680.4 684.1,681.6 684.7,682.7 685.3,682.4 685.9,682.2 686.5,682.5 687.1,682.9 687.7,681.6 688.3,680.4 688.9,681.2 689.5,682.0 690.1,681.8 690.7,681.6 691.3,681.9 691.9,682.3 692.5,681.7 693.1,681.2" stroke="#000" stroke-width="1.0" fill="none" stroke-linejoin="round"/>
<path d="M498.7,681.6 499.3,681.6 499.9,681.6 500.5,681.6 501.1,681.5 501.7,681.5 502.3,681.5 502.9,681.5 503.5,681.5 504.1,681.5 504.7,681.5 505.3,681.5 505.9,681.5 506.5,681.5 507.1,681.5 507.7,681.5 508.3,681.5 508.9,681.5 509.5,681.5 510.1,681.5 510.7,681.5 511.3,681.5 511.9,681.4 512.5,681.4 513.1,681.4 513.7,681.4 514.3,681.4 514.9,681.4 515.5,681.4 516.1,681.4 516.7,681.4 517.3,681.4 517.9,681.4 518.5,681.4 519.1,681.3 519.7,681.3 520.3,681.3 520.9,681.3 521.5,681.3 522.1,681.3 522.7,681.3 523.3,681.3 523.9,681.2 524.5,681.2 525.1,681.2 525.7,681.2 526.3,681.2 526.9,681.2 527.5,681.2 528.1,681.1 528.7,681.1 529.3,681.1 529.9,681.1 530.5,681.0 531.1,681.0 531.7,681.0 532.3,680.9 532.9,680.9 533.5,680.9 534.1,680.8 534.7,680.8 535.3,680.7 535.9,680.6 536.5,680.5 537.1,680.4 537.7,680.3 538.3,680.2 538.9,680.0 539.5,679.8 540.1,679.6 540.7,679.4 541.3,679.1 541.9,678.7 542.5,678.3 543.1,677.8 543.7,677.3 544.3,676.7 544.9,675.9 545.5,675.1 546.1,674.2 546.7,673.1 547.3,671.9 547.9,670.6 548.5,669.1 549.1,667.5 549.7,665.7 550.3,663.7 550.9,661.5 551.5,659.2 552.1,656.6 552.7,653.9 553.3,651.1 553.9,648.0 554.5,644.9 555.1,641.6 555.7,638.2 556.3,634.7 556.9,631.1 557.5,627.6 558.1,624.0 558.7,620.5 559.3,617.1 559.9,613.8 560.5,610.6 561.1,607.7 561.7,605.0 562.3,602.5 562.9,600.4 563.5,598.7 564.1,597.4 564.7,596.4 565.3,595.9 565.9,595.8 566.5,596.1 567.1,596.9 567.7,598.1 568.3,599.7 568.9,601.7 569.5,603.9 570.1,606.5 570.7,609.3 571.3,612.4 571.9,615.6 572.5,619.0 573.1,622.4 573.7,625.9 574.3,629.4 574.9,632.8 575.5,636.3 576.1,639.6 576.7,642.8 577.3,645.9 577.9,648.8 578.5,651.6 579.1,654.2 579.7,656.6 580.3,658.8 580.9,660.7 581.5,662.5 582.1,664.1 582.7,665.5 583.3,666.7 583.9,667.7 584.5,668.5 585.1,669.1 585.7,669.6 586.3,670.0 586.9,670.1 587.5,670.2 588.1,670.1 588.7,669.9 589.3,669.6 589.9,669.2 590.5,668.7 591.1,668.1 591.7,667.4 592.3,666.7 592.9,665.9 593.5,665.1 594.1,664.2 594.7,663.3 595.3,662.3 595.9,661.3 596.5,660.3 597.1,659.3 597.7,658.3 598.3,657.3 598.9,656.3 599.5,655.3 600.1,654.4 600.7,653.5 601.3,652.7 601.9,651.9 602.5,651.1 603.1,650.5 603.7,649.9 604.3,649.4 604.9,649.0 605.5,648.7 606.1,648.5 606.7,648.3 607.3,648.3 607.9,648.4 608.5,648.6 609.1,648.9 609.7,649.2 610.3,649.7 610.9,650.3 611.5,650.9 612.1,651.6 612.7,652.4 613.3,653.2 613.9,654.1 614.5,655.1 615.1,656.1 615.7,657.1 616.3,658.1 616.9,659.2 617.5,660.2 618.1,661.3 618.7,662.4 619.3,663.4 619.9,664.5 620.5,665.5 621.1,666.5 621.7,667.5 622.3,668.5 622.9,669.4 623.5,670.3 624.1,671.1 624.7,671.9 625.3,672.7 625.9,673.4 626.5,674.1 627.1,674.7 627.7,675.3 628.3,675.9 628.9,676.4 629.5,676.9 630.1,677.3 630.7,677.7 631.3,678.1 631.9,678.5 632.5,678.8 633.1,679.1 633.7,679.3 634.3,679.5 634.9,679.7 635.5,679.9 636.1,680.1 636.7,680.3 637.3,680.4 637.9,680.5 638.5,680.6 639.1,680.7 639.7,680.8 640.3,680.9 640.9,680.9 641.5,681.0 642.1,681.0 642.7,681.1 643.3,681.1 643.9,681.2 644.5,681.2 645.1,681.2 645.7,681.3 646.3,681.3 646.9,681.3 647.5,681.3 648.1,681.3 648.7,681.4 649.3,681.4 649.9,681.4 650.5,681.4 651.1,681.4 651.7,681.4 652.3,681.4 652.9,681.4 653.5,681.4 654.1,681.5 654.7,681.5 655.3,681.5 655.9,681.5 656.5,681.5 657.1,681.5 657.7,681.5 658.3,681.5 658.9,681.5 659.5,681.5 660.1,681.5 660.7,681.5 661.3,681.5 661.9,681.5 662.5,681.5 663.1,681.5 663.7,681.5 664.3,681.5 664.9,681.6 665.5,681.6 666.1,681.6 666.7,681.6 667.3,681.6 667.9,681.6 668.5,681.6 669.1,681.6 669.7,681.6 670.3,681.6 670.9,681.6 671.5,681.6 672.1,681.6 672.7,681.6 673.3,681.6 673.9,681.6 674.5,681.6 675.1,681.6 675.7,681.6 676.3,681.6 676.9,681.6 677.5,681.6 678.1,681.6 678.7,681.6 679.3,681.6 679.9,681.6 680.5,681.6 681.1,681.6 681.7,681.6 682.3,681.6 682.9,681.6 683.5,681.6 684.1,681.6 684.7,681.6 685.3,681.7 685.9,681.7 686.5,681.7 687.1,681.7 687.7,681.7 688.3,681.7 688.9,681.7 689.5,681.7 690.1,681.7 690.7,681.7 691.3,681.7 691.9,681.7 692.5,681.7 693.1,681.7" stroke="#f01e1e" stroke-width="1.3" fill="none"/>
<path d="M498.7,681.6 499.3,681.6 499.9,681.6 500.5,681.6 501.1,681.6 501.7,681.6 502.3,681.6 502.9,681.6 503.5,681.6 504.1,681.6 504.7,681.6 505.3,681.6 505.9,681.6 506.5,681.6 507.1,681.6 507.7,681.5 508.3,681.5 508.9,681.5 509.5,681.5 510.1,681.5 510.7,681.5 511.3,681.5 511.9,681.5 512.5,681.5 513.1,681.5 513.7,681.5 514.3,681.5 514.9,681.5 515.5,681.5 516.1,681.5 516.7,681.5 517.3,681.4 517.9,681.4 518.5,681.4 519.1,681.4 519.7,681.4 520.3,681.4 520.9,681.4 521.5,681.4 522.1,681.4 522.7,681.4 523.3,681.3 523.9,681.3 524.5,681.3 525.1,681.3 525.7,681.3 526.3,681.3 526.9,681.3 527.5,681.2 528.1,681.2 528.7,681.2 529.3,681.2 529.9,681.2 530.5,681.1 531.1,681.1 531.7,681.1 532.3,681.0 532.9,681.0 533.5,681.0 534.1,680.9 534.7,680.9 535.3,680.8 535.9,680.7 536.5,680.6 537.1,680.6 537.7,680.4 538.3,680.3 538.9,680.1 539.5,680.0 540.1,679.7 540.7,679.5 541.3,679.2 541.9,678.8 542.5,678.4 543.1,678.0 543.7,677.4 544.3,676.8 544.9,676.1 545.5,675.3 546.1,674.3 546.7,673.3 547.3,672.1 547.9,670.8 548.5,669.3 549.1,667.6 549.7,665.8 550.3,663.8 550.9,661.7 551.5,659.3 552.1,656.8 552.7,654.1 553.3,651.3 553.9,648.2 554.5,645.1 555.1,641.8 555.7,638.4 556.3,634.9 556.9,631.4 557.5,627.8 558.1,624.2 558.7,620.7 559.3,617.3 559.9,614.0 560.5,610.8 561.1,607.9 561.7,605.2 562.3,602.8 562.9,600.7 563.5,599.0 564.1,597.6 564.7,596.7 565.3,596.2 565.9,596.1 566.5,596.5 567.1,597.3 567.7,598.5 568.3,600.1 568.9,602.1 569.5,604.4 570.1,607.0 570.7,609.8 571.3,612.9 571.9,616.2 572.5,619.6 573.1,623.1 573.7,626.6 574.3,630.2 574.9,633.7 575.5,637.2 576.1,640.7 576.7,644.0 577.3,647.2 577.9,650.3 578.5,653.2 579.1,655.9 579.7,658.5 580.3,660.9 580.9,663.1 581.5,665.2 582.1,667.0 582.7,668.7 583.3,670.3 583.9,671.7 584.5,672.9 585.1,674.0 585.7,675.0 586.3,675.8 586.9,676.6 587.5,677.2 588.1,677.8 588.7,678.3 589.3,678.7 589.9,679.1 590.5,679.4 591.1,679.7 591.7,679.9 592.3,680.1 592.9,680.3 593.5,680.4 594.1,680.5 594.7,680.6 595.3,680.7 595.9,680.8 596.5,680.8 597.1,680.9 597.7,681.0 598.3,681.0 598.9,681.0 599.5,681.1 600.1,681.1 600.7,681.1 601.3,681.1 601.9,681.2 602.5,681.2 603.1,681.2 603.7,681.2 604.3,681.2 604.9,681.3 605.5,681.3 606.1,681.3 606.7,681.3 607.3,681.3 607.9,681.3 608.5,681.3 609.1,681.4 609.7,681.4 610.3,681.4 610.9,681.4 611.5,681.4 612.1,681.4 612.7,681.4 613.3,681.4 613.9,681.4 614.5,681.4 615.1,681.5 615.7,681.5 616.3,681.5 616.9,681.5 617.5,681.5 618.1,681.5 618.7,681.5 619.3,681.5 619.9,681.5 620.5,681.5 621.1,681.5 621.7,681.5 622.3,681.5 622.9,681.5 623.5,681.5 624.1,681.6 624.7,681.6 625.3,681.6 625.9,681.6 626.5,681.6 627.1,681.6 627.7,681.6 628.3,681.6 628.9,681.6 629.5,681.6 630.1,681.6 630.7,681.6 631.3,681.6 631.9,681.6 632.5,681.6 633.1,681.6 633.7,681.6 634.3,681.6 634.9,681.6 635.5,681.6 636.1,681.6 636.7,681.6 637.3,681.6 637.9,681.6 638.5,681.6 639.1,681.6 639.7,681.6 640.3,681.6 640.9,681.6 641.5,681.7 642.1,681.7 642.7,681.7 643.3,681.7 643.9,681.7 644.5,681.7 645.1,681.7 645.7,681.7 646.3,681.7 646.9,681.7 647.5,681.7 648.1,681.7 648.7,681.7 649.3,681.7 649.9,681.7 650.5,681.7 651.1,681.7 651.7,681.7 652.3,681.7 652.9,681.7 653.5,681.7 654.1,681.7 654.7,681.7 655.3,681.7 655.9,681.7 656.5,681.7 657.1,681.7 657.7,681.7 658.3,681.7 658.9,681.7 659.5,681.7 660.1,681.7 660.7,681.7 661.3,681.7 661.9,681.7 662.5,681.7 663.1,681.7 663.7,681.7 664.3,681.7 664.9,681.7 665.5,681.7 666.1,681.7 666.7,681.7 667.3,681.7 667.9,681.7 668.5,681.7 669.1,681.7 669.7,681.7 670.3,681.7 670.9,681.7 671.5,681.7 672.1,681.7 672.7,681.7 673.3,681.7 673.9,681.7 674.5,681.7 675.1,681.7 675.7,681.7 676.3,681.7 676.9,681.7 677.5,681.7 678.1,681.7 678.7,681.7 679.3,681.7 679.9,681.7 680.5,681.7 681.1,681.7 681.7,681.7 682.3,681.7 682.9,681.7 683.5,681.7 684.1,681.7 684.7,681.7 685.3,681.7 685.9,681.7 686.5,681.7 687.1,681.7 687.7,681.7 688.3,681.7 688.9,681.7 689.5,681.7 690.1,681.7 690.7,681.7 691.3,681.7 691.9,681.7 692.5,681.7 693.1,681.7" stroke="#2424e6" stroke-width="1.1" fill="none"/>
<path d="M498.7,681.8 499.3,681.8 499.9,681.8 500.5,681.8 501.1,681.8 501.7,681.8 502.3,681.8 502.9,681.7 503.5,681.7 504.1,681.7 504.7,681.7 505.3,681.7 505.9,681.7 506.5,681.7 507.1,681.7 507.7,681.7 508.3,681.7 508.9,681.7 509.5,681.7 510.1,681.7 510.7,681.7 511.3,681.7 511.9,681.7 512.5,681.7 513.1,681.7 513.7,681.7 514.3,681.7 514.9,681.7 515.5,681.7 516.1,681.7 516.7,681.7 517.3,681.7 517.9,681.7 518.5,681.7 519.1,681.7 519.7,681.7 520.3,681.7 520.9,681.7 521.5,681.7 522.1,681.7 522.7,681.7 523.3,681.7 523.9,681.7 524.5,681.7 525.1,681.7 525.7,681.7 526.3,681.7 526.9,681.7 527.5,681.7 528.1,681.7 528.7,681.7 529.3,681.7 529.9,681.7 530.5,681.7 531.1,681.7 531.7,681.7 532.3,681.7 532.9,681.7 533.5,681.7 534.1,681.7 534.7,681.7 535.3,681.7 535.9,681.7 536.5,681.7 537.1,681.7 537.7,681.7 538.3,681.7 538.9,681.7 539.5,681.7 540.1,681.7 540.7,681.7 541.3,681.7 541.9,681.7 542.5,681.7 543.1,681.7 543.7,681.7 544.3,681.7 544.9,681.7 545.5,681.7 546.1,681.7 546.7,681.7 547.3,681.7 547.9,681.6 548.5,681.6 549.1,681.6 549.7,681.6 550.3,681.6 550.9,681.6 551.5,681.6 552.1,681.6 552.7,681.6 553.3,681.6 553.9,681.6 554.5,681.6 555.1,681.6 555.7,681.6 556.3,681.6 556.9,681.6 557.5,681.6 558.1,681.6 558.7,681.6 559.3,681.6 559.9,681.6 560.5,681.6 561.1,681.6 561.7,681.5 562.3,681.5 562.9,681.5 563.5,681.5 564.1,681.5 564.7,681.5 565.3,681.5 565.9,681.5 566.5,681.5 567.1,681.4 567.7,681.4 568.3,681.4 568.9,681.4 569.5,681.4 570.1,681.3 570.7,681.3 571.3,681.3 571.9,681.2 572.5,681.2 573.1,681.1 573.7,681.1 574.3,681.0 574.9,680.9 575.5,680.8 576.1,680.7 576.7,680.6 577.3,680.5 577.9,680.4 578.5,680.2 579.1,680.1 579.7,679.9 580.3,679.6 580.9,679.4 581.5,679.1 582.1,678.9 582.7,678.5 583.3,678.2 583.9,677.8 584.5,677.4 585.1,676.9 585.7,676.5 586.3,675.9 586.9,675.4 587.5,674.8 588.1,674.1 588.7,673.4 589.3,672.7 589.9,671.9 590.5,671.1 591.1,670.2 591.7,669.4 592.3,668.4 592.9,667.5 593.5,666.5 594.1,665.5 594.7,664.4 595.3,663.4 595.9,662.3 596.5,661.3 597.1,660.2 597.7,659.1 598.3,658.1 598.9,657.1 599.5,656.1 600.1,655.1 600.7,654.2 601.3,653.3 601.9,652.5 602.5,651.8 603.1,651.1 603.7,650.5 604.3,650.0 604.9,649.5 605.5,649.2 606.1,649.0 606.7,648.8 607.3,648.8 607.9,648.9 608.5,649.0 609.1,649.3 609.7,649.7 610.3,650.1 610.9,650.7 611.5,651.3 612.1,652.0 612.7,652.8 613.3,653.6 613.9,654.5 614.5,655.4 615.1,656.4 615.7,657.4 616.3,658.4 616.9,659.5 617.5,660.6 618.1,661.6 618.7,662.7 619.3,663.7 619.9,664.8 620.5,665.8 621.1,666.8 621.7,667.8 622.3,668.7 622.9,669.7 623.5,670.5 624.1,671.4 624.7,672.2 625.3,672.9 625.9,673.6 626.5,674.3 627.1,675.0 627.7,675.6 628.3,676.1 628.9,676.6 629.5,677.1 630.1,677.5 630.7,677.9 631.3,678.3 631.9,678.7 632.5,679.0 633.1,679.2 633.7,679.5 634.3,679.7 634.9,679.9 635.5,680.1 636.1,680.3 636.7,680.4 637.3,680.6 637.9,680.7 638.5,680.8 639.1,680.9 639.7,681.0 640.3,681.0 640.9,681.1 641.5,681.1 642.1,681.2 642.7,681.2 643.3,681.3 643.9,681.3 644.5,681.3 645.1,681.4 645.7,681.4 646.3,681.4 646.9,681.4 647.5,681.5 648.1,681.5 648.7,681.5 649.3,681.5 649.9,681.5 650.5,681.5 651.1,681.5 651.7,681.5 652.3,681.5 652.9,681.5 653.5,681.6 654.1,681.6 654.7,681.6 655.3,681.6 655.9,681.6 656.5,681.6 657.1,681.6 657.7,681.6 658.3,681.6 658.9,681.6 659.5,681.6 660.1,681.6 660.7,681.6 661.3,681.6 661.9,681.6 662.5,681.6 663.1,681.6 663.7,681.6 664.3,681.6 664.9,681.6 665.5,681.6 666.1,681.6 666.7,681.6 667.3,681.7 667.9,681.7 668.5,681.7 669.1,681.7 669.7,681.7 670.3,681.7 670.9,681.7 671.5,681.7 672.1,681.7 672.7,681.7 673.3,681.7 673.9,681.7 674.5,681.7 675.1,681.7 675.7,681.7 676.3,681.7 676.9,681.7 677.5,681.7 678.1,681.7 678.7,681.7 679.3,681.7 679.9,681.7 680.5,681.7 681.1,681.7 681.7,681.7 682.3,681.7 682.9,681.7 683.5,681.7 684.1,681.7 684.7,681.7 685.3,681.7 685.9,681.7 686.5,681.7 687.1,681.7 687.7,681.7 688.3,681.7 688.9,681.7 689.5,681.7 690.1,681.7 690.7,681.7 691.3,681.7 691.9,681.7 692.5,681.7 693.1,681.7" stroke="#f58c1e" stroke-width="1.1" fill="none"/>
<line x1="565.70" y1="591.70" x2="565.70" y2="605.90" stroke="#2424e6" stroke-width="1.2" stroke-dasharray="3.2 2.2"/>
<line x1="607.20" y1="633.10" x2="607.20" y2="657.70" stroke="#f58c1e" stroke-width="1.2" stroke-dasharray="3.2 2.2"/>
<text x="568.10" y="596.10" font-size="11" text-anchor="start" fill="#2424e6" transform="matrix(1.0,0,0,0.95,0.000,29.805)">Li<tspan font-size="8.2" dy="2.80">3</tspan><tspan dy="-2.80">N</tspan></text>
<text x="597.40" y="630.50" font-size="11" text-anchor="start" fill="#f58c1e" transform="matrix(1.0,0,0,0.95,0.000,31.525)">LiSi<tspan font-size="8.2" dy="2.80">x</tspan><tspan dy="-2.80">N</tspan><tspan font-size="8.2" dy="2.80">y</tspan></text>
<path d="M498.7,790.5 499.3,790.5 499.9,790.5 500.5,790.5 501.1,790.5 501.7,790.5 502.3,790.5 502.9,790.5 503.5,790.5 504.1,790.5 504.7,790.5 505.3,790.5 505.9,790.5 506.5,790.5 507.1,790.5 507.7,790.5 508.3,790.5 508.9,790.5 509.5,790.5 510.1,790.5 510.7,790.5 511.3,790.5 511.9,790.5 512.5,790.5 513.1,790.5 513.7,790.5 514.3,790.5 514.9,790.5 515.5,790.5 516.1,790.5 516.7,790.5 517.3,790.5 517.9,790.5 518.5,790.5 519.1,790.5 519.7,790.5 520.3,790.5 520.9,790.5 521.5,790.5 522.1,790.5 522.7,790.5 523.3,790.5 523.9,790.5 524.5,790.5 525.1,790.5 525.7,790.5 526.3,790.5 526.9,790.5 527.5,790.5 528.1,790.5 528.7,790.5 529.3,790.5 529.9,790.5 530.5,790.5 531.1,790.5 531.7,790.5 532.3,790.5 532.9,790.5 533.5,790.5 534.1,790.5 534.7,790.5 535.3,790.5 535.9,790.5 536.5,790.5 537.1,790.5 537.7,790.5 538.3,790.5 538.9,790.5 539.5,790.5 540.1,790.5 540.7,790.5 541.3,790.5 541.9,790.5 542.5,790.5 543.1,790.5 543.7,790.5 544.3,790.5 544.9,790.5 545.5,790.5 546.1,790.5 546.7,790.5 547.3,790.5 547.9,790.5 548.5,790.5 549.1,790.5 549.7,790.5 550.3,790.5 550.9,790.5 551.5,790.5 552.1,790.5 552.7,790.5 553.3,790.5 553.9,790.5 554.5,790.5 555.1,790.5 555.7,790.5 556.3,790.5 556.9,790.5 557.5,790.5 558.1,790.5 558.7,790.5 559.3,790.5 559.9,790.5 560.5,790.5 561.1,790.5 561.7,790.5 562.3,790.5 562.9,790.5 563.5,790.5 564.1,790.5 564.7,790.5 565.3,790.5 565.9,790.5 566.5,790.5 567.1,790.5 567.7,790.5 568.3,790.5 568.9,790.5 569.5,790.5 570.1,790.5 570.7,790.5 571.3,790.5 571.9,790.5 572.5,790.5 573.1,790.5 573.7,790.5 574.3,790.5 574.9,790.5 575.5,790.5 576.1,790.5 576.7,790.5 577.3,790.5 577.9,790.5 578.5,790.5 579.1,790.5 579.7,790.5 580.3,790.5 580.9,790.5 581.5,790.5 582.1,790.5 582.7,790.5 583.3,790.5 583.9,790.5 584.5,790.5 585.1,790.5 585.7,790.5 586.3,790.5 586.9,790.5 587.5,790.5 588.1,790.5 588.7,790.5 589.3,790.5 589.9,790.5 590.5,790.5 591.1,790.5 591.7,790.5 592.3,790.5 592.9,790.5 593.5,790.5 594.1,790.5 594.7,790.5 595.3,790.5 595.9,790.5 596.5,790.5 597.1,790.5 597.7,790.5 598.3,790.5 598.9,790.5 599.5,790.5 600.1,790.5 600.7,790.5 601.3,790.5 601.9,790.5 602.5,790.5 603.1,790.5 603.7,790.5 604.3,790.5 604.9,790.5 605.5,790.5 606.1,790.5 606.7,790.5 607.3,790.5 607.9,790.5 608.5,790.5 609.1,790.5 609.7,790.5 610.3,790.5 610.9,790.5 611.5,790.5 612.1,790.5 612.7,790.5 613.3,790.5 613.9,790.5 614.5,790.5 615.1,790.5 615.7,790.5 616.3,790.5 616.9,790.5 617.5,790.5 618.1,790.5 618.7,790.5 619.3,790.5 619.9,790.5 620.5,790.5 621.1,790.5 621.7,790.5 622.3,790.5 622.9,790.5 623.5,790.5 624.1,790.5 624.7,790.5 625.3,790.5 625.9,790.5 626.5,790.5 627.1,790.5 627.7,790.5 628.3,790.5 628.9,790.5 629.5,790.5 630.1,790.5 630.7,790.5 631.3,790.5 631.9,790.5 632.5,790.5 633.1,790.5 633.7,790.5 634.3,790.5 634.9,790.5 635.5,790.5 636.1,790.5 636.7,790.5 637.3,790.5 637.9,790.5 638.5,790.5 639.1,790.5 639.7,790.5 640.3,790.5 640.9,790.5 641.5,790.5 642.1,790.5 642.7,790.5 643.3,790.5 643.9,790.5 644.5,790.5 645.1,790.5 645.7,790.5 646.3,790.5 646.9,790.5 647.5,790.5 648.1,790.5 648.7,790.5 649.3,790.5 649.9,790.5 650.5,790.5 651.1,790.5 651.7,790.5 652.3,790.5 652.9,790.5 653.5,790.5 654.1,790.5 654.7,790.5 655.3,790.5 655.9,790.5 656.5,790.5 657.1,790.5 657.7,790.5 658.3,790.5 658.9,790.5 659.5,790.5 660.1,790.5 660.7,790.5 661.3,790.5 661.9,790.5 662.5,790.5 663.1,790.5 663.7,790.5 664.3,790.5 664.9,790.5 665.5,790.5 666.1,790.5 666.7,790.5 667.3,790.5 667.9,790.5 668.5,790.5 669.1,790.5 669.7,790.5 670.3,790.5 670.9,790.5 671.5,790.5 672.1,790.5 672.7,790.5 673.3,790.5 673.9,790.5 674.5,790.5 675.1,790.5 675.7,790.5 676.3,790.5 676.9,790.5 677.5,790.5 678.1,790.5 678.7,790.5 679.3,790.5 679.9,790.5 680.5,790.5 681.1,790.5 681.7,790.5 682.3,790.5 682.9,790.5 683.5,790.5 684.1,790.5 684.7,790.5 685.3,790.5 685.9,790.5 686.5,790.5 687.1,790.5 687.7,790.5 688.3,790.5 688.9,790.5 689.5,790.5 690.1,790.5 690.7,790.5 691.3,790.5 691.9,790.5 692.5,790.5 693.1,790.5" stroke="#000" stroke-width="0.9" fill="none"/>
<path d="M498.7,790.3 499.3,790.5 499.9,790.8 500.5,790.8 501.1,790.8 501.7,790.2 502.3,789.5 502.9,789.4 503.5,789.2 504.1,789.6 504.7,790.1 505.3,790.0 505.9,789.8 506.5,790.5 507.1,791.1 507.7,791.0 508.3,790.8 508.9,790.7 509.5,790.6 510.1,790.6 510.7,790.5 511.3,790.6 511.9,790.7 512.5,790.1 513.1,789.5 513.7,789.9 514.3,790.2 514.9,789.9 515.5,789.5 516.1,790.4 516.7,791.3 517.3,790.3 517.9,789.3 518.5,790.2 519.1,791.1 519.7,790.2 520.3,789.3 520.9,790.0 521.5,790.8 522.1,790.3 522.7,789.9 523.3,790.0 523.9,790.1 524.5,790.6 525.1,791.1 525.7,790.1 526.3,789.1 526.9,789.2 527.5,789.2 528.1,790.3 528.7,791.3 529.3,790.8 529.9,790.3 530.5,789.8 531.1,789.3 531.7,790.4 532.3,791.4 532.9,791.4 533.5,791.3 534.1,790.3 534.7,789.3 535.3,789.6 535.9,790.0 536.5,789.6 537.1,789.2 537.7,789.3 538.3,789.5 538.9,789.8 539.5,790.0 540.1,789.3 540.7,788.6 541.3,789.1 541.9,789.5 542.5,788.5 543.1,787.5 543.7,787.4 544.3,787.3 544.9,787.8 545.5,788.3 546.1,787.6 546.7,786.8 547.3,786.7 547.9,786.5 548.5,786.6 549.1,786.8 549.7,786.6 550.3,786.5 550.9,786.5 551.5,786.5 552.1,786.2 552.7,785.9 553.3,787.0 553.9,788.0 554.5,788.5 555.1,789.0 555.7,789.2 556.3,789.4 556.9,789.2 557.5,788.9 558.1,788.6 558.7,788.3 559.3,788.3 559.9,788.3 560.5,788.7 561.1,789.0 561.7,788.8 562.3,788.7 562.9,787.8 563.5,787.0 564.1,786.9 564.7,786.8 565.3,786.7 565.9,786.5 566.5,786.4 567.1,786.2 567.7,786.1 568.3,786.1 568.9,785.2 569.5,784.3 570.1,783.2 570.7,782.1 571.3,782.4 571.9,782.6 572.5,781.4 573.1,780.2 573.7,779.4 574.3,778.7 574.9,777.4 575.5,776.0 576.1,775.2 576.7,774.3 577.3,773.0 577.9,771.7 578.5,770.9 579.1,770.0 579.7,767.7 580.3,765.4 580.9,764.4 581.5,763.3 582.1,761.2 582.7,759.0 583.3,757.8 583.9,756.6 584.5,753.9 585.1,751.1 585.7,749.4 586.3,747.7 586.9,745.7 587.5,743.7 588.1,742.0 588.7,740.2 589.3,737.4 589.9,734.6 590.5,733.0 591.1,731.4 591.7,729.0 592.3,726.6 592.9,724.7 593.5,722.8 594.1,721.2 594.7,719.5 595.3,718.3 595.9,717.2 596.5,715.0 597.1,712.9 597.7,712.1 598.3,711.4 598.9,709.2 599.5,707.2 600.1,707.2 600.7,707.3 601.3,705.9 601.9,704.7 602.5,704.1 603.1,703.6 603.7,704.2 604.3,704.9 604.9,705.3 605.5,705.8 606.1,705.1 606.7,704.6 607.3,705.6 607.9,706.8 608.5,708.3 609.1,709.9 609.7,710.5 610.3,711.2 610.9,712.4 611.5,713.6 612.1,714.7 612.7,715.8 613.3,717.3 613.9,718.8 614.5,721.0 615.1,723.2 615.7,725.1 616.3,727.0 616.9,728.5 617.5,730.1 618.1,731.0 618.7,732.0 619.3,732.9 619.9,734.0 620.5,736.0 621.1,738.0 621.7,740.3 622.3,742.6 622.9,744.5 623.5,746.5 624.1,748.2 624.7,750.0 625.3,751.5 625.9,753.1 626.5,755.5 627.1,757.9 627.7,759.9 628.3,761.9 628.9,764.1 629.5,766.2 630.1,767.6 630.7,769.0 631.3,771.5 631.9,773.9 632.5,775.4 633.1,776.7 633.7,777.2 634.3,777.5 634.9,778.8 635.5,779.9 636.1,781.6 636.7,783.1 637.3,783.2 637.9,783.2 638.5,784.6 639.1,786.0 639.7,786.0 640.3,785.9 640.9,786.5 641.5,787.1 642.1,787.5 642.7,787.8 643.3,787.5 643.9,787.2 644.5,787.5 645.1,787.8 645.7,787.9 646.3,788.1 646.9,788.7 647.5,789.4 648.1,789.5 648.7,789.7 649.3,789.1 649.9,788.5 650.5,789.5 651.1,790.5 651.7,790.0 652.3,789.5 652.9,789.3 653.5,789.2 654.1,789.4 654.7,789.7 655.3,790.4 655.9,791.1 656.5,790.6 657.1,790.1 657.7,790.2 658.3,790.3 658.9,790.7 659.5,791.1 660.1,791.1 660.7,791.2 661.3,791.0 661.9,790.7 662.5,790.3 663.1,789.9 663.7,790.2 664.3,790.4 664.9,790.8 665.5,791.1 666.1,791.0 666.7,790.9 667.3,790.6 667.9,790.4 668.5,790.1 669.1,789.8 669.7,789.9 670.3,789.9 670.9,790.4 671.5,790.8 672.1,790.6 672.7,790.4 673.3,789.7 673.9,789.1 674.5,789.9 675.1,790.8 675.7,791.0 676.3,791.2 676.9,791.1 677.5,791.0 678.1,791.1 678.7,791.2 679.3,791.3 679.9,791.3 680.5,790.8 681.1,790.4 681.7,790.7 682.3,791.0 682.9,790.5 683.5,790.0 684.1,789.7 684.7,789.3 685.3,789.7 685.9,790.0 686.5,789.9 687.1,789.9 687.7,790.6 688.3,791.4 688.9,791.1 689.5,790.8 690.1,790.6 690.7,790.4 691.3,790.5 691.9,790.6 692.5,790.0 693.1,789.4" stroke="#000" stroke-width="1.0" fill="none" stroke-linejoin="round"/>
<path d="M498.7,790.4 499.3,790.4 499.9,790.4 500.5,790.4 501.1,790.4 501.7,790.4 502.3,790.4 502.9,790.4 503.5,790.4 504.1,790.4 504.7,790.4 505.3,790.4 505.9,790.4 506.5,790.4 507.1,790.4 507.7,790.4 508.3,790.4 508.9,790.4 509.5,790.4 510.1,790.4 510.7,790.4 511.3,790.4 511.9,790.4 512.5,790.4 513.1,790.3 513.7,790.3 514.3,790.3 514.9,790.3 515.5,790.3 516.1,790.3 516.7,790.3 517.3,790.3 517.9,790.3 518.5,790.3 519.1,790.3 519.7,790.3 520.3,790.3 520.9,790.3 521.5,790.3 522.1,790.3 522.7,790.3 523.3,790.3 523.9,790.3 524.5,790.3 525.1,790.3 525.7,790.3 526.3,790.3 526.9,790.3 527.5,790.3 528.1,790.3 528.7,790.3 529.3,790.3 529.9,790.3 530.5,790.3 531.1,790.3 531.7,790.3 532.3,790.3 532.9,790.3 533.5,790.3 534.1,790.3 534.7,790.2 535.3,790.2 535.9,790.2 536.5,790.2 537.1,790.2 537.7,790.2 538.3,790.2 538.9,790.2 539.5,790.2 540.1,790.2 540.7,790.2 541.3,790.2 541.9,790.2 542.5,790.2 543.1,790.2 543.7,790.2 544.3,790.1 544.9,790.1 545.5,790.1 546.1,790.1 546.7,790.1 547.3,790.1 547.9,790.1 548.5,790.1 549.1,790.0 549.7,790.0 550.3,790.0 550.9,790.0 551.5,789.9 552.1,789.9 552.7,789.9 553.3,789.8 553.9,789.8 554.5,789.7 555.1,789.7 555.7,789.6 556.3,789.6 556.9,789.5 557.5,789.4 558.1,789.3 558.7,789.2 559.3,789.1 559.9,789.0 560.5,788.9 561.1,788.7 561.7,788.6 562.3,788.4 562.9,788.2 563.5,788.0 564.1,787.7 564.7,787.5 565.3,787.2 565.9,786.9 566.5,786.5 567.1,786.2 567.7,785.8 568.3,785.3 568.9,784.9 569.5,784.3 570.1,783.8 570.7,783.2 571.3,782.6 571.9,781.9 572.5,781.1 573.1,780.4 573.7,779.5 574.3,778.6 574.9,777.7 575.5,776.7 576.1,775.6 576.7,774.5 577.3,773.3 577.9,772.0 578.5,770.7 579.1,769.3 579.7,767.9 580.3,766.4 580.9,764.8 581.5,763.2 582.1,761.5 582.7,759.7 583.3,757.9 583.9,756.1 584.5,754.2 585.1,752.3 585.7,750.3 586.3,748.3 586.9,746.2 587.5,744.1 588.1,742.0 588.7,739.9 589.3,737.8 589.9,735.7 590.5,733.6 591.1,731.5 591.7,729.4 592.3,727.3 592.9,725.3 593.5,723.4 594.1,721.5 594.7,719.6 595.3,717.8 595.9,716.1 596.5,714.5 597.1,713.0 597.7,711.6 598.3,710.3 598.9,709.1 599.5,708.0 600.1,707.1 600.7,706.2 601.3,705.6 601.9,705.0 602.5,704.6 603.1,704.4 603.7,704.3 604.3,704.3 604.9,704.5 605.5,704.8 606.1,705.2 606.7,705.8 607.3,706.5 607.9,707.3 608.5,708.3 609.1,709.3 609.7,710.4 610.3,711.6 610.9,712.9 611.5,714.2 612.1,715.6 612.7,717.0 613.3,718.4 613.9,719.9 614.5,721.4 615.1,722.9 615.7,724.4 616.3,725.9 616.9,727.4 617.5,728.9 618.1,730.4 618.7,731.9 619.3,733.5 619.9,735.1 620.5,736.7 621.1,738.4 621.7,740.2 622.3,741.9 622.9,743.8 623.5,745.7 624.1,747.6 624.7,749.6 625.3,751.7 625.9,753.7 626.5,755.8 627.1,757.9 627.7,759.9 628.3,762.0 628.9,764.0 629.5,765.9 630.1,767.8 630.7,769.6 631.3,771.3 631.9,772.9 632.5,774.4 633.1,775.8 633.7,777.1 634.3,778.3 634.9,779.4 635.5,780.4 636.1,781.4 636.7,782.2 637.3,783.0 637.9,783.7 638.5,784.3 639.1,784.9 639.7,785.4 640.3,785.9 640.9,786.3 641.5,786.7 642.1,787.0 642.7,787.3 643.3,787.6 643.9,787.9 644.5,788.1 645.1,788.3 645.7,788.5 646.3,788.7 646.9,788.8 647.5,789.0 648.1,789.1 648.7,789.2 649.3,789.3 649.9,789.4 650.5,789.5 651.1,789.5 651.7,789.6 652.3,789.7 652.9,789.7 653.5,789.8 654.1,789.8 654.7,789.9 655.3,789.9 655.9,789.9 656.5,790.0 657.1,790.0 657.7,790.0 658.3,790.0 658.9,790.0 659.5,790.1 660.1,790.1 660.7,790.1 661.3,790.1 661.9,790.1 662.5,790.1 663.1,790.1 663.7,790.2 664.3,790.2 664.9,790.2 665.5,790.2 666.1,790.2 666.7,790.2 667.3,790.2 667.9,790.2 668.5,790.2 669.1,790.2 669.7,790.2 670.3,790.2 670.9,790.2 671.5,790.2 672.1,790.2 672.7,790.2 673.3,790.2 673.9,790.3 674.5,790.3 675.1,790.3 675.7,790.3 676.3,790.3 676.9,790.3 677.5,790.3 678.1,790.3 678.7,790.3 679.3,790.3 679.9,790.3 680.5,790.3 681.1,790.3 681.7,790.3 682.3,790.3 682.9,790.3 683.5,790.3 684.1,790.3 684.7,790.3 685.3,790.3 685.9,790.3 686.5,790.3 687.1,790.3 687.7,790.3 688.3,790.3 688.9,790.3 689.5,790.3 690.1,790.3 690.7,790.3 691.3,790.3 691.9,790.3 692.5,790.3 693.1,790.3" stroke="#f01e1e" stroke-width="1.3" fill="none"/>
<path d="M498.7,790.4 499.3,790.4 499.9,790.4 500.5,790.4 501.1,790.4 501.7,790.4 502.3,790.4 502.9,790.4 503.5,790.4 504.1,790.4 504.7,790.4 505.3,790.4 505.9,790.4 506.5,790.4 507.1,790.4 507.7,790.4 508.3,790.4 508.9,790.4 509.5,790.4 510.1,790.4 510.7,790.4 511.3,790.4 511.9,790.4 512.5,790.4 513.1,790.3 513.7,790.3 514.3,790.3 514.9,790.3 515.5,790.3 516.1,790.3 516.7,790.3 517.3,790.3 517.9,790.3 518.5,790.3 519.1,790.3 519.7,790.3 520.3,790.3 520.9,790.3 521.5,790.3 522.1,790.3 522.7,790.3 523.3,790.3 523.9,790.3 524.5,790.3 525.1,790.3 525.7,790.3 526.3,790.3 526.9,790.3 527.5,790.3 528.1,790.3 528.7,790.3 529.3,790.3 529.9,790.3 530.5,790.3 531.1,790.3 531.7,790.3 532.3,790.3 532.9,790.3 533.5,790.3 534.1,790.3 534.7,790.2 535.3,790.2 535.9,790.2 536.5,790.2 537.1,790.2 537.7,790.2 538.3,790.2 538.9,790.2 539.5,790.2 540.1,790.2 540.7,790.2 541.3,790.2 541.9,790.2 542.5,790.2 543.1,790.2 543.7,790.2 544.3,790.1 544.9,790.1 545.5,790.1 546.1,790.1 546.7,790.1 547.3,790.1 547.9,790.1 548.5,790.1 549.1,790.0 549.7,790.0 550.3,790.0 550.9,790.0 551.5,789.9 552.1,789.9 552.7,789.9 553.3,789.8 553.9,789.8 554.5,789.7 555.1,789.7 555.7,789.6 556.3,789.6 556.9,789.5 557.5,789.4 558.1,789.3 558.7,789.2 559.3,789.1 559.9,789.0 560.5,788.9 561.1,788.7 561.7,788.6 562.3,788.4 562.9,788.2 563.5,788.0 564.1,787.7 564.7,787.5 565.3,787.2 565.9,786.9 566.5,786.5 567.1,786.2 567.7,785.8 568.3,785.3 568.9,784.9 569.5,784.3 570.1,783.8 570.7,783.2 571.3,782.6 571.9,781.9 572.5,781.1 573.1,780.4 573.7,779.5 574.3,778.6 574.9,777.7 575.5,776.7 576.1,775.6 576.7,774.5 577.3,773.3 577.9,772.0 578.5,770.7 579.1,769.3 579.7,767.9 580.3,766.4 580.9,764.8 581.5,763.2 582.1,761.5 582.7,759.7 583.3,757.9 583.9,756.1 584.5,754.2 585.1,752.3 585.7,750.3 586.3,748.3 586.9,746.2 587.5,744.1 588.1,742.0 588.7,739.9 589.3,737.8 589.9,735.7 590.5,733.6 591.1,731.5 591.7,729.4 592.3,727.3 592.9,725.3 593.5,723.4 594.1,721.5 594.7,719.6 595.3,717.8 595.9,716.1 596.5,714.5 597.1,713.0 597.7,711.6 598.3,710.3 598.9,709.1 599.5,708.0 600.1,707.1 600.7,706.2 601.3,705.6 601.9,705.0 602.5,704.6 603.1,704.4 603.7,704.3 604.3,704.4 604.9,704.5 605.5,704.9 606.1,705.4 606.7,706.0 607.3,706.8 607.9,707.7 608.5,708.7 609.1,709.9 609.7,711.1 610.3,712.5 610.9,714.0 611.5,715.6 612.1,717.3 612.7,719.0 613.3,720.8 613.9,722.7 614.5,724.7 615.1,726.7 615.7,728.7 616.3,730.8 616.9,732.9 617.5,735.0 618.1,737.1 618.7,739.2 619.3,741.3 619.9,743.4 620.5,745.5 621.1,747.6 621.7,749.6 622.3,751.6 622.9,753.6 623.5,755.5 624.1,757.3 624.7,759.2 625.3,760.9 625.9,762.6 626.5,764.3 627.1,765.9 627.7,767.4 628.3,768.8 628.9,770.2 629.5,771.6 630.1,772.9 630.7,774.1 631.3,775.2 631.9,776.3 632.5,777.3 633.1,778.3 633.7,779.2 634.3,780.1 634.9,780.9 635.5,781.6 636.1,782.3 636.7,783.0 637.3,783.6 637.9,784.2 638.5,784.7 639.1,785.2 639.7,785.6 640.3,786.0 640.9,786.4 641.5,786.8 642.1,787.1 642.7,787.4 643.3,787.6 643.9,787.9 644.5,788.1 645.1,788.3 645.7,788.5 646.3,788.7 646.9,788.8 647.5,789.0 648.1,789.1 648.7,789.2 649.3,789.3 649.9,789.4 650.5,789.5 651.1,789.5 651.7,789.6 652.3,789.7 652.9,789.7 653.5,789.8 654.1,789.8 654.7,789.9 655.3,789.9 655.9,789.9 656.5,790.0 657.1,790.0 657.7,790.0 658.3,790.0 658.9,790.0 659.5,790.1 660.1,790.1 660.7,790.1 661.3,790.1 661.9,790.1 662.5,790.1 663.1,790.1 663.7,790.2 664.3,790.2 664.9,790.2 665.5,790.2 666.1,790.2 666.7,790.2 667.3,790.2 667.9,790.2 668.5,790.2 669.1,790.2 669.7,790.2 670.3,790.2 670.9,790.2 671.5,790.2 672.1,790.2 672.7,790.2 673.3,790.2 673.9,790.3 674.5,790.3 675.1,790.3 675.7,790.3 676.3,790.3 676.9,790.3 677.5,790.3 678.1,790.3 678.7,790.3 679.3,790.3 679.9,790.3 680.5,790.3 681.1,790.3 681.7,790.3 682.3,790.3 682.9,790.3 683.5,790.3 684.1,790.3 684.7,790.3 685.3,790.3 685.9,790.3 686.5,790.3 687.1,790.3 687.7,790.3 688.3,790.3 688.9,790.3 689.5,790.3 690.1,790.3 690.7,790.3 691.3,790.3 691.9,790.3 692.5,790.3 693.1,790.3" stroke="#1e961e" stroke-width="1.1" fill="none"/>
<path d="M498.7,790.5 499.3,790.5 499.9,790.5 500.5,790.5 501.1,790.5 501.7,790.5 502.3,790.5 502.9,790.5 503.5,790.5 504.1,790.5 504.7,790.5 505.3,790.5 505.9,790.5 506.5,790.5 507.1,790.5 507.7,790.5 508.3,790.5 508.9,790.5 509.5,790.5 510.1,790.5 510.7,790.5 511.3,790.5 511.9,790.5 512.5,790.5 513.1,790.5 513.7,790.5 514.3,790.5 514.9,790.5 515.5,790.5 516.1,790.5 516.7,790.5 517.3,790.5 517.9,790.5 518.5,790.5 519.1,790.5 519.7,790.5 520.3,790.5 520.9,790.5 521.5,790.5 522.1,790.5 522.7,790.5 523.3,790.5 523.9,790.5 524.5,790.5 525.1,790.5 525.7,790.5 526.3,790.5 526.9,790.5 527.5,790.5 528.1,790.5 528.7,790.5 529.3,790.5 529.9,790.5 530.5,790.5 531.1,790.5 531.7,790.5 532.3,790.5 532.9,790.5 533.5,790.5 534.1,790.5 534.7,790.5 535.3,790.5 535.9,790.5 536.5,790.5 537.1,790.5 537.7,790.5 538.3,790.5 538.9,790.5 539.5,790.5 540.1,790.5 540.7,790.5 541.3,790.5 541.9,790.5 542.5,790.5 543.1,790.5 543.7,790.5 544.3,790.5 544.9,790.5 545.5,790.5 546.1,790.5 546.7,790.5 547.3,790.5 547.9,790.5 548.5,790.5 549.1,790.5 549.7,790.5 550.3,790.5 550.9,790.5 551.5,790.5 552.1,790.5 552.7,790.5 553.3,790.5 553.9,790.5 554.5,790.5 555.1,790.5 555.7,790.5 556.3,790.5 556.9,790.5 557.5,790.5 558.1,790.5 558.7,790.5 559.3,790.5 559.9,790.5 560.5,790.5 561.1,790.5 561.7,790.5 562.3,790.5 562.9,790.5 563.5,790.5 564.1,790.5 564.7,790.5 565.3,790.5 565.9,790.5 566.5,790.5 567.1,790.5 567.7,790.5 568.3,790.5 568.9,790.5 569.5,790.5 570.1,790.5 570.7,790.5 571.3,790.5 571.9,790.5 572.5,790.5 573.1,790.5 573.7,790.5 574.3,790.5 574.9,790.5 575.5,790.5 576.1,790.5 576.7,790.5 577.3,790.5 577.9,790.5 578.5,790.5 579.1,790.5 579.7,790.5 580.3,790.5 580.9,790.5 581.5,790.5 582.1,790.5 582.7,790.5 583.3,790.5 583.9,790.5 584.5,790.5 585.1,790.5 585.7,790.5 586.3,790.5 586.9,790.5 587.5,790.5 588.1,790.5 588.7,790.5 589.3,790.5 589.9,790.5 590.5,790.5 591.1,790.5 591.7,790.5 592.3,790.5 592.9,790.5 593.5,790.5 594.1,790.5 594.7,790.5 595.3,790.5 595.9,790.5 596.5,790.5 597.1,790.5 597.7,790.5 598.3,790.5 598.9,790.5 599.5,790.5 600.1,790.5 600.7,790.5 601.3,790.5 601.9,790.5 602.5,790.5 603.1,790.5 603.7,790.5 604.3,790.4 604.9,790.4 605.5,790.4 606.1,790.4 606.7,790.3 607.3,790.2 607.9,790.2 608.5,790.1 609.1,789.9 609.7,789.8 610.3,789.6 610.9,789.4 611.5,789.1 612.1,788.8 612.7,788.5 613.3,788.1 613.9,787.7 614.5,787.2 615.1,786.7 615.7,786.2 616.3,785.6 616.9,785.0 617.5,784.4 618.1,783.8 618.7,783.2 619.3,782.7 619.9,782.2 620.5,781.7 621.1,781.3 621.7,781.0 622.3,780.8 622.9,780.7 623.5,780.7 624.1,780.8 624.7,781.0 625.3,781.2 625.9,781.6 626.5,782.0 627.1,782.5 627.7,783.0 628.3,783.6 628.9,784.2 629.5,784.8 630.1,785.4 630.7,786.0 631.3,786.5 631.9,787.1 632.5,787.5 633.1,788.0 633.7,788.4 634.3,788.7 634.9,789.0 635.5,789.3 636.1,789.5 636.7,789.7 637.3,789.9 637.9,790.0 638.5,790.1 639.1,790.2 639.7,790.3 640.3,790.3 640.9,790.4 641.5,790.4 642.1,790.4 642.7,790.5 643.3,790.5 643.9,790.5 644.5,790.5 645.1,790.5 645.7,790.5 646.3,790.5 646.9,790.5 647.5,790.5 648.1,790.5 648.7,790.5 649.3,790.5 649.9,790.5 650.5,790.5 651.1,790.5 651.7,790.5 652.3,790.5 652.9,790.5 653.5,790.5 654.1,790.5 654.7,790.5 655.3,790.5 655.9,790.5 656.5,790.5 657.1,790.5 657.7,790.5 658.3,790.5 658.9,790.5 659.5,790.5 660.1,790.5 660.7,790.5 661.3,790.5 661.9,790.5 662.5,790.5 663.1,790.5 663.7,790.5 664.3,790.5 664.9,790.5 665.5,790.5 666.1,790.5 666.7,790.5 667.3,790.5 667.9,790.5 668.5,790.5 669.1,790.5 669.7,790.5 670.3,790.5 670.9,790.5 671.5,790.5 672.1,790.5 672.7,790.5 673.3,790.5 673.9,790.5 674.5,790.5 675.1,790.5 675.7,790.5 676.3,790.5 676.9,790.5 677.5,790.5 678.1,790.5 678.7,790.5 679.3,790.5 679.9,790.5 680.5,790.5 681.1,790.5 681.7,790.5 682.3,790.5 682.9,790.5 683.5,790.5 684.1,790.5 684.7,790.5 685.3,790.5 685.9,790.5 686.5,790.5 687.1,790.5 687.7,790.5 688.3,790.5 688.9,790.5 689.5,790.5 690.1,790.5 690.7,790.5 691.3,790.5 691.9,790.5 692.5,790.5 693.1,790.5" stroke="#9632f0" stroke-width="1.1" fill="none"/>
<line x1="603.30" y1="697.80" x2="603.30" y2="723.20" stroke="#1e961e" stroke-width="1.2" stroke-dasharray="3.2 2.2"/>
<line x1="623.30" y1="741.80" x2="623.30" y2="785.90" stroke="#9632f0" stroke-width="1.2" stroke-dasharray="3.2 2.2"/>
<text x="609.50" y="706.10" font-size="11" text-anchor="start" fill="#1e961e" transform="matrix(1.0,0,0,0.95,0.000,35.305)">Si-N</text>
<text x="623.30" y="738.70" font-size="11" text-anchor="start" fill="#9632f0" transform="matrix(1.0,0,0,0.95,0.000,36.935)">Mg-N</text>
<line x1="719.30" y1="487.00" x2="719.30" y2="800.20" stroke="#000" stroke-width="3.0" />
<path d="M719.3,478.5 L724.4,488.8 L714.2,488.8 Z" fill="#000"/>
<line x1="787.80" y1="471.90" x2="787.80" y2="806.10" stroke="#000" stroke-width="3.4" />
<text x="750.00" y="525.90" font-size="14.6" text-anchor="middle" fill="#000" font-weight="bold" transform="rotate(-90 750.00 525.90)">Discharged</text>
<text x="774.30" y="528.50" font-size="14.6" text-anchor="middle" fill="#000" font-weight="bold" transform="rotate(-90 774.30 528.50)">0.01 V</text>
<text x="750.00" y="642.30" font-size="14.6" text-anchor="middle" fill="#000" font-weight="bold" transform="rotate(-90 750.00 642.30)">Discharged</text>
<text x="774.30" y="645.80" font-size="14.6" text-anchor="middle" fill="#000" font-weight="bold" transform="rotate(-90 774.30 645.80)">0.30 V</text>
<text x="750.00" y="765.80" font-size="14.6" text-anchor="middle" fill="#000" font-weight="bold" transform="rotate(-90 750.00 765.80)">Pristine</text>
</svg>
</body></html>
